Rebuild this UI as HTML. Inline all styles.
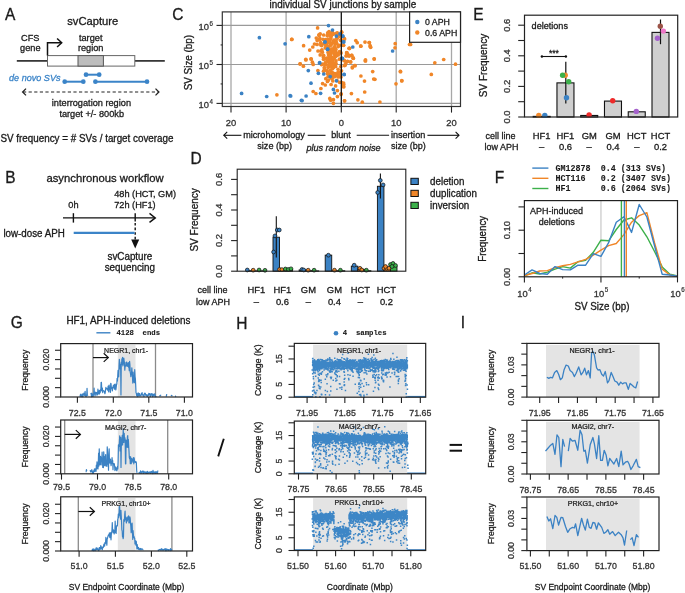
<!DOCTYPE html>
<html><head><meta charset="utf-8"><style>
html,body{margin:0;padding:0;background:#fff;}
svg{display:block;will-change:transform;}
text{font-family:"Liberation Sans", sans-serif;}
</style></head><body>
<svg width="685" height="593" viewBox="0 0 685 593">
<rect width="685" height="593" fill="#fff"/>
<text font-size="15.5" text-anchor="start" fill="#1a1a1a" stroke="#1a1a1a" stroke-width="0.3" transform="translate(5.00 20.30) scale(1 1.04)">A</text>
<text font-size="11.2" text-anchor="start" fill="#1a1a1a" stroke="#1a1a1a" stroke-width="0.3" transform="translate(67.20 25.00) scale(1 1.04)">svCapture</text>
<text font-size="9.2" text-anchor="middle" fill="#1a1a1a" stroke="#1a1a1a" stroke-width="0.291" transform="translate(30.30 40.60) scale(1 1.04)">CFS</text>
<text font-size="9.2" text-anchor="middle" fill="#1a1a1a" stroke="#1a1a1a" stroke-width="0.291" transform="translate(30.30 50.60) scale(1 1.04)">gene</text>
<text font-size="9.2" text-anchor="middle" fill="#1a1a1a" stroke="#1a1a1a" stroke-width="0.291" transform="translate(90.70 40.60) scale(1 1.04)">target</text>
<text font-size="9.2" text-anchor="middle" fill="#1a1a1a" stroke="#1a1a1a" stroke-width="0.291" transform="translate(90.70 50.60) scale(1 1.04)">region</text>
<line x1="16.8" y1="60.9" x2="47.5" y2="60.9" stroke="#222" stroke-width="1.6"/>
<line x1="134.8" y1="60.9" x2="164.8" y2="60.9" stroke="#222" stroke-width="1.6"/>
<rect x="47.5" y="55.6" width="87.3" height="10.5" fill="#fff" stroke="#666" stroke-width="1"/>
<rect x="78" y="55.6" width="25.4" height="10.5" fill="#bdbdbd" stroke="#555" stroke-width="1"/>
<path d="M47.5 55.6 V42.7 H61.4" fill="none" stroke="#111" stroke-width="1.5"/>
<path d="M57.1 38.5 L61.7 42.7 L57.1 47" fill="none" stroke="#111" stroke-width="1.5"/>
<text font-size="9.1" text-anchor="start" fill="#3b84c8" stroke="#3b84c8" stroke-width="0.287" font-style="italic" transform="translate(9.00 80.60) scale(1 1.04)">de novo SVs</text>
<line x1="86" y1="74.7" x2="99.2" y2="74.7" stroke="#3b84c8" stroke-width="2.0"/>
<circle cx="86" cy="74.7" r="2.35" fill="#3b84c8"/><circle cx="99.2" cy="74.7" r="2.35" fill="#3b84c8"/>
<line x1="64.7" y1="81.7" x2="83.3" y2="81.7" stroke="#3b84c8" stroke-width="2.0"/>
<circle cx="64.7" cy="81.7" r="2.35" fill="#3b84c8"/><circle cx="83.3" cy="81.7" r="2.35" fill="#3b84c8"/>
<line x1="95.4" y1="81.7" x2="147" y2="81.7" stroke="#3b84c8" stroke-width="2.0"/>
<circle cx="95.4" cy="81.7" r="2.35" fill="#3b84c8"/><circle cx="147" cy="81.7" r="2.35" fill="#3b84c8"/>
<line x1="23" y1="92" x2="158.5" y2="92" stroke="#222" stroke-width="1.2" stroke-dasharray="3.2,2.4"/>
<path d="M26 88.6 L22.6 92 L26 95.4" fill="none" stroke="#222" stroke-width="1.3"/>
<path d="M155.5 88.6 L158.9 92 L155.5 95.4" fill="none" stroke="#222" stroke-width="1.3"/>
<text font-size="9.2" text-anchor="middle" fill="#1a1a1a" stroke="#1a1a1a" stroke-width="0.291" transform="translate(91.40 106.00) scale(1 1.04)">interrogation region</text>
<text font-size="9.2" text-anchor="middle" fill="#1a1a1a" stroke="#1a1a1a" stroke-width="0.291" transform="translate(91.70 116.60) scale(1 1.04)">target +/- 800kb</text>
<text font-size="9.85" text-anchor="start" fill="#1a1a1a" stroke="#1a1a1a" stroke-width="0.3" transform="translate(0.50 141.60) scale(1 1.04)">SV frequency = # SVs / target coverage</text>
<text font-size="15.5" text-anchor="start" fill="#1a1a1a" stroke="#1a1a1a" stroke-width="0.3" transform="translate(5.30 183.20) scale(1 1.04)">B</text>
<text font-size="11.3" text-anchor="start" fill="#1a1a1a" stroke="#1a1a1a" stroke-width="0.3" transform="translate(46.40 182.40) scale(1 1.04)">asynchronous workflow</text>
<text font-size="9.2" text-anchor="middle" fill="#1a1a1a" stroke="#1a1a1a" stroke-width="0.291" transform="translate(73.40 207.70) scale(1 1.04)">0h</text>
<text font-size="9.2" text-anchor="start" fill="#1a1a1a" stroke="#1a1a1a" stroke-width="0.291" transform="translate(114.20 196.60) scale(1 1.04)">48h (HCT, GM)</text>
<text font-size="9.2" text-anchor="start" fill="#1a1a1a" stroke="#1a1a1a" stroke-width="0.291" transform="translate(114.20 208.20) scale(1 1.04)">72h (HF1)</text>
<line x1="63" y1="217.9" x2="155" y2="217.9" stroke="#111" stroke-width="1.4"/>
<path d="M149.5 213.4 L155.3 217.9 L149.5 222.4" fill="none" stroke="#111" stroke-width="1.4"/>
<line x1="73.4" y1="213.2" x2="73.4" y2="222.6" stroke="#111" stroke-width="1.4"/>
<line x1="135.2" y1="213.2" x2="135.2" y2="221.5" stroke="#111" stroke-width="1.4"/>
<line x1="135.2" y1="223" x2="135.2" y2="241" stroke="#111" stroke-width="1.4" stroke-dasharray="2.6,2"/>
<path d="M131.2 239.6 L139.2 239.6 L135.2 248.4 Z" fill="#111"/>
<line x1="73.7" y1="232.9" x2="134.6" y2="232.9" stroke="#3b84c8" stroke-width="2.2"/>
<text font-size="9.8" text-anchor="start" fill="#1a1a1a" stroke="#1a1a1a" stroke-width="0.3" transform="translate(3.40 236.50) scale(1 1.04)">low-dose APH</text>
<text font-size="9.85" text-anchor="middle" fill="#1a1a1a" stroke="#1a1a1a" stroke-width="0.3" transform="translate(129.90 259.50) scale(1 1.04)">svCapture</text>
<text font-size="9.85" text-anchor="middle" fill="#1a1a1a" stroke="#1a1a1a" stroke-width="0.3" transform="translate(129.80 270.90) scale(1 1.04)">sequencing</text>
<text font-size="15.5" text-anchor="start" fill="#1a1a1a" stroke="#1a1a1a" stroke-width="0.3" transform="translate(172.30 19.70) scale(1 1.04)">C</text>
<text font-size="9.9" text-anchor="start" fill="#1a1a1a" stroke="#1a1a1a" stroke-width="0.3" transform="translate(269.60 7.90) scale(1 1.04)">individual SV junctions by sample</text>
<line x1="231.00" y1="11.90" x2="231.00" y2="106.50" stroke="#a8a8a8" stroke-width="1.3"/>
<line x1="286.10" y1="11.90" x2="286.10" y2="106.50" stroke="#a8a8a8" stroke-width="1.3"/>
<line x1="396.20" y1="11.90" x2="396.20" y2="106.50" stroke="#a8a8a8" stroke-width="1.3"/>
<line x1="451.50" y1="11.90" x2="451.50" y2="106.50" stroke="#a8a8a8" stroke-width="1.3"/>
<line x1="222.30" y1="25.40" x2="460.50" y2="25.40" stroke="#9a9a9a" stroke-width="1.1"/>
<line x1="222.30" y1="64.50" x2="460.50" y2="64.50" stroke="#9a9a9a" stroke-width="1.1"/>
<line x1="222.30" y1="103.40" x2="460.50" y2="103.40" stroke="#9a9a9a" stroke-width="1.1"/>
<circle cx="291.70" cy="39.40" r="1.85" fill="#f08628" stroke="none" stroke-width="0.8"/>
<circle cx="276.90" cy="94.80" r="1.85" fill="#f08628" stroke="none" stroke-width="0.8"/>
<circle cx="300.00" cy="63.80" r="1.85" fill="#f08628" stroke="none" stroke-width="0.8"/>
<circle cx="317.60" cy="27.90" r="1.85" fill="#f08628" stroke="none" stroke-width="0.8"/>
<circle cx="337.30" cy="32.80" r="1.85" fill="#f08628" stroke="none" stroke-width="0.8"/>
<circle cx="341.70" cy="32.30" r="1.85" fill="#f08628" stroke="none" stroke-width="0.8"/>
<circle cx="291.90" cy="39.30" r="1.85" fill="#f08628" stroke="none" stroke-width="0.8"/>
<circle cx="320.20" cy="33.90" r="1.85" fill="#f08628" stroke="none" stroke-width="0.8"/>
<circle cx="323.70" cy="35.00" r="1.85" fill="#f08628" stroke="none" stroke-width="0.8"/>
<circle cx="316.30" cy="38.10" r="1.85" fill="#f08628" stroke="none" stroke-width="0.8"/>
<circle cx="319.80" cy="38.30" r="1.85" fill="#f08628" stroke="none" stroke-width="0.8"/>
<circle cx="317.20" cy="40.50" r="1.85" fill="#f08628" stroke="none" stroke-width="0.8"/>
<circle cx="320.70" cy="42.70" r="1.85" fill="#f08628" stroke="none" stroke-width="0.8"/>
<circle cx="303.60" cy="45.70" r="1.85" fill="#f08628" stroke="none" stroke-width="0.8"/>
<circle cx="314.50" cy="44.00" r="1.85" fill="#f08628" stroke="none" stroke-width="0.8"/>
<circle cx="312.80" cy="47.00" r="1.85" fill="#f08628" stroke="none" stroke-width="0.8"/>
<circle cx="309.70" cy="50.10" r="1.85" fill="#f08628" stroke="none" stroke-width="0.8"/>
<circle cx="318.00" cy="51.00" r="1.85" fill="#f08628" stroke="none" stroke-width="0.8"/>
<circle cx="320.20" cy="54.90" r="1.85" fill="#f08628" stroke="none" stroke-width="0.8"/>
<circle cx="323.30" cy="57.10" r="1.85" fill="#f08628" stroke="none" stroke-width="0.8"/>
<circle cx="305.80" cy="59.30" r="1.85" fill="#f08628" stroke="none" stroke-width="0.8"/>
<circle cx="311.00" cy="58.90" r="1.85" fill="#f08628" stroke="none" stroke-width="0.8"/>
<circle cx="344.30" cy="38.70" r="1.85" fill="#f08628" stroke="none" stroke-width="0.8"/>
<circle cx="343.30" cy="45.30" r="1.85" fill="#f08628" stroke="none" stroke-width="0.8"/>
<circle cx="329.00" cy="31.70" r="1.85" fill="#f08628" stroke="none" stroke-width="0.8"/>
<circle cx="330.70" cy="33.50" r="1.85" fill="#f08628" stroke="none" stroke-width="0.8"/>
<circle cx="349.10" cy="48.30" r="1.85" fill="#f08628" stroke="none" stroke-width="0.8"/>
<circle cx="346.90" cy="52.70" r="1.85" fill="#f08628" stroke="none" stroke-width="0.8"/>
<circle cx="348.20" cy="54.90" r="1.85" fill="#f08628" stroke="none" stroke-width="0.8"/>
<circle cx="305.90" cy="59.90" r="1.85" fill="#f08628" stroke="none" stroke-width="0.8"/>
<circle cx="311.30" cy="59.00" r="1.85" fill="#f08628" stroke="none" stroke-width="0.8"/>
<circle cx="300.30" cy="63.90" r="1.85" fill="#f08628" stroke="none" stroke-width="0.8"/>
<circle cx="303.40" cy="66.20" r="1.85" fill="#f08628" stroke="none" stroke-width="0.8"/>
<circle cx="312.40" cy="62.20" r="1.85" fill="#f08628" stroke="none" stroke-width="0.8"/>
<circle cx="313.20" cy="64.40" r="1.85" fill="#f08628" stroke="none" stroke-width="0.8"/>
<circle cx="317.90" cy="70.60" r="1.85" fill="#f08628" stroke="none" stroke-width="0.8"/>
<circle cx="325.80" cy="78.70" r="1.85" fill="#f08628" stroke="none" stroke-width="0.8"/>
<circle cx="328.50" cy="80.00" r="1.85" fill="#f08628" stroke="none" stroke-width="0.8"/>
<circle cx="322.60" cy="83.60" r="1.85" fill="#f08628" stroke="none" stroke-width="0.8"/>
<circle cx="325.30" cy="85.00" r="1.85" fill="#f08628" stroke="none" stroke-width="0.8"/>
<circle cx="331.10" cy="84.50" r="1.85" fill="#f08628" stroke="none" stroke-width="0.8"/>
<circle cx="335.60" cy="85.90" r="1.85" fill="#f08628" stroke="none" stroke-width="0.8"/>
<circle cx="320.90" cy="88.50" r="1.85" fill="#f08628" stroke="none" stroke-width="0.8"/>
<circle cx="337.40" cy="90.60" r="1.85" fill="#f08628" stroke="none" stroke-width="0.8"/>
<circle cx="341.00" cy="94.30" r="1.85" fill="#f08628" stroke="none" stroke-width="0.8"/>
<circle cx="313.20" cy="91.50" r="1.85" fill="#f08628" stroke="none" stroke-width="0.8"/>
<circle cx="315.90" cy="93.50" r="1.85" fill="#f08628" stroke="none" stroke-width="0.8"/>
<circle cx="337.40" cy="96.60" r="1.85" fill="#f08628" stroke="none" stroke-width="0.8"/>
<circle cx="329.80" cy="98.40" r="1.85" fill="#f08628" stroke="none" stroke-width="0.8"/>
<circle cx="330.70" cy="100.20" r="1.85" fill="#f08628" stroke="none" stroke-width="0.8"/>
<circle cx="333.40" cy="99.70" r="1.85" fill="#f08628" stroke="none" stroke-width="0.8"/>
<circle cx="333.40" cy="103.30" r="1.85" fill="#f08628" stroke="none" stroke-width="0.8"/>
<circle cx="344.50" cy="100.80" r="1.85" fill="#f08628" stroke="none" stroke-width="0.8"/>
<circle cx="339.60" cy="82.30" r="1.85" fill="#f08628" stroke="none" stroke-width="0.8"/>
<circle cx="343.70" cy="84.50" r="1.85" fill="#f08628" stroke="none" stroke-width="0.8"/>
<circle cx="343.70" cy="86.70" r="1.85" fill="#f08628" stroke="none" stroke-width="0.8"/>
<circle cx="341.40" cy="82.30" r="1.85" fill="#f08628" stroke="none" stroke-width="0.8"/>
<circle cx="341.50" cy="31.90" r="1.85" fill="#f08628" stroke="none" stroke-width="0.8"/>
<circle cx="344.60" cy="39.10" r="1.85" fill="#f08628" stroke="none" stroke-width="0.8"/>
<circle cx="343.60" cy="45.20" r="1.85" fill="#f08628" stroke="none" stroke-width="0.8"/>
<circle cx="349.40" cy="48.30" r="1.85" fill="#f08628" stroke="none" stroke-width="0.8"/>
<circle cx="355.80" cy="40.60" r="1.85" fill="#f08628" stroke="none" stroke-width="0.8"/>
<circle cx="357.20" cy="42.70" r="1.85" fill="#f08628" stroke="none" stroke-width="0.8"/>
<circle cx="360.90" cy="46.20" r="1.85" fill="#f08628" stroke="none" stroke-width="0.8"/>
<circle cx="365.00" cy="42.10" r="1.85" fill="#f08628" stroke="none" stroke-width="0.8"/>
<circle cx="369.40" cy="42.50" r="1.85" fill="#f08628" stroke="none" stroke-width="0.8"/>
<circle cx="370.10" cy="45.70" r="1.85" fill="#f08628" stroke="none" stroke-width="0.8"/>
<circle cx="370.70" cy="47.30" r="1.85" fill="#f08628" stroke="none" stroke-width="0.8"/>
<circle cx="395.20" cy="43.70" r="1.85" fill="#f08628" stroke="none" stroke-width="0.8"/>
<circle cx="395.00" cy="47.80" r="1.85" fill="#f08628" stroke="none" stroke-width="0.8"/>
<circle cx="409.50" cy="44.50" r="1.85" fill="#f08628" stroke="none" stroke-width="0.8"/>
<circle cx="341.00" cy="52.90" r="1.85" fill="#f08628" stroke="none" stroke-width="0.8"/>
<circle cx="346.60" cy="52.90" r="1.85" fill="#f08628" stroke="none" stroke-width="0.8"/>
<circle cx="347.20" cy="55.40" r="1.85" fill="#f08628" stroke="none" stroke-width="0.8"/>
<circle cx="349.20" cy="56.10" r="1.85" fill="#f08628" stroke="none" stroke-width="0.8"/>
<circle cx="351.80" cy="55.40" r="1.85" fill="#f08628" stroke="none" stroke-width="0.8"/>
<circle cx="353.30" cy="58.00" r="1.85" fill="#f08628" stroke="none" stroke-width="0.8"/>
<circle cx="365.50" cy="59.80" r="1.85" fill="#f08628" stroke="none" stroke-width="0.8"/>
<circle cx="374.20" cy="58.80" r="1.85" fill="#f08628" stroke="none" stroke-width="0.8"/>
<circle cx="353.30" cy="58.30" r="1.85" fill="#f08628" stroke="none" stroke-width="0.8"/>
<circle cx="365.50" cy="60.90" r="1.85" fill="#f08628" stroke="none" stroke-width="0.8"/>
<circle cx="374.20" cy="59.10" r="1.85" fill="#f08628" stroke="none" stroke-width="0.8"/>
<circle cx="344.10" cy="60.60" r="1.85" fill="#f08628" stroke="none" stroke-width="0.8"/>
<circle cx="347.20" cy="61.60" r="1.85" fill="#f08628" stroke="none" stroke-width="0.8"/>
<circle cx="350.70" cy="61.90" r="1.85" fill="#f08628" stroke="none" stroke-width="0.8"/>
<circle cx="345.10" cy="65.20" r="1.85" fill="#f08628" stroke="none" stroke-width="0.8"/>
<circle cx="352.30" cy="67.80" r="1.85" fill="#f08628" stroke="none" stroke-width="0.8"/>
<circle cx="355.10" cy="65.70" r="1.85" fill="#f08628" stroke="none" stroke-width="0.8"/>
<circle cx="341.50" cy="70.80" r="1.85" fill="#f08628" stroke="none" stroke-width="0.8"/>
<circle cx="341.00" cy="77.00" r="1.85" fill="#f08628" stroke="none" stroke-width="0.8"/>
<circle cx="360.90" cy="76.00" r="1.85" fill="#f08628" stroke="none" stroke-width="0.8"/>
<circle cx="372.70" cy="71.60" r="1.85" fill="#f08628" stroke="none" stroke-width="0.8"/>
<circle cx="373.70" cy="79.00" r="1.85" fill="#f08628" stroke="none" stroke-width="0.8"/>
<circle cx="374.90" cy="79.30" r="1.85" fill="#f08628" stroke="none" stroke-width="0.8"/>
<circle cx="364.50" cy="81.10" r="1.85" fill="#f08628" stroke="none" stroke-width="0.8"/>
<circle cx="400.30" cy="71.40" r="1.85" fill="#f08628" stroke="none" stroke-width="0.8"/>
<circle cx="401.80" cy="80.80" r="1.85" fill="#f08628" stroke="none" stroke-width="0.8"/>
<circle cx="396.00" cy="83.80" r="1.85" fill="#f08628" stroke="none" stroke-width="0.8"/>
<circle cx="343.60" cy="83.10" r="1.85" fill="#f08628" stroke="none" stroke-width="0.8"/>
<circle cx="343.60" cy="86.70" r="1.85" fill="#f08628" stroke="none" stroke-width="0.8"/>
<circle cx="341.20" cy="93.80" r="1.85" fill="#f08628" stroke="none" stroke-width="0.8"/>
<circle cx="351.40" cy="93.60" r="1.85" fill="#f08628" stroke="none" stroke-width="0.8"/>
<circle cx="364.70" cy="92.00" r="1.85" fill="#f08628" stroke="none" stroke-width="0.8"/>
<circle cx="344.60" cy="100.80" r="1.85" fill="#f08628" stroke="none" stroke-width="0.8"/>
<circle cx="357.90" cy="99.80" r="1.85" fill="#f08628" stroke="none" stroke-width="0.8"/>
<circle cx="362.30" cy="102.20" r="1.85" fill="#f08628" stroke="none" stroke-width="0.8"/>
<circle cx="379.90" cy="102.00" r="1.85" fill="#f08628" stroke="none" stroke-width="0.8"/>
<circle cx="410.60" cy="44.50" r="1.85" fill="#f08628" stroke="none" stroke-width="0.8"/>
<circle cx="434.80" cy="62.80" r="1.85" fill="#f08628" stroke="none" stroke-width="0.8"/>
<circle cx="443.70" cy="59.50" r="1.85" fill="#f08628" stroke="none" stroke-width="0.8"/>
<circle cx="455.50" cy="64.20" r="1.85" fill="#f08628" stroke="none" stroke-width="0.8"/>
<circle cx="431.30" cy="74.40" r="1.85" fill="#f08628" stroke="none" stroke-width="0.8"/>
<circle cx="400.60" cy="71.70" r="1.85" fill="#f08628" stroke="none" stroke-width="0.8"/>
<circle cx="401.80" cy="80.70" r="1.85" fill="#f08628" stroke="none" stroke-width="0.8"/>
<circle cx="360.60" cy="46.10" r="1.85" fill="#f08628" stroke="none" stroke-width="0.8"/>
<circle cx="369.10" cy="42.60" r="1.85" fill="#f08628" stroke="none" stroke-width="0.8"/>
<circle cx="370.30" cy="46.60" r="1.85" fill="#f08628" stroke="none" stroke-width="0.8"/>
<circle cx="349.50" cy="48.40" r="1.85" fill="#f08628" stroke="none" stroke-width="0.8"/>
<circle cx="339.50" cy="51.60" r="1.85" fill="#f08628" stroke="none" stroke-width="0.8"/>
<circle cx="346.70" cy="53.10" r="1.85" fill="#f08628" stroke="none" stroke-width="0.8"/>
<circle cx="347.10" cy="55.40" r="1.85" fill="#f08628" stroke="none" stroke-width="0.8"/>
<circle cx="351.70" cy="55.40" r="1.85" fill="#f08628" stroke="none" stroke-width="0.8"/>
<circle cx="353.20" cy="58.00" r="1.85" fill="#f08628" stroke="none" stroke-width="0.8"/>
<circle cx="344.10" cy="60.30" r="1.85" fill="#f08628" stroke="none" stroke-width="0.8"/>
<circle cx="347.50" cy="61.30" r="1.85" fill="#f08628" stroke="none" stroke-width="0.8"/>
<circle cx="350.50" cy="61.80" r="1.85" fill="#f08628" stroke="none" stroke-width="0.8"/>
<circle cx="345.60" cy="63.70" r="1.85" fill="#f08628" stroke="none" stroke-width="0.8"/>
<circle cx="344.50" cy="65.60" r="1.85" fill="#f08628" stroke="none" stroke-width="0.8"/>
<circle cx="352.40" cy="67.10" r="1.85" fill="#f08628" stroke="none" stroke-width="0.8"/>
<circle cx="354.70" cy="65.60" r="1.85" fill="#f08628" stroke="none" stroke-width="0.8"/>
<circle cx="365.30" cy="60.70" r="1.85" fill="#f08628" stroke="none" stroke-width="0.8"/>
<circle cx="346.00" cy="56.00" r="1.85" fill="#f08628" stroke="none" stroke-width="0.8"/>
<circle cx="349.00" cy="55.50" r="1.85" fill="#f08628" stroke="none" stroke-width="0.8"/>
<circle cx="326.66" cy="45.41" r="1.85" fill="#f08628" stroke="none" stroke-width="0.8"/>
<circle cx="330.75" cy="57.37" r="1.85" fill="#f08628" stroke="none" stroke-width="0.8"/>
<circle cx="324.32" cy="67.56" r="1.85" fill="#f08628" stroke="none" stroke-width="0.8"/>
<circle cx="324.35" cy="70.53" r="1.85" fill="#f08628" stroke="none" stroke-width="0.8"/>
<circle cx="328.84" cy="60.50" r="1.85" fill="#f08628" stroke="none" stroke-width="0.8"/>
<circle cx="328.79" cy="74.70" r="1.85" fill="#f08628" stroke="none" stroke-width="0.8"/>
<circle cx="328.22" cy="67.35" r="1.85" fill="#f08628" stroke="none" stroke-width="0.8"/>
<circle cx="332.82" cy="73.01" r="1.85" fill="#f08628" stroke="none" stroke-width="0.8"/>
<circle cx="334.46" cy="48.97" r="1.85" fill="#f08628" stroke="none" stroke-width="0.8"/>
<circle cx="331.52" cy="65.78" r="1.85" fill="#f08628" stroke="none" stroke-width="0.8"/>
<circle cx="335.56" cy="33.76" r="1.85" fill="#f08628" stroke="none" stroke-width="0.8"/>
<circle cx="328.86" cy="59.96" r="1.85" fill="#f08628" stroke="none" stroke-width="0.8"/>
<circle cx="338.06" cy="69.23" r="1.85" fill="#f08628" stroke="none" stroke-width="0.8"/>
<circle cx="334.46" cy="64.07" r="1.85" fill="#f08628" stroke="none" stroke-width="0.8"/>
<circle cx="341.06" cy="39.82" r="1.85" fill="#f08628" stroke="none" stroke-width="0.8"/>
<circle cx="335.26" cy="44.21" r="1.85" fill="#f08628" stroke="none" stroke-width="0.8"/>
<circle cx="336.75" cy="38.37" r="1.85" fill="#f08628" stroke="none" stroke-width="0.8"/>
<circle cx="322.39" cy="52.13" r="1.85" fill="#f08628" stroke="none" stroke-width="0.8"/>
<circle cx="328.36" cy="51.92" r="1.85" fill="#f08628" stroke="none" stroke-width="0.8"/>
<circle cx="329.24" cy="32.78" r="1.85" fill="#f08628" stroke="none" stroke-width="0.8"/>
<circle cx="327.34" cy="42.75" r="1.85" fill="#f08628" stroke="none" stroke-width="0.8"/>
<circle cx="335.21" cy="48.16" r="1.85" fill="#f08628" stroke="none" stroke-width="0.8"/>
<circle cx="340.80" cy="66.48" r="1.85" fill="#f08628" stroke="none" stroke-width="0.8"/>
<circle cx="333.24" cy="67.30" r="1.85" fill="#f08628" stroke="none" stroke-width="0.8"/>
<circle cx="325.31" cy="40.47" r="1.85" fill="#f08628" stroke="none" stroke-width="0.8"/>
<circle cx="333.18" cy="42.59" r="1.85" fill="#f08628" stroke="none" stroke-width="0.8"/>
<circle cx="330.43" cy="34.61" r="1.85" fill="#f08628" stroke="none" stroke-width="0.8"/>
<circle cx="331.45" cy="43.60" r="1.85" fill="#f08628" stroke="none" stroke-width="0.8"/>
<circle cx="323.57" cy="59.30" r="1.85" fill="#f08628" stroke="none" stroke-width="0.8"/>
<circle cx="329.77" cy="40.95" r="1.85" fill="#f08628" stroke="none" stroke-width="0.8"/>
<circle cx="332.66" cy="58.59" r="1.85" fill="#f08628" stroke="none" stroke-width="0.8"/>
<circle cx="336.67" cy="74.45" r="1.85" fill="#f08628" stroke="none" stroke-width="0.8"/>
<circle cx="337.32" cy="35.31" r="1.85" fill="#f08628" stroke="none" stroke-width="0.8"/>
<circle cx="330.47" cy="55.89" r="1.85" fill="#f08628" stroke="none" stroke-width="0.8"/>
<circle cx="338.20" cy="54.90" r="1.85" fill="#f08628" stroke="none" stroke-width="0.8"/>
<circle cx="334.88" cy="73.60" r="1.85" fill="#f08628" stroke="none" stroke-width="0.8"/>
<circle cx="331.30" cy="52.85" r="1.85" fill="#f08628" stroke="none" stroke-width="0.8"/>
<circle cx="328.70" cy="53.12" r="1.85" fill="#f08628" stroke="none" stroke-width="0.8"/>
<circle cx="321.95" cy="49.75" r="1.85" fill="#f08628" stroke="none" stroke-width="0.8"/>
<circle cx="335.92" cy="55.35" r="1.85" fill="#f08628" stroke="none" stroke-width="0.8"/>
<circle cx="328.62" cy="61.40" r="1.85" fill="#f08628" stroke="none" stroke-width="0.8"/>
<circle cx="335.99" cy="60.84" r="1.85" fill="#f08628" stroke="none" stroke-width="0.8"/>
<circle cx="328.81" cy="54.88" r="1.85" fill="#f08628" stroke="none" stroke-width="0.8"/>
<circle cx="333.22" cy="34.14" r="1.85" fill="#f08628" stroke="none" stroke-width="0.8"/>
<circle cx="324.60" cy="68.49" r="1.85" fill="#f08628" stroke="none" stroke-width="0.8"/>
<circle cx="328.54" cy="46.84" r="1.85" fill="#f08628" stroke="none" stroke-width="0.8"/>
<circle cx="336.06" cy="63.72" r="1.85" fill="#f08628" stroke="none" stroke-width="0.8"/>
<circle cx="329.06" cy="59.01" r="1.85" fill="#f08628" stroke="none" stroke-width="0.8"/>
<circle cx="328.55" cy="54.64" r="1.85" fill="#f08628" stroke="none" stroke-width="0.8"/>
<circle cx="323.56" cy="71.19" r="1.85" fill="#f08628" stroke="none" stroke-width="0.8"/>
<circle cx="334.10" cy="53.92" r="1.85" fill="#f08628" stroke="none" stroke-width="0.8"/>
<circle cx="319.68" cy="39.69" r="1.85" fill="#f08628" stroke="none" stroke-width="0.8"/>
<circle cx="328.11" cy="76.52" r="1.85" fill="#f08628" stroke="none" stroke-width="0.8"/>
<circle cx="335.70" cy="42.93" r="1.85" fill="#f08628" stroke="none" stroke-width="0.8"/>
<circle cx="336.82" cy="43.48" r="1.85" fill="#f08628" stroke="none" stroke-width="0.8"/>
<circle cx="332.21" cy="75.72" r="1.85" fill="#f08628" stroke="none" stroke-width="0.8"/>
<circle cx="338.46" cy="76.91" r="1.85" fill="#f08628" stroke="none" stroke-width="0.8"/>
<circle cx="334.07" cy="49.85" r="1.85" fill="#f08628" stroke="none" stroke-width="0.8"/>
<circle cx="333.47" cy="41.25" r="1.85" fill="#f08628" stroke="none" stroke-width="0.8"/>
<circle cx="332.53" cy="76.37" r="1.85" fill="#f08628" stroke="none" stroke-width="0.8"/>
<circle cx="339.19" cy="74.79" r="1.85" fill="#f08628" stroke="none" stroke-width="0.8"/>
<circle cx="336.00" cy="52.39" r="1.85" fill="#f08628" stroke="none" stroke-width="0.8"/>
<circle cx="334.30" cy="46.85" r="1.85" fill="#f08628" stroke="none" stroke-width="0.8"/>
<circle cx="333.98" cy="40.22" r="1.85" fill="#f08628" stroke="none" stroke-width="0.8"/>
<circle cx="331.30" cy="64.94" r="1.85" fill="#f08628" stroke="none" stroke-width="0.8"/>
<circle cx="332.45" cy="72.79" r="1.85" fill="#f08628" stroke="none" stroke-width="0.8"/>
<circle cx="326.53" cy="58.76" r="1.85" fill="#f08628" stroke="none" stroke-width="0.8"/>
<circle cx="317.13" cy="44.41" r="1.85" fill="#f08628" stroke="none" stroke-width="0.8"/>
<circle cx="338.01" cy="72.26" r="1.85" fill="#f08628" stroke="none" stroke-width="0.8"/>
<circle cx="335.02" cy="64.84" r="1.85" fill="#f08628" stroke="none" stroke-width="0.8"/>
<circle cx="334.82" cy="54.56" r="1.85" fill="#f08628" stroke="none" stroke-width="0.8"/>
<circle cx="336.36" cy="55.69" r="1.85" fill="#f08628" stroke="none" stroke-width="0.8"/>
<circle cx="327.45" cy="81.41" r="1.85" fill="#f08628" stroke="none" stroke-width="0.8"/>
<circle cx="332.53" cy="77.66" r="1.85" fill="#f08628" stroke="none" stroke-width="0.8"/>
<circle cx="325.89" cy="43.87" r="1.85" fill="#f08628" stroke="none" stroke-width="0.8"/>
<circle cx="328.71" cy="57.61" r="1.85" fill="#f08628" stroke="none" stroke-width="0.8"/>
<circle cx="341.93" cy="45.21" r="1.85" fill="#f08628" stroke="none" stroke-width="0.8"/>
<circle cx="333.90" cy="74.49" r="1.85" fill="#f08628" stroke="none" stroke-width="0.8"/>
<circle cx="321.72" cy="45.54" r="1.85" fill="#f08628" stroke="none" stroke-width="0.8"/>
<circle cx="327.41" cy="73.54" r="1.85" fill="#f08628" stroke="none" stroke-width="0.8"/>
<circle cx="325.62" cy="39.48" r="1.85" fill="#f08628" stroke="none" stroke-width="0.8"/>
<circle cx="325.85" cy="45.41" r="1.85" fill="#f08628" stroke="none" stroke-width="0.8"/>
<circle cx="331.47" cy="50.66" r="1.85" fill="#f08628" stroke="none" stroke-width="0.8"/>
<circle cx="327.23" cy="35.61" r="1.85" fill="#f08628" stroke="none" stroke-width="0.8"/>
<circle cx="324.90" cy="64.31" r="1.85" fill="#f08628" stroke="none" stroke-width="0.8"/>
<circle cx="332.75" cy="60.96" r="1.85" fill="#f08628" stroke="none" stroke-width="0.8"/>
<circle cx="330.95" cy="37.89" r="1.85" fill="#f08628" stroke="none" stroke-width="0.8"/>
<circle cx="331.41" cy="35.70" r="1.85" fill="#f08628" stroke="none" stroke-width="0.8"/>
<circle cx="329.47" cy="61.16" r="1.85" fill="#f08628" stroke="none" stroke-width="0.8"/>
<circle cx="332.45" cy="32.36" r="1.85" fill="#f08628" stroke="none" stroke-width="0.8"/>
<circle cx="333.28" cy="63.98" r="1.85" fill="#f08628" stroke="none" stroke-width="0.8"/>
<circle cx="339.46" cy="36.28" r="1.85" fill="#f08628" stroke="none" stroke-width="0.8"/>
<circle cx="338.17" cy="46.54" r="1.85" fill="#f08628" stroke="none" stroke-width="0.8"/>
<circle cx="331.92" cy="67.35" r="1.85" fill="#f08628" stroke="none" stroke-width="0.8"/>
<circle cx="332.81" cy="80.94" r="1.85" fill="#f08628" stroke="none" stroke-width="0.8"/>
<circle cx="329.65" cy="55.62" r="1.85" fill="#f08628" stroke="none" stroke-width="0.8"/>
<circle cx="329.41" cy="64.16" r="1.85" fill="#f08628" stroke="none" stroke-width="0.8"/>
<circle cx="323.02" cy="39.30" r="1.85" fill="#f08628" stroke="none" stroke-width="0.8"/>
<circle cx="323.64" cy="55.36" r="1.85" fill="#f08628" stroke="none" stroke-width="0.8"/>
<circle cx="329.21" cy="49.02" r="1.85" fill="#f08628" stroke="none" stroke-width="0.8"/>
<circle cx="339.38" cy="59.18" r="1.85" fill="#f08628" stroke="none" stroke-width="0.8"/>
<circle cx="328.15" cy="52.53" r="1.85" fill="#f08628" stroke="none" stroke-width="0.8"/>
<circle cx="331.85" cy="73.30" r="1.85" fill="#f08628" stroke="none" stroke-width="0.8"/>
<circle cx="332.08" cy="48.88" r="1.85" fill="#f08628" stroke="none" stroke-width="0.8"/>
<circle cx="335.90" cy="49.60" r="1.85" fill="#f08628" stroke="none" stroke-width="0.8"/>
<circle cx="335.51" cy="56.54" r="1.85" fill="#f08628" stroke="none" stroke-width="0.8"/>
<circle cx="333.22" cy="63.23" r="1.85" fill="#f08628" stroke="none" stroke-width="0.8"/>
<circle cx="335.45" cy="74.69" r="1.85" fill="#f08628" stroke="none" stroke-width="0.8"/>
<circle cx="327.86" cy="41.92" r="1.85" fill="#f08628" stroke="none" stroke-width="0.8"/>
<circle cx="340.43" cy="40.33" r="1.85" fill="#f08628" stroke="none" stroke-width="0.8"/>
<circle cx="329.10" cy="61.92" r="1.85" fill="#f08628" stroke="none" stroke-width="0.8"/>
<circle cx="328.81" cy="40.83" r="1.85" fill="#f08628" stroke="none" stroke-width="0.8"/>
<circle cx="327.86" cy="39.14" r="1.85" fill="#f08628" stroke="none" stroke-width="0.8"/>
<circle cx="331.24" cy="59.90" r="1.85" fill="#f08628" stroke="none" stroke-width="0.8"/>
<circle cx="331.38" cy="57.68" r="1.85" fill="#f08628" stroke="none" stroke-width="0.8"/>
<circle cx="326.26" cy="58.00" r="1.85" fill="#f08628" stroke="none" stroke-width="0.8"/>
<circle cx="320.82" cy="44.96" r="1.85" fill="#f08628" stroke="none" stroke-width="0.8"/>
<circle cx="335.60" cy="66.43" r="1.85" fill="#f08628" stroke="none" stroke-width="0.8"/>
<circle cx="330.95" cy="51.84" r="1.85" fill="#f08628" stroke="none" stroke-width="0.8"/>
<circle cx="326.16" cy="64.84" r="1.85" fill="#f08628" stroke="none" stroke-width="0.8"/>
<circle cx="320.77" cy="51.02" r="1.85" fill="#f08628" stroke="none" stroke-width="0.8"/>
<circle cx="329.49" cy="33.06" r="1.85" fill="#f08628" stroke="none" stroke-width="0.8"/>
<circle cx="334.21" cy="58.57" r="1.85" fill="#f08628" stroke="none" stroke-width="0.8"/>
<circle cx="331.20" cy="71.66" r="1.85" fill="#f08628" stroke="none" stroke-width="0.8"/>
<circle cx="332.73" cy="62.23" r="1.85" fill="#f08628" stroke="none" stroke-width="0.8"/>
<circle cx="330.97" cy="45.07" r="1.85" fill="#f08628" stroke="none" stroke-width="0.8"/>
<circle cx="330.20" cy="57.99" r="1.85" fill="#f08628" stroke="none" stroke-width="0.8"/>
<circle cx="336.30" cy="33.46" r="1.85" fill="#f08628" stroke="none" stroke-width="0.8"/>
<circle cx="334.72" cy="53.88" r="1.85" fill="#f08628" stroke="none" stroke-width="0.8"/>
<circle cx="330.40" cy="55.40" r="1.85" fill="#f08628" stroke="none" stroke-width="0.8"/>
<circle cx="332.17" cy="64.83" r="1.85" fill="#f08628" stroke="none" stroke-width="0.8"/>
<circle cx="329.74" cy="52.47" r="1.85" fill="#f08628" stroke="none" stroke-width="0.8"/>
<circle cx="322.69" cy="64.18" r="1.85" fill="#f08628" stroke="none" stroke-width="0.8"/>
<circle cx="327.15" cy="70.72" r="1.85" fill="#f08628" stroke="none" stroke-width="0.8"/>
<circle cx="326.84" cy="59.37" r="1.85" fill="#f08628" stroke="none" stroke-width="0.8"/>
<circle cx="331.86" cy="49.95" r="1.85" fill="#f08628" stroke="none" stroke-width="0.8"/>
<circle cx="336.10" cy="41.26" r="1.85" fill="#f08628" stroke="none" stroke-width="0.8"/>
<circle cx="334.52" cy="51.86" r="1.85" fill="#f08628" stroke="none" stroke-width="0.8"/>
<circle cx="324.15" cy="43.32" r="1.85" fill="#f08628" stroke="none" stroke-width="0.8"/>
<circle cx="339.01" cy="45.38" r="1.85" fill="#f08628" stroke="none" stroke-width="0.8"/>
<circle cx="330.56" cy="44.79" r="1.85" fill="#f08628" stroke="none" stroke-width="0.8"/>
<circle cx="331.60" cy="58.83" r="1.85" fill="#f08628" stroke="none" stroke-width="0.8"/>
<circle cx="336.91" cy="80.44" r="1.85" fill="#f08628" stroke="none" stroke-width="0.8"/>
<circle cx="333.37" cy="67.35" r="1.85" fill="#f08628" stroke="none" stroke-width="0.8"/>
<circle cx="325.26" cy="47.94" r="1.85" fill="#f08628" stroke="none" stroke-width="0.8"/>
<circle cx="326.96" cy="45.54" r="1.85" fill="#f08628" stroke="none" stroke-width="0.8"/>
<circle cx="331.41" cy="72.86" r="1.85" fill="#f08628" stroke="none" stroke-width="0.8"/>
<circle cx="327.69" cy="32.96" r="1.85" fill="#f08628" stroke="none" stroke-width="0.8"/>
<circle cx="338.26" cy="53.61" r="1.85" fill="#f08628" stroke="none" stroke-width="0.8"/>
<circle cx="332.28" cy="74.64" r="1.85" fill="#f08628" stroke="none" stroke-width="0.8"/>
<circle cx="321.48" cy="64.62" r="1.85" fill="#f08628" stroke="none" stroke-width="0.8"/>
<circle cx="329.98" cy="35.67" r="1.85" fill="#f08628" stroke="none" stroke-width="0.8"/>
<circle cx="329.80" cy="34.29" r="1.85" fill="#f08628" stroke="none" stroke-width="0.8"/>
<circle cx="331.97" cy="62.16" r="1.85" fill="#f08628" stroke="none" stroke-width="0.8"/>
<circle cx="330.36" cy="70.10" r="1.85" fill="#f08628" stroke="none" stroke-width="0.8"/>
<circle cx="319.09" cy="35.38" r="1.85" fill="#f08628" stroke="none" stroke-width="0.8"/>
<circle cx="325.67" cy="62.34" r="1.85" fill="#f08628" stroke="none" stroke-width="0.8"/>
<circle cx="334.42" cy="76.70" r="1.85" fill="#f08628" stroke="none" stroke-width="0.8"/>
<circle cx="328.48" cy="46.69" r="1.85" fill="#f08628" stroke="none" stroke-width="0.8"/>
<circle cx="332.51" cy="68.64" r="1.85" fill="#f08628" stroke="none" stroke-width="0.8"/>
<circle cx="330.22" cy="39.62" r="1.85" fill="#f08628" stroke="none" stroke-width="0.8"/>
<circle cx="330.35" cy="63.55" r="1.85" fill="#f08628" stroke="none" stroke-width="0.8"/>
<circle cx="330.64" cy="43.30" r="1.85" fill="#f08628" stroke="none" stroke-width="0.8"/>
<circle cx="321.66" cy="44.86" r="1.85" fill="#f08628" stroke="none" stroke-width="0.8"/>
<circle cx="331.89" cy="78.37" r="1.85" fill="#f08628" stroke="none" stroke-width="0.8"/>
<circle cx="329.15" cy="65.66" r="1.85" fill="#f08628" stroke="none" stroke-width="0.8"/>
<circle cx="336.77" cy="75.96" r="1.85" fill="#f08628" stroke="none" stroke-width="0.8"/>
<circle cx="340.15" cy="72.10" r="1.85" fill="#f08628" stroke="none" stroke-width="0.8"/>
<circle cx="337.01" cy="38.62" r="1.85" fill="#f08628" stroke="none" stroke-width="0.8"/>
<circle cx="328.00" cy="72.55" r="1.85" fill="#f08628" stroke="none" stroke-width="0.8"/>
<circle cx="329.13" cy="64.27" r="1.85" fill="#f08628" stroke="none" stroke-width="0.8"/>
<circle cx="332.89" cy="57.66" r="1.85" fill="#f08628" stroke="none" stroke-width="0.8"/>
<circle cx="318.95" cy="34.74" r="1.85" fill="#f08628" stroke="none" stroke-width="0.8"/>
<circle cx="331.14" cy="77.93" r="1.85" fill="#f08628" stroke="none" stroke-width="0.8"/>
<circle cx="328.70" cy="47.76" r="1.85" fill="#f08628" stroke="none" stroke-width="0.8"/>
<circle cx="259.40" cy="37.70" r="1.85" fill="#3b82c4" stroke="none" stroke-width="0.8"/>
<circle cx="285.10" cy="43.80" r="1.85" fill="#3b82c4" stroke="none" stroke-width="0.8"/>
<circle cx="241.60" cy="93.40" r="1.85" fill="#3b82c4" stroke="none" stroke-width="0.8"/>
<circle cx="266.70" cy="96.50" r="1.85" fill="#3b82c4" stroke="none" stroke-width="0.8"/>
<circle cx="290.10" cy="95.70" r="1.85" fill="#3b82c4" stroke="none" stroke-width="0.8"/>
<circle cx="301.40" cy="100.30" r="1.85" fill="#3b82c4" stroke="none" stroke-width="0.8"/>
<circle cx="328.50" cy="25.60" r="1.85" fill="#3b82c4" stroke="none" stroke-width="0.8"/>
<circle cx="332.50" cy="30.00" r="1.85" fill="#3b82c4" stroke="none" stroke-width="0.8"/>
<circle cx="308.80" cy="36.70" r="1.85" fill="#3b82c4" stroke="none" stroke-width="0.8"/>
<circle cx="324.90" cy="42.00" r="1.85" fill="#3b82c4" stroke="none" stroke-width="0.8"/>
<circle cx="327.70" cy="49.20" r="1.85" fill="#3b82c4" stroke="none" stroke-width="0.8"/>
<circle cx="342.60" cy="36.10" r="1.85" fill="#3b82c4" stroke="none" stroke-width="0.8"/>
<circle cx="343.60" cy="41.80" r="1.85" fill="#3b82c4" stroke="none" stroke-width="0.8"/>
<circle cx="342.40" cy="58.40" r="1.85" fill="#3b82c4" stroke="none" stroke-width="0.8"/>
<circle cx="319.50" cy="63.00" r="1.85" fill="#3b82c4" stroke="none" stroke-width="0.8"/>
<circle cx="308.30" cy="70.60" r="1.85" fill="#3b82c4" stroke="none" stroke-width="0.8"/>
<circle cx="318.40" cy="73.30" r="1.85" fill="#3b82c4" stroke="none" stroke-width="0.8"/>
<circle cx="323.80" cy="74.00" r="1.85" fill="#3b82c4" stroke="none" stroke-width="0.8"/>
<circle cx="330.20" cy="76.60" r="1.85" fill="#3b82c4" stroke="none" stroke-width="0.8"/>
<circle cx="336.50" cy="80.80" r="1.85" fill="#3b82c4" stroke="none" stroke-width="0.8"/>
<circle cx="311.00" cy="83.20" r="1.85" fill="#3b82c4" stroke="none" stroke-width="0.8"/>
<circle cx="333.40" cy="89.40" r="1.85" fill="#3b82c4" stroke="none" stroke-width="0.8"/>
<circle cx="334.50" cy="93.00" r="1.85" fill="#3b82c4" stroke="none" stroke-width="0.8"/>
<circle cx="320.60" cy="93.30" r="1.85" fill="#3b82c4" stroke="none" stroke-width="0.8"/>
<circle cx="306.10" cy="96.00" r="1.85" fill="#3b82c4" stroke="none" stroke-width="0.8"/>
<circle cx="302.10" cy="100.60" r="1.85" fill="#3b82c4" stroke="none" stroke-width="0.8"/>
<circle cx="290.70" cy="96.00" r="1.85" fill="#3b82c4" stroke="none" stroke-width="0.8"/>
<circle cx="344.10" cy="74.50" r="1.85" fill="#3b82c4" stroke="none" stroke-width="0.8"/>
<circle cx="341.90" cy="58.60" r="1.85" fill="#3b82c4" stroke="none" stroke-width="0.8"/>
<circle cx="352.80" cy="47.00" r="1.85" fill="#3b82c4" stroke="none" stroke-width="0.8"/>
<circle cx="392.60" cy="51.00" r="1.85" fill="#3b82c4" stroke="none" stroke-width="0.8"/>
<circle cx="344.10" cy="74.40" r="1.85" fill="#3b82c4" stroke="none" stroke-width="0.8"/>
<circle cx="327.50" cy="49.40" r="1.85" fill="#3b82c4" stroke="none" stroke-width="0.8"/>
<circle cx="325.00" cy="41.80" r="1.85" fill="#3b82c4" stroke="none" stroke-width="0.8"/>
<circle cx="319.70" cy="62.70" r="1.85" fill="#3b82c4" stroke="none" stroke-width="0.8"/>
<circle cx="336.40" cy="36.10" r="1.85" fill="#3b82c4" stroke="none" stroke-width="0.8"/>
<circle cx="340.00" cy="33.90" r="1.85" fill="#3b82c4" stroke="none" stroke-width="0.8"/>
<circle cx="342.90" cy="36.20" r="1.85" fill="#3b82c4" stroke="none" stroke-width="0.8"/>
<circle cx="343.70" cy="41.90" r="1.85" fill="#3b82c4" stroke="none" stroke-width="0.8"/>
<circle cx="341.80" cy="58.40" r="1.85" fill="#3b82c4" stroke="none" stroke-width="0.8"/>
<line x1="341.30" y1="11.90" x2="341.30" y2="106.50" stroke="#111" stroke-width="1.3"/>
<rect x="222.30" y="11.90" width="238.20" height="94.60" fill="none" stroke="#333" stroke-width="1.2"/>
<rect x="409.60" y="11.90" width="50.90" height="30.40" fill="#fff" stroke="#222" stroke-width="1.2"/>
<circle cx="417.30" cy="22.00" r="2.2" fill="#3b82c4" stroke="none" stroke-width="0.8"/>
<circle cx="417.30" cy="32.50" r="2.2" fill="#f08628" stroke="none" stroke-width="0.8"/>
<text font-size="8.8" text-anchor="start" fill="#1a1a1a" stroke="#1a1a1a" stroke-width="0.278" transform="translate(425.00 25.30) scale(1 1.04)">0 APH</text>
<text font-size="8.8" text-anchor="start" fill="#1a1a1a" stroke="#1a1a1a" stroke-width="0.278" transform="translate(425.00 35.60) scale(1 1.04)">0.6 APH</text>
<line x1="216.50" y1="25.40" x2="222.30" y2="25.40" stroke="#222" stroke-width="1.1"/>
<text font-size="9.4" text-anchor="end" fill="#333" stroke="#333" stroke-width="0.297" transform="translate(208.90 29.60) scale(1 1.04)">10</text>
<text font-size="6.2" text-anchor="start" fill="#333" stroke="#333" stroke-width="0.196" transform="translate(209.50 26.00) scale(1 1.04)">6</text>
<line x1="216.50" y1="64.50" x2="222.30" y2="64.50" stroke="#222" stroke-width="1.1"/>
<text font-size="9.4" text-anchor="end" fill="#333" stroke="#333" stroke-width="0.297" transform="translate(208.90 68.70) scale(1 1.04)">10</text>
<text font-size="6.2" text-anchor="start" fill="#333" stroke="#333" stroke-width="0.196" transform="translate(209.50 65.10) scale(1 1.04)">5</text>
<line x1="216.50" y1="103.40" x2="222.30" y2="103.40" stroke="#222" stroke-width="1.1"/>
<text font-size="9.4" text-anchor="end" fill="#333" stroke="#333" stroke-width="0.297" transform="translate(208.90 107.60) scale(1 1.04)">10</text>
<text font-size="6.2" text-anchor="start" fill="#333" stroke="#333" stroke-width="0.196" transform="translate(209.50 104.00) scale(1 1.04)">4</text>
<line x1="220.60" y1="44.95" x2="222.30" y2="44.95" stroke="#222" stroke-width="1.0"/>
<line x1="220.60" y1="83.95" x2="222.30" y2="83.95" stroke="#222" stroke-width="1.0"/>
<text font-size="9.9" text-anchor="middle" fill="#1a1a1a" stroke="#1a1a1a" stroke-width="0.3" transform="translate(192.00 62.60) rotate(-90) scale(1 1.04)">SV Size (bp)</text>
<line x1="231.00" y1="106.50" x2="231.00" y2="112.60" stroke="#222" stroke-width="1.1"/>
<text font-size="9.4" text-anchor="middle" fill="#333" stroke="#333" stroke-width="0.297" transform="translate(231.00 125.80) scale(1 1.04)">20</text>
<line x1="286.10" y1="106.50" x2="286.10" y2="112.60" stroke="#222" stroke-width="1.1"/>
<text font-size="9.4" text-anchor="middle" fill="#333" stroke="#333" stroke-width="0.297" transform="translate(286.10 125.80) scale(1 1.04)">10</text>
<line x1="341.30" y1="106.50" x2="341.30" y2="112.60" stroke="#222" stroke-width="1.1"/>
<text font-size="9.4" text-anchor="middle" fill="#333" stroke="#333" stroke-width="0.297" transform="translate(341.30 125.80) scale(1 1.04)">0</text>
<line x1="396.20" y1="106.50" x2="396.20" y2="112.60" stroke="#222" stroke-width="1.1"/>
<text font-size="9.4" text-anchor="middle" fill="#333" stroke="#333" stroke-width="0.297" transform="translate(396.20 125.80) scale(1 1.04)">10</text>
<line x1="451.50" y1="106.50" x2="451.50" y2="112.60" stroke="#222" stroke-width="1.1"/>
<text font-size="9.4" text-anchor="middle" fill="#333" stroke="#333" stroke-width="0.297" transform="translate(451.50 125.80) scale(1 1.04)">20</text>
<path d="M227.2 131.9 L223.8 135.3 L227.2 138.7" fill="none" stroke="#111" stroke-width="1.1"/>
<line x1="223.80" y1="135.30" x2="241.40" y2="135.30" stroke="#111" stroke-width="1.1"/>
<text font-size="9.1" text-anchor="start" fill="#1a1a1a" stroke="#1a1a1a" stroke-width="0.287" transform="translate(243.20 137.90) scale(1 1.04)">microhomology</text>
<line x1="307.70" y1="135.30" x2="325.50" y2="135.30" stroke="#111" stroke-width="1.1"/>
<text font-size="9.1" text-anchor="start" fill="#1a1a1a" stroke="#1a1a1a" stroke-width="0.287" transform="translate(331.20 137.90) scale(1 1.04)">blunt</text>
<line x1="356.70" y1="135.30" x2="389.10" y2="135.30" stroke="#111" stroke-width="1.1"/>
<text font-size="9.1" text-anchor="start" fill="#1a1a1a" stroke="#1a1a1a" stroke-width="0.287" transform="translate(390.90 137.90) scale(1 1.04)">insertion</text>
<line x1="427.40" y1="135.30" x2="459.00" y2="135.30" stroke="#111" stroke-width="1.1"/>
<path d="M455.6 131.9 L459.0 135.3 L455.6 138.7" fill="none" stroke="#111" stroke-width="1.1"/>
<text font-size="9.1" text-anchor="middle" fill="#1a1a1a" stroke="#1a1a1a" stroke-width="0.287" transform="translate(274.70 148.50) scale(1 1.04)">size (bp)</text>
<text font-size="9.1" text-anchor="middle" fill="#1a1a1a" stroke="#1a1a1a" stroke-width="0.287" transform="translate(408.40 148.50) scale(1 1.04)">size (bp)</text>
<text font-size="9.1" text-anchor="middle" fill="#1a1a1a" stroke="#1a1a1a" stroke-width="0.287" font-style="italic" transform="translate(343.50 150.70) scale(1 1.04)">plus random noise</text>
<text font-size="15.5" text-anchor="start" fill="#1a1a1a" stroke="#1a1a1a" stroke-width="0.3" transform="translate(190.60 164.30) scale(1 1.04)">D</text>
<rect x="246.90" y="270.74" width="6.53" height="0.46" fill="#3b82c4" stroke="#111" stroke-width="0.9"/>
<rect x="253.43" y="270.89" width="6.53" height="0.31" fill="#f08628" stroke="#111" stroke-width="0.9"/>
<rect x="259.96" y="270.89" width="6.53" height="0.31" fill="#3cb04a" stroke="#111" stroke-width="0.9"/>
<rect x="273.00" y="237.23" width="6.53" height="33.97" fill="#3b82c4" stroke="#111" stroke-width="0.9"/>
<rect x="279.53" y="269.67" width="6.53" height="1.53" fill="#f08628" stroke="#111" stroke-width="0.9"/>
<rect x="286.06" y="269.36" width="6.53" height="1.84" fill="#3cb04a" stroke="#111" stroke-width="0.9"/>
<rect x="299.10" y="269.98" width="6.53" height="1.22" fill="#3b82c4" stroke="#111" stroke-width="0.9"/>
<rect x="305.63" y="270.74" width="6.53" height="0.46" fill="#f08628" stroke="#111" stroke-width="0.9"/>
<rect x="312.16" y="270.89" width="6.53" height="0.31" fill="#3cb04a" stroke="#111" stroke-width="0.9"/>
<rect x="325.20" y="255.13" width="6.53" height="16.06" fill="#3b82c4" stroke="#111" stroke-width="0.9"/>
<rect x="331.73" y="270.74" width="6.53" height="0.46" fill="#f08628" stroke="#111" stroke-width="0.9"/>
<rect x="338.26" y="270.74" width="6.53" height="0.46" fill="#3cb04a" stroke="#111" stroke-width="0.9"/>
<rect x="351.30" y="266.15" width="6.53" height="5.05" fill="#3b82c4" stroke="#111" stroke-width="0.9"/>
<rect x="357.83" y="269.36" width="6.53" height="1.84" fill="#f08628" stroke="#111" stroke-width="0.9"/>
<rect x="364.36" y="270.74" width="6.53" height="0.46" fill="#3cb04a" stroke="#111" stroke-width="0.9"/>
<rect x="377.40" y="186.28" width="6.53" height="84.92" fill="#3b82c4" stroke="#111" stroke-width="0.9"/>
<rect x="383.93" y="267.83" width="6.53" height="3.37" fill="#f08628" stroke="#111" stroke-width="0.9"/>
<rect x="390.46" y="266.61" width="6.53" height="4.59" fill="#3cb04a" stroke="#111" stroke-width="0.9"/>
<line x1="276.30" y1="216.20" x2="276.30" y2="257.50" stroke="#111" stroke-width="1.1"/>
<line x1="380.40" y1="173.40" x2="380.40" y2="198.40" stroke="#111" stroke-width="1.1"/>
<circle cx="273.60" cy="252.00" r="1.9" fill="#3b82c4" stroke="#111" stroke-width="0.7"/>
<circle cx="275.00" cy="235.90" r="1.9" fill="#3b82c4" stroke="#111" stroke-width="0.7"/>
<circle cx="277.30" cy="230.00" r="1.9" fill="#3b82c4" stroke="#111" stroke-width="0.7"/>
<circle cx="279.30" cy="230.00" r="1.9" fill="#3b82c4" stroke="#111" stroke-width="0.7"/>
<circle cx="380.30" cy="180.40" r="1.9" fill="#3b82c4" stroke="#111" stroke-width="0.7"/>
<circle cx="383.10" cy="184.90" r="1.9" fill="#3b82c4" stroke="#111" stroke-width="0.7"/>
<circle cx="377.70" cy="192.50" r="1.9" fill="#3b82c4" stroke="#111" stroke-width="0.7"/>
<circle cx="328.40" cy="255.20" r="1.9" fill="#3b82c4" stroke="#111" stroke-width="0.7"/>
<circle cx="354.20" cy="265.20" r="1.9" fill="#3b82c4" stroke="#111" stroke-width="0.7"/>
<circle cx="247.30" cy="270.00" r="1.9" fill="#3b82c4" stroke="#111" stroke-width="0.7"/>
<circle cx="253.20" cy="270.20" r="1.9" fill="#f08628" stroke="#111" stroke-width="0.7"/>
<circle cx="259.10" cy="270.00" r="1.9" fill="#3cb04a" stroke="#111" stroke-width="0.7"/>
<circle cx="265.00" cy="270.30" r="1.9" fill="#3cb04a" stroke="#111" stroke-width="0.7"/>
<circle cx="279.50" cy="269.50" r="1.9" fill="#f08628" stroke="#111" stroke-width="0.7"/>
<circle cx="281.90" cy="269.60" r="1.9" fill="#f08628" stroke="#111" stroke-width="0.7"/>
<circle cx="285.40" cy="269.00" r="1.9" fill="#3cb04a" stroke="#111" stroke-width="0.7"/>
<circle cx="288.40" cy="269.40" r="1.9" fill="#3cb04a" stroke="#111" stroke-width="0.7"/>
<circle cx="291.00" cy="268.80" r="1.9" fill="#3cb04a" stroke="#111" stroke-width="0.7"/>
<circle cx="302.00" cy="269.50" r="1.9" fill="#3b82c4" stroke="#111" stroke-width="0.7"/>
<circle cx="303.70" cy="270.00" r="1.9" fill="#3b82c4" stroke="#111" stroke-width="0.7"/>
<circle cx="308.20" cy="270.20" r="1.9" fill="#f08628" stroke="#111" stroke-width="0.7"/>
<circle cx="314.10" cy="270.20" r="1.9" fill="#3cb04a" stroke="#111" stroke-width="0.7"/>
<circle cx="334.50" cy="270.20" r="1.9" fill="#f08628" stroke="#111" stroke-width="0.7"/>
<circle cx="340.40" cy="270.20" r="1.9" fill="#3cb04a" stroke="#111" stroke-width="0.7"/>
<circle cx="359.90" cy="268.30" r="1.9" fill="#f08628" stroke="#111" stroke-width="0.7"/>
<circle cx="361.80" cy="270.00" r="1.9" fill="#f08628" stroke="#111" stroke-width="0.7"/>
<circle cx="366.40" cy="270.20" r="1.9" fill="#3cb04a" stroke="#111" stroke-width="0.7"/>
<circle cx="384.00" cy="268.20" r="1.9" fill="#f08628" stroke="#111" stroke-width="0.7"/>
<circle cx="386.50" cy="268.20" r="1.9" fill="#f08628" stroke="#111" stroke-width="0.7"/>
<circle cx="389.00" cy="268.20" r="1.9" fill="#f08628" stroke="#111" stroke-width="0.7"/>
<circle cx="385.50" cy="266.50" r="1.9" fill="#f08628" stroke="#111" stroke-width="0.7"/>
<circle cx="390.50" cy="264.50" r="1.9" fill="#3cb04a" stroke="#111" stroke-width="0.7"/>
<circle cx="393.00" cy="263.40" r="1.9" fill="#3cb04a" stroke="#111" stroke-width="0.7"/>
<circle cx="395.50" cy="265.50" r="1.9" fill="#3cb04a" stroke="#111" stroke-width="0.7"/>
<circle cx="392.00" cy="266.50" r="1.9" fill="#3cb04a" stroke="#111" stroke-width="0.7"/>
<rect x="237.20" y="169.20" width="168.60" height="102.00" fill="none" stroke="#222" stroke-width="1.1"/>
<line x1="231.10" y1="271.20" x2="237.20" y2="271.20" stroke="#222" stroke-width="1.1"/>
<line x1="231.10" y1="255.90" x2="237.20" y2="255.90" stroke="#222" stroke-width="1.1"/>
<line x1="231.10" y1="240.60" x2="237.20" y2="240.60" stroke="#222" stroke-width="1.1"/>
<line x1="231.10" y1="225.30" x2="237.20" y2="225.30" stroke="#222" stroke-width="1.1"/>
<line x1="231.10" y1="210.00" x2="237.20" y2="210.00" stroke="#222" stroke-width="1.1"/>
<line x1="231.10" y1="194.70" x2="237.20" y2="194.70" stroke="#222" stroke-width="1.1"/>
<line x1="231.10" y1="179.40" x2="237.20" y2="179.40" stroke="#222" stroke-width="1.1"/>
<text font-size="9.4" text-anchor="middle" fill="#333" stroke="#333" stroke-width="0.297" transform="translate(222.13 271.20) rotate(-90) scale(1 1.04)">0.0</text>
<text font-size="9.4" text-anchor="middle" fill="#333" stroke="#333" stroke-width="0.297" transform="translate(222.13 240.60) rotate(-90) scale(1 1.04)">0.2</text>
<text font-size="9.4" text-anchor="middle" fill="#333" stroke="#333" stroke-width="0.297" transform="translate(222.13 210.00) rotate(-90) scale(1 1.04)">0.4</text>
<text font-size="9.4" text-anchor="middle" fill="#333" stroke="#333" stroke-width="0.297" transform="translate(222.13 179.40) rotate(-90) scale(1 1.04)">0.6</text>
<text font-size="10.0" text-anchor="middle" fill="#1a1a1a" stroke="#1a1a1a" stroke-width="0.3" transform="translate(198.30 219.90) rotate(-90) scale(1 1.04)">SV Frequency</text>
<rect x="410.90" y="178.30" width="7.40" height="6.20" fill="#3b82c4" stroke="#111" stroke-width="1"/>
<text font-size="9.8" text-anchor="start" fill="#1a1a1a" stroke="#1a1a1a" stroke-width="0.3" transform="translate(430.10 184.70) scale(1 1.04)">deletion</text>
<rect x="410.90" y="190.30" width="7.40" height="6.20" fill="#f08628" stroke="#111" stroke-width="1"/>
<text font-size="9.8" text-anchor="start" fill="#1a1a1a" stroke="#1a1a1a" stroke-width="0.3" transform="translate(430.10 196.70) scale(1 1.04)">duplication</text>
<rect x="410.90" y="202.30" width="7.40" height="6.20" fill="#3cb04a" stroke="#111" stroke-width="1"/>
<text font-size="9.8" text-anchor="start" fill="#1a1a1a" stroke="#1a1a1a" stroke-width="0.3" transform="translate(430.10 208.70) scale(1 1.04)">inversion</text>
<text font-size="9.0" text-anchor="middle" fill="#1a1a1a" stroke="#1a1a1a" stroke-width="0.284" transform="translate(212.50 292.60) scale(1 1.04)">cell line</text>
<text font-size="9.0" text-anchor="middle" fill="#1a1a1a" stroke="#1a1a1a" stroke-width="0.284" transform="translate(213.00 304.80) scale(1 1.04)">low APH</text>
<text font-size="9.4" text-anchor="middle" fill="#1a1a1a" stroke="#1a1a1a" stroke-width="0.297" transform="translate(256.40 292.60) scale(1 1.04)">HF1</text>
<text font-size="9.4" text-anchor="middle" fill="#1a1a1a" stroke="#1a1a1a" stroke-width="0.297" transform="translate(256.40 304.80) scale(1 1.04)">–</text>
<text font-size="9.4" text-anchor="middle" fill="#1a1a1a" stroke="#1a1a1a" stroke-width="0.297" transform="translate(282.40 292.60) scale(1 1.04)">HF1</text>
<text font-size="9.4" text-anchor="middle" fill="#1a1a1a" stroke="#1a1a1a" stroke-width="0.297" transform="translate(282.40 304.80) scale(1 1.04)">0.6</text>
<text font-size="9.4" text-anchor="middle" fill="#1a1a1a" stroke="#1a1a1a" stroke-width="0.297" transform="translate(308.40 292.60) scale(1 1.04)">GM</text>
<text font-size="9.4" text-anchor="middle" fill="#1a1a1a" stroke="#1a1a1a" stroke-width="0.297" transform="translate(308.40 304.80) scale(1 1.04)">–</text>
<text font-size="9.4" text-anchor="middle" fill="#1a1a1a" stroke="#1a1a1a" stroke-width="0.297" transform="translate(334.40 292.60) scale(1 1.04)">GM</text>
<text font-size="9.4" text-anchor="middle" fill="#1a1a1a" stroke="#1a1a1a" stroke-width="0.297" transform="translate(334.40 304.80) scale(1 1.04)">0.4</text>
<text font-size="9.4" text-anchor="middle" fill="#1a1a1a" stroke="#1a1a1a" stroke-width="0.297" transform="translate(360.40 292.60) scale(1 1.04)">HCT</text>
<text font-size="9.4" text-anchor="middle" fill="#1a1a1a" stroke="#1a1a1a" stroke-width="0.297" transform="translate(360.40 304.80) scale(1 1.04)">–</text>
<text font-size="9.4" text-anchor="middle" fill="#1a1a1a" stroke="#1a1a1a" stroke-width="0.297" transform="translate(386.40 292.60) scale(1 1.04)">HCT</text>
<text font-size="9.4" text-anchor="middle" fill="#1a1a1a" stroke="#1a1a1a" stroke-width="0.297" transform="translate(386.40 304.80) scale(1 1.04)">0.2</text>
<text font-size="15.5" text-anchor="start" fill="#1a1a1a" stroke="#1a1a1a" stroke-width="0.3" transform="translate(473.30 20.10) scale(1 1.04)">E</text>
<rect x="533.20" y="116.39" width="17.00" height="0.61" fill="#cfcfcf" stroke="#111" stroke-width="1.1"/>
<rect x="556.96" y="82.88" width="17.00" height="34.12" fill="#cfcfcf" stroke="#111" stroke-width="1.1"/>
<rect x="580.72" y="115.47" width="17.00" height="1.53" fill="#cfcfcf" stroke="#111" stroke-width="1.1"/>
<rect x="604.48" y="101.09" width="17.00" height="15.91" fill="#cfcfcf" stroke="#111" stroke-width="1.1"/>
<rect x="628.24" y="111.80" width="17.00" height="5.20" fill="#cfcfcf" stroke="#111" stroke-width="1.1"/>
<rect x="652.00" y="32.39" width="17.00" height="84.61" fill="#cfcfcf" stroke="#111" stroke-width="1.1"/>
<line x1="565.80" y1="61.80" x2="565.80" y2="103.50" stroke="#111" stroke-width="1.2"/>
<line x1="660.50" y1="19.50" x2="660.50" y2="44.20" stroke="#111" stroke-width="1.2"/>
<circle cx="538.80" cy="115.40" r="2.7" fill="#f28a2c" stroke="none" stroke-width="0.8"/>
<circle cx="544.80" cy="115.40" r="2.7" fill="#3b82c4" stroke="none" stroke-width="0.8"/>
<circle cx="565.20" cy="75.30" r="2.7" fill="#f28a2c" stroke="none" stroke-width="0.8"/>
<circle cx="562.60" cy="75.30" r="2.7" fill="#3cb04a" stroke="none" stroke-width="0.8"/>
<circle cx="568.70" cy="81.80" r="2.7" fill="#3cb04a" stroke="none" stroke-width="0.8"/>
<circle cx="566.50" cy="97.70" r="2.7" fill="#3b82c4" stroke="none" stroke-width="0.8"/>
<circle cx="589.10" cy="114.90" r="2.7" fill="#ee2a2a" stroke="none" stroke-width="0.8"/>
<circle cx="612.70" cy="100.80" r="2.7" fill="#ee2a2a" stroke="none" stroke-width="0.8"/>
<circle cx="636.30" cy="111.40" r="2.7" fill="#a461cb" stroke="none" stroke-width="0.8"/>
<circle cx="660.30" cy="26.30" r="2.7" fill="#9b5347" stroke="none" stroke-width="0.8"/>
<circle cx="663.40" cy="31.10" r="2.7" fill="#ee77c8" stroke="none" stroke-width="0.8"/>
<circle cx="657.50" cy="38.20" r="2.7" fill="#a461cb" stroke="none" stroke-width="0.8"/>
<rect x="524.50" y="15.20" width="153.20" height="101.80" fill="none" stroke="#222" stroke-width="1.2"/>
<line x1="518.20" y1="117.00" x2="524.50" y2="117.00" stroke="#222" stroke-width="1.1"/>
<line x1="518.20" y1="101.70" x2="524.50" y2="101.70" stroke="#222" stroke-width="1.1"/>
<line x1="518.20" y1="86.40" x2="524.50" y2="86.40" stroke="#222" stroke-width="1.1"/>
<line x1="518.20" y1="71.10" x2="524.50" y2="71.10" stroke="#222" stroke-width="1.1"/>
<line x1="518.20" y1="55.80" x2="524.50" y2="55.80" stroke="#222" stroke-width="1.1"/>
<line x1="518.20" y1="40.50" x2="524.50" y2="40.50" stroke="#222" stroke-width="1.1"/>
<line x1="518.20" y1="25.20" x2="524.50" y2="25.20" stroke="#222" stroke-width="1.1"/>
<text font-size="9.4" text-anchor="middle" fill="#333" stroke="#333" stroke-width="0.297" transform="translate(509.83 117.00) rotate(-90) scale(1 1.04)">0.0</text>
<text font-size="9.4" text-anchor="middle" fill="#333" stroke="#333" stroke-width="0.297" transform="translate(509.83 86.40) rotate(-90) scale(1 1.04)">0.2</text>
<text font-size="9.4" text-anchor="middle" fill="#333" stroke="#333" stroke-width="0.297" transform="translate(509.83 55.80) rotate(-90) scale(1 1.04)">0.4</text>
<text font-size="9.4" text-anchor="middle" fill="#333" stroke="#333" stroke-width="0.297" transform="translate(509.83 25.20) rotate(-90) scale(1 1.04)">0.6</text>
<text font-size="10.0" text-anchor="middle" fill="#1a1a1a" stroke="#1a1a1a" stroke-width="0.3" transform="translate(487.20 65.50) rotate(-90) scale(1 1.04)">SV Frequency</text>
<text font-size="9.1" text-anchor="start" fill="#1a1a1a" stroke="#1a1a1a" stroke-width="0.287" transform="translate(531.60 28.90) scale(1 1.04)">deletions</text>
<line x1="541.90" y1="56.50" x2="565.90" y2="56.50" stroke="#111" stroke-width="1.1"/>
<circle cx="541.90" cy="56.50" r="1.2" fill="#111" stroke="none" stroke-width="0.8"/>
<circle cx="565.90" cy="56.50" r="1.2" fill="#111" stroke="none" stroke-width="0.8"/>
<text font-size="8.6" text-anchor="middle" fill="#1a1a1a" stroke="#1a1a1a" stroke-width="0.272" transform="translate(553.90 56.20) scale(1 1.04)">***</text>
<text font-size="9.0" text-anchor="middle" fill="#1a1a1a" stroke="#1a1a1a" stroke-width="0.284" transform="translate(500.60 139.00) scale(1 1.04)">cell line</text>
<text font-size="9.0" text-anchor="middle" fill="#1a1a1a" stroke="#1a1a1a" stroke-width="0.284" transform="translate(501.40 150.20) scale(1 1.04)">low APH</text>
<text font-size="9.4" text-anchor="middle" fill="#1a1a1a" stroke="#1a1a1a" stroke-width="0.297" transform="translate(541.70 139.00) scale(1 1.04)">HF1</text>
<text font-size="9.4" text-anchor="middle" fill="#1a1a1a" stroke="#1a1a1a" stroke-width="0.297" transform="translate(541.70 150.20) scale(1 1.04)">–</text>
<text font-size="9.4" text-anchor="middle" fill="#1a1a1a" stroke="#1a1a1a" stroke-width="0.297" transform="translate(565.46 139.00) scale(1 1.04)">HF1</text>
<text font-size="9.4" text-anchor="middle" fill="#1a1a1a" stroke="#1a1a1a" stroke-width="0.297" transform="translate(565.46 150.20) scale(1 1.04)">0.6</text>
<text font-size="9.4" text-anchor="middle" fill="#1a1a1a" stroke="#1a1a1a" stroke-width="0.297" transform="translate(589.22 139.00) scale(1 1.04)">GM</text>
<text font-size="9.4" text-anchor="middle" fill="#1a1a1a" stroke="#1a1a1a" stroke-width="0.297" transform="translate(589.22 150.20) scale(1 1.04)">–</text>
<text font-size="9.4" text-anchor="middle" fill="#1a1a1a" stroke="#1a1a1a" stroke-width="0.297" transform="translate(612.98 139.00) scale(1 1.04)">GM</text>
<text font-size="9.4" text-anchor="middle" fill="#1a1a1a" stroke="#1a1a1a" stroke-width="0.297" transform="translate(612.98 150.20) scale(1 1.04)">0.4</text>
<text font-size="9.4" text-anchor="middle" fill="#1a1a1a" stroke="#1a1a1a" stroke-width="0.297" transform="translate(636.74 139.00) scale(1 1.04)">HCT</text>
<text font-size="9.4" text-anchor="middle" fill="#1a1a1a" stroke="#1a1a1a" stroke-width="0.297" transform="translate(636.74 150.20) scale(1 1.04)">–</text>
<text font-size="9.4" text-anchor="middle" fill="#1a1a1a" stroke="#1a1a1a" stroke-width="0.297" transform="translate(660.50 139.00) scale(1 1.04)">HCT</text>
<text font-size="9.4" text-anchor="middle" fill="#1a1a1a" stroke="#1a1a1a" stroke-width="0.297" transform="translate(660.50 150.20) scale(1 1.04)">0.2</text>
<text font-size="15.5" text-anchor="start" fill="#1a1a1a" stroke="#1a1a1a" stroke-width="0.3" transform="translate(494.80 183.30) scale(1 1.04)">F</text>
<line x1="532.30" y1="168.10" x2="548.40" y2="168.10" stroke="#3b82c4" stroke-width="1.4"/>
<text font-size="8.4" text-anchor="start" fill="#1a1a1a" stroke="#1a1a1a" stroke-width="0.1" font-weight="bold" style='font-family:"Liberation Mono", monospace;white-space:pre' transform="translate(555.40 170.90) scale(1 1.0)" xml:space="preserve">GM12878  0.4 (313 SVs)</text>
<line x1="532.30" y1="178.30" x2="548.40" y2="178.30" stroke="#f08628" stroke-width="1.4"/>
<text font-size="8.4" text-anchor="start" fill="#1a1a1a" stroke="#1a1a1a" stroke-width="0.1" font-weight="bold" style='font-family:"Liberation Mono", monospace;white-space:pre' transform="translate(555.40 181.00) scale(1 1.0)" xml:space="preserve">HCT116   0.2 (3407 SVs)</text>
<line x1="532.30" y1="188.50" x2="548.40" y2="188.50" stroke="#3cb04a" stroke-width="1.4"/>
<text font-size="8.4" text-anchor="start" fill="#1a1a1a" stroke="#1a1a1a" stroke-width="0.1" font-weight="bold" style='font-family:"Liberation Mono", monospace;white-space:pre' transform="translate(555.40 191.10) scale(1 1.0)" xml:space="preserve">HF1      0.6 (2064 SVs)</text>
<line x1="600.95" y1="200.60" x2="600.95" y2="276.80" stroke="#cfcfcf" stroke-width="1.4"/>
<polyline points="524.40,275.80 532.05,272.80 539.71,274.00 547.37,272.10 555.02,269.10 562.67,266.60 570.33,268.10 577.99,261.80 585.64,260.30 593.29,252.30 600.95,240.20 608.61,240.80 616.26,229.50 623.91,220.00 631.57,217.80 639.23,225.10 646.88,236.80 654.53,251.50 662.19,266.90 669.85,274.30 677.50,276.00" fill="none" stroke="#3cb04a" stroke-width="1.4" stroke-linejoin="round"/>
<polyline points="524.40,275.50 532.05,273.50 539.71,271.00 547.37,270.60 555.02,267.70 562.67,265.80 570.33,264.40 577.99,261.80 585.64,259.30 593.29,255.20 600.95,250.10 608.61,245.70 616.26,243.50 623.91,234.60 631.57,222.20 639.23,215.60 646.88,212.60 654.53,242.70 662.19,269.10 669.85,275.00 677.50,276.20" fill="none" stroke="#f08628" stroke-width="1.4" stroke-linejoin="round"/>
<polyline points="524.40,275.00 532.05,269.90 539.71,273.50 547.37,274.30 555.02,266.60 562.67,269.60 570.33,269.90 577.99,265.20 585.64,265.20 593.29,253.70 600.95,256.40 608.61,242.70 616.26,222.20 623.91,216.70 631.57,232.40 639.23,204.50 646.88,217.00 654.53,245.70 662.19,274.30 669.85,275.00 677.50,276.20" fill="none" stroke="#3b82c4" stroke-width="1.4" stroke-linejoin="round"/>
<line x1="621.40" y1="200.60" x2="621.40" y2="276.80" stroke="#3cb04a" stroke-width="1.4"/>
<line x1="624.40" y1="200.60" x2="624.40" y2="276.80" stroke="#3b82c4" stroke-width="1.4"/>
<line x1="626.30" y1="200.60" x2="626.30" y2="276.80" stroke="#f08628" stroke-width="1.4"/>
<rect x="524.40" y="200.60" width="153.10" height="76.20" fill="none" stroke="#222" stroke-width="1.2"/>
<line x1="518.50" y1="276.80" x2="524.40" y2="276.80" stroke="#222" stroke-width="1.1"/>
<line x1="518.50" y1="253.50" x2="524.40" y2="253.50" stroke="#222" stroke-width="1.1"/>
<line x1="518.50" y1="230.20" x2="524.40" y2="230.20" stroke="#222" stroke-width="1.1"/>
<line x1="518.50" y1="206.90" x2="524.40" y2="206.90" stroke="#222" stroke-width="1.1"/>
<text font-size="9.4" text-anchor="middle" fill="#333" stroke="#333" stroke-width="0.297" transform="translate(510.03 276.80) rotate(-90) scale(1 1.04)">0.00</text>
<text font-size="9.4" text-anchor="middle" fill="#333" stroke="#333" stroke-width="0.297" transform="translate(510.03 230.20) rotate(-90) scale(1 1.04)">0.10</text>
<text font-size="9.7" text-anchor="middle" fill="#1a1a1a" stroke="#1a1a1a" stroke-width="0.3" transform="translate(485.92 238.80) rotate(-90) scale(1 1.04)">Frequency</text>
<line x1="524.40" y1="276.80" x2="524.40" y2="282.40" stroke="#222" stroke-width="1.1"/>
<text font-size="9.4" text-anchor="end" fill="#333" stroke="#333" stroke-width="0.297" transform="translate(527.70 297.00) scale(1 1.04)">10</text>
<text font-size="6.2" text-anchor="start" fill="#333" stroke="#333" stroke-width="0.196" transform="translate(528.20 292.40) scale(1 1.04)">4</text>
<line x1="600.95" y1="276.80" x2="600.95" y2="282.40" stroke="#222" stroke-width="1.1"/>
<text font-size="9.4" text-anchor="end" fill="#333" stroke="#333" stroke-width="0.297" transform="translate(604.25 297.00) scale(1 1.04)">10</text>
<text font-size="6.2" text-anchor="start" fill="#333" stroke="#333" stroke-width="0.196" transform="translate(604.75 292.40) scale(1 1.04)">5</text>
<line x1="677.50" y1="276.80" x2="677.50" y2="282.40" stroke="#222" stroke-width="1.1"/>
<text font-size="9.4" text-anchor="end" fill="#333" stroke="#333" stroke-width="0.297" transform="translate(680.80 297.00) scale(1 1.04)">10</text>
<text font-size="6.2" text-anchor="start" fill="#333" stroke="#333" stroke-width="0.196" transform="translate(681.30 292.40) scale(1 1.04)">6</text>
<line x1="562.67" y1="276.80" x2="562.67" y2="278.60" stroke="#222" stroke-width="1.0"/>
<line x1="639.22" y1="276.80" x2="639.22" y2="278.60" stroke="#222" stroke-width="1.0"/>
<text font-size="9.8" text-anchor="middle" fill="#1a1a1a" stroke="#1a1a1a" stroke-width="0.3" transform="translate(602.00 310.40) scale(1 1.04)">SV Size (bp)</text>
<text font-size="9.0" text-anchor="middle" fill="#1a1a1a" stroke="#1a1a1a" stroke-width="0.284" transform="translate(556.50 214.40) scale(1 1.04)">APH-induced</text>
<text font-size="9.0" text-anchor="middle" fill="#1a1a1a" stroke="#1a1a1a" stroke-width="0.284" transform="translate(556.70 225.10) scale(1 1.04)">deletions</text>
<text font-size="15.5" text-anchor="start" fill="#1a1a1a" stroke="#1a1a1a" stroke-width="0.3" transform="translate(10.80 328.20) scale(1 1.04)">G</text>
<text font-size="9.9" text-anchor="start" fill="#1a1a1a" stroke="#1a1a1a" stroke-width="0.3" transform="translate(66.40 323.70) scale(1 1.04)">HF1, APH-induced deletions</text>
<line x1="96.40" y1="332.80" x2="110.40" y2="332.80" stroke="#3b82c4" stroke-width="1.4"/>
<text font-size="7.3" text-anchor="start" fill="#1a1a1a" stroke="#1a1a1a" stroke-width="0.1" font-weight="bold" style='font-family:"Liberation Mono", monospace;white-space:pre' transform="translate(116.40 335.10) scale(1 1.0)">4128</text>
<text font-size="7.3" text-anchor="start" fill="#1a1a1a" stroke="#1a1a1a" stroke-width="0.1" font-weight="bold" style='font-family:"Liberation Mono", monospace;white-space:pre' transform="translate(142.60 335.10) scale(1 1.0)">ends</text>
<rect x="117.80" y="344.80" width="17.70" height="52.20" fill="#e4e4e4" stroke="none" stroke-width="1"/>
<line x1="93.00" y1="343.60" x2="93.00" y2="397.00" stroke="#8a8a8a" stroke-width="1.3"/>
<line x1="155.50" y1="343.60" x2="155.50" y2="397.00" stroke="#8a8a8a" stroke-width="1.3"/>
<polyline points="80.00,396.70 80.32,395.01 80.64,394.22 80.96,396.06 81.28,396.70 81.60,395.45 81.92,394.72 82.24,393.87 82.56,396.70 82.88,396.70 83.20,394.27 83.52,394.55 83.84,393.04 84.16,393.77 84.48,395.27 84.80,395.49 85.12,391.33 85.44,395.47 85.76,396.19 86.08,396.70 86.40,394.97 86.72,394.99 87.04,388.40 87.36,395.41 87.68,395.13 88.00,394.81" fill="none" stroke="#3b82c4" stroke-width="1.2" stroke-linejoin="round"/>
<polyline points="90.88,392.92 91.20,394.14 91.52,396.70 91.84,393.21 92.16,396.50 92.48,394.45 92.80,396.52 93.12,394.03 93.44,395.27 93.76,393.52 94.08,388.07 94.40,393.83 94.72,392.17 95.04,396.00 95.36,394.06 95.68,392.23 96.00,393.56 96.32,392.61 96.64,393.05 96.96,395.15 97.28,391.98 97.60,394.67 97.92,389.15 98.24,393.93 98.56,391.39 98.88,392.74 99.20,390.64 99.52,393.91 99.84,390.35 100.16,392.73 100.48,389.58 100.80,390.91 101.12,382.40 101.44,382.40 101.76,390.32 102.08,390.91 102.40,388.14 102.72,392.69 103.04,390.46 103.36,390.48 103.68,390.92 104.00,391.01 104.32,390.99 104.64,392.76 104.96,393.68 105.28,392.13 105.60,389.68 105.92,387.36 106.24,388.56 106.56,388.28 106.88,388.87 107.20,388.97 107.52,390.16 107.84,388.62 108.16,386.00 108.48,391.12 108.80,391.90 109.12,385.13 109.44,389.29 109.76,387.34 110.08,387.45 110.40,392.34 110.72,383.28 111.04,383.80 111.36,388.66 111.68,387.09 112.00,388.52 112.32,390.91 112.64,388.85 112.96,387.50 113.28,385.51 113.60,386.39 113.92,387.88 114.24,384.41 114.56,389.23 114.88,385.20 115.20,384.17 115.52,387.02 115.84,389.92 116.16,387.60 116.48,384.86 116.80,383.94 117.12,378.35 117.44,381.07 117.76,375.39 118.08,370.31 118.40,370.82 118.72,376.79 119.04,365.55 119.36,359.30 119.68,362.56 120.00,368.97 120.32,366.95 120.64,364.48 120.96,395.00 121.28,362.59 121.60,364.10 121.92,358.80 122.24,364.28 122.56,357.23 122.88,365.89 123.20,364.90 123.52,360.49 123.84,358.21 124.16,361.09 124.48,362.50 124.80,370.12 125.12,366.42 125.44,366.25 125.76,366.16 126.08,362.42 126.40,365.83 126.72,362.08 127.04,364.73 127.36,366.31 127.68,364.86 128.00,363.90 128.32,362.52 128.64,367.33 128.96,366.60 129.28,370.68 129.60,361.24 129.92,364.45 130.24,372.09 130.56,373.82 130.88,376.57 131.20,372.82 131.52,373.19 131.84,367.74 132.16,374.02 132.48,377.56 132.80,383.04 133.12,372.01 133.44,376.18 133.76,381.84 134.08,377.30 134.40,382.69 134.72,369.67 135.04,376.52 135.36,378.50 135.68,384.90 136.00,392.69 136.32,393.35 136.64,395.38 136.96,393.83 137.28,396.65 137.60,395.43 137.92,393.30 138.24,392.88 138.56,395.73 138.88,396.10 139.20,393.67 139.52,393.70 139.84,395.58 140.16,395.29 140.48,395.30 140.80,395.82 141.12,395.31 141.44,393.34 141.76,393.92 142.08,392.53 142.40,394.74 142.72,394.80 143.04,395.68 143.36,394.80 143.68,396.05 144.00,396.54 144.32,393.98 144.64,393.21 144.96,393.85 145.28,393.34 145.60,394.47 145.92,395.50 146.24,394.67 146.56,395.16 146.88,395.95 147.20,396.57 147.52,396.36 147.84,394.81 148.16,394.65 148.48,395.32 148.80,393.31 149.12,394.65 149.44,394.22 149.76,393.55 150.08,395.74 150.40,396.70 150.72,394.07 151.04,395.63 151.36,393.48 151.68,394.54 152.00,393.83 152.32,394.10 152.64,396.70 152.96,394.16 153.28,395.69 153.60,395.79 153.92,395.45 154.24,394.14 154.56,394.02 154.88,393.88 155.20,396.70 155.52,395.99 155.84,396.70 156.16,396.03" fill="none" stroke="#3b82c4" stroke-width="1.2" stroke-linejoin="round"/>
<polyline points="159.68,395.07 160.00,396.11 160.32,395.30 160.64,395.31 160.96,394.69" fill="none" stroke="#3b82c4" stroke-width="1.2" stroke-linejoin="round"/>
<polyline points="165.76,396.16 166.08,396.16 166.40,396.12 166.72,394.14" fill="none" stroke="#3b82c4" stroke-width="1.2" stroke-linejoin="round"/>
<polyline points="171.20,394.90 171.52,395.75 171.84,395.52 172.16,395.61 172.48,395.56" fill="none" stroke="#3b82c4" stroke-width="1.2" stroke-linejoin="round"/>
<polyline points="175.04,395.90 175.36,395.99 175.68,396.55 176.00,396.19" fill="none" stroke="#3b82c4" stroke-width="1.2" stroke-linejoin="round"/>
<line x1="93.00" y1="357.60" x2="108.30" y2="357.60" stroke="#111" stroke-width="1.2"/>
<path d="M103.70 353.30 L108.30 357.60 L103.70 361.90" fill="none" stroke="#111" stroke-width="1.2"/>
<text font-size="7.0" text-anchor="start" fill="#1a1a1a" stroke="#1a1a1a" stroke-width="0.221" transform="translate(104.10 352.50) scale(1 1.04)">NEGR1, chr1-</text>
<rect x="60.70" y="343.60" width="131.80" height="53.40" fill="none" stroke="#222" stroke-width="1.2"/>
<line x1="55.00" y1="397.00" x2="60.70" y2="397.00" stroke="#222" stroke-width="1.1"/>
<line x1="55.00" y1="387.65" x2="60.70" y2="387.65" stroke="#222" stroke-width="1.1"/>
<line x1="55.00" y1="378.30" x2="60.70" y2="378.30" stroke="#222" stroke-width="1.1"/>
<line x1="55.00" y1="368.95" x2="60.70" y2="368.95" stroke="#222" stroke-width="1.1"/>
<line x1="55.00" y1="359.60" x2="60.70" y2="359.60" stroke="#222" stroke-width="1.1"/>
<line x1="55.00" y1="350.25" x2="60.70" y2="350.25" stroke="#222" stroke-width="1.1"/>
<text font-size="8.7" text-anchor="middle" fill="#333" stroke="#333" stroke-width="0.275" transform="translate(48.74 397.00) rotate(-90) scale(1 1.04)">0.000</text>
<text font-size="8.7" text-anchor="middle" fill="#333" stroke="#333" stroke-width="0.275" transform="translate(48.74 359.60) rotate(-90) scale(1 1.04)">0.020</text>
<text font-size="8.7" text-anchor="middle" fill="#1a1a1a" stroke="#1a1a1a" stroke-width="0.275" transform="translate(28.04 370.30) rotate(-90) scale(1 1.04)">Frequency</text>
<line x1="77.40" y1="397.00" x2="77.40" y2="402.80" stroke="#222" stroke-width="1.1"/>
<text font-size="8.8" text-anchor="middle" fill="#333" stroke="#333" stroke-width="0.278" transform="translate(77.40 416.00) scale(1 1.04)">72.5</text>
<line x1="113.30" y1="397.00" x2="113.30" y2="402.80" stroke="#222" stroke-width="1.1"/>
<text font-size="8.8" text-anchor="middle" fill="#333" stroke="#333" stroke-width="0.278" transform="translate(113.30 416.00) scale(1 1.04)">72.0</text>
<line x1="148.80" y1="397.00" x2="148.80" y2="402.80" stroke="#222" stroke-width="1.1"/>
<text font-size="8.8" text-anchor="middle" fill="#333" stroke="#333" stroke-width="0.278" transform="translate(148.80 416.00) scale(1 1.04)">71.5</text>
<line x1="184.40" y1="397.00" x2="184.40" y2="402.80" stroke="#222" stroke-width="1.1"/>
<text font-size="8.8" text-anchor="middle" fill="#333" stroke="#333" stroke-width="0.278" transform="translate(184.40 416.00) scale(1 1.04)">71.0</text>
<rect x="117.80" y="421.20" width="17.70" height="52.60" fill="#e4e4e4" stroke="none" stroke-width="1"/>
<line x1="64.70" y1="420.00" x2="64.70" y2="473.80" stroke="#8a8a8a" stroke-width="1.3"/>
<line x1="167.70" y1="420.00" x2="167.70" y2="473.80" stroke="#8a8a8a" stroke-width="1.3"/>
<polyline points="85.80,471.53 86.12,471.71 86.44,469.68 86.76,471.05" fill="none" stroke="#3b82c4" stroke-width="1.2" stroke-linejoin="round"/>
<polyline points="89.96,471.06 90.28,470.67 90.60,471.81 90.92,472.00 91.24,470.29 91.56,471.50 91.88,469.73 92.20,471.04 92.52,473.14 92.84,472.44 93.16,471.73 93.48,473.29 93.80,470.46 94.12,470.70 94.44,468.80 94.76,471.41 95.08,470.38 95.40,469.06 95.72,468.72 96.04,471.32 96.36,465.01 96.68,468.80 97.00,461.83 97.32,465.67 97.64,465.51 97.96,468.93 98.28,464.07 98.60,453.08 98.92,466.08 99.24,448.80 99.56,457.17 99.88,464.71 100.20,457.79 100.52,456.39 100.84,464.01 101.16,464.97 101.48,457.15 101.80,460.60 102.12,452.04 102.44,459.96 102.76,467.51 103.08,462.05 103.40,467.53 103.72,451.80 104.04,457.95 104.36,463.44 104.68,465.76 105.00,456.55 105.32,462.98 105.64,454.55 105.96,465.95 106.28,462.26 106.60,463.70 106.92,466.28 107.24,446.88 107.56,452.33 107.88,464.23 108.20,457.00 108.52,470.25 108.84,454.79 109.16,448.80 109.48,462.93 109.80,463.02 110.12,460.07 110.44,459.06 110.76,463.16 111.08,465.59 111.40,462.72 111.72,463.58 112.04,457.72 112.36,461.14 112.68,460.46 113.00,469.61 113.32,463.50 113.64,463.58 113.96,464.21 114.28,463.74 114.60,465.99 114.92,470.53 115.24,466.84 115.56,467.33 115.88,469.59 116.20,467.80 116.52,470.25 116.84,470.77 117.16,469.10 117.48,466.33 117.80,468.94 118.12,461.57 118.44,444.91 118.76,446.01 119.08,446.49 119.40,441.67 119.72,435.80 120.04,450.91 120.36,449.32 120.68,437.47 121.00,467.50 121.32,444.99 121.64,445.21 121.96,438.54 122.28,435.40 122.60,445.01 122.92,439.87 123.24,428.95 123.56,437.70 123.88,442.36 124.20,433.30 124.52,440.35 124.84,437.68 125.16,439.52 125.48,463.80 125.80,463.80 126.12,440.09 126.44,445.60 126.76,442.04 127.08,447.09 127.40,436.81 127.72,435.53 128.04,447.41 128.36,439.43 128.68,445.70 129.00,451.23 129.32,457.61 129.64,458.83 129.96,456.60 130.28,463.72 130.60,456.76 130.92,460.88 131.24,463.60 131.56,460.39 131.88,458.33 132.20,460.71 132.52,459.59 132.84,461.67 133.16,462.39 133.48,457.65 133.80,463.83 134.12,457.85 134.44,460.02 134.76,462.05 135.08,461.98 135.40,462.27 135.72,461.57 136.04,461.70 136.36,462.91 136.68,470.46 137.00,472.87" fill="none" stroke="#3b82c4" stroke-width="1.2" stroke-linejoin="round"/>
<polyline points="138.92,471.95 139.24,472.78 139.56,472.73 139.88,472.39 140.20,473.18 140.52,470.96 140.84,472.26 141.16,472.40 141.48,473.13 141.80,471.52 142.12,471.65 142.44,471.01 142.76,471.51 143.08,472.93 143.40,473.31 143.72,471.12 144.04,472.82 144.36,472.34 144.68,472.38 145.00,471.84 145.32,471.79 145.64,473.11 145.96,472.79 146.28,473.50 146.60,471.79 146.92,472.39 147.24,473.50 147.56,471.39 147.88,472.24 148.20,473.09 148.52,472.59 148.84,472.74 149.16,472.16 149.48,472.08 149.80,472.73 150.12,471.90 150.44,473.50 150.76,472.53 151.08,471.71 151.40,471.46 151.72,471.59 152.04,473.11 152.36,473.50 152.68,472.53 153.00,470.37 153.32,472.03 153.64,472.86 153.96,473.50 154.28,472.13 154.60,472.62 154.92,471.84 155.24,472.10 155.56,473.50 155.88,472.36 156.20,471.61 156.52,472.74 156.84,473.24 157.16,473.21 157.48,473.35 157.80,470.45" fill="none" stroke="#3b82c4" stroke-width="1.2" stroke-linejoin="round"/>
<line x1="64.70" y1="434.40" x2="80.40" y2="434.40" stroke="#111" stroke-width="1.2"/>
<path d="M75.80 430.10 L80.40 434.40 L75.80 438.70" fill="none" stroke="#111" stroke-width="1.2"/>
<text font-size="7.0" text-anchor="start" fill="#1a1a1a" stroke="#1a1a1a" stroke-width="0.221" transform="translate(104.90 429.70) scale(1 1.04)">MAGI2, chr7-</text>
<rect x="60.70" y="420.00" width="131.80" height="53.80" fill="none" stroke="#222" stroke-width="1.2"/>
<line x1="55.00" y1="473.80" x2="60.70" y2="473.80" stroke="#222" stroke-width="1.1"/>
<line x1="55.00" y1="464.45" x2="60.70" y2="464.45" stroke="#222" stroke-width="1.1"/>
<line x1="55.00" y1="455.10" x2="60.70" y2="455.10" stroke="#222" stroke-width="1.1"/>
<line x1="55.00" y1="445.75" x2="60.70" y2="445.75" stroke="#222" stroke-width="1.1"/>
<line x1="55.00" y1="436.40" x2="60.70" y2="436.40" stroke="#222" stroke-width="1.1"/>
<line x1="55.00" y1="427.05" x2="60.70" y2="427.05" stroke="#222" stroke-width="1.1"/>
<text font-size="8.7" text-anchor="middle" fill="#333" stroke="#333" stroke-width="0.275" transform="translate(48.74 473.80) rotate(-90) scale(1 1.04)">0.000</text>
<text font-size="8.7" text-anchor="middle" fill="#333" stroke="#333" stroke-width="0.275" transform="translate(48.74 436.40) rotate(-90) scale(1 1.04)">0.020</text>
<text font-size="8.7" text-anchor="middle" fill="#1a1a1a" stroke="#1a1a1a" stroke-width="0.275" transform="translate(28.04 446.90) rotate(-90) scale(1 1.04)">Frequency</text>
<line x1="61.50" y1="473.80" x2="61.50" y2="479.60" stroke="#222" stroke-width="1.1"/>
<text font-size="8.8" text-anchor="middle" fill="#333" stroke="#333" stroke-width="0.278" transform="translate(61.50 490.10) scale(1 1.04)">79.5</text>
<line x1="97.50" y1="473.80" x2="97.50" y2="479.60" stroke="#222" stroke-width="1.1"/>
<text font-size="8.8" text-anchor="middle" fill="#333" stroke="#333" stroke-width="0.278" transform="translate(97.50 490.10) scale(1 1.04)">79.0</text>
<line x1="133.00" y1="473.80" x2="133.00" y2="479.60" stroke="#222" stroke-width="1.1"/>
<text font-size="8.8" text-anchor="middle" fill="#333" stroke="#333" stroke-width="0.278" transform="translate(133.00 490.10) scale(1 1.04)">78.5</text>
<line x1="168.70" y1="473.80" x2="168.70" y2="479.60" stroke="#222" stroke-width="1.1"/>
<text font-size="8.8" text-anchor="middle" fill="#333" stroke="#333" stroke-width="0.278" transform="translate(168.70 490.10) scale(1 1.04)">78.0</text>
<rect x="117.80" y="498.00" width="17.70" height="53.00" fill="#e4e4e4" stroke="none" stroke-width="1"/>
<line x1="78.30" y1="496.80" x2="78.30" y2="551.00" stroke="#8a8a8a" stroke-width="1.3"/>
<line x1="171.90" y1="496.80" x2="171.90" y2="551.00" stroke="#8a8a8a" stroke-width="1.3"/>
<polyline points="91.80,550.65 92.12,550.02 92.44,549.14 92.76,550.09 93.08,550.52 93.40,550.70 93.72,548.81 94.04,549.63 94.36,550.04 94.68,550.34 95.00,550.70 95.32,549.23 95.64,550.22 95.96,549.31 96.28,547.73 96.60,549.57 96.92,549.31 97.24,548.14 97.56,549.32 97.88,548.93 98.20,550.28 98.52,549.99 98.84,550.70 99.16,547.87 99.48,547.52 99.80,549.39 100.12,548.97 100.44,549.22 100.76,545.67 101.08,547.53 101.40,548.79 101.72,547.80 102.04,546.99 102.36,549.73 102.68,547.75 103.00,547.16 103.32,547.41 103.64,545.57 103.96,544.10 104.28,545.77 104.60,546.08 104.92,542.53 105.24,543.77 105.56,542.51 105.88,537.37 106.20,541.28 106.52,541.90 106.84,545.22 107.16,539.06 107.48,538.33 107.80,536.75 108.12,536.13 108.44,534.80 108.76,535.74 109.08,535.35 109.40,532.94 109.72,537.10 110.04,537.60 110.36,537.35 110.68,532.70 111.00,539.81 111.32,534.38 111.64,532.90 111.96,530.61 112.28,522.50 112.60,530.94 112.92,530.71 113.24,532.66 113.56,529.96 113.88,530.62 114.20,533.98 114.52,530.62 114.84,532.51 115.16,521.15 115.48,529.23 115.80,530.48 116.12,533.38 116.44,527.38 116.76,525.57 117.08,525.45 117.40,525.87 117.72,519.62 118.04,518.49 118.36,513.98 118.68,517.46 119.00,514.77 119.32,506.50 119.64,506.50 119.96,515.07 120.28,514.19 120.60,519.21 120.92,510.28 121.24,515.79 121.56,522.07 121.88,529.93 122.20,530.65 122.52,536.77 122.84,536.71 123.16,538.62 123.48,536.66 123.80,519.97 124.12,519.10 124.44,521.13 124.76,514.09 125.08,511.07 125.40,519.36 125.72,516.79 126.04,520.96 126.36,522.97 126.68,517.73 127.00,520.86 127.32,521.03 127.64,517.63 127.96,516.67 128.28,519.42 128.60,515.91 128.92,522.85 129.24,522.96 129.56,520.13 129.88,516.77 130.20,518.41 130.52,522.90 130.84,526.63 131.16,532.66 131.48,524.13 131.80,530.50 132.12,523.20 132.44,531.99 132.76,539.38 133.08,530.70 133.40,534.57 133.72,537.57 134.04,536.59 134.36,537.95 134.68,538.22 135.00,544.00 135.32,540.81 135.64,540.93 135.96,545.18 136.28,541.46 136.60,544.99 136.92,548.83 137.24,544.53 137.56,548.05 137.88,548.56 138.20,549.14 138.52,547.46 138.84,549.02 139.16,549.64 139.48,549.63 139.80,548.68 140.12,548.69 140.44,549.74 140.76,548.48 141.08,549.82 141.40,549.17 141.72,548.90 142.04,549.14 142.36,549.18 142.68,549.20 143.00,549.86 143.32,549.66" fill="none" stroke="#3b82c4" stroke-width="1.2" stroke-linejoin="round"/>
<polyline points="158.04,549.57 158.36,550.52 158.68,550.63 159.00,549.59 159.32,549.79 159.64,549.67 159.96,549.32 160.28,549.54 160.60,550.09 160.92,549.45 161.24,550.19 161.56,548.73 161.88,549.15 162.20,549.76 162.52,550.16 162.84,549.47 163.16,549.87 163.48,550.22 163.80,549.46 164.12,549.71 164.44,549.25 164.76,549.87 165.08,548.62 165.40,548.73 165.72,550.70 166.04,550.70 166.36,550.34 166.68,548.85 167.00,549.37 167.32,549.69 167.64,549.60 167.96,550.49 168.28,549.65 168.60,550.37 168.92,549.63 169.24,549.97 169.56,550.08 169.88,550.07 170.20,549.41 170.52,548.62 170.84,550.70 171.16,549.33 171.48,550.01 171.80,548.85" fill="none" stroke="#3b82c4" stroke-width="1.2" stroke-linejoin="round"/>
<line x1="78.30" y1="511.50" x2="94.40" y2="511.50" stroke="#111" stroke-width="1.2"/>
<path d="M89.80 507.20 L94.40 511.50 L89.80 515.80" fill="none" stroke="#111" stroke-width="1.2"/>
<text font-size="7.0" text-anchor="start" fill="#1a1a1a" stroke="#1a1a1a" stroke-width="0.221" transform="translate(101.50 505.80) scale(1 1.04)">PRKG1, chr10+</text>
<rect x="60.70" y="496.80" width="131.80" height="54.20" fill="none" stroke="#222" stroke-width="1.2"/>
<line x1="55.00" y1="551.00" x2="60.70" y2="551.00" stroke="#222" stroke-width="1.1"/>
<line x1="55.00" y1="541.65" x2="60.70" y2="541.65" stroke="#222" stroke-width="1.1"/>
<line x1="55.00" y1="532.30" x2="60.70" y2="532.30" stroke="#222" stroke-width="1.1"/>
<line x1="55.00" y1="522.95" x2="60.70" y2="522.95" stroke="#222" stroke-width="1.1"/>
<line x1="55.00" y1="513.60" x2="60.70" y2="513.60" stroke="#222" stroke-width="1.1"/>
<line x1="55.00" y1="504.25" x2="60.70" y2="504.25" stroke="#222" stroke-width="1.1"/>
<text font-size="8.7" text-anchor="middle" fill="#333" stroke="#333" stroke-width="0.275" transform="translate(48.74 551.00) rotate(-90) scale(1 1.04)">0.000</text>
<text font-size="8.7" text-anchor="middle" fill="#333" stroke="#333" stroke-width="0.275" transform="translate(48.74 513.60) rotate(-90) scale(1 1.04)">0.020</text>
<text font-size="8.7" text-anchor="middle" fill="#1a1a1a" stroke="#1a1a1a" stroke-width="0.275" transform="translate(28.04 523.90) rotate(-90) scale(1 1.04)">Frequency</text>
<line x1="79.10" y1="551.00" x2="79.10" y2="556.80" stroke="#222" stroke-width="1.1"/>
<text font-size="8.8" text-anchor="middle" fill="#333" stroke="#333" stroke-width="0.278" transform="translate(79.10 569.30) scale(1 1.04)">51.0</text>
<line x1="115.40" y1="551.00" x2="115.40" y2="556.80" stroke="#222" stroke-width="1.1"/>
<text font-size="8.8" text-anchor="middle" fill="#333" stroke="#333" stroke-width="0.278" transform="translate(115.40 569.30) scale(1 1.04)">51.5</text>
<line x1="151.40" y1="551.00" x2="151.40" y2="556.80" stroke="#222" stroke-width="1.1"/>
<text font-size="8.8" text-anchor="middle" fill="#333" stroke="#333" stroke-width="0.278" transform="translate(151.40 569.30) scale(1 1.04)">52.0</text>
<line x1="186.80" y1="551.00" x2="186.80" y2="556.80" stroke="#222" stroke-width="1.1"/>
<text font-size="8.8" text-anchor="middle" fill="#333" stroke="#333" stroke-width="0.278" transform="translate(186.80 569.30) scale(1 1.04)">52.5</text>
<text font-size="8.5" text-anchor="middle" fill="#1a1a1a" stroke="#1a1a1a" stroke-width="0.268" transform="translate(126.50 590.20) scale(1 1.04)">SV Endpoint Coordinate (Mbp)</text>
<text font-size="15.5" text-anchor="start" fill="#1a1a1a" stroke="#1a1a1a" stroke-width="0.3" transform="translate(236.20 328.60) scale(1 1.04)">H</text>
<circle cx="336.00" cy="333.20" r="2.3" fill="#3b82c4" stroke="none" stroke-width="0.8"/>
<text font-size="7.3" text-anchor="start" fill="#1a1a1a" stroke="#1a1a1a" stroke-width="0.1" font-weight="bold" style='font-family:"Liberation Mono", monospace;white-space:pre' transform="translate(342.80 335.30) scale(1 1.0)">4</text>
<text font-size="7.3" text-anchor="start" fill="#1a1a1a" stroke="#1a1a1a" stroke-width="0.1" font-weight="bold" style='font-family:"Liberation Mono", monospace;white-space:pre' transform="translate(355.90 335.30) scale(1 1.0)">samples</text>
<rect x="313.10" y="344.70" width="94.10" height="52.50" fill="#e4e4e4" stroke="none" stroke-width="1"/>
<line x1="294.30" y1="396.60" x2="313.10" y2="396.60" stroke="#3b82c4" stroke-width="1.4"/>
<line x1="407.20" y1="396.60" x2="425.70" y2="396.60" stroke="#3b82c4" stroke-width="1.4"/>
<path d="M311.9 361.4h1.5v1.5h-1.5zM311.9 358.0h1.5v1.5h-1.5zM311.9 364.1h1.5v1.5h-1.5zM311.9 364.6h1.5v1.5h-1.5zM312.1 361.9h1.5v1.5h-1.5zM312.1 357.7h1.5v1.5h-1.5zM312.1 360.1h1.5v1.5h-1.5zM312.1 361.3h1.5v1.5h-1.5zM312.2 364.7h1.5v1.5h-1.5zM312.2 365.0h1.5v1.5h-1.5zM312.2 363.7h1.5v1.5h-1.5zM312.2 362.3h1.5v1.5h-1.5zM312.6 361.7h1.5v1.5h-1.5zM312.6 364.8h1.5v1.5h-1.5zM312.6 369.0h1.5v1.5h-1.5zM312.6 361.5h1.5v1.5h-1.5zM312.7 370.1h1.5v1.5h-1.5zM312.7 362.8h1.5v1.5h-1.5zM312.7 366.7h1.5v1.5h-1.5zM312.7 363.0h1.5v1.5h-1.5zM313.0 365.4h1.5v1.5h-1.5zM313.0 360.9h1.5v1.5h-1.5zM313.0 362.0h1.5v1.5h-1.5zM313.0 364.6h1.5v1.5h-1.5zM313.2 368.0h1.5v1.5h-1.5zM313.2 363.3h1.5v1.5h-1.5zM313.2 360.4h1.5v1.5h-1.5zM313.2 366.2h1.5v1.5h-1.5zM313.5 361.9h1.5v1.5h-1.5zM313.5 366.9h1.5v1.5h-1.5zM313.5 362.4h1.5v1.5h-1.5zM313.5 366.7h1.5v1.5h-1.5zM313.7 359.8h1.5v1.5h-1.5zM313.7 359.1h1.5v1.5h-1.5zM313.7 360.8h1.5v1.5h-1.5zM313.7 362.2h1.5v1.5h-1.5zM313.7 364.0h1.5v1.5h-1.5zM313.7 359.3h1.5v1.5h-1.5zM313.7 363.3h1.5v1.5h-1.5zM313.7 361.8h1.5v1.5h-1.5zM314.2 363.7h1.5v1.5h-1.5zM314.2 362.4h1.5v1.5h-1.5zM314.2 360.2h1.5v1.5h-1.5zM314.2 363.1h1.5v1.5h-1.5zM314.3 362.8h1.5v1.5h-1.5zM314.3 364.8h1.5v1.5h-1.5zM314.3 365.8h1.5v1.5h-1.5zM314.3 364.2h1.5v1.5h-1.5zM314.4 365.3h1.5v1.5h-1.5zM314.4 367.1h1.5v1.5h-1.5zM314.4 362.2h1.5v1.5h-1.5zM314.4 362.8h1.5v1.5h-1.5zM314.7 366.3h1.5v1.5h-1.5zM314.7 362.3h1.5v1.5h-1.5zM314.7 365.4h1.5v1.5h-1.5zM314.7 360.9h1.5v1.5h-1.5zM315.0 364.7h1.5v1.5h-1.5zM315.0 360.3h1.5v1.5h-1.5zM315.0 365.5h1.5v1.5h-1.5zM315.0 366.1h1.5v1.5h-1.5zM315.3 363.4h1.5v1.5h-1.5zM315.3 365.6h1.5v1.5h-1.5zM315.3 364.6h1.5v1.5h-1.5zM315.3 368.5h1.5v1.5h-1.5zM315.5 362.6h1.5v1.5h-1.5zM315.5 363.7h1.5v1.5h-1.5zM315.5 363.8h1.5v1.5h-1.5zM315.5 360.3h1.5v1.5h-1.5zM315.7 360.2h1.5v1.5h-1.5zM315.7 362.0h1.5v1.5h-1.5zM315.7 365.4h1.5v1.5h-1.5zM315.7 368.8h1.5v1.5h-1.5zM315.9 361.2h1.5v1.5h-1.5zM315.9 360.6h1.5v1.5h-1.5zM315.9 363.2h1.5v1.5h-1.5zM315.9 361.8h1.5v1.5h-1.5zM316.0 362.8h1.5v1.5h-1.5zM316.0 362.1h1.5v1.5h-1.5zM316.0 365.7h1.5v1.5h-1.5zM316.0 366.9h1.5v1.5h-1.5zM316.3 364.3h1.5v1.5h-1.5zM316.3 368.0h1.5v1.5h-1.5zM316.3 367.5h1.5v1.5h-1.5zM316.3 366.1h1.5v1.5h-1.5zM316.6 365.5h1.5v1.5h-1.5zM316.6 364.5h1.5v1.5h-1.5zM316.6 360.4h1.5v1.5h-1.5zM316.6 362.5h1.5v1.5h-1.5zM316.7 361.1h1.5v1.5h-1.5zM316.7 367.6h1.5v1.5h-1.5zM316.7 369.5h1.5v1.5h-1.5zM316.7 364.5h1.5v1.5h-1.5zM317.0 365.4h1.5v1.5h-1.5zM317.0 361.5h1.5v1.5h-1.5zM317.0 360.1h1.5v1.5h-1.5zM317.0 365.1h1.5v1.5h-1.5zM317.0 364.9h1.5v1.5h-1.5zM317.0 358.9h1.5v1.5h-1.5zM317.0 362.5h1.5v1.5h-1.5zM317.0 362.2h1.5v1.5h-1.5zM317.5 363.1h1.5v1.5h-1.5zM317.5 366.9h1.5v1.5h-1.5zM317.5 377.2h1.5v1.5h-1.5zM317.5 360.7h1.5v1.5h-1.5zM317.6 364.9h1.5v1.5h-1.5zM317.6 366.0h1.5v1.5h-1.5zM317.6 362.0h1.5v1.5h-1.5zM317.6 368.2h1.5v1.5h-1.5zM317.9 360.3h1.5v1.5h-1.5zM317.9 362.2h1.5v1.5h-1.5zM317.9 380.8h1.5v1.5h-1.5zM317.9 366.1h1.5v1.5h-1.5zM317.9 358.8h1.5v1.5h-1.5zM317.9 358.8h1.5v1.5h-1.5zM317.9 362.0h1.5v1.5h-1.5zM317.9 360.3h1.5v1.5h-1.5zM318.2 359.9h1.5v1.5h-1.5zM318.2 363.9h1.5v1.5h-1.5zM318.2 366.2h1.5v1.5h-1.5zM318.2 361.1h1.5v1.5h-1.5zM318.6 369.7h1.5v1.5h-1.5zM318.6 361.2h1.5v1.5h-1.5zM318.6 360.0h1.5v1.5h-1.5zM318.6 363.1h1.5v1.5h-1.5zM318.7 359.9h1.5v1.5h-1.5zM318.7 359.4h1.5v1.5h-1.5zM318.7 364.0h1.5v1.5h-1.5zM318.7 363.0h1.5v1.5h-1.5zM318.8 367.7h1.5v1.5h-1.5zM318.8 364.5h1.5v1.5h-1.5zM318.8 362.7h1.5v1.5h-1.5zM318.8 364.4h1.5v1.5h-1.5zM319.2 361.2h1.5v1.5h-1.5zM319.2 366.0h1.5v1.5h-1.5zM319.2 363.5h1.5v1.5h-1.5zM319.2 372.7h1.5v1.5h-1.5zM319.4 361.6h1.5v1.5h-1.5zM319.4 363.2h1.5v1.5h-1.5zM319.4 364.9h1.5v1.5h-1.5zM319.4 364.0h1.5v1.5h-1.5zM319.7 366.6h1.5v1.5h-1.5zM319.7 364.4h1.5v1.5h-1.5zM319.7 367.1h1.5v1.5h-1.5zM319.7 364.8h1.5v1.5h-1.5zM319.8 363.7h1.5v1.5h-1.5zM319.8 362.2h1.5v1.5h-1.5zM319.8 362.9h1.5v1.5h-1.5zM319.8 364.6h1.5v1.5h-1.5zM319.9 363.4h1.5v1.5h-1.5zM319.9 363.5h1.5v1.5h-1.5zM319.9 362.7h1.5v1.5h-1.5zM319.9 358.8h1.5v1.5h-1.5zM320.4 363.2h1.5v1.5h-1.5zM320.4 359.0h1.5v1.5h-1.5zM320.4 365.1h1.5v1.5h-1.5zM320.4 364.3h1.5v1.5h-1.5zM320.4 364.9h1.5v1.5h-1.5zM320.4 364.1h1.5v1.5h-1.5zM320.4 362.0h1.5v1.5h-1.5zM320.4 363.5h1.5v1.5h-1.5zM320.5 361.5h1.5v1.5h-1.5zM320.5 361.8h1.5v1.5h-1.5zM320.5 363.3h1.5v1.5h-1.5zM320.5 360.9h1.5v1.5h-1.5zM320.8 366.1h1.5v1.5h-1.5zM320.8 361.6h1.5v1.5h-1.5zM320.8 362.0h1.5v1.5h-1.5zM320.8 363.2h1.5v1.5h-1.5zM321.1 360.7h1.5v1.5h-1.5zM321.1 364.7h1.5v1.5h-1.5zM321.1 362.0h1.5v1.5h-1.5zM321.1 358.9h1.5v1.5h-1.5zM321.4 363.0h1.5v1.5h-1.5zM321.4 362.7h1.5v1.5h-1.5zM321.4 362.0h1.5v1.5h-1.5zM321.4 359.1h1.5v1.5h-1.5zM321.5 361.0h1.5v1.5h-1.5zM321.5 360.1h1.5v1.5h-1.5zM321.5 363.1h1.5v1.5h-1.5zM321.5 366.4h1.5v1.5h-1.5zM321.7 365.3h1.5v1.5h-1.5zM321.7 371.0h1.5v1.5h-1.5zM321.7 367.2h1.5v1.5h-1.5zM321.7 363.0h1.5v1.5h-1.5zM322.1 359.7h1.5v1.5h-1.5zM322.1 361.9h1.5v1.5h-1.5zM322.1 363.5h1.5v1.5h-1.5zM322.1 361.8h1.5v1.5h-1.5zM322.4 365.1h1.5v1.5h-1.5zM322.4 363.5h1.5v1.5h-1.5zM322.4 362.4h1.5v1.5h-1.5zM322.4 366.9h1.5v1.5h-1.5zM322.4 364.0h1.5v1.5h-1.5zM322.4 361.7h1.5v1.5h-1.5zM322.4 365.5h1.5v1.5h-1.5zM322.4 362.0h1.5v1.5h-1.5zM322.8 361.2h1.5v1.5h-1.5zM322.8 363.0h1.5v1.5h-1.5zM322.8 363.9h1.5v1.5h-1.5zM322.8 362.1h1.5v1.5h-1.5zM322.7 367.1h1.5v1.5h-1.5zM322.7 363.6h1.5v1.5h-1.5zM322.7 365.1h1.5v1.5h-1.5zM322.7 363.6h1.5v1.5h-1.5zM323.0 360.0h1.5v1.5h-1.5zM323.0 361.0h1.5v1.5h-1.5zM323.0 364.4h1.5v1.5h-1.5zM323.0 361.4h1.5v1.5h-1.5zM323.3 363.2h1.5v1.5h-1.5zM323.3 369.3h1.5v1.5h-1.5zM323.3 361.3h1.5v1.5h-1.5zM323.3 361.6h1.5v1.5h-1.5zM323.5 363.3h1.5v1.5h-1.5zM323.5 367.3h1.5v1.5h-1.5zM323.5 360.0h1.5v1.5h-1.5zM323.5 366.1h1.5v1.5h-1.5zM323.9 361.3h1.5v1.5h-1.5zM323.9 360.3h1.5v1.5h-1.5zM323.9 363.7h1.5v1.5h-1.5zM323.9 365.0h1.5v1.5h-1.5zM323.9 366.0h1.5v1.5h-1.5zM323.9 364.1h1.5v1.5h-1.5zM323.9 365.1h1.5v1.5h-1.5zM323.9 366.3h1.5v1.5h-1.5zM324.1 363.0h1.5v1.5h-1.5zM324.1 362.4h1.5v1.5h-1.5zM324.1 366.2h1.5v1.5h-1.5zM324.1 360.6h1.5v1.5h-1.5zM324.5 363.1h1.5v1.5h-1.5zM324.5 365.9h1.5v1.5h-1.5zM324.5 366.4h1.5v1.5h-1.5zM324.5 362.5h1.5v1.5h-1.5zM324.6 365.5h1.5v1.5h-1.5zM324.6 364.2h1.5v1.5h-1.5zM324.6 368.2h1.5v1.5h-1.5zM324.6 378.5h1.5v1.5h-1.5zM324.9 363.5h1.5v1.5h-1.5zM324.9 363.4h1.5v1.5h-1.5zM324.9 364.4h1.5v1.5h-1.5zM324.9 363.2h1.5v1.5h-1.5zM325.1 366.1h1.5v1.5h-1.5zM325.1 363.2h1.5v1.5h-1.5zM325.1 360.4h1.5v1.5h-1.5zM325.1 366.4h1.5v1.5h-1.5zM325.2 359.7h1.5v1.5h-1.5zM325.2 362.1h1.5v1.5h-1.5zM325.2 366.4h1.5v1.5h-1.5zM325.2 365.6h1.5v1.5h-1.5zM325.4 359.2h1.5v1.5h-1.5zM325.4 367.3h1.5v1.5h-1.5zM325.4 366.7h1.5v1.5h-1.5zM325.4 374.2h1.5v1.5h-1.5zM325.6 364.0h1.5v1.5h-1.5zM325.6 366.4h1.5v1.5h-1.5zM325.6 363.8h1.5v1.5h-1.5zM325.6 359.4h1.5v1.5h-1.5zM325.9 364.6h1.5v1.5h-1.5zM325.9 361.4h1.5v1.5h-1.5zM325.9 363.8h1.5v1.5h-1.5zM325.9 362.2h1.5v1.5h-1.5zM326.3 364.7h1.5v1.5h-1.5zM326.3 365.6h1.5v1.5h-1.5zM326.3 363.0h1.5v1.5h-1.5zM326.3 364.6h1.5v1.5h-1.5zM326.4 361.5h1.5v1.5h-1.5zM326.4 361.7h1.5v1.5h-1.5zM326.4 365.3h1.5v1.5h-1.5zM326.4 362.2h1.5v1.5h-1.5zM326.8 362.0h1.5v1.5h-1.5zM326.8 363.7h1.5v1.5h-1.5zM326.8 366.1h1.5v1.5h-1.5zM326.8 365.2h1.5v1.5h-1.5zM327.0 359.5h1.5v1.5h-1.5zM327.0 364.2h1.5v1.5h-1.5zM327.0 358.2h1.5v1.5h-1.5zM327.0 362.1h1.5v1.5h-1.5zM327.0 363.7h1.5v1.5h-1.5zM327.0 364.9h1.5v1.5h-1.5zM327.0 361.5h1.5v1.5h-1.5zM327.0 363.2h1.5v1.5h-1.5zM327.4 364.8h1.5v1.5h-1.5zM327.4 366.4h1.5v1.5h-1.5zM327.4 363.6h1.5v1.5h-1.5zM327.4 362.2h1.5v1.5h-1.5zM327.4 367.4h1.5v1.5h-1.5zM327.4 363.3h1.5v1.5h-1.5zM327.4 369.3h1.5v1.5h-1.5zM327.4 368.6h1.5v1.5h-1.5zM328.6 365.6h1.5v1.5h-1.5zM328.6 361.8h1.5v1.5h-1.5zM328.6 366.2h1.5v1.5h-1.5zM328.6 358.8h1.5v1.5h-1.5zM328.9 363.1h1.5v1.5h-1.5zM328.9 357.0h1.5v1.5h-1.5zM328.9 363.0h1.5v1.5h-1.5zM328.9 364.2h1.5v1.5h-1.5zM329.2 367.9h1.5v1.5h-1.5zM329.2 358.4h1.5v1.5h-1.5zM329.2 363.1h1.5v1.5h-1.5zM329.2 364.4h1.5v1.5h-1.5zM329.2 361.0h1.5v1.5h-1.5zM329.2 360.1h1.5v1.5h-1.5zM329.2 361.6h1.5v1.5h-1.5zM329.2 365.4h1.5v1.5h-1.5zM329.6 364.2h1.5v1.5h-1.5zM329.6 366.2h1.5v1.5h-1.5zM329.6 365.4h1.5v1.5h-1.5zM329.6 361.2h1.5v1.5h-1.5zM329.8 363.4h1.5v1.5h-1.5zM329.8 359.0h1.5v1.5h-1.5zM329.8 370.3h1.5v1.5h-1.5zM329.8 368.2h1.5v1.5h-1.5zM329.9 363.8h1.5v1.5h-1.5zM329.9 364.4h1.5v1.5h-1.5zM329.9 365.5h1.5v1.5h-1.5zM329.9 363.5h1.5v1.5h-1.5zM330.2 365.9h1.5v1.5h-1.5zM330.2 365.6h1.5v1.5h-1.5zM330.2 362.7h1.5v1.5h-1.5zM330.2 362.7h1.5v1.5h-1.5zM330.3 363.2h1.5v1.5h-1.5zM330.3 370.9h1.5v1.5h-1.5zM330.3 361.7h1.5v1.5h-1.5zM330.3 363.7h1.5v1.5h-1.5zM330.6 362.8h1.5v1.5h-1.5zM330.6 363.6h1.5v1.5h-1.5zM330.6 367.4h1.5v1.5h-1.5zM330.6 363.1h1.5v1.5h-1.5zM330.8 364.9h1.5v1.5h-1.5zM330.8 367.0h1.5v1.5h-1.5zM330.8 364.1h1.5v1.5h-1.5zM330.8 364.0h1.5v1.5h-1.5zM331.0 359.2h1.5v1.5h-1.5zM331.0 363.6h1.5v1.5h-1.5zM331.0 363.2h1.5v1.5h-1.5zM331.0 362.5h1.5v1.5h-1.5zM331.3 361.9h1.5v1.5h-1.5zM331.3 361.4h1.5v1.5h-1.5zM331.3 364.5h1.5v1.5h-1.5zM331.3 359.4h1.5v1.5h-1.5zM331.4 363.6h1.5v1.5h-1.5zM331.4 360.8h1.5v1.5h-1.5zM331.4 360.7h1.5v1.5h-1.5zM331.4 370.9h1.5v1.5h-1.5zM331.7 361.2h1.5v1.5h-1.5zM331.7 363.2h1.5v1.5h-1.5zM331.7 366.1h1.5v1.5h-1.5zM331.7 367.2h1.5v1.5h-1.5zM331.9 364.1h1.5v1.5h-1.5zM331.9 362.0h1.5v1.5h-1.5zM331.9 368.9h1.5v1.5h-1.5zM331.9 363.0h1.5v1.5h-1.5zM332.1 362.0h1.5v1.5h-1.5zM332.1 367.8h1.5v1.5h-1.5zM332.1 362.2h1.5v1.5h-1.5zM332.1 367.3h1.5v1.5h-1.5zM332.2 363.7h1.5v1.5h-1.5zM332.2 362.8h1.5v1.5h-1.5zM332.2 362.4h1.5v1.5h-1.5zM332.2 362.4h1.5v1.5h-1.5zM332.5 379.6h1.5v1.5h-1.5zM332.5 365.5h1.5v1.5h-1.5zM332.5 363.7h1.5v1.5h-1.5zM332.5 363.3h1.5v1.5h-1.5zM332.8 368.9h1.5v1.5h-1.5zM332.8 364.0h1.5v1.5h-1.5zM332.8 362.1h1.5v1.5h-1.5zM332.8 365.4h1.5v1.5h-1.5zM333.1 362.2h1.5v1.5h-1.5zM333.1 362.6h1.5v1.5h-1.5zM333.1 363.7h1.5v1.5h-1.5zM333.1 362.8h1.5v1.5h-1.5zM333.2 361.9h1.5v1.5h-1.5zM333.2 366.9h1.5v1.5h-1.5zM333.2 363.4h1.5v1.5h-1.5zM333.2 363.8h1.5v1.5h-1.5zM333.5 360.8h1.5v1.5h-1.5zM333.5 366.4h1.5v1.5h-1.5zM333.5 362.5h1.5v1.5h-1.5zM333.5 362.9h1.5v1.5h-1.5zM333.8 366.4h1.5v1.5h-1.5zM333.8 361.5h1.5v1.5h-1.5zM333.8 364.0h1.5v1.5h-1.5zM333.8 366.8h1.5v1.5h-1.5zM334.0 372.3h1.5v1.5h-1.5zM334.0 365.8h1.5v1.5h-1.5zM334.0 366.8h1.5v1.5h-1.5zM334.0 368.0h1.5v1.5h-1.5zM334.0 364.7h1.5v1.5h-1.5zM334.0 357.4h1.5v1.5h-1.5zM334.0 365.7h1.5v1.5h-1.5zM334.0 365.6h1.5v1.5h-1.5zM334.3 362.3h1.5v1.5h-1.5zM334.3 363.9h1.5v1.5h-1.5zM334.3 361.2h1.5v1.5h-1.5zM334.3 363.1h1.5v1.5h-1.5zM334.5 365.4h1.5v1.5h-1.5zM334.5 365.7h1.5v1.5h-1.5zM334.5 361.1h1.5v1.5h-1.5zM334.5 364.3h1.5v1.5h-1.5zM334.8 364.1h1.5v1.5h-1.5zM334.8 373.4h1.5v1.5h-1.5zM334.8 360.0h1.5v1.5h-1.5zM334.8 361.4h1.5v1.5h-1.5zM334.9 363.5h1.5v1.5h-1.5zM334.9 360.3h1.5v1.5h-1.5zM334.9 366.0h1.5v1.5h-1.5zM334.9 360.7h1.5v1.5h-1.5zM335.2 365.6h1.5v1.5h-1.5zM335.2 360.2h1.5v1.5h-1.5zM335.2 364.1h1.5v1.5h-1.5zM335.2 364.6h1.5v1.5h-1.5zM335.5 370.7h1.5v1.5h-1.5zM335.5 361.6h1.5v1.5h-1.5zM335.5 361.7h1.5v1.5h-1.5zM335.5 361.8h1.5v1.5h-1.5zM335.6 367.7h1.5v1.5h-1.5zM335.6 362.3h1.5v1.5h-1.5zM335.6 363.7h1.5v1.5h-1.5zM335.6 363.4h1.5v1.5h-1.5zM336.0 362.2h1.5v1.5h-1.5zM336.0 360.9h1.5v1.5h-1.5zM336.0 364.4h1.5v1.5h-1.5zM336.0 362.4h1.5v1.5h-1.5zM336.2 363.4h1.5v1.5h-1.5zM336.2 361.7h1.5v1.5h-1.5zM336.2 362.4h1.5v1.5h-1.5zM336.2 364.9h1.5v1.5h-1.5zM336.4 367.5h1.5v1.5h-1.5zM336.4 364.1h1.5v1.5h-1.5zM336.4 363.7h1.5v1.5h-1.5zM336.4 362.7h1.5v1.5h-1.5zM336.5 364.0h1.5v1.5h-1.5zM336.5 365.8h1.5v1.5h-1.5zM336.5 358.5h1.5v1.5h-1.5zM336.5 364.5h1.5v1.5h-1.5zM336.8 363.1h1.5v1.5h-1.5zM336.8 363.1h1.5v1.5h-1.5zM336.8 361.7h1.5v1.5h-1.5zM336.8 365.3h1.5v1.5h-1.5zM337.1 366.8h1.5v1.5h-1.5zM337.1 363.7h1.5v1.5h-1.5zM337.1 362.2h1.5v1.5h-1.5zM337.1 367.0h1.5v1.5h-1.5zM337.3 366.2h1.5v1.5h-1.5zM337.3 364.8h1.5v1.5h-1.5zM337.3 359.1h1.5v1.5h-1.5zM337.3 362.3h1.5v1.5h-1.5zM337.4 359.5h1.5v1.5h-1.5zM337.4 360.0h1.5v1.5h-1.5zM337.4 359.0h1.5v1.5h-1.5zM337.4 362.6h1.5v1.5h-1.5zM337.7 365.1h1.5v1.5h-1.5zM337.7 367.6h1.5v1.5h-1.5zM337.7 361.5h1.5v1.5h-1.5zM337.7 361.7h1.5v1.5h-1.5zM337.9 366.1h1.5v1.5h-1.5zM337.9 367.3h1.5v1.5h-1.5zM337.9 366.7h1.5v1.5h-1.5zM337.9 363.7h1.5v1.5h-1.5zM338.1 366.6h1.5v1.5h-1.5zM338.1 363.1h1.5v1.5h-1.5zM338.1 362.2h1.5v1.5h-1.5zM338.1 370.5h1.5v1.5h-1.5zM338.4 362.3h1.5v1.5h-1.5zM338.4 360.5h1.5v1.5h-1.5zM338.4 358.9h1.5v1.5h-1.5zM338.4 367.3h1.5v1.5h-1.5zM338.5 364.6h1.5v1.5h-1.5zM338.5 361.3h1.5v1.5h-1.5zM338.5 364.6h1.5v1.5h-1.5zM338.5 361.5h1.5v1.5h-1.5zM338.6 365.9h1.5v1.5h-1.5zM338.6 363.6h1.5v1.5h-1.5zM338.6 361.6h1.5v1.5h-1.5zM338.6 364.2h1.5v1.5h-1.5zM338.8 363.9h1.5v1.5h-1.5zM338.8 375.8h1.5v1.5h-1.5zM338.8 362.7h1.5v1.5h-1.5zM338.8 367.9h1.5v1.5h-1.5zM339.3 383.3h1.5v1.5h-1.5zM339.3 364.2h1.5v1.5h-1.5zM339.3 365.0h1.5v1.5h-1.5zM339.3 361.6h1.5v1.5h-1.5zM339.5 359.0h1.5v1.5h-1.5zM339.5 360.5h1.5v1.5h-1.5zM339.5 363.1h1.5v1.5h-1.5zM339.5 366.0h1.5v1.5h-1.5zM339.6 359.8h1.5v1.5h-1.5zM339.6 364.5h1.5v1.5h-1.5zM339.6 363.5h1.5v1.5h-1.5zM339.6 362.2h1.5v1.5h-1.5zM339.8 363.4h1.5v1.5h-1.5zM339.8 362.7h1.5v1.5h-1.5zM339.8 362.0h1.5v1.5h-1.5zM339.8 360.1h1.5v1.5h-1.5zM340.1 359.6h1.5v1.5h-1.5zM340.1 362.4h1.5v1.5h-1.5zM340.1 363.2h1.5v1.5h-1.5zM340.1 368.3h1.5v1.5h-1.5zM340.3 362.1h1.5v1.5h-1.5zM340.3 369.0h1.5v1.5h-1.5zM340.3 367.6h1.5v1.5h-1.5zM340.3 362.4h1.5v1.5h-1.5zM340.4 359.5h1.5v1.5h-1.5zM340.4 363.7h1.5v1.5h-1.5zM340.4 361.6h1.5v1.5h-1.5zM340.4 363.9h1.5v1.5h-1.5zM340.8 367.4h1.5v1.5h-1.5zM340.8 362.0h1.5v1.5h-1.5zM340.8 360.9h1.5v1.5h-1.5zM340.8 364.0h1.5v1.5h-1.5zM341.1 367.0h1.5v1.5h-1.5zM341.1 360.8h1.5v1.5h-1.5zM341.1 361.5h1.5v1.5h-1.5zM341.1 364.8h1.5v1.5h-1.5zM341.1 357.1h1.5v1.5h-1.5zM341.1 362.0h1.5v1.5h-1.5zM341.1 363.3h1.5v1.5h-1.5zM341.1 365.5h1.5v1.5h-1.5zM341.3 364.4h1.5v1.5h-1.5zM341.3 366.0h1.5v1.5h-1.5zM341.3 363.5h1.5v1.5h-1.5zM341.3 362.0h1.5v1.5h-1.5zM341.5 362.8h1.5v1.5h-1.5zM341.5 365.1h1.5v1.5h-1.5zM341.5 364.2h1.5v1.5h-1.5zM341.5 364.3h1.5v1.5h-1.5zM341.9 367.2h1.5v1.5h-1.5zM341.9 353.7h1.5v1.5h-1.5zM341.9 360.5h1.5v1.5h-1.5zM341.9 367.4h1.5v1.5h-1.5zM342.0 365.8h1.5v1.5h-1.5zM342.0 365.8h1.5v1.5h-1.5zM342.0 365.0h1.5v1.5h-1.5zM342.0 364.0h1.5v1.5h-1.5zM342.2 363.9h1.5v1.5h-1.5zM342.2 367.7h1.5v1.5h-1.5zM342.2 362.7h1.5v1.5h-1.5zM342.2 364.2h1.5v1.5h-1.5zM342.6 363.7h1.5v1.5h-1.5zM342.6 363.8h1.5v1.5h-1.5zM342.6 361.2h1.5v1.5h-1.5zM342.6 366.5h1.5v1.5h-1.5zM342.7 361.9h1.5v1.5h-1.5zM342.7 362.8h1.5v1.5h-1.5zM342.7 361.2h1.5v1.5h-1.5zM342.7 363.4h1.5v1.5h-1.5zM342.9 364.3h1.5v1.5h-1.5zM342.9 362.4h1.5v1.5h-1.5zM342.9 365.1h1.5v1.5h-1.5zM342.9 364.8h1.5v1.5h-1.5zM343.2 365.9h1.5v1.5h-1.5zM343.2 358.0h1.5v1.5h-1.5zM343.2 363.9h1.5v1.5h-1.5zM343.2 364.8h1.5v1.5h-1.5zM343.5 363.2h1.5v1.5h-1.5zM343.5 361.5h1.5v1.5h-1.5zM343.5 362.6h1.5v1.5h-1.5zM343.5 360.9h1.5v1.5h-1.5zM343.6 363.7h1.5v1.5h-1.5zM343.6 361.1h1.5v1.5h-1.5zM343.6 365.5h1.5v1.5h-1.5zM343.6 362.4h1.5v1.5h-1.5zM343.9 363.2h1.5v1.5h-1.5zM343.9 365.6h1.5v1.5h-1.5zM343.9 362.0h1.5v1.5h-1.5zM343.9 363.7h1.5v1.5h-1.5zM343.9 363.4h1.5v1.5h-1.5zM343.9 365.1h1.5v1.5h-1.5zM343.9 361.6h1.5v1.5h-1.5zM343.9 358.5h1.5v1.5h-1.5zM344.2 365.2h1.5v1.5h-1.5zM344.2 364.5h1.5v1.5h-1.5zM344.2 363.2h1.5v1.5h-1.5zM344.2 361.5h1.5v1.5h-1.5zM344.5 361.9h1.5v1.5h-1.5zM344.5 362.6h1.5v1.5h-1.5zM344.5 365.0h1.5v1.5h-1.5zM344.5 365.4h1.5v1.5h-1.5zM344.8 361.2h1.5v1.5h-1.5zM344.8 363.5h1.5v1.5h-1.5zM344.8 363.6h1.5v1.5h-1.5zM344.8 365.1h1.5v1.5h-1.5zM344.9 363.2h1.5v1.5h-1.5zM344.9 362.7h1.5v1.5h-1.5zM344.9 365.1h1.5v1.5h-1.5zM344.9 363.2h1.5v1.5h-1.5zM345.2 362.9h1.5v1.5h-1.5zM345.2 359.6h1.5v1.5h-1.5zM345.2 363.9h1.5v1.5h-1.5zM345.2 364.1h1.5v1.5h-1.5zM345.5 364.4h1.5v1.5h-1.5zM345.5 362.9h1.5v1.5h-1.5zM345.5 362.6h1.5v1.5h-1.5zM345.5 366.3h1.5v1.5h-1.5zM345.7 362.6h1.5v1.5h-1.5zM345.7 365.6h1.5v1.5h-1.5zM345.7 365.3h1.5v1.5h-1.5zM345.7 362.3h1.5v1.5h-1.5zM345.8 364.0h1.5v1.5h-1.5zM345.8 366.9h1.5v1.5h-1.5zM345.8 366.1h1.5v1.5h-1.5zM345.8 363.8h1.5v1.5h-1.5zM345.9 360.5h1.5v1.5h-1.5zM345.9 361.0h1.5v1.5h-1.5zM345.9 360.2h1.5v1.5h-1.5zM345.9 359.8h1.5v1.5h-1.5zM346.3 362.6h1.5v1.5h-1.5zM346.3 357.6h1.5v1.5h-1.5zM346.3 363.2h1.5v1.5h-1.5zM346.3 364.6h1.5v1.5h-1.5zM346.4 364.3h1.5v1.5h-1.5zM346.4 368.3h1.5v1.5h-1.5zM346.4 364.8h1.5v1.5h-1.5zM346.4 361.9h1.5v1.5h-1.5zM346.5 362.5h1.5v1.5h-1.5zM346.5 360.1h1.5v1.5h-1.5zM346.5 366.4h1.5v1.5h-1.5zM346.5 359.0h1.5v1.5h-1.5zM346.9 357.9h1.5v1.5h-1.5zM346.9 364.8h1.5v1.5h-1.5zM346.9 360.0h1.5v1.5h-1.5zM346.9 360.3h1.5v1.5h-1.5zM347.3 366.7h1.5v1.5h-1.5zM347.3 352.6h1.5v1.5h-1.5zM347.3 364.0h1.5v1.5h-1.5zM347.3 363.1h1.5v1.5h-1.5zM347.3 361.8h1.5v1.5h-1.5zM347.3 366.2h1.5v1.5h-1.5zM347.3 364.5h1.5v1.5h-1.5zM347.3 361.5h1.5v1.5h-1.5zM347.7 366.8h1.5v1.5h-1.5zM347.7 361.6h1.5v1.5h-1.5zM347.7 366.5h1.5v1.5h-1.5zM347.7 363.2h1.5v1.5h-1.5zM347.8 362.3h1.5v1.5h-1.5zM347.8 364.7h1.5v1.5h-1.5zM347.8 362.6h1.5v1.5h-1.5zM347.8 362.1h1.5v1.5h-1.5zM348.0 361.7h1.5v1.5h-1.5zM348.0 366.4h1.5v1.5h-1.5zM348.0 365.6h1.5v1.5h-1.5zM348.0 366.2h1.5v1.5h-1.5zM348.2 360.1h1.5v1.5h-1.5zM348.2 365.4h1.5v1.5h-1.5zM348.2 360.0h1.5v1.5h-1.5zM348.2 361.5h1.5v1.5h-1.5zM348.5 366.1h1.5v1.5h-1.5zM348.5 364.0h1.5v1.5h-1.5zM348.5 363.6h1.5v1.5h-1.5zM348.5 363.7h1.5v1.5h-1.5zM348.5 364.7h1.5v1.5h-1.5zM348.5 365.8h1.5v1.5h-1.5zM348.5 366.4h1.5v1.5h-1.5zM348.5 360.3h1.5v1.5h-1.5zM348.7 363.8h1.5v1.5h-1.5zM348.7 362.6h1.5v1.5h-1.5zM348.7 362.9h1.5v1.5h-1.5zM348.7 361.3h1.5v1.5h-1.5zM349.2 360.1h1.5v1.5h-1.5zM349.2 360.1h1.5v1.5h-1.5zM349.2 364.1h1.5v1.5h-1.5zM349.2 367.1h1.5v1.5h-1.5zM349.3 362.4h1.5v1.5h-1.5zM349.3 359.1h1.5v1.5h-1.5zM349.3 365.5h1.5v1.5h-1.5zM349.3 374.4h1.5v1.5h-1.5zM349.5 366.6h1.5v1.5h-1.5zM349.5 364.8h1.5v1.5h-1.5zM349.5 363.8h1.5v1.5h-1.5zM349.5 362.1h1.5v1.5h-1.5zM349.7 363.4h1.5v1.5h-1.5zM349.7 367.0h1.5v1.5h-1.5zM349.7 363.4h1.5v1.5h-1.5zM349.7 368.5h1.5v1.5h-1.5zM350.0 368.8h1.5v1.5h-1.5zM350.0 360.9h1.5v1.5h-1.5zM350.0 365.2h1.5v1.5h-1.5zM350.0 362.0h1.5v1.5h-1.5zM350.3 363.4h1.5v1.5h-1.5zM350.3 367.6h1.5v1.5h-1.5zM350.3 362.9h1.5v1.5h-1.5zM350.3 361.8h1.5v1.5h-1.5zM350.6 359.7h1.5v1.5h-1.5zM350.6 362.0h1.5v1.5h-1.5zM350.6 360.4h1.5v1.5h-1.5zM350.6 359.8h1.5v1.5h-1.5zM350.8 364.8h1.5v1.5h-1.5zM350.8 370.0h1.5v1.5h-1.5zM350.8 359.9h1.5v1.5h-1.5zM350.8 360.4h1.5v1.5h-1.5zM351.0 361.8h1.5v1.5h-1.5zM351.0 364.1h1.5v1.5h-1.5zM351.0 361.8h1.5v1.5h-1.5zM351.0 362.9h1.5v1.5h-1.5zM351.2 368.0h1.5v1.5h-1.5zM351.2 363.7h1.5v1.5h-1.5zM351.2 361.1h1.5v1.5h-1.5zM351.2 367.0h1.5v1.5h-1.5zM351.4 359.8h1.5v1.5h-1.5zM351.4 365.4h1.5v1.5h-1.5zM351.4 363.4h1.5v1.5h-1.5zM351.4 364.5h1.5v1.5h-1.5zM351.5 362.8h1.5v1.5h-1.5zM351.5 366.8h1.5v1.5h-1.5zM351.5 362.9h1.5v1.5h-1.5zM351.5 369.0h1.5v1.5h-1.5zM351.8 359.3h1.5v1.5h-1.5zM351.8 365.9h1.5v1.5h-1.5zM351.8 370.6h1.5v1.5h-1.5zM351.8 361.9h1.5v1.5h-1.5zM351.8 360.7h1.5v1.5h-1.5zM351.8 364.9h1.5v1.5h-1.5zM351.8 360.8h1.5v1.5h-1.5zM351.8 366.2h1.5v1.5h-1.5zM352.3 375.5h1.5v1.5h-1.5zM352.3 363.8h1.5v1.5h-1.5zM352.3 366.1h1.5v1.5h-1.5zM352.3 371.6h1.5v1.5h-1.5zM352.3 363.0h1.5v1.5h-1.5zM352.3 360.9h1.5v1.5h-1.5zM352.3 362.4h1.5v1.5h-1.5zM352.3 365.5h1.5v1.5h-1.5zM352.7 363.0h1.5v1.5h-1.5zM352.7 361.3h1.5v1.5h-1.5zM352.7 367.5h1.5v1.5h-1.5zM352.7 364.2h1.5v1.5h-1.5zM352.8 364.2h1.5v1.5h-1.5zM352.8 360.9h1.5v1.5h-1.5zM352.8 359.6h1.5v1.5h-1.5zM352.8 365.2h1.5v1.5h-1.5zM353.0 359.8h1.5v1.5h-1.5zM353.0 361.4h1.5v1.5h-1.5zM353.0 360.5h1.5v1.5h-1.5zM353.0 363.6h1.5v1.5h-1.5zM353.2 363.4h1.5v1.5h-1.5zM353.2 365.6h1.5v1.5h-1.5zM353.2 362.0h1.5v1.5h-1.5zM353.2 364.1h1.5v1.5h-1.5zM353.5 367.5h1.5v1.5h-1.5zM353.5 361.0h1.5v1.5h-1.5zM353.5 362.6h1.5v1.5h-1.5zM353.5 359.4h1.5v1.5h-1.5zM353.7 360.3h1.5v1.5h-1.5zM353.7 363.9h1.5v1.5h-1.5zM353.7 364.8h1.5v1.5h-1.5zM353.7 365.0h1.5v1.5h-1.5zM354.1 367.5h1.5v1.5h-1.5zM354.1 366.5h1.5v1.5h-1.5zM354.1 367.8h1.5v1.5h-1.5zM354.1 359.6h1.5v1.5h-1.5zM354.3 362.6h1.5v1.5h-1.5zM354.3 362.3h1.5v1.5h-1.5zM354.3 363.8h1.5v1.5h-1.5zM354.3 364.9h1.5v1.5h-1.5zM354.5 383.5h1.5v1.5h-1.5zM354.5 361.6h1.5v1.5h-1.5zM354.5 361.6h1.5v1.5h-1.5zM354.5 366.1h1.5v1.5h-1.5zM354.7 363.8h1.5v1.5h-1.5zM354.7 363.1h1.5v1.5h-1.5zM354.7 363.0h1.5v1.5h-1.5zM354.7 363.1h1.5v1.5h-1.5zM354.8 362.3h1.5v1.5h-1.5zM354.8 366.3h1.5v1.5h-1.5zM354.8 359.2h1.5v1.5h-1.5zM354.8 364.7h1.5v1.5h-1.5zM355.1 363.8h1.5v1.5h-1.5zM355.1 364.6h1.5v1.5h-1.5zM355.1 365.1h1.5v1.5h-1.5zM355.1 364.5h1.5v1.5h-1.5zM355.4 362.7h1.5v1.5h-1.5zM355.4 365.5h1.5v1.5h-1.5zM355.4 364.8h1.5v1.5h-1.5zM355.4 363.6h1.5v1.5h-1.5zM355.4 362.2h1.5v1.5h-1.5zM355.4 364.7h1.5v1.5h-1.5zM355.4 363.8h1.5v1.5h-1.5zM355.4 368.4h1.5v1.5h-1.5zM355.8 361.1h1.5v1.5h-1.5zM355.8 361.5h1.5v1.5h-1.5zM355.8 363.2h1.5v1.5h-1.5zM355.8 361.1h1.5v1.5h-1.5zM355.9 370.3h1.5v1.5h-1.5zM355.9 364.9h1.5v1.5h-1.5zM355.9 364.0h1.5v1.5h-1.5zM355.9 365.6h1.5v1.5h-1.5zM356.1 363.0h1.5v1.5h-1.5zM356.1 363.3h1.5v1.5h-1.5zM356.1 367.6h1.5v1.5h-1.5zM356.1 364.8h1.5v1.5h-1.5zM356.3 361.2h1.5v1.5h-1.5zM356.3 365.1h1.5v1.5h-1.5zM356.3 363.1h1.5v1.5h-1.5zM356.3 362.2h1.5v1.5h-1.5zM356.5 362.2h1.5v1.5h-1.5zM356.5 365.0h1.5v1.5h-1.5zM356.5 363.6h1.5v1.5h-1.5zM356.5 368.4h1.5v1.5h-1.5zM356.7 363.6h1.5v1.5h-1.5zM356.7 364.1h1.5v1.5h-1.5zM356.7 363.3h1.5v1.5h-1.5zM356.7 363.7h1.5v1.5h-1.5zM356.9 363.7h1.5v1.5h-1.5zM356.9 364.5h1.5v1.5h-1.5zM356.9 362.9h1.5v1.5h-1.5zM356.9 364.6h1.5v1.5h-1.5zM357.2 363.3h1.5v1.5h-1.5zM357.2 367.9h1.5v1.5h-1.5zM357.2 364.3h1.5v1.5h-1.5zM357.2 364.3h1.5v1.5h-1.5zM357.6 365.1h1.5v1.5h-1.5zM357.6 363.3h1.5v1.5h-1.5zM357.6 365.6h1.5v1.5h-1.5zM357.6 368.9h1.5v1.5h-1.5zM357.7 362.6h1.5v1.5h-1.5zM357.7 371.8h1.5v1.5h-1.5zM357.7 365.2h1.5v1.5h-1.5zM357.7 366.1h1.5v1.5h-1.5zM357.8 360.3h1.5v1.5h-1.5zM357.8 364.2h1.5v1.5h-1.5zM357.8 359.4h1.5v1.5h-1.5zM357.8 372.7h1.5v1.5h-1.5zM358.3 359.7h1.5v1.5h-1.5zM358.3 360.5h1.5v1.5h-1.5zM358.3 364.2h1.5v1.5h-1.5zM358.3 360.8h1.5v1.5h-1.5zM358.3 359.8h1.5v1.5h-1.5zM358.3 363.2h1.5v1.5h-1.5zM358.3 362.9h1.5v1.5h-1.5zM358.3 365.4h1.5v1.5h-1.5zM358.6 365.9h1.5v1.5h-1.5zM358.6 368.1h1.5v1.5h-1.5zM358.6 362.4h1.5v1.5h-1.5zM358.6 367.5h1.5v1.5h-1.5zM358.7 362.6h1.5v1.5h-1.5zM358.7 360.1h1.5v1.5h-1.5zM358.7 367.5h1.5v1.5h-1.5zM358.7 362.2h1.5v1.5h-1.5zM358.9 365.5h1.5v1.5h-1.5zM358.9 367.2h1.5v1.5h-1.5zM358.9 364.5h1.5v1.5h-1.5zM358.9 366.2h1.5v1.5h-1.5zM359.2 361.9h1.5v1.5h-1.5zM359.2 367.4h1.5v1.5h-1.5zM359.2 363.6h1.5v1.5h-1.5zM359.2 365.4h1.5v1.5h-1.5zM359.4 362.8h1.5v1.5h-1.5zM359.4 366.3h1.5v1.5h-1.5zM359.4 363.2h1.5v1.5h-1.5zM359.4 363.4h1.5v1.5h-1.5zM359.6 361.5h1.5v1.5h-1.5zM359.6 362.1h1.5v1.5h-1.5zM359.6 359.0h1.5v1.5h-1.5zM359.6 365.3h1.5v1.5h-1.5zM359.9 363.8h1.5v1.5h-1.5zM359.9 360.7h1.5v1.5h-1.5zM359.9 361.4h1.5v1.5h-1.5zM359.9 379.6h1.5v1.5h-1.5zM360.2 363.5h1.5v1.5h-1.5zM360.2 363.4h1.5v1.5h-1.5zM360.2 364.2h1.5v1.5h-1.5zM360.2 362.7h1.5v1.5h-1.5zM360.3 365.9h1.5v1.5h-1.5zM360.3 359.8h1.5v1.5h-1.5zM360.3 363.3h1.5v1.5h-1.5zM360.3 362.9h1.5v1.5h-1.5zM360.6 361.4h1.5v1.5h-1.5zM360.6 364.2h1.5v1.5h-1.5zM360.6 366.9h1.5v1.5h-1.5zM360.6 364.9h1.5v1.5h-1.5zM360.8 362.1h1.5v1.5h-1.5zM360.8 365.6h1.5v1.5h-1.5zM360.8 360.3h1.5v1.5h-1.5zM360.8 364.9h1.5v1.5h-1.5zM360.9 369.8h1.5v1.5h-1.5zM360.9 364.0h1.5v1.5h-1.5zM360.9 365.6h1.5v1.5h-1.5zM360.9 365.2h1.5v1.5h-1.5zM361.2 361.6h1.5v1.5h-1.5zM361.2 364.6h1.5v1.5h-1.5zM361.2 361.8h1.5v1.5h-1.5zM361.2 362.7h1.5v1.5h-1.5zM361.6 361.4h1.5v1.5h-1.5zM361.6 366.1h1.5v1.5h-1.5zM361.6 360.5h1.5v1.5h-1.5zM361.6 361.7h1.5v1.5h-1.5zM361.6 370.0h1.5v1.5h-1.5zM361.6 359.5h1.5v1.5h-1.5zM361.6 366.2h1.5v1.5h-1.5zM361.6 362.1h1.5v1.5h-1.5zM361.8 365.0h1.5v1.5h-1.5zM361.8 359.2h1.5v1.5h-1.5zM361.8 363.0h1.5v1.5h-1.5zM361.8 363.1h1.5v1.5h-1.5zM362.1 362.2h1.5v1.5h-1.5zM362.1 366.4h1.5v1.5h-1.5zM362.1 362.5h1.5v1.5h-1.5zM362.1 364.9h1.5v1.5h-1.5zM362.5 364.4h1.5v1.5h-1.5zM362.5 359.6h1.5v1.5h-1.5zM362.5 364.9h1.5v1.5h-1.5zM362.5 365.5h1.5v1.5h-1.5zM362.5 360.2h1.5v1.5h-1.5zM362.5 364.8h1.5v1.5h-1.5zM362.5 364.0h1.5v1.5h-1.5zM362.5 364.1h1.5v1.5h-1.5zM362.7 365.5h1.5v1.5h-1.5zM362.7 364.5h1.5v1.5h-1.5zM362.7 360.3h1.5v1.5h-1.5zM362.7 365.1h1.5v1.5h-1.5zM362.9 366.1h1.5v1.5h-1.5zM362.9 361.5h1.5v1.5h-1.5zM362.9 363.2h1.5v1.5h-1.5zM362.9 366.2h1.5v1.5h-1.5zM363.2 364.4h1.5v1.5h-1.5zM363.2 361.5h1.5v1.5h-1.5zM363.2 363.4h1.5v1.5h-1.5zM363.2 357.1h1.5v1.5h-1.5zM363.5 361.4h1.5v1.5h-1.5zM363.5 365.0h1.5v1.5h-1.5zM363.5 378.2h1.5v1.5h-1.5zM363.5 364.3h1.5v1.5h-1.5zM363.6 366.7h1.5v1.5h-1.5zM363.6 358.0h1.5v1.5h-1.5zM363.6 364.8h1.5v1.5h-1.5zM363.6 363.2h1.5v1.5h-1.5zM364.0 361.8h1.5v1.5h-1.5zM364.0 361.7h1.5v1.5h-1.5zM364.0 359.6h1.5v1.5h-1.5zM364.0 360.3h1.5v1.5h-1.5zM364.1 367.6h1.5v1.5h-1.5zM364.1 368.9h1.5v1.5h-1.5zM364.1 363.1h1.5v1.5h-1.5zM364.1 359.5h1.5v1.5h-1.5zM364.2 362.7h1.5v1.5h-1.5zM364.2 364.5h1.5v1.5h-1.5zM364.2 365.8h1.5v1.5h-1.5zM364.2 362.9h1.5v1.5h-1.5zM364.6 360.0h1.5v1.5h-1.5zM364.6 369.8h1.5v1.5h-1.5zM364.6 358.6h1.5v1.5h-1.5zM364.6 363.9h1.5v1.5h-1.5zM364.7 363.4h1.5v1.5h-1.5zM364.7 364.4h1.5v1.5h-1.5zM364.7 365.1h1.5v1.5h-1.5zM364.7 365.3h1.5v1.5h-1.5zM365.1 360.3h1.5v1.5h-1.5zM365.1 365.9h1.5v1.5h-1.5zM365.1 364.4h1.5v1.5h-1.5zM365.1 358.9h1.5v1.5h-1.5zM365.1 371.7h1.5v1.5h-1.5zM365.1 357.7h1.5v1.5h-1.5zM365.1 363.8h1.5v1.5h-1.5zM365.1 366.2h1.5v1.5h-1.5zM365.5 364.8h1.5v1.5h-1.5zM365.5 362.0h1.5v1.5h-1.5zM365.5 359.5h1.5v1.5h-1.5zM365.5 364.2h1.5v1.5h-1.5zM365.6 363.6h1.5v1.5h-1.5zM365.6 361.5h1.5v1.5h-1.5zM365.6 365.8h1.5v1.5h-1.5zM365.6 364.9h1.5v1.5h-1.5zM365.9 364.5h1.5v1.5h-1.5zM365.9 363.1h1.5v1.5h-1.5zM365.9 362.0h1.5v1.5h-1.5zM365.9 367.1h1.5v1.5h-1.5zM366.1 366.3h1.5v1.5h-1.5zM366.1 360.5h1.5v1.5h-1.5zM366.1 362.2h1.5v1.5h-1.5zM366.1 361.7h1.5v1.5h-1.5zM366.3 364.8h1.5v1.5h-1.5zM366.3 364.8h1.5v1.5h-1.5zM366.3 361.8h1.5v1.5h-1.5zM366.3 365.5h1.5v1.5h-1.5zM366.6 362.5h1.5v1.5h-1.5zM366.6 366.0h1.5v1.5h-1.5zM366.6 361.6h1.5v1.5h-1.5zM366.6 365.4h1.5v1.5h-1.5zM366.8 363.0h1.5v1.5h-1.5zM366.8 364.2h1.5v1.5h-1.5zM366.8 364.6h1.5v1.5h-1.5zM366.8 361.9h1.5v1.5h-1.5zM367.0 358.8h1.5v1.5h-1.5zM367.0 362.1h1.5v1.5h-1.5zM367.0 362.7h1.5v1.5h-1.5zM367.0 367.3h1.5v1.5h-1.5zM367.2 362.5h1.5v1.5h-1.5zM367.2 363.4h1.5v1.5h-1.5zM367.2 366.8h1.5v1.5h-1.5zM367.2 362.9h1.5v1.5h-1.5zM367.5 362.4h1.5v1.5h-1.5zM367.5 362.2h1.5v1.5h-1.5zM367.5 364.7h1.5v1.5h-1.5zM367.5 361.1h1.5v1.5h-1.5zM367.6 364.1h1.5v1.5h-1.5zM367.6 364.1h1.5v1.5h-1.5zM367.6 353.6h1.5v1.5h-1.5zM367.6 363.8h1.5v1.5h-1.5zM367.9 365.6h1.5v1.5h-1.5zM367.9 384.1h1.5v1.5h-1.5zM367.9 362.3h1.5v1.5h-1.5zM367.9 370.4h1.5v1.5h-1.5zM367.9 360.5h1.5v1.5h-1.5zM367.9 362.1h1.5v1.5h-1.5zM367.9 363.5h1.5v1.5h-1.5zM367.9 358.4h1.5v1.5h-1.5zM368.3 363.8h1.5v1.5h-1.5zM368.3 367.8h1.5v1.5h-1.5zM368.3 361.7h1.5v1.5h-1.5zM368.3 360.6h1.5v1.5h-1.5zM368.5 362.8h1.5v1.5h-1.5zM368.5 360.2h1.5v1.5h-1.5zM368.5 362.0h1.5v1.5h-1.5zM368.5 367.2h1.5v1.5h-1.5zM368.7 359.9h1.5v1.5h-1.5zM368.7 364.8h1.5v1.5h-1.5zM368.7 361.3h1.5v1.5h-1.5zM368.7 362.9h1.5v1.5h-1.5zM369.0 367.6h1.5v1.5h-1.5zM369.0 363.5h1.5v1.5h-1.5zM369.0 362.2h1.5v1.5h-1.5zM369.0 364.8h1.5v1.5h-1.5zM369.3 363.2h1.5v1.5h-1.5zM369.3 361.7h1.5v1.5h-1.5zM369.3 366.8h1.5v1.5h-1.5zM369.3 364.3h1.5v1.5h-1.5zM369.3 365.1h1.5v1.5h-1.5zM369.3 362.4h1.5v1.5h-1.5zM369.3 362.6h1.5v1.5h-1.5zM369.3 364.2h1.5v1.5h-1.5zM369.6 364.6h1.5v1.5h-1.5zM369.6 369.0h1.5v1.5h-1.5zM369.6 363.8h1.5v1.5h-1.5zM369.6 370.4h1.5v1.5h-1.5zM369.9 362.9h1.5v1.5h-1.5zM369.9 362.5h1.5v1.5h-1.5zM369.9 363.3h1.5v1.5h-1.5zM369.9 365.5h1.5v1.5h-1.5zM370.2 358.0h1.5v1.5h-1.5zM370.2 362.7h1.5v1.5h-1.5zM370.2 364.2h1.5v1.5h-1.5zM370.2 363.4h1.5v1.5h-1.5zM370.3 366.1h1.5v1.5h-1.5zM370.3 362.2h1.5v1.5h-1.5zM370.3 361.6h1.5v1.5h-1.5zM370.3 361.8h1.5v1.5h-1.5zM370.5 364.2h1.5v1.5h-1.5zM370.5 359.6h1.5v1.5h-1.5zM370.5 363.7h1.5v1.5h-1.5zM370.5 363.2h1.5v1.5h-1.5zM370.8 360.5h1.5v1.5h-1.5zM370.8 359.8h1.5v1.5h-1.5zM370.8 358.7h1.5v1.5h-1.5zM370.8 363.9h1.5v1.5h-1.5zM371.1 363.9h1.5v1.5h-1.5zM371.1 369.4h1.5v1.5h-1.5zM371.1 369.6h1.5v1.5h-1.5zM371.1 362.8h1.5v1.5h-1.5zM371.1 362.8h1.5v1.5h-1.5zM371.1 359.2h1.5v1.5h-1.5zM371.1 362.2h1.5v1.5h-1.5zM371.1 365.1h1.5v1.5h-1.5zM371.4 369.1h1.5v1.5h-1.5zM371.4 363.6h1.5v1.5h-1.5zM371.4 356.7h1.5v1.5h-1.5zM371.4 361.4h1.5v1.5h-1.5zM371.7 363.2h1.5v1.5h-1.5zM371.7 366.8h1.5v1.5h-1.5zM371.7 363.4h1.5v1.5h-1.5zM371.7 364.3h1.5v1.5h-1.5zM371.7 363.7h1.5v1.5h-1.5zM371.7 365.4h1.5v1.5h-1.5zM371.7 362.6h1.5v1.5h-1.5zM371.7 362.7h1.5v1.5h-1.5zM372.1 362.2h1.5v1.5h-1.5zM372.1 364.0h1.5v1.5h-1.5zM372.1 374.5h1.5v1.5h-1.5zM372.1 360.0h1.5v1.5h-1.5zM372.1 359.7h1.5v1.5h-1.5zM372.1 363.2h1.5v1.5h-1.5zM372.1 365.1h1.5v1.5h-1.5zM372.1 361.4h1.5v1.5h-1.5zM372.4 361.7h1.5v1.5h-1.5zM372.4 366.2h1.5v1.5h-1.5zM372.4 365.0h1.5v1.5h-1.5zM372.4 376.0h1.5v1.5h-1.5zM372.6 363.7h1.5v1.5h-1.5zM372.6 365.3h1.5v1.5h-1.5zM372.6 363.3h1.5v1.5h-1.5zM372.6 362.9h1.5v1.5h-1.5zM372.9 365.5h1.5v1.5h-1.5zM372.9 362.9h1.5v1.5h-1.5zM372.9 361.6h1.5v1.5h-1.5zM372.9 362.0h1.5v1.5h-1.5zM373.1 362.7h1.5v1.5h-1.5zM373.1 354.3h1.5v1.5h-1.5zM373.1 363.8h1.5v1.5h-1.5zM373.1 362.0h1.5v1.5h-1.5zM373.2 358.8h1.5v1.5h-1.5zM373.2 360.9h1.5v1.5h-1.5zM373.2 367.1h1.5v1.5h-1.5zM373.2 361.7h1.5v1.5h-1.5zM373.5 373.8h1.5v1.5h-1.5zM373.5 363.5h1.5v1.5h-1.5zM373.5 361.8h1.5v1.5h-1.5zM373.5 360.9h1.5v1.5h-1.5zM373.8 367.3h1.5v1.5h-1.5zM373.8 362.0h1.5v1.5h-1.5zM373.8 371.0h1.5v1.5h-1.5zM373.8 362.3h1.5v1.5h-1.5zM373.9 364.4h1.5v1.5h-1.5zM373.9 365.3h1.5v1.5h-1.5zM373.9 369.5h1.5v1.5h-1.5zM373.9 364.7h1.5v1.5h-1.5zM374.4 363.0h1.5v1.5h-1.5zM374.4 364.4h1.5v1.5h-1.5zM374.4 362.9h1.5v1.5h-1.5zM374.4 364.3h1.5v1.5h-1.5zM374.6 357.6h1.5v1.5h-1.5zM374.6 363.4h1.5v1.5h-1.5zM374.6 362.7h1.5v1.5h-1.5zM374.6 363.9h1.5v1.5h-1.5zM374.8 361.3h1.5v1.5h-1.5zM374.8 364.0h1.5v1.5h-1.5zM374.8 369.5h1.5v1.5h-1.5zM374.8 359.6h1.5v1.5h-1.5zM374.9 364.8h1.5v1.5h-1.5zM374.9 360.7h1.5v1.5h-1.5zM374.9 364.7h1.5v1.5h-1.5zM374.9 362.0h1.5v1.5h-1.5zM375.1 363.1h1.5v1.5h-1.5zM375.1 367.7h1.5v1.5h-1.5zM375.1 361.3h1.5v1.5h-1.5zM375.1 364.3h1.5v1.5h-1.5zM375.4 359.2h1.5v1.5h-1.5zM375.4 363.7h1.5v1.5h-1.5zM375.4 364.2h1.5v1.5h-1.5zM375.4 362.5h1.5v1.5h-1.5zM375.6 362.5h1.5v1.5h-1.5zM375.6 363.7h1.5v1.5h-1.5zM375.6 366.5h1.5v1.5h-1.5zM375.6 360.4h1.5v1.5h-1.5zM375.9 360.5h1.5v1.5h-1.5zM375.9 363.2h1.5v1.5h-1.5zM375.9 363.8h1.5v1.5h-1.5zM375.9 359.0h1.5v1.5h-1.5zM376.0 364.8h1.5v1.5h-1.5zM376.0 362.7h1.5v1.5h-1.5zM376.0 367.1h1.5v1.5h-1.5zM376.0 363.5h1.5v1.5h-1.5zM376.3 363.7h1.5v1.5h-1.5zM376.3 364.4h1.5v1.5h-1.5zM376.3 362.9h1.5v1.5h-1.5zM376.3 364.5h1.5v1.5h-1.5zM376.3 363.6h1.5v1.5h-1.5zM376.3 364.4h1.5v1.5h-1.5zM376.3 366.5h1.5v1.5h-1.5zM376.3 363.3h1.5v1.5h-1.5zM376.7 363.5h1.5v1.5h-1.5zM376.7 364.4h1.5v1.5h-1.5zM376.7 361.1h1.5v1.5h-1.5zM376.7 367.4h1.5v1.5h-1.5zM376.9 364.2h1.5v1.5h-1.5zM376.9 364.5h1.5v1.5h-1.5zM376.9 363.6h1.5v1.5h-1.5zM376.9 365.6h1.5v1.5h-1.5zM377.2 361.6h1.5v1.5h-1.5zM377.2 361.1h1.5v1.5h-1.5zM377.2 363.5h1.5v1.5h-1.5zM377.2 368.6h1.5v1.5h-1.5zM377.4 362.9h1.5v1.5h-1.5zM377.4 363.5h1.5v1.5h-1.5zM377.4 361.8h1.5v1.5h-1.5zM377.4 363.9h1.5v1.5h-1.5zM377.5 363.5h1.5v1.5h-1.5zM377.5 364.5h1.5v1.5h-1.5zM377.5 362.7h1.5v1.5h-1.5zM377.5 376.2h1.5v1.5h-1.5zM377.7 364.4h1.5v1.5h-1.5zM377.7 364.1h1.5v1.5h-1.5zM377.7 367.2h1.5v1.5h-1.5zM377.7 362.1h1.5v1.5h-1.5zM377.9 362.9h1.5v1.5h-1.5zM377.9 365.1h1.5v1.5h-1.5zM377.9 363.3h1.5v1.5h-1.5zM377.9 361.3h1.5v1.5h-1.5zM378.1 360.7h1.5v1.5h-1.5zM378.1 361.9h1.5v1.5h-1.5zM378.1 366.8h1.5v1.5h-1.5zM378.1 376.9h1.5v1.5h-1.5zM378.6 366.9h1.5v1.5h-1.5zM378.6 360.6h1.5v1.5h-1.5zM378.6 362.3h1.5v1.5h-1.5zM378.6 366.9h1.5v1.5h-1.5zM378.6 361.4h1.5v1.5h-1.5zM378.6 363.8h1.5v1.5h-1.5zM378.6 366.1h1.5v1.5h-1.5zM378.6 361.1h1.5v1.5h-1.5zM378.8 365.5h1.5v1.5h-1.5zM378.8 364.3h1.5v1.5h-1.5zM378.8 364.4h1.5v1.5h-1.5zM378.8 362.9h1.5v1.5h-1.5zM379.2 363.1h1.5v1.5h-1.5zM379.2 365.4h1.5v1.5h-1.5zM379.2 363.9h1.5v1.5h-1.5zM379.2 365.1h1.5v1.5h-1.5zM379.4 362.0h1.5v1.5h-1.5zM379.4 361.4h1.5v1.5h-1.5zM379.4 364.9h1.5v1.5h-1.5zM379.4 364.9h1.5v1.5h-1.5zM379.7 363.3h1.5v1.5h-1.5zM379.7 362.0h1.5v1.5h-1.5zM379.7 365.6h1.5v1.5h-1.5zM379.7 362.8h1.5v1.5h-1.5zM379.7 362.7h1.5v1.5h-1.5zM379.7 365.8h1.5v1.5h-1.5zM379.7 361.8h1.5v1.5h-1.5zM379.7 365.7h1.5v1.5h-1.5zM380.0 363.0h1.5v1.5h-1.5zM380.0 362.9h1.5v1.5h-1.5zM380.0 360.0h1.5v1.5h-1.5zM380.0 366.0h1.5v1.5h-1.5zM380.2 361.5h1.5v1.5h-1.5zM380.2 363.9h1.5v1.5h-1.5zM380.2 364.1h1.5v1.5h-1.5zM380.2 364.4h1.5v1.5h-1.5zM380.3 364.9h1.5v1.5h-1.5zM380.3 360.4h1.5v1.5h-1.5zM380.3 361.8h1.5v1.5h-1.5zM380.3 361.2h1.5v1.5h-1.5zM380.5 360.9h1.5v1.5h-1.5zM380.5 361.7h1.5v1.5h-1.5zM380.5 361.9h1.5v1.5h-1.5zM380.5 363.9h1.5v1.5h-1.5zM380.8 364.8h1.5v1.5h-1.5zM380.8 362.8h1.5v1.5h-1.5zM380.8 363.0h1.5v1.5h-1.5zM380.8 362.8h1.5v1.5h-1.5zM381.1 366.8h1.5v1.5h-1.5zM381.1 368.8h1.5v1.5h-1.5zM381.1 363.8h1.5v1.5h-1.5zM381.1 359.8h1.5v1.5h-1.5zM381.3 363.1h1.5v1.5h-1.5zM381.3 363.3h1.5v1.5h-1.5zM381.3 365.0h1.5v1.5h-1.5zM381.3 364.2h1.5v1.5h-1.5zM381.6 360.1h1.5v1.5h-1.5zM381.6 362.9h1.5v1.5h-1.5zM381.6 363.2h1.5v1.5h-1.5zM381.6 365.4h1.5v1.5h-1.5zM381.9 364.6h1.5v1.5h-1.5zM381.9 361.2h1.5v1.5h-1.5zM381.9 363.9h1.5v1.5h-1.5zM381.9 374.1h1.5v1.5h-1.5zM382.0 364.0h1.5v1.5h-1.5zM382.0 363.9h1.5v1.5h-1.5zM382.0 370.0h1.5v1.5h-1.5zM382.0 362.2h1.5v1.5h-1.5zM382.1 363.2h1.5v1.5h-1.5zM382.1 361.6h1.5v1.5h-1.5zM382.1 364.6h1.5v1.5h-1.5zM382.1 362.0h1.5v1.5h-1.5zM382.5 361.3h1.5v1.5h-1.5zM382.5 364.5h1.5v1.5h-1.5zM382.5 365.3h1.5v1.5h-1.5zM382.5 367.0h1.5v1.5h-1.5zM382.5 361.5h1.5v1.5h-1.5zM382.5 360.3h1.5v1.5h-1.5zM382.5 362.1h1.5v1.5h-1.5zM382.5 363.3h1.5v1.5h-1.5zM382.8 360.3h1.5v1.5h-1.5zM382.8 363.4h1.5v1.5h-1.5zM382.8 361.1h1.5v1.5h-1.5zM382.8 362.8h1.5v1.5h-1.5zM383.1 359.4h1.5v1.5h-1.5zM383.1 365.3h1.5v1.5h-1.5zM383.1 366.1h1.5v1.5h-1.5zM383.1 364.0h1.5v1.5h-1.5zM383.1 361.8h1.5v1.5h-1.5zM383.1 366.9h1.5v1.5h-1.5zM383.1 362.4h1.5v1.5h-1.5zM383.1 361.3h1.5v1.5h-1.5zM383.5 364.5h1.5v1.5h-1.5zM383.5 362.1h1.5v1.5h-1.5zM383.5 367.0h1.5v1.5h-1.5zM383.5 366.7h1.5v1.5h-1.5zM383.6 363.7h1.5v1.5h-1.5zM383.6 359.4h1.5v1.5h-1.5zM383.6 363.7h1.5v1.5h-1.5zM383.6 366.7h1.5v1.5h-1.5zM384.0 365.5h1.5v1.5h-1.5zM384.0 367.8h1.5v1.5h-1.5zM384.0 364.3h1.5v1.5h-1.5zM384.0 363.0h1.5v1.5h-1.5zM384.2 361.1h1.5v1.5h-1.5zM384.2 365.8h1.5v1.5h-1.5zM384.2 366.2h1.5v1.5h-1.5zM384.2 366.4h1.5v1.5h-1.5zM384.5 364.0h1.5v1.5h-1.5zM384.5 360.5h1.5v1.5h-1.5zM384.5 362.8h1.5v1.5h-1.5zM384.5 365.0h1.5v1.5h-1.5zM384.6 363.0h1.5v1.5h-1.5zM384.6 358.7h1.5v1.5h-1.5zM384.6 364.3h1.5v1.5h-1.5zM384.6 364.3h1.5v1.5h-1.5zM384.7 362.2h1.5v1.5h-1.5zM384.7 365.8h1.5v1.5h-1.5zM384.7 364.4h1.5v1.5h-1.5zM384.7 362.9h1.5v1.5h-1.5zM384.9 364.9h1.5v1.5h-1.5zM384.9 362.7h1.5v1.5h-1.5zM384.9 367.0h1.5v1.5h-1.5zM384.9 373.3h1.5v1.5h-1.5zM385.3 362.4h1.5v1.5h-1.5zM385.3 374.4h1.5v1.5h-1.5zM385.3 364.1h1.5v1.5h-1.5zM385.3 366.6h1.5v1.5h-1.5zM385.6 365.7h1.5v1.5h-1.5zM385.6 364.8h1.5v1.5h-1.5zM385.6 365.8h1.5v1.5h-1.5zM385.6 373.5h1.5v1.5h-1.5zM385.8 360.5h1.5v1.5h-1.5zM385.8 363.9h1.5v1.5h-1.5zM385.8 360.1h1.5v1.5h-1.5zM385.8 366.1h1.5v1.5h-1.5zM385.9 362.5h1.5v1.5h-1.5zM385.9 359.8h1.5v1.5h-1.5zM385.9 365.1h1.5v1.5h-1.5zM385.9 359.3h1.5v1.5h-1.5zM386.0 367.7h1.5v1.5h-1.5zM386.0 365.2h1.5v1.5h-1.5zM386.0 361.8h1.5v1.5h-1.5zM386.0 371.8h1.5v1.5h-1.5zM386.4 361.4h1.5v1.5h-1.5zM386.4 360.8h1.5v1.5h-1.5zM386.4 367.1h1.5v1.5h-1.5zM386.4 363.8h1.5v1.5h-1.5zM386.7 366.2h1.5v1.5h-1.5zM386.7 359.6h1.5v1.5h-1.5zM386.7 363.3h1.5v1.5h-1.5zM386.7 363.6h1.5v1.5h-1.5zM386.8 364.3h1.5v1.5h-1.5zM386.8 365.6h1.5v1.5h-1.5zM386.8 364.1h1.5v1.5h-1.5zM386.8 361.9h1.5v1.5h-1.5zM387.2 364.9h1.5v1.5h-1.5zM387.2 362.1h1.5v1.5h-1.5zM387.2 360.8h1.5v1.5h-1.5zM387.2 364.3h1.5v1.5h-1.5zM387.2 363.6h1.5v1.5h-1.5zM387.2 363.1h1.5v1.5h-1.5zM387.2 363.5h1.5v1.5h-1.5zM387.2 363.9h1.5v1.5h-1.5zM387.5 367.4h1.5v1.5h-1.5zM387.5 363.7h1.5v1.5h-1.5zM387.5 363.8h1.5v1.5h-1.5zM387.5 364.2h1.5v1.5h-1.5zM387.7 363.5h1.5v1.5h-1.5zM387.7 362.6h1.5v1.5h-1.5zM387.7 363.4h1.5v1.5h-1.5zM387.7 365.8h1.5v1.5h-1.5zM388.0 365.4h1.5v1.5h-1.5zM388.0 365.8h1.5v1.5h-1.5zM388.0 368.8h1.5v1.5h-1.5zM388.0 363.0h1.5v1.5h-1.5zM388.2 366.0h1.5v1.5h-1.5zM388.2 366.5h1.5v1.5h-1.5zM388.2 364.8h1.5v1.5h-1.5zM388.2 364.1h1.5v1.5h-1.5zM388.3 365.2h1.5v1.5h-1.5zM388.3 362.1h1.5v1.5h-1.5zM388.3 364.2h1.5v1.5h-1.5zM388.3 366.7h1.5v1.5h-1.5zM388.6 365.8h1.5v1.5h-1.5zM388.6 363.6h1.5v1.5h-1.5zM388.6 364.6h1.5v1.5h-1.5zM388.6 364.8h1.5v1.5h-1.5zM388.7 361.6h1.5v1.5h-1.5zM388.7 364.5h1.5v1.5h-1.5zM388.7 366.0h1.5v1.5h-1.5zM388.7 361.1h1.5v1.5h-1.5zM388.9 365.9h1.5v1.5h-1.5zM388.9 361.5h1.5v1.5h-1.5zM388.9 364.0h1.5v1.5h-1.5zM388.9 361.7h1.5v1.5h-1.5zM389.2 359.7h1.5v1.5h-1.5zM389.2 363.7h1.5v1.5h-1.5zM389.2 362.1h1.5v1.5h-1.5zM389.2 386.2h1.5v1.5h-1.5zM389.3 364.7h1.5v1.5h-1.5zM389.3 365.2h1.5v1.5h-1.5zM389.3 363.7h1.5v1.5h-1.5zM389.3 362.5h1.5v1.5h-1.5zM389.7 375.9h1.5v1.5h-1.5zM389.7 364.5h1.5v1.5h-1.5zM389.7 367.1h1.5v1.5h-1.5zM389.7 363.7h1.5v1.5h-1.5zM390.0 357.7h1.5v1.5h-1.5zM390.0 361.3h1.5v1.5h-1.5zM390.0 364.1h1.5v1.5h-1.5zM390.0 363.7h1.5v1.5h-1.5zM390.2 361.1h1.5v1.5h-1.5zM390.2 362.2h1.5v1.5h-1.5zM390.2 358.8h1.5v1.5h-1.5zM390.2 362.5h1.5v1.5h-1.5zM390.4 364.6h1.5v1.5h-1.5zM390.4 364.7h1.5v1.5h-1.5zM390.4 362.4h1.5v1.5h-1.5zM390.4 365.4h1.5v1.5h-1.5zM390.5 362.5h1.5v1.5h-1.5zM390.5 363.9h1.5v1.5h-1.5zM390.5 362.7h1.5v1.5h-1.5zM390.5 364.8h1.5v1.5h-1.5zM390.8 364.0h1.5v1.5h-1.5zM390.8 362.2h1.5v1.5h-1.5zM390.8 364.7h1.5v1.5h-1.5zM390.8 363.9h1.5v1.5h-1.5zM391.0 364.0h1.5v1.5h-1.5zM391.0 365.9h1.5v1.5h-1.5zM391.0 362.5h1.5v1.5h-1.5zM391.0 365.0h1.5v1.5h-1.5zM391.3 362.4h1.5v1.5h-1.5zM391.3 362.6h1.5v1.5h-1.5zM391.3 365.0h1.5v1.5h-1.5zM391.3 372.2h1.5v1.5h-1.5zM391.4 361.8h1.5v1.5h-1.5zM391.4 364.7h1.5v1.5h-1.5zM391.4 361.4h1.5v1.5h-1.5zM391.4 362.5h1.5v1.5h-1.5zM391.7 361.5h1.5v1.5h-1.5zM391.7 361.5h1.5v1.5h-1.5zM391.7 363.2h1.5v1.5h-1.5zM391.7 367.2h1.5v1.5h-1.5zM392.0 365.1h1.5v1.5h-1.5zM392.0 361.4h1.5v1.5h-1.5zM392.0 362.4h1.5v1.5h-1.5zM392.0 360.8h1.5v1.5h-1.5zM392.1 368.6h1.5v1.5h-1.5zM392.1 361.8h1.5v1.5h-1.5zM392.1 368.3h1.5v1.5h-1.5zM392.1 363.1h1.5v1.5h-1.5zM392.2 352.8h1.5v1.5h-1.5zM392.2 365.5h1.5v1.5h-1.5zM392.2 363.3h1.5v1.5h-1.5zM392.2 364.7h1.5v1.5h-1.5zM392.5 363.6h1.5v1.5h-1.5zM392.5 363.8h1.5v1.5h-1.5zM392.5 367.4h1.5v1.5h-1.5zM392.5 364.7h1.5v1.5h-1.5zM392.8 360.8h1.5v1.5h-1.5zM392.8 362.6h1.5v1.5h-1.5zM392.8 360.7h1.5v1.5h-1.5zM392.8 364.1h1.5v1.5h-1.5zM393.1 362.5h1.5v1.5h-1.5zM393.1 362.7h1.5v1.5h-1.5zM393.1 366.5h1.5v1.5h-1.5zM393.1 361.3h1.5v1.5h-1.5zM393.1 358.6h1.5v1.5h-1.5zM393.1 361.8h1.5v1.5h-1.5zM393.1 364.0h1.5v1.5h-1.5zM393.1 363.5h1.5v1.5h-1.5zM393.4 365.7h1.5v1.5h-1.5zM393.4 361.1h1.5v1.5h-1.5zM393.4 368.4h1.5v1.5h-1.5zM393.4 366.4h1.5v1.5h-1.5zM393.7 368.7h1.5v1.5h-1.5zM393.7 364.2h1.5v1.5h-1.5zM393.7 362.4h1.5v1.5h-1.5zM393.7 363.1h1.5v1.5h-1.5zM393.8 371.6h1.5v1.5h-1.5zM393.8 366.0h1.5v1.5h-1.5zM393.8 366.2h1.5v1.5h-1.5zM393.8 373.7h1.5v1.5h-1.5zM394.0 362.5h1.5v1.5h-1.5zM394.0 364.0h1.5v1.5h-1.5zM394.0 372.1h1.5v1.5h-1.5zM394.0 364.4h1.5v1.5h-1.5zM394.3 361.2h1.5v1.5h-1.5zM394.3 367.0h1.5v1.5h-1.5zM394.3 362.7h1.5v1.5h-1.5zM394.3 363.5h1.5v1.5h-1.5zM394.5 362.7h1.5v1.5h-1.5zM394.5 360.6h1.5v1.5h-1.5zM394.5 362.7h1.5v1.5h-1.5zM394.5 363.4h1.5v1.5h-1.5zM394.9 363.7h1.5v1.5h-1.5zM394.9 365.8h1.5v1.5h-1.5zM394.9 363.1h1.5v1.5h-1.5zM394.9 365.8h1.5v1.5h-1.5zM395.1 366.9h1.5v1.5h-1.5zM395.1 365.8h1.5v1.5h-1.5zM395.1 363.8h1.5v1.5h-1.5zM395.1 366.3h1.5v1.5h-1.5zM395.3 362.6h1.5v1.5h-1.5zM395.3 360.2h1.5v1.5h-1.5zM395.3 367.1h1.5v1.5h-1.5zM395.3 364.1h1.5v1.5h-1.5zM395.3 364.7h1.5v1.5h-1.5zM395.3 362.6h1.5v1.5h-1.5zM395.3 361.9h1.5v1.5h-1.5zM395.3 363.3h1.5v1.5h-1.5zM395.5 363.1h1.5v1.5h-1.5zM395.5 359.9h1.5v1.5h-1.5zM395.5 375.7h1.5v1.5h-1.5zM395.5 365.2h1.5v1.5h-1.5zM395.7 363.9h1.5v1.5h-1.5zM395.7 364.7h1.5v1.5h-1.5zM395.7 364.5h1.5v1.5h-1.5zM395.7 361.9h1.5v1.5h-1.5zM396.2 356.4h1.5v1.5h-1.5zM396.2 364.2h1.5v1.5h-1.5zM396.2 365.4h1.5v1.5h-1.5zM396.2 364.2h1.5v1.5h-1.5zM396.4 362.5h1.5v1.5h-1.5zM396.4 369.3h1.5v1.5h-1.5zM396.4 359.8h1.5v1.5h-1.5zM396.4 361.1h1.5v1.5h-1.5zM396.6 361.1h1.5v1.5h-1.5zM396.6 364.9h1.5v1.5h-1.5zM396.6 366.5h1.5v1.5h-1.5zM396.6 364.9h1.5v1.5h-1.5zM396.7 363.2h1.5v1.5h-1.5zM396.7 361.2h1.5v1.5h-1.5zM396.7 363.5h1.5v1.5h-1.5zM396.7 364.3h1.5v1.5h-1.5zM396.9 365.3h1.5v1.5h-1.5zM396.9 363.9h1.5v1.5h-1.5zM396.9 364.1h1.5v1.5h-1.5zM396.9 362.3h1.5v1.5h-1.5zM397.2 370.9h1.5v1.5h-1.5zM397.2 366.1h1.5v1.5h-1.5zM397.2 364.4h1.5v1.5h-1.5zM397.2 360.2h1.5v1.5h-1.5zM397.3 364.2h1.5v1.5h-1.5zM397.3 361.5h1.5v1.5h-1.5zM397.3 370.1h1.5v1.5h-1.5zM397.3 363.7h1.5v1.5h-1.5zM397.6 363.3h1.5v1.5h-1.5zM397.6 362.3h1.5v1.5h-1.5zM397.6 359.7h1.5v1.5h-1.5zM397.6 360.5h1.5v1.5h-1.5zM397.7 364.6h1.5v1.5h-1.5zM397.7 362.9h1.5v1.5h-1.5zM397.7 365.2h1.5v1.5h-1.5zM397.7 363.8h1.5v1.5h-1.5zM398.0 363.2h1.5v1.5h-1.5zM398.0 362.8h1.5v1.5h-1.5zM398.0 361.2h1.5v1.5h-1.5zM398.0 363.0h1.5v1.5h-1.5zM398.3 360.5h1.5v1.5h-1.5zM398.3 360.9h1.5v1.5h-1.5zM398.3 365.2h1.5v1.5h-1.5zM398.3 364.1h1.5v1.5h-1.5zM398.5 363.8h1.5v1.5h-1.5zM398.5 366.1h1.5v1.5h-1.5zM398.5 366.9h1.5v1.5h-1.5zM398.5 360.4h1.5v1.5h-1.5zM398.8 362.5h1.5v1.5h-1.5zM398.8 364.3h1.5v1.5h-1.5zM398.8 362.8h1.5v1.5h-1.5zM398.8 361.4h1.5v1.5h-1.5zM399.0 365.3h1.5v1.5h-1.5zM399.0 364.7h1.5v1.5h-1.5zM399.0 363.0h1.5v1.5h-1.5zM399.0 365.3h1.5v1.5h-1.5zM399.3 366.8h1.5v1.5h-1.5zM399.3 368.1h1.5v1.5h-1.5zM399.3 365.7h1.5v1.5h-1.5zM399.3 363.0h1.5v1.5h-1.5zM399.4 366.2h1.5v1.5h-1.5zM399.4 361.4h1.5v1.5h-1.5zM399.4 366.4h1.5v1.5h-1.5zM399.4 363.9h1.5v1.5h-1.5zM399.7 370.1h1.5v1.5h-1.5zM399.7 364.6h1.5v1.5h-1.5zM399.7 359.0h1.5v1.5h-1.5zM399.7 363.3h1.5v1.5h-1.5zM399.9 361.6h1.5v1.5h-1.5zM399.9 363.9h1.5v1.5h-1.5zM399.9 370.3h1.5v1.5h-1.5zM399.9 359.0h1.5v1.5h-1.5zM400.1 362.8h1.5v1.5h-1.5zM400.1 363.7h1.5v1.5h-1.5zM400.1 360.3h1.5v1.5h-1.5zM400.1 361.0h1.5v1.5h-1.5zM400.1 360.8h1.5v1.5h-1.5zM400.1 362.7h1.5v1.5h-1.5zM400.1 362.3h1.5v1.5h-1.5zM400.1 364.4h1.5v1.5h-1.5zM400.5 365.6h1.5v1.5h-1.5zM400.5 359.3h1.5v1.5h-1.5zM400.5 361.4h1.5v1.5h-1.5zM400.5 366.2h1.5v1.5h-1.5zM400.6 360.8h1.5v1.5h-1.5zM400.6 364.0h1.5v1.5h-1.5zM400.6 360.7h1.5v1.5h-1.5zM400.6 360.2h1.5v1.5h-1.5zM400.8 367.0h1.5v1.5h-1.5zM400.8 366.5h1.5v1.5h-1.5zM400.8 368.8h1.5v1.5h-1.5zM400.8 363.7h1.5v1.5h-1.5zM401.2 368.0h1.5v1.5h-1.5zM401.2 365.2h1.5v1.5h-1.5zM401.2 364.2h1.5v1.5h-1.5zM401.2 364.2h1.5v1.5h-1.5zM401.4 363.3h1.5v1.5h-1.5zM401.4 366.3h1.5v1.5h-1.5zM401.4 359.1h1.5v1.5h-1.5zM401.4 361.0h1.5v1.5h-1.5zM401.6 365.5h1.5v1.5h-1.5zM401.6 362.8h1.5v1.5h-1.5zM401.6 362.8h1.5v1.5h-1.5zM401.6 363.1h1.5v1.5h-1.5zM401.8 363.4h1.5v1.5h-1.5zM401.8 363.1h1.5v1.5h-1.5zM401.8 365.6h1.5v1.5h-1.5zM401.8 364.4h1.5v1.5h-1.5zM402.1 364.7h1.5v1.5h-1.5zM402.1 359.5h1.5v1.5h-1.5zM402.1 363.9h1.5v1.5h-1.5zM402.1 363.0h1.5v1.5h-1.5zM402.2 361.0h1.5v1.5h-1.5zM402.2 363.2h1.5v1.5h-1.5zM402.2 361.2h1.5v1.5h-1.5zM402.2 364.7h1.5v1.5h-1.5zM402.4 365.9h1.5v1.5h-1.5zM402.4 359.6h1.5v1.5h-1.5zM402.4 360.7h1.5v1.5h-1.5zM402.4 364.4h1.5v1.5h-1.5zM402.7 367.4h1.5v1.5h-1.5zM402.7 363.6h1.5v1.5h-1.5zM402.7 366.7h1.5v1.5h-1.5zM402.7 369.2h1.5v1.5h-1.5zM403.0 366.4h1.5v1.5h-1.5zM403.0 364.9h1.5v1.5h-1.5zM403.0 361.8h1.5v1.5h-1.5zM403.0 365.4h1.5v1.5h-1.5zM403.1 361.7h1.5v1.5h-1.5zM403.1 366.6h1.5v1.5h-1.5zM403.1 367.0h1.5v1.5h-1.5zM403.1 362.7h1.5v1.5h-1.5zM403.3 369.5h1.5v1.5h-1.5zM403.3 361.3h1.5v1.5h-1.5zM403.3 365.0h1.5v1.5h-1.5zM403.3 362.4h1.5v1.5h-1.5zM403.7 359.0h1.5v1.5h-1.5zM403.7 362.5h1.5v1.5h-1.5zM403.7 362.0h1.5v1.5h-1.5zM403.7 368.2h1.5v1.5h-1.5zM403.8 366.1h1.5v1.5h-1.5zM403.8 367.2h1.5v1.5h-1.5zM403.8 364.0h1.5v1.5h-1.5zM403.8 362.1h1.5v1.5h-1.5zM404.0 362.2h1.5v1.5h-1.5zM404.0 362.9h1.5v1.5h-1.5zM404.0 363.6h1.5v1.5h-1.5zM404.0 359.2h1.5v1.5h-1.5zM404.2 363.4h1.5v1.5h-1.5zM404.2 365.3h1.5v1.5h-1.5zM404.2 365.8h1.5v1.5h-1.5zM404.2 369.4h1.5v1.5h-1.5zM404.4 360.7h1.5v1.5h-1.5zM404.4 363.0h1.5v1.5h-1.5zM404.4 359.9h1.5v1.5h-1.5zM404.4 363.6h1.5v1.5h-1.5zM404.7 364.2h1.5v1.5h-1.5zM404.7 369.6h1.5v1.5h-1.5zM404.7 366.0h1.5v1.5h-1.5zM404.7 366.0h1.5v1.5h-1.5zM404.8 365.9h1.5v1.5h-1.5zM404.8 360.5h1.5v1.5h-1.5zM404.8 366.8h1.5v1.5h-1.5zM404.8 361.7h1.5v1.5h-1.5zM405.1 365.3h1.5v1.5h-1.5zM405.1 361.3h1.5v1.5h-1.5zM405.1 365.7h1.5v1.5h-1.5zM405.1 362.8h1.5v1.5h-1.5zM405.4 367.6h1.5v1.5h-1.5zM405.4 362.8h1.5v1.5h-1.5zM405.4 363.7h1.5v1.5h-1.5zM405.4 361.4h1.5v1.5h-1.5zM405.5 364.6h1.5v1.5h-1.5zM405.5 363.8h1.5v1.5h-1.5zM405.5 364.4h1.5v1.5h-1.5zM405.5 361.0h1.5v1.5h-1.5zM405.8 366.0h1.5v1.5h-1.5zM405.8 359.1h1.5v1.5h-1.5zM405.8 363.0h1.5v1.5h-1.5zM405.8 358.8h1.5v1.5h-1.5zM405.9 363.0h1.5v1.5h-1.5zM405.9 366.3h1.5v1.5h-1.5zM405.9 363.5h1.5v1.5h-1.5zM405.9 365.5h1.5v1.5h-1.5zM406.1 360.8h1.5v1.5h-1.5zM406.1 361.1h1.5v1.5h-1.5zM406.1 362.5h1.5v1.5h-1.5zM406.1 357.1h1.5v1.5h-1.5zM406.6 367.1h1.5v1.5h-1.5zM406.6 364.3h1.5v1.5h-1.5zM406.6 360.1h1.5v1.5h-1.5zM406.6 365.5h1.5v1.5h-1.5zM320.8 393.6h1.5v1.5h-1.5zM313.4 369.0h1.5v1.5h-1.5zM318.7 369.5h1.5v1.5h-1.5zM320.6 372.2h1.5v1.5h-1.5zM316.2 389.8h1.5v1.5h-1.5zM312.7 389.8h1.5v1.5h-1.5zM320.0 386.2h1.5v1.5h-1.5zM320.6 393.8h1.5v1.5h-1.5zM318.1 379.5h1.5v1.5h-1.5zM313.9 392.0h1.5v1.5h-1.5zM312.6 376.1h1.5v1.5h-1.5zM321.0 393.9h1.5v1.5h-1.5zM313.5 382.3h1.5v1.5h-1.5zM312.7 377.9h1.5v1.5h-1.5zM318.7 367.7h1.5v1.5h-1.5zM319.2 395.9h1.5v1.5h-1.5zM315.1 396.0h1.5v1.5h-1.5zM313.2 389.5h1.5v1.5h-1.5zM320.3 379.5h1.5v1.5h-1.5zM317.8 367.2h1.5v1.5h-1.5zM320.5 381.8h1.5v1.5h-1.5zM311.5 369.2h1.5v1.5h-1.5zM314.5 368.7h1.5v1.5h-1.5zM318.8 369.4h1.5v1.5h-1.5zM320.3 367.5h1.5v1.5h-1.5zM318.5 385.7h1.5v1.5h-1.5zM314.5 372.2h1.5v1.5h-1.5zM319.2 368.4h1.5v1.5h-1.5zM315.2 391.9h1.5v1.5h-1.5zM314.8 369.8h1.5v1.5h-1.5zM318.5 369.0h1.5v1.5h-1.5zM320.6 373.4h1.5v1.5h-1.5zM313.7 385.9h1.5v1.5h-1.5zM313.6 368.4h1.5v1.5h-1.5zM317.1 368.0h1.5v1.5h-1.5zM317.8 384.5h1.5v1.5h-1.5zM315.0 375.4h1.5v1.5h-1.5zM318.7 380.3h1.5v1.5h-1.5zM318.6 387.6h1.5v1.5h-1.5zM319.3 388.1h1.5v1.5h-1.5zM320.7 372.8h1.5v1.5h-1.5zM311.8 390.2h1.5v1.5h-1.5zM313.9 368.0h1.5v1.5h-1.5zM320.5 373.5h1.5v1.5h-1.5zM313.2 367.4h1.5v1.5h-1.5zM318.3 379.0h1.5v1.5h-1.5zM317.3 371.1h1.5v1.5h-1.5zM319.2 379.6h1.5v1.5h-1.5zM318.5 374.6h1.5v1.5h-1.5zM317.6 373.6h1.5v1.5h-1.5zM321.0 368.0h1.5v1.5h-1.5zM314.0 391.3h1.5v1.5h-1.5zM313.0 372.1h1.5v1.5h-1.5zM314.4 370.0h1.5v1.5h-1.5zM314.9 393.0h1.5v1.5h-1.5zM330.6 368.0h1.5v1.5h-1.5zM327.0 368.0h1.5v1.5h-1.5zM328.8 394.2h1.5v1.5h-1.5zM324.6 389.8h1.5v1.5h-1.5zM327.1 373.0h1.5v1.5h-1.5zM330.2 369.2h1.5v1.5h-1.5zM330.3 376.9h1.5v1.5h-1.5zM330.0 390.3h1.5v1.5h-1.5zM326.9 368.9h1.5v1.5h-1.5zM329.5 368.0h1.5v1.5h-1.5zM326.3 383.1h1.5v1.5h-1.5zM330.4 376.8h1.5v1.5h-1.5zM330.0 368.6h1.5v1.5h-1.5zM326.6 390.8h1.5v1.5h-1.5zM329.8 376.6h1.5v1.5h-1.5zM330.5 377.1h1.5v1.5h-1.5zM327.2 368.2h1.5v1.5h-1.5zM324.7 394.1h1.5v1.5h-1.5zM330.7 371.0h1.5v1.5h-1.5zM330.0 369.5h1.5v1.5h-1.5zM326.0 376.1h1.5v1.5h-1.5zM329.3 371.4h1.5v1.5h-1.5zM329.5 370.8h1.5v1.5h-1.5zM324.5 368.1h1.5v1.5h-1.5zM326.6 368.0h1.5v1.5h-1.5zM324.8 368.1h1.5v1.5h-1.5zM326.8 374.1h1.5v1.5h-1.5zM330.7 376.4h1.5v1.5h-1.5zM330.0 385.8h1.5v1.5h-1.5zM329.2 370.0h1.5v1.5h-1.5zM330.6 368.4h1.5v1.5h-1.5zM326.3 368.6h1.5v1.5h-1.5zM330.5 367.2h1.5v1.5h-1.5zM328.7 370.8h1.5v1.5h-1.5zM330.3 377.8h1.5v1.5h-1.5zM341.8 368.3h1.5v1.5h-1.5zM343.9 374.5h1.5v1.5h-1.5zM339.3 386.9h1.5v1.5h-1.5zM335.2 369.8h1.5v1.5h-1.5zM348.2 368.1h1.5v1.5h-1.5zM336.4 371.2h1.5v1.5h-1.5zM336.0 369.8h1.5v1.5h-1.5zM345.1 367.4h1.5v1.5h-1.5zM338.7 382.9h1.5v1.5h-1.5zM343.5 378.6h1.5v1.5h-1.5zM343.6 371.6h1.5v1.5h-1.5zM344.0 367.2h1.5v1.5h-1.5zM343.2 371.0h1.5v1.5h-1.5zM335.1 380.3h1.5v1.5h-1.5zM336.2 388.5h1.5v1.5h-1.5zM335.0 377.7h1.5v1.5h-1.5zM343.7 384.7h1.5v1.5h-1.5zM341.0 388.4h1.5v1.5h-1.5zM341.1 386.4h1.5v1.5h-1.5zM336.7 367.9h1.5v1.5h-1.5zM344.1 377.7h1.5v1.5h-1.5zM334.9 370.9h1.5v1.5h-1.5zM343.8 383.9h1.5v1.5h-1.5zM343.4 368.7h1.5v1.5h-1.5zM336.1 379.4h1.5v1.5h-1.5zM338.5 367.7h1.5v1.5h-1.5zM347.1 370.1h1.5v1.5h-1.5zM347.9 377.7h1.5v1.5h-1.5zM344.7 389.8h1.5v1.5h-1.5zM348.1 378.9h1.5v1.5h-1.5zM335.5 374.1h1.5v1.5h-1.5zM334.6 373.4h1.5v1.5h-1.5zM336.6 367.1h1.5v1.5h-1.5zM336.5 374.9h1.5v1.5h-1.5zM343.5 368.5h1.5v1.5h-1.5zM343.4 381.3h1.5v1.5h-1.5zM347.2 374.1h1.5v1.5h-1.5zM343.4 384.4h1.5v1.5h-1.5zM342.5 367.3h1.5v1.5h-1.5zM336.5 376.0h1.5v1.5h-1.5zM358.1 390.7h1.5v1.5h-1.5zM358.0 383.5h1.5v1.5h-1.5zM357.5 367.9h1.5v1.5h-1.5zM359.6 371.5h1.5v1.5h-1.5zM363.0 385.5h1.5v1.5h-1.5zM358.1 370.6h1.5v1.5h-1.5zM361.7 367.2h1.5v1.5h-1.5zM359.1 368.4h1.5v1.5h-1.5zM358.0 371.6h1.5v1.5h-1.5zM357.5 367.2h1.5v1.5h-1.5zM365.1 372.1h1.5v1.5h-1.5zM358.6 388.1h1.5v1.5h-1.5zM366.2 393.7h1.5v1.5h-1.5zM366.1 373.3h1.5v1.5h-1.5zM366.1 367.4h1.5v1.5h-1.5zM358.1 369.0h1.5v1.5h-1.5zM356.6 371.7h1.5v1.5h-1.5zM363.3 396.3h1.5v1.5h-1.5zM360.5 370.6h1.5v1.5h-1.5zM360.6 367.1h1.5v1.5h-1.5zM365.9 384.0h1.5v1.5h-1.5zM362.1 390.8h1.5v1.5h-1.5zM358.8 382.2h1.5v1.5h-1.5zM358.7 376.9h1.5v1.5h-1.5zM358.4 373.8h1.5v1.5h-1.5zM359.4 371.4h1.5v1.5h-1.5zM358.8 393.9h1.5v1.5h-1.5zM357.6 376.8h1.5v1.5h-1.5zM360.0 386.5h1.5v1.5h-1.5zM360.2 395.3h1.5v1.5h-1.5zM359.9 393.8h1.5v1.5h-1.5zM365.6 382.0h1.5v1.5h-1.5zM356.5 392.4h1.5v1.5h-1.5zM360.7 370.0h1.5v1.5h-1.5zM358.5 374.7h1.5v1.5h-1.5zM357.1 370.4h1.5v1.5h-1.5zM363.4 372.1h1.5v1.5h-1.5zM359.7 379.8h1.5v1.5h-1.5zM356.9 371.8h1.5v1.5h-1.5zM360.2 379.9h1.5v1.5h-1.5zM358.2 382.4h1.5v1.5h-1.5zM356.2 368.2h1.5v1.5h-1.5zM359.6 384.1h1.5v1.5h-1.5zM360.4 368.0h1.5v1.5h-1.5zM360.6 369.7h1.5v1.5h-1.5zM359.2 367.4h1.5v1.5h-1.5zM363.2 394.4h1.5v1.5h-1.5zM365.9 370.0h1.5v1.5h-1.5zM358.3 386.1h1.5v1.5h-1.5zM359.2 368.7h1.5v1.5h-1.5zM361.4 369.5h1.5v1.5h-1.5zM357.7 371.1h1.5v1.5h-1.5zM361.3 382.7h1.5v1.5h-1.5zM360.7 369.2h1.5v1.5h-1.5zM358.0 368.0h1.5v1.5h-1.5zM372.6 370.0h1.5v1.5h-1.5zM373.3 370.9h1.5v1.5h-1.5zM377.9 388.8h1.5v1.5h-1.5zM373.3 367.2h1.5v1.5h-1.5zM378.3 384.6h1.5v1.5h-1.5zM375.9 374.0h1.5v1.5h-1.5zM377.4 387.3h1.5v1.5h-1.5zM375.0 369.5h1.5v1.5h-1.5zM374.9 368.3h1.5v1.5h-1.5zM372.4 367.5h1.5v1.5h-1.5zM373.5 367.6h1.5v1.5h-1.5zM374.8 382.1h1.5v1.5h-1.5zM376.9 376.9h1.5v1.5h-1.5zM374.9 375.1h1.5v1.5h-1.5zM377.3 379.4h1.5v1.5h-1.5zM377.7 367.3h1.5v1.5h-1.5zM377.7 383.5h1.5v1.5h-1.5zM372.5 371.1h1.5v1.5h-1.5zM378.4 377.5h1.5v1.5h-1.5zM374.2 386.8h1.5v1.5h-1.5zM372.1 369.9h1.5v1.5h-1.5zM373.9 367.1h1.5v1.5h-1.5zM372.7 390.4h1.5v1.5h-1.5zM373.5 370.6h1.5v1.5h-1.5zM374.5 368.5h1.5v1.5h-1.5zM373.9 376.8h1.5v1.5h-1.5zM372.1 376.5h1.5v1.5h-1.5zM374.5 377.0h1.5v1.5h-1.5zM375.2 370.6h1.5v1.5h-1.5zM377.7 368.8h1.5v1.5h-1.5zM377.6 370.8h1.5v1.5h-1.5zM378.1 374.0h1.5v1.5h-1.5zM378.1 370.1h1.5v1.5h-1.5zM375.2 367.6h1.5v1.5h-1.5zM375.0 381.6h1.5v1.5h-1.5zM374.3 377.5h1.5v1.5h-1.5zM374.4 379.5h1.5v1.5h-1.5zM373.8 371.3h1.5v1.5h-1.5zM374.7 371.2h1.5v1.5h-1.5zM372.7 370.4h1.5v1.5h-1.5zM386.3 376.2h1.5v1.5h-1.5zM380.9 376.9h1.5v1.5h-1.5zM388.4 371.4h1.5v1.5h-1.5zM382.6 379.6h1.5v1.5h-1.5zM382.8 381.1h1.5v1.5h-1.5zM381.0 367.4h1.5v1.5h-1.5zM380.8 369.5h1.5v1.5h-1.5zM384.3 374.3h1.5v1.5h-1.5zM382.7 369.7h1.5v1.5h-1.5zM384.6 372.3h1.5v1.5h-1.5zM381.0 372.3h1.5v1.5h-1.5zM382.4 380.1h1.5v1.5h-1.5zM382.9 379.7h1.5v1.5h-1.5zM387.1 372.2h1.5v1.5h-1.5zM381.1 370.0h1.5v1.5h-1.5zM382.6 373.5h1.5v1.5h-1.5zM380.8 376.2h1.5v1.5h-1.5zM381.0 367.2h1.5v1.5h-1.5zM381.4 377.7h1.5v1.5h-1.5zM381.0 378.1h1.5v1.5h-1.5zM384.8 367.2h1.5v1.5h-1.5zM380.7 367.2h1.5v1.5h-1.5zM383.0 367.6h1.5v1.5h-1.5zM382.8 380.6h1.5v1.5h-1.5zM382.8 368.2h1.5v1.5h-1.5zM397.2 375.8h1.5v1.5h-1.5zM395.7 369.7h1.5v1.5h-1.5zM396.8 367.2h1.5v1.5h-1.5zM397.1 367.7h1.5v1.5h-1.5zM397.7 380.4h1.5v1.5h-1.5zM396.1 375.8h1.5v1.5h-1.5zM397.6 379.6h1.5v1.5h-1.5zM397.8 375.7h1.5v1.5h-1.5zM397.3 368.5h1.5v1.5h-1.5zM397.2 369.6h1.5v1.5h-1.5zM398.0 371.5h1.5v1.5h-1.5zM398.4 378.0h1.5v1.5h-1.5zM397.5 368.5h1.5v1.5h-1.5zM398.0 368.2h1.5v1.5h-1.5zM397.6 382.8h1.5v1.5h-1.5zM404.6 379.4h1.5v1.5h-1.5zM404.5 368.8h1.5v1.5h-1.5zM404.9 377.7h1.5v1.5h-1.5zM404.5 375.9h1.5v1.5h-1.5zM405.1 383.1h1.5v1.5h-1.5zM406.4 384.3h1.5v1.5h-1.5zM404.4 373.9h1.5v1.5h-1.5zM405.6 396.2h1.5v1.5h-1.5zM404.4 373.7h1.5v1.5h-1.5zM404.8 384.7h1.5v1.5h-1.5zM406.0 367.9h1.5v1.5h-1.5zM405.5 374.7h1.5v1.5h-1.5zM404.3 367.9h1.5v1.5h-1.5zM404.3 380.4h1.5v1.5h-1.5zM405.3 370.5h1.5v1.5h-1.5zM406.7 388.6h1.5v1.5h-1.5zM405.5 392.9h1.5v1.5h-1.5zM404.7 375.3h1.5v1.5h-1.5zM311.9 373.1h1.5v1.5h-1.5zM312.7 370.3h1.5v1.5h-1.5zM312.6 389.8h1.5v1.5h-1.5zM312.8 372.1h1.5v1.5h-1.5zM312.6 368.0h1.5v1.5h-1.5zM312.9 383.8h1.5v1.5h-1.5zM312.0 393.9h1.5v1.5h-1.5zM312.4 386.5h1.5v1.5h-1.5z" fill="#3d86c6"/>
<text font-size="7.0" text-anchor="start" fill="#1a1a1a" stroke="#1a1a1a" stroke-width="0.221" transform="translate(337.10 352.80) scale(1 1.04)">NEGR1, chr1-</text>
<rect x="294.30" y="343.40" width="131.40" height="53.80" fill="none" stroke="#222" stroke-width="1.2"/>
<line x1="288.50" y1="397.20" x2="294.30" y2="397.20" stroke="#222" stroke-width="1.1"/>
<line x1="288.50" y1="384.45" x2="294.30" y2="384.45" stroke="#222" stroke-width="1.1"/>
<line x1="288.50" y1="371.70" x2="294.30" y2="371.70" stroke="#222" stroke-width="1.1"/>
<line x1="288.50" y1="358.95" x2="294.30" y2="358.95" stroke="#222" stroke-width="1.1"/>
<line x1="288.50" y1="346.20" x2="294.30" y2="346.20" stroke="#222" stroke-width="1.1"/>
<text font-size="8.7" text-anchor="middle" fill="#333" stroke="#333" stroke-width="0.275" transform="translate(281.74 397.20) rotate(-90) scale(1 1.04)">0</text>
<text font-size="8.7" text-anchor="middle" fill="#333" stroke="#333" stroke-width="0.275" transform="translate(281.74 384.45) rotate(-90) scale(1 1.04)">5</text>
<text font-size="8.7" text-anchor="middle" fill="#333" stroke="#333" stroke-width="0.275" transform="translate(281.74 358.95) rotate(-90) scale(1 1.04)">15</text>
<text font-size="8.7" text-anchor="middle" fill="#1a1a1a" stroke="#1a1a1a" stroke-width="0.275" transform="translate(260.94 370.30) rotate(-90) scale(1 1.04)">Coverage (K)</text>
<line x1="307.10" y1="397.20" x2="307.10" y2="403.00" stroke="#222" stroke-width="1.1"/>
<line x1="325.97" y1="397.20" x2="325.97" y2="403.00" stroke="#222" stroke-width="1.1"/>
<line x1="344.84" y1="397.20" x2="344.84" y2="403.00" stroke="#222" stroke-width="1.1"/>
<line x1="363.71" y1="397.20" x2="363.71" y2="403.00" stroke="#222" stroke-width="1.1"/>
<line x1="382.58" y1="397.20" x2="382.58" y2="403.00" stroke="#222" stroke-width="1.1"/>
<line x1="401.45" y1="397.20" x2="401.45" y2="403.00" stroke="#222" stroke-width="1.1"/>
<line x1="420.32" y1="397.20" x2="420.32" y2="403.00" stroke="#222" stroke-width="1.1"/>
<text font-size="8.8" text-anchor="middle" fill="#333" stroke="#333" stroke-width="0.278" transform="translate(307.10 416.00) scale(1 1.04)">71.95</text>
<text font-size="8.8" text-anchor="middle" fill="#333" stroke="#333" stroke-width="0.278" transform="translate(344.84 416.00) scale(1 1.04)">71.85</text>
<text font-size="8.8" text-anchor="middle" fill="#333" stroke="#333" stroke-width="0.278" transform="translate(382.58 416.00) scale(1 1.04)">71.75</text>
<text font-size="8.8" text-anchor="middle" fill="#333" stroke="#333" stroke-width="0.278" transform="translate(420.32 416.00) scale(1 1.04)">71.65</text>
<rect x="313.10" y="422.40" width="94.10" height="51.40" fill="#e4e4e4" stroke="none" stroke-width="1"/>
<line x1="294.30" y1="473.20" x2="313.10" y2="473.20" stroke="#3b82c4" stroke-width="1.4"/>
<line x1="407.20" y1="473.20" x2="425.70" y2="473.20" stroke="#3b82c4" stroke-width="1.4"/>
<path d="M311.9 438.7h1.5v1.5h-1.5zM311.9 439.1h1.5v1.5h-1.5zM311.9 435.1h1.5v1.5h-1.5zM311.9 443.7h1.5v1.5h-1.5zM312.0 440.3h1.5v1.5h-1.5zM312.0 437.2h1.5v1.5h-1.5zM312.0 436.0h1.5v1.5h-1.5zM312.0 438.8h1.5v1.5h-1.5zM312.4 437.5h1.5v1.5h-1.5zM312.4 437.9h1.5v1.5h-1.5zM312.4 441.6h1.5v1.5h-1.5zM312.4 451.5h1.5v1.5h-1.5zM312.6 437.3h1.5v1.5h-1.5zM312.6 438.0h1.5v1.5h-1.5zM312.6 436.4h1.5v1.5h-1.5zM312.6 437.9h1.5v1.5h-1.5zM312.8 435.4h1.5v1.5h-1.5zM312.8 431.5h1.5v1.5h-1.5zM312.8 436.7h1.5v1.5h-1.5zM312.8 435.7h1.5v1.5h-1.5zM312.9 437.8h1.5v1.5h-1.5zM312.9 436.7h1.5v1.5h-1.5zM312.9 440.2h1.5v1.5h-1.5zM312.9 437.7h1.5v1.5h-1.5zM313.2 438.5h1.5v1.5h-1.5zM313.2 435.7h1.5v1.5h-1.5zM313.2 431.9h1.5v1.5h-1.5zM313.2 436.8h1.5v1.5h-1.5zM313.5 433.5h1.5v1.5h-1.5zM313.5 434.4h1.5v1.5h-1.5zM313.5 439.8h1.5v1.5h-1.5zM313.5 442.3h1.5v1.5h-1.5zM313.7 436.4h1.5v1.5h-1.5zM313.7 436.3h1.5v1.5h-1.5zM313.7 437.0h1.5v1.5h-1.5zM313.7 437.2h1.5v1.5h-1.5zM313.8 437.7h1.5v1.5h-1.5zM313.8 437.7h1.5v1.5h-1.5zM313.8 445.3h1.5v1.5h-1.5zM313.8 437.1h1.5v1.5h-1.5zM314.1 435.9h1.5v1.5h-1.5zM314.1 437.3h1.5v1.5h-1.5zM314.1 443.9h1.5v1.5h-1.5zM314.1 435.0h1.5v1.5h-1.5zM314.3 437.0h1.5v1.5h-1.5zM314.3 438.9h1.5v1.5h-1.5zM314.3 438.0h1.5v1.5h-1.5zM314.3 437.9h1.5v1.5h-1.5zM314.4 437.8h1.5v1.5h-1.5zM314.4 437.5h1.5v1.5h-1.5zM314.4 438.9h1.5v1.5h-1.5zM314.4 439.4h1.5v1.5h-1.5zM314.7 440.5h1.5v1.5h-1.5zM314.7 434.2h1.5v1.5h-1.5zM314.7 438.2h1.5v1.5h-1.5zM314.7 436.4h1.5v1.5h-1.5zM314.9 437.0h1.5v1.5h-1.5zM314.9 439.7h1.5v1.5h-1.5zM314.9 437.4h1.5v1.5h-1.5zM314.9 431.8h1.5v1.5h-1.5zM315.2 434.5h1.5v1.5h-1.5zM315.2 441.8h1.5v1.5h-1.5zM315.2 436.6h1.5v1.5h-1.5zM315.2 439.3h1.5v1.5h-1.5zM315.2 439.7h1.5v1.5h-1.5zM315.2 438.8h1.5v1.5h-1.5zM315.2 433.8h1.5v1.5h-1.5zM315.2 437.9h1.5v1.5h-1.5zM315.7 438.6h1.5v1.5h-1.5zM315.7 440.2h1.5v1.5h-1.5zM315.7 435.7h1.5v1.5h-1.5zM315.7 432.8h1.5v1.5h-1.5zM315.9 436.7h1.5v1.5h-1.5zM315.9 439.0h1.5v1.5h-1.5zM315.9 431.7h1.5v1.5h-1.5zM315.9 441.7h1.5v1.5h-1.5zM316.1 438.3h1.5v1.5h-1.5zM316.1 444.2h1.5v1.5h-1.5zM316.1 439.5h1.5v1.5h-1.5zM316.1 434.9h1.5v1.5h-1.5zM316.3 438.9h1.5v1.5h-1.5zM316.3 434.4h1.5v1.5h-1.5zM316.3 438.5h1.5v1.5h-1.5zM316.3 439.3h1.5v1.5h-1.5zM316.6 437.4h1.5v1.5h-1.5zM316.6 439.1h1.5v1.5h-1.5zM316.6 435.1h1.5v1.5h-1.5zM316.6 439.9h1.5v1.5h-1.5zM316.7 437.8h1.5v1.5h-1.5zM316.7 442.3h1.5v1.5h-1.5zM316.7 438.9h1.5v1.5h-1.5zM316.7 438.5h1.5v1.5h-1.5zM316.8 440.9h1.5v1.5h-1.5zM316.8 436.1h1.5v1.5h-1.5zM316.8 434.5h1.5v1.5h-1.5zM316.8 438.0h1.5v1.5h-1.5zM317.2 439.7h1.5v1.5h-1.5zM317.2 434.8h1.5v1.5h-1.5zM317.2 436.4h1.5v1.5h-1.5zM317.2 432.5h1.5v1.5h-1.5zM317.2 437.3h1.5v1.5h-1.5zM317.2 426.3h1.5v1.5h-1.5zM317.2 433.6h1.5v1.5h-1.5zM317.2 435.7h1.5v1.5h-1.5zM317.7 438.1h1.5v1.5h-1.5zM317.7 439.3h1.5v1.5h-1.5zM317.7 437.4h1.5v1.5h-1.5zM317.7 436.9h1.5v1.5h-1.5zM317.9 435.5h1.5v1.5h-1.5zM317.9 436.6h1.5v1.5h-1.5zM317.9 441.5h1.5v1.5h-1.5zM317.9 437.6h1.5v1.5h-1.5zM318.1 436.1h1.5v1.5h-1.5zM318.1 437.2h1.5v1.5h-1.5zM318.1 434.5h1.5v1.5h-1.5zM318.1 440.8h1.5v1.5h-1.5zM318.3 438.3h1.5v1.5h-1.5zM318.3 438.9h1.5v1.5h-1.5zM318.3 438.4h1.5v1.5h-1.5zM318.3 435.5h1.5v1.5h-1.5zM318.5 436.6h1.5v1.5h-1.5zM318.5 437.1h1.5v1.5h-1.5zM318.5 443.7h1.5v1.5h-1.5zM318.5 438.3h1.5v1.5h-1.5zM318.8 434.8h1.5v1.5h-1.5zM318.8 434.7h1.5v1.5h-1.5zM318.8 437.1h1.5v1.5h-1.5zM318.8 440.3h1.5v1.5h-1.5zM318.9 433.0h1.5v1.5h-1.5zM318.9 435.4h1.5v1.5h-1.5zM318.9 437.5h1.5v1.5h-1.5zM318.9 438.4h1.5v1.5h-1.5zM319.1 436.9h1.5v1.5h-1.5zM319.1 438.1h1.5v1.5h-1.5zM319.1 437.8h1.5v1.5h-1.5zM319.1 439.1h1.5v1.5h-1.5zM319.4 444.1h1.5v1.5h-1.5zM319.4 435.8h1.5v1.5h-1.5zM319.4 437.2h1.5v1.5h-1.5zM319.4 435.8h1.5v1.5h-1.5zM319.6 438.5h1.5v1.5h-1.5zM319.6 436.6h1.5v1.5h-1.5zM319.6 438.5h1.5v1.5h-1.5zM319.6 438.6h1.5v1.5h-1.5zM319.7 437.5h1.5v1.5h-1.5zM319.7 438.5h1.5v1.5h-1.5zM319.7 440.1h1.5v1.5h-1.5zM319.7 438.9h1.5v1.5h-1.5zM320.0 436.7h1.5v1.5h-1.5zM320.0 435.8h1.5v1.5h-1.5zM320.0 433.8h1.5v1.5h-1.5zM320.0 435.0h1.5v1.5h-1.5zM320.2 434.0h1.5v1.5h-1.5zM320.2 445.7h1.5v1.5h-1.5zM320.2 434.4h1.5v1.5h-1.5zM320.2 436.8h1.5v1.5h-1.5zM320.4 438.3h1.5v1.5h-1.5zM320.4 435.1h1.5v1.5h-1.5zM320.4 439.6h1.5v1.5h-1.5zM320.4 436.9h1.5v1.5h-1.5zM320.6 438.9h1.5v1.5h-1.5zM320.6 435.5h1.5v1.5h-1.5zM320.6 436.5h1.5v1.5h-1.5zM320.6 438.4h1.5v1.5h-1.5zM321.0 437.7h1.5v1.5h-1.5zM321.0 437.2h1.5v1.5h-1.5zM321.0 437.6h1.5v1.5h-1.5zM321.0 438.4h1.5v1.5h-1.5zM321.1 437.3h1.5v1.5h-1.5zM321.1 436.6h1.5v1.5h-1.5zM321.1 438.6h1.5v1.5h-1.5zM321.1 438.9h1.5v1.5h-1.5zM321.2 437.8h1.5v1.5h-1.5zM321.2 438.3h1.5v1.5h-1.5zM321.2 440.3h1.5v1.5h-1.5zM321.2 437.5h1.5v1.5h-1.5zM321.5 435.5h1.5v1.5h-1.5zM321.5 439.3h1.5v1.5h-1.5zM321.5 437.4h1.5v1.5h-1.5zM321.5 438.0h1.5v1.5h-1.5zM321.9 435.8h1.5v1.5h-1.5zM321.9 439.5h1.5v1.5h-1.5zM321.9 438.9h1.5v1.5h-1.5zM321.9 432.6h1.5v1.5h-1.5zM321.8 433.9h1.5v1.5h-1.5zM321.8 435.0h1.5v1.5h-1.5zM321.8 438.3h1.5v1.5h-1.5zM321.8 438.1h1.5v1.5h-1.5zM322.2 435.0h1.5v1.5h-1.5zM322.2 437.6h1.5v1.5h-1.5zM322.2 432.8h1.5v1.5h-1.5zM322.2 434.0h1.5v1.5h-1.5zM322.5 438.2h1.5v1.5h-1.5zM322.5 434.6h1.5v1.5h-1.5zM322.5 437.5h1.5v1.5h-1.5zM322.5 436.0h1.5v1.5h-1.5zM322.8 440.1h1.5v1.5h-1.5zM322.8 435.8h1.5v1.5h-1.5zM322.8 441.5h1.5v1.5h-1.5zM322.8 434.1h1.5v1.5h-1.5zM323.0 436.4h1.5v1.5h-1.5zM323.0 437.5h1.5v1.5h-1.5zM323.0 438.0h1.5v1.5h-1.5zM323.0 436.1h1.5v1.5h-1.5zM323.1 436.1h1.5v1.5h-1.5zM323.1 440.8h1.5v1.5h-1.5zM323.1 439.9h1.5v1.5h-1.5zM323.1 438.7h1.5v1.5h-1.5zM323.4 435.0h1.5v1.5h-1.5zM323.4 438.5h1.5v1.5h-1.5zM323.4 439.5h1.5v1.5h-1.5zM323.4 450.0h1.5v1.5h-1.5zM323.7 441.1h1.5v1.5h-1.5zM323.7 442.3h1.5v1.5h-1.5zM323.7 440.3h1.5v1.5h-1.5zM323.7 438.1h1.5v1.5h-1.5zM323.7 434.1h1.5v1.5h-1.5zM323.7 436.2h1.5v1.5h-1.5zM323.7 439.2h1.5v1.5h-1.5zM323.7 440.7h1.5v1.5h-1.5zM323.9 436.4h1.5v1.5h-1.5zM323.9 434.9h1.5v1.5h-1.5zM323.9 436.5h1.5v1.5h-1.5zM323.9 437.2h1.5v1.5h-1.5zM324.2 437.5h1.5v1.5h-1.5zM324.2 435.9h1.5v1.5h-1.5zM324.2 440.6h1.5v1.5h-1.5zM324.2 435.9h1.5v1.5h-1.5zM324.3 435.1h1.5v1.5h-1.5zM324.3 440.4h1.5v1.5h-1.5zM324.3 433.6h1.5v1.5h-1.5zM324.3 438.6h1.5v1.5h-1.5zM324.5 435.9h1.5v1.5h-1.5zM324.5 433.4h1.5v1.5h-1.5zM324.5 450.9h1.5v1.5h-1.5zM324.5 436.3h1.5v1.5h-1.5zM325.0 441.1h1.5v1.5h-1.5zM325.0 437.5h1.5v1.5h-1.5zM325.0 437.3h1.5v1.5h-1.5zM325.0 443.4h1.5v1.5h-1.5zM325.0 436.6h1.5v1.5h-1.5zM325.0 437.2h1.5v1.5h-1.5zM325.0 437.4h1.5v1.5h-1.5zM325.0 439.2h1.5v1.5h-1.5zM325.3 433.6h1.5v1.5h-1.5zM325.3 436.0h1.5v1.5h-1.5zM325.3 434.9h1.5v1.5h-1.5zM325.3 442.4h1.5v1.5h-1.5zM325.4 437.1h1.5v1.5h-1.5zM325.4 435.1h1.5v1.5h-1.5zM325.4 437.7h1.5v1.5h-1.5zM325.4 434.2h1.5v1.5h-1.5zM325.6 441.8h1.5v1.5h-1.5zM325.6 440.2h1.5v1.5h-1.5zM325.6 434.8h1.5v1.5h-1.5zM325.6 440.6h1.5v1.5h-1.5zM325.8 434.3h1.5v1.5h-1.5zM325.8 434.3h1.5v1.5h-1.5zM325.8 437.6h1.5v1.5h-1.5zM325.8 439.2h1.5v1.5h-1.5zM326.1 438.3h1.5v1.5h-1.5zM326.1 438.1h1.5v1.5h-1.5zM326.1 437.7h1.5v1.5h-1.5zM326.1 441.8h1.5v1.5h-1.5zM326.3 442.0h1.5v1.5h-1.5zM326.3 440.5h1.5v1.5h-1.5zM326.3 434.2h1.5v1.5h-1.5zM326.3 436.3h1.5v1.5h-1.5zM326.7 438.5h1.5v1.5h-1.5zM326.7 437.8h1.5v1.5h-1.5zM326.7 432.1h1.5v1.5h-1.5zM326.7 440.1h1.5v1.5h-1.5zM327.0 437.0h1.5v1.5h-1.5zM327.0 437.5h1.5v1.5h-1.5zM327.0 441.9h1.5v1.5h-1.5zM327.0 438.9h1.5v1.5h-1.5zM327.2 435.5h1.5v1.5h-1.5zM327.2 436.8h1.5v1.5h-1.5zM327.2 439.3h1.5v1.5h-1.5zM327.2 434.1h1.5v1.5h-1.5zM327.4 435.6h1.5v1.5h-1.5zM327.4 437.1h1.5v1.5h-1.5zM327.4 437.0h1.5v1.5h-1.5zM327.4 434.1h1.5v1.5h-1.5zM327.4 439.6h1.5v1.5h-1.5zM327.4 434.6h1.5v1.5h-1.5zM327.4 437.8h1.5v1.5h-1.5zM327.4 439.1h1.5v1.5h-1.5zM327.7 442.4h1.5v1.5h-1.5zM327.7 437.8h1.5v1.5h-1.5zM327.7 440.5h1.5v1.5h-1.5zM327.7 435.3h1.5v1.5h-1.5zM327.9 438.3h1.5v1.5h-1.5zM327.9 431.7h1.5v1.5h-1.5zM327.9 437.6h1.5v1.5h-1.5zM327.9 442.0h1.5v1.5h-1.5zM328.1 438.1h1.5v1.5h-1.5zM328.1 436.9h1.5v1.5h-1.5zM328.1 437.7h1.5v1.5h-1.5zM328.1 438.2h1.5v1.5h-1.5zM328.3 443.1h1.5v1.5h-1.5zM328.3 436.1h1.5v1.5h-1.5zM328.3 442.1h1.5v1.5h-1.5zM328.3 433.3h1.5v1.5h-1.5zM328.7 439.5h1.5v1.5h-1.5zM328.7 437.0h1.5v1.5h-1.5zM328.7 433.1h1.5v1.5h-1.5zM328.7 439.1h1.5v1.5h-1.5zM328.8 437.8h1.5v1.5h-1.5zM328.8 439.1h1.5v1.5h-1.5zM328.8 433.3h1.5v1.5h-1.5zM328.8 445.7h1.5v1.5h-1.5zM329.0 435.6h1.5v1.5h-1.5zM329.0 441.9h1.5v1.5h-1.5zM329.0 435.0h1.5v1.5h-1.5zM329.0 443.7h1.5v1.5h-1.5zM329.2 433.5h1.5v1.5h-1.5zM329.2 440.9h1.5v1.5h-1.5zM329.2 438.1h1.5v1.5h-1.5zM329.2 437.6h1.5v1.5h-1.5zM329.6 439.0h1.5v1.5h-1.5zM329.6 437.9h1.5v1.5h-1.5zM329.6 437.5h1.5v1.5h-1.5zM329.6 435.2h1.5v1.5h-1.5zM329.8 439.9h1.5v1.5h-1.5zM329.8 438.4h1.5v1.5h-1.5zM329.8 435.1h1.5v1.5h-1.5zM329.8 441.0h1.5v1.5h-1.5zM330.0 434.1h1.5v1.5h-1.5zM330.0 438.0h1.5v1.5h-1.5zM330.0 433.0h1.5v1.5h-1.5zM330.0 430.3h1.5v1.5h-1.5zM330.3 435.0h1.5v1.5h-1.5zM330.3 437.9h1.5v1.5h-1.5zM330.3 436.7h1.5v1.5h-1.5zM330.3 439.6h1.5v1.5h-1.5zM330.3 432.7h1.5v1.5h-1.5zM330.3 440.1h1.5v1.5h-1.5zM330.3 437.7h1.5v1.5h-1.5zM330.3 439.2h1.5v1.5h-1.5zM330.5 436.8h1.5v1.5h-1.5zM330.5 439.3h1.5v1.5h-1.5zM330.5 438.3h1.5v1.5h-1.5zM330.5 436.5h1.5v1.5h-1.5zM330.7 439.1h1.5v1.5h-1.5zM330.7 436.2h1.5v1.5h-1.5zM330.7 439.7h1.5v1.5h-1.5zM330.7 438.4h1.5v1.5h-1.5zM331.1 435.8h1.5v1.5h-1.5zM331.1 434.9h1.5v1.5h-1.5zM331.1 439.7h1.5v1.5h-1.5zM331.1 437.7h1.5v1.5h-1.5zM331.2 435.6h1.5v1.5h-1.5zM331.2 436.8h1.5v1.5h-1.5zM331.2 439.0h1.5v1.5h-1.5zM331.2 435.4h1.5v1.5h-1.5zM331.5 437.6h1.5v1.5h-1.5zM331.5 433.2h1.5v1.5h-1.5zM331.5 435.0h1.5v1.5h-1.5zM331.5 436.8h1.5v1.5h-1.5zM331.7 442.5h1.5v1.5h-1.5zM331.7 436.8h1.5v1.5h-1.5zM331.7 437.6h1.5v1.5h-1.5zM331.7 435.3h1.5v1.5h-1.5zM331.9 437.3h1.5v1.5h-1.5zM331.9 438.7h1.5v1.5h-1.5zM331.9 434.6h1.5v1.5h-1.5zM331.9 436.4h1.5v1.5h-1.5zM332.1 435.0h1.5v1.5h-1.5zM332.1 436.1h1.5v1.5h-1.5zM332.1 437.8h1.5v1.5h-1.5zM332.1 436.1h1.5v1.5h-1.5zM332.5 436.5h1.5v1.5h-1.5zM332.5 435.5h1.5v1.5h-1.5zM332.5 437.5h1.5v1.5h-1.5zM332.5 435.0h1.5v1.5h-1.5zM332.5 435.9h1.5v1.5h-1.5zM332.5 438.6h1.5v1.5h-1.5zM332.5 438.3h1.5v1.5h-1.5zM332.5 438.5h1.5v1.5h-1.5zM332.9 438.1h1.5v1.5h-1.5zM332.9 437.5h1.5v1.5h-1.5zM332.9 436.7h1.5v1.5h-1.5zM332.9 430.5h1.5v1.5h-1.5zM332.9 437.0h1.5v1.5h-1.5zM332.9 436.9h1.5v1.5h-1.5zM332.9 433.6h1.5v1.5h-1.5zM332.9 437.6h1.5v1.5h-1.5zM333.2 437.4h1.5v1.5h-1.5zM333.2 436.9h1.5v1.5h-1.5zM333.2 436.5h1.5v1.5h-1.5zM333.2 437.2h1.5v1.5h-1.5zM333.6 435.0h1.5v1.5h-1.5zM333.6 439.3h1.5v1.5h-1.5zM333.6 434.9h1.5v1.5h-1.5zM333.6 437.2h1.5v1.5h-1.5zM333.8 435.1h1.5v1.5h-1.5zM333.8 438.2h1.5v1.5h-1.5zM333.8 436.5h1.5v1.5h-1.5zM333.8 440.5h1.5v1.5h-1.5zM333.8 440.6h1.5v1.5h-1.5zM333.8 437.8h1.5v1.5h-1.5zM333.8 438.5h1.5v1.5h-1.5zM333.8 437.0h1.5v1.5h-1.5zM334.0 436.3h1.5v1.5h-1.5zM334.0 438.5h1.5v1.5h-1.5zM334.0 433.2h1.5v1.5h-1.5zM334.0 445.1h1.5v1.5h-1.5zM334.5 436.6h1.5v1.5h-1.5zM334.5 435.7h1.5v1.5h-1.5zM334.5 435.4h1.5v1.5h-1.5zM334.5 436.5h1.5v1.5h-1.5zM334.6 439.9h1.5v1.5h-1.5zM334.6 435.8h1.5v1.5h-1.5zM334.6 435.3h1.5v1.5h-1.5zM334.6 438.3h1.5v1.5h-1.5zM334.9 439.5h1.5v1.5h-1.5zM334.9 434.4h1.5v1.5h-1.5zM334.9 431.9h1.5v1.5h-1.5zM334.9 435.9h1.5v1.5h-1.5zM335.1 442.0h1.5v1.5h-1.5zM335.1 440.2h1.5v1.5h-1.5zM335.1 439.5h1.5v1.5h-1.5zM335.1 436.5h1.5v1.5h-1.5zM335.3 458.1h1.5v1.5h-1.5zM335.3 438.0h1.5v1.5h-1.5zM335.3 438.7h1.5v1.5h-1.5zM335.3 435.0h1.5v1.5h-1.5zM335.4 437.4h1.5v1.5h-1.5zM335.4 438.0h1.5v1.5h-1.5zM335.4 436.5h1.5v1.5h-1.5zM335.4 435.1h1.5v1.5h-1.5zM335.8 438.7h1.5v1.5h-1.5zM335.8 450.8h1.5v1.5h-1.5zM335.8 435.8h1.5v1.5h-1.5zM335.8 440.3h1.5v1.5h-1.5zM335.9 437.2h1.5v1.5h-1.5zM335.9 434.9h1.5v1.5h-1.5zM335.9 436.9h1.5v1.5h-1.5zM335.9 439.7h1.5v1.5h-1.5zM336.2 438.6h1.5v1.5h-1.5zM336.2 436.9h1.5v1.5h-1.5zM336.2 439.4h1.5v1.5h-1.5zM336.2 437.2h1.5v1.5h-1.5zM336.4 436.2h1.5v1.5h-1.5zM336.4 436.3h1.5v1.5h-1.5zM336.4 436.9h1.5v1.5h-1.5zM336.4 435.7h1.5v1.5h-1.5zM336.5 438.9h1.5v1.5h-1.5zM336.5 439.0h1.5v1.5h-1.5zM336.5 440.4h1.5v1.5h-1.5zM336.5 438.6h1.5v1.5h-1.5zM336.7 438.2h1.5v1.5h-1.5zM336.7 436.5h1.5v1.5h-1.5zM336.7 439.1h1.5v1.5h-1.5zM336.7 437.7h1.5v1.5h-1.5zM336.9 437.6h1.5v1.5h-1.5zM336.9 441.8h1.5v1.5h-1.5zM336.9 440.0h1.5v1.5h-1.5zM336.9 437.9h1.5v1.5h-1.5zM337.3 437.8h1.5v1.5h-1.5zM337.3 439.1h1.5v1.5h-1.5zM337.3 434.7h1.5v1.5h-1.5zM337.3 437.0h1.5v1.5h-1.5zM337.4 433.6h1.5v1.5h-1.5zM337.4 435.6h1.5v1.5h-1.5zM337.4 441.5h1.5v1.5h-1.5zM337.4 433.3h1.5v1.5h-1.5zM337.7 436.7h1.5v1.5h-1.5zM337.7 438.2h1.5v1.5h-1.5zM337.7 438.3h1.5v1.5h-1.5zM337.7 443.2h1.5v1.5h-1.5zM338.0 438.1h1.5v1.5h-1.5zM338.0 439.6h1.5v1.5h-1.5zM338.0 435.9h1.5v1.5h-1.5zM338.0 437.5h1.5v1.5h-1.5zM338.0 436.4h1.5v1.5h-1.5zM338.0 438.7h1.5v1.5h-1.5zM338.0 438.1h1.5v1.5h-1.5zM338.0 438.9h1.5v1.5h-1.5zM338.3 437.3h1.5v1.5h-1.5zM338.3 436.5h1.5v1.5h-1.5zM338.3 436.8h1.5v1.5h-1.5zM338.3 437.9h1.5v1.5h-1.5zM338.7 436.3h1.5v1.5h-1.5zM338.7 439.9h1.5v1.5h-1.5zM338.7 455.2h1.5v1.5h-1.5zM338.7 438.2h1.5v1.5h-1.5zM338.8 437.4h1.5v1.5h-1.5zM338.8 439.8h1.5v1.5h-1.5zM338.8 439.7h1.5v1.5h-1.5zM338.8 437.0h1.5v1.5h-1.5zM339.0 438.4h1.5v1.5h-1.5zM339.0 436.0h1.5v1.5h-1.5zM339.0 438.5h1.5v1.5h-1.5zM339.0 436.2h1.5v1.5h-1.5zM339.1 435.2h1.5v1.5h-1.5zM339.1 438.5h1.5v1.5h-1.5zM339.1 437.4h1.5v1.5h-1.5zM339.1 436.2h1.5v1.5h-1.5zM339.3 435.1h1.5v1.5h-1.5zM339.3 435.2h1.5v1.5h-1.5zM339.3 434.6h1.5v1.5h-1.5zM339.3 437.2h1.5v1.5h-1.5zM339.6 437.1h1.5v1.5h-1.5zM339.6 437.7h1.5v1.5h-1.5zM339.6 435.4h1.5v1.5h-1.5zM339.6 439.2h1.5v1.5h-1.5zM340.0 437.0h1.5v1.5h-1.5zM340.0 438.9h1.5v1.5h-1.5zM340.0 438.4h1.5v1.5h-1.5zM340.0 439.4h1.5v1.5h-1.5zM340.2 437.1h1.5v1.5h-1.5zM340.2 435.3h1.5v1.5h-1.5zM340.2 438.7h1.5v1.5h-1.5zM340.2 450.5h1.5v1.5h-1.5zM340.2 433.3h1.5v1.5h-1.5zM340.2 432.3h1.5v1.5h-1.5zM340.2 436.2h1.5v1.5h-1.5zM340.2 442.2h1.5v1.5h-1.5zM340.4 437.3h1.5v1.5h-1.5zM340.4 435.3h1.5v1.5h-1.5zM340.4 438.9h1.5v1.5h-1.5zM340.4 439.6h1.5v1.5h-1.5zM340.8 438.9h1.5v1.5h-1.5zM340.8 436.3h1.5v1.5h-1.5zM340.8 437.7h1.5v1.5h-1.5zM340.8 435.2h1.5v1.5h-1.5zM341.0 437.9h1.5v1.5h-1.5zM341.0 438.1h1.5v1.5h-1.5zM341.0 437.5h1.5v1.5h-1.5zM341.0 438.3h1.5v1.5h-1.5zM341.3 433.1h1.5v1.5h-1.5zM341.3 433.6h1.5v1.5h-1.5zM341.3 437.8h1.5v1.5h-1.5zM341.3 436.5h1.5v1.5h-1.5zM341.4 437.8h1.5v1.5h-1.5zM341.4 439.6h1.5v1.5h-1.5zM341.4 446.5h1.5v1.5h-1.5zM341.4 435.8h1.5v1.5h-1.5zM341.5 437.6h1.5v1.5h-1.5zM341.5 433.8h1.5v1.5h-1.5zM341.5 444.5h1.5v1.5h-1.5zM341.5 437.8h1.5v1.5h-1.5zM341.9 435.6h1.5v1.5h-1.5zM341.9 440.1h1.5v1.5h-1.5zM341.9 437.5h1.5v1.5h-1.5zM341.9 438.3h1.5v1.5h-1.5zM342.0 433.3h1.5v1.5h-1.5zM342.0 439.0h1.5v1.5h-1.5zM342.0 439.3h1.5v1.5h-1.5zM342.0 440.5h1.5v1.5h-1.5zM342.2 435.1h1.5v1.5h-1.5zM342.2 433.5h1.5v1.5h-1.5zM342.2 435.4h1.5v1.5h-1.5zM342.2 437.5h1.5v1.5h-1.5zM342.5 445.1h1.5v1.5h-1.5zM342.5 433.6h1.5v1.5h-1.5zM342.5 435.6h1.5v1.5h-1.5zM342.5 437.9h1.5v1.5h-1.5zM342.8 439.7h1.5v1.5h-1.5zM342.8 435.5h1.5v1.5h-1.5zM342.8 439.9h1.5v1.5h-1.5zM342.8 441.9h1.5v1.5h-1.5zM342.8 440.7h1.5v1.5h-1.5zM342.8 441.0h1.5v1.5h-1.5zM342.8 439.1h1.5v1.5h-1.5zM342.8 442.2h1.5v1.5h-1.5zM343.0 436.6h1.5v1.5h-1.5zM343.0 439.1h1.5v1.5h-1.5zM343.0 436.5h1.5v1.5h-1.5zM343.0 436.1h1.5v1.5h-1.5zM343.3 436.5h1.5v1.5h-1.5zM343.3 439.0h1.5v1.5h-1.5zM343.3 438.9h1.5v1.5h-1.5zM343.3 435.3h1.5v1.5h-1.5zM343.6 439.5h1.5v1.5h-1.5zM343.6 436.6h1.5v1.5h-1.5zM343.6 441.7h1.5v1.5h-1.5zM343.6 434.6h1.5v1.5h-1.5zM343.9 437.1h1.5v1.5h-1.5zM343.9 435.5h1.5v1.5h-1.5zM343.9 431.7h1.5v1.5h-1.5zM343.9 441.3h1.5v1.5h-1.5zM344.0 438.1h1.5v1.5h-1.5zM344.0 438.4h1.5v1.5h-1.5zM344.0 436.7h1.5v1.5h-1.5zM344.0 434.9h1.5v1.5h-1.5zM344.3 439.0h1.5v1.5h-1.5zM344.3 434.3h1.5v1.5h-1.5zM344.3 435.7h1.5v1.5h-1.5zM344.3 438.2h1.5v1.5h-1.5zM344.6 439.3h1.5v1.5h-1.5zM344.6 437.1h1.5v1.5h-1.5zM344.6 434.6h1.5v1.5h-1.5zM344.6 437.9h1.5v1.5h-1.5zM344.7 441.4h1.5v1.5h-1.5zM344.7 437.0h1.5v1.5h-1.5zM344.7 437.1h1.5v1.5h-1.5zM344.7 434.2h1.5v1.5h-1.5zM345.0 435.5h1.5v1.5h-1.5zM345.0 441.4h1.5v1.5h-1.5zM345.0 433.9h1.5v1.5h-1.5zM345.0 434.7h1.5v1.5h-1.5zM345.2 439.7h1.5v1.5h-1.5zM345.2 433.9h1.5v1.5h-1.5zM345.2 438.7h1.5v1.5h-1.5zM345.2 436.6h1.5v1.5h-1.5zM345.4 439.6h1.5v1.5h-1.5zM345.4 436.9h1.5v1.5h-1.5zM345.4 437.6h1.5v1.5h-1.5zM345.4 440.9h1.5v1.5h-1.5zM345.7 435.3h1.5v1.5h-1.5zM345.7 441.4h1.5v1.5h-1.5zM345.7 438.5h1.5v1.5h-1.5zM345.7 438.0h1.5v1.5h-1.5zM345.8 437.0h1.5v1.5h-1.5zM345.8 436.0h1.5v1.5h-1.5zM345.8 435.6h1.5v1.5h-1.5zM345.8 433.6h1.5v1.5h-1.5zM346.0 436.5h1.5v1.5h-1.5zM346.0 436.3h1.5v1.5h-1.5zM346.0 436.4h1.5v1.5h-1.5zM346.0 432.1h1.5v1.5h-1.5zM346.3 432.4h1.5v1.5h-1.5zM346.3 438.6h1.5v1.5h-1.5zM346.3 436.1h1.5v1.5h-1.5zM346.3 436.2h1.5v1.5h-1.5zM346.6 434.2h1.5v1.5h-1.5zM346.6 440.0h1.5v1.5h-1.5zM346.6 437.6h1.5v1.5h-1.5zM346.6 441.6h1.5v1.5h-1.5zM346.8 436.3h1.5v1.5h-1.5zM346.8 433.8h1.5v1.5h-1.5zM346.8 432.6h1.5v1.5h-1.5zM346.8 437.3h1.5v1.5h-1.5zM347.0 436.8h1.5v1.5h-1.5zM347.0 441.4h1.5v1.5h-1.5zM347.0 437.4h1.5v1.5h-1.5zM347.0 435.7h1.5v1.5h-1.5zM347.0 435.6h1.5v1.5h-1.5zM347.0 436.0h1.5v1.5h-1.5zM347.0 437.2h1.5v1.5h-1.5zM347.0 437.5h1.5v1.5h-1.5zM347.3 436.8h1.5v1.5h-1.5zM347.3 436.1h1.5v1.5h-1.5zM347.3 441.9h1.5v1.5h-1.5zM347.3 436.7h1.5v1.5h-1.5zM347.6 435.6h1.5v1.5h-1.5zM347.6 432.6h1.5v1.5h-1.5zM347.6 438.5h1.5v1.5h-1.5zM347.6 436.1h1.5v1.5h-1.5zM347.8 435.7h1.5v1.5h-1.5zM347.8 436.7h1.5v1.5h-1.5zM347.8 436.3h1.5v1.5h-1.5zM347.8 444.2h1.5v1.5h-1.5zM348.1 439.9h1.5v1.5h-1.5zM348.1 439.4h1.5v1.5h-1.5zM348.1 434.6h1.5v1.5h-1.5zM348.1 446.8h1.5v1.5h-1.5zM348.4 439.6h1.5v1.5h-1.5zM348.4 436.8h1.5v1.5h-1.5zM348.4 438.6h1.5v1.5h-1.5zM348.4 438.0h1.5v1.5h-1.5zM348.3 438.3h1.5v1.5h-1.5zM348.3 443.6h1.5v1.5h-1.5zM348.3 437.8h1.5v1.5h-1.5zM348.3 435.8h1.5v1.5h-1.5zM348.7 437.5h1.5v1.5h-1.5zM348.7 439.0h1.5v1.5h-1.5zM348.7 436.0h1.5v1.5h-1.5zM348.7 438.0h1.5v1.5h-1.5zM348.9 433.5h1.5v1.5h-1.5zM348.9 440.8h1.5v1.5h-1.5zM348.9 436.3h1.5v1.5h-1.5zM348.9 439.4h1.5v1.5h-1.5zM349.1 454.9h1.5v1.5h-1.5zM349.1 436.5h1.5v1.5h-1.5zM349.1 434.8h1.5v1.5h-1.5zM349.1 436.9h1.5v1.5h-1.5zM349.4 439.1h1.5v1.5h-1.5zM349.4 438.3h1.5v1.5h-1.5zM349.4 449.4h1.5v1.5h-1.5zM349.4 435.1h1.5v1.5h-1.5zM349.4 439.1h1.5v1.5h-1.5zM349.4 441.7h1.5v1.5h-1.5zM349.4 437.5h1.5v1.5h-1.5zM349.4 439.7h1.5v1.5h-1.5zM349.9 436.5h1.5v1.5h-1.5zM349.9 439.3h1.5v1.5h-1.5zM349.9 436.5h1.5v1.5h-1.5zM349.9 436.5h1.5v1.5h-1.5zM349.9 435.5h1.5v1.5h-1.5zM349.9 436.5h1.5v1.5h-1.5zM349.9 438.4h1.5v1.5h-1.5zM349.9 439.0h1.5v1.5h-1.5zM350.3 437.2h1.5v1.5h-1.5zM350.3 436.0h1.5v1.5h-1.5zM350.3 437.4h1.5v1.5h-1.5zM350.3 438.0h1.5v1.5h-1.5zM350.4 436.3h1.5v1.5h-1.5zM350.4 441.1h1.5v1.5h-1.5zM350.4 438.1h1.5v1.5h-1.5zM350.4 437.1h1.5v1.5h-1.5zM350.8 438.5h1.5v1.5h-1.5zM350.8 437.8h1.5v1.5h-1.5zM350.8 438.4h1.5v1.5h-1.5zM350.8 435.3h1.5v1.5h-1.5zM350.8 436.5h1.5v1.5h-1.5zM350.8 436.4h1.5v1.5h-1.5zM350.8 434.3h1.5v1.5h-1.5zM350.8 437.3h1.5v1.5h-1.5zM351.0 442.9h1.5v1.5h-1.5zM351.0 433.1h1.5v1.5h-1.5zM351.0 433.5h1.5v1.5h-1.5zM351.0 438.0h1.5v1.5h-1.5zM351.4 436.3h1.5v1.5h-1.5zM351.4 433.2h1.5v1.5h-1.5zM351.4 436.9h1.5v1.5h-1.5zM351.4 437.9h1.5v1.5h-1.5zM351.5 439.3h1.5v1.5h-1.5zM351.5 438.0h1.5v1.5h-1.5zM351.5 434.5h1.5v1.5h-1.5zM351.5 439.1h1.5v1.5h-1.5zM351.6 433.2h1.5v1.5h-1.5zM351.6 440.4h1.5v1.5h-1.5zM351.6 440.0h1.5v1.5h-1.5zM351.6 439.1h1.5v1.5h-1.5zM351.9 438.4h1.5v1.5h-1.5zM351.9 435.1h1.5v1.5h-1.5zM351.9 440.4h1.5v1.5h-1.5zM351.9 438.6h1.5v1.5h-1.5zM352.2 435.9h1.5v1.5h-1.5zM352.2 435.4h1.5v1.5h-1.5zM352.2 436.3h1.5v1.5h-1.5zM352.2 439.1h1.5v1.5h-1.5zM352.3 434.2h1.5v1.5h-1.5zM352.3 436.1h1.5v1.5h-1.5zM352.3 442.8h1.5v1.5h-1.5zM352.3 439.4h1.5v1.5h-1.5zM352.8 442.7h1.5v1.5h-1.5zM352.8 435.6h1.5v1.5h-1.5zM352.8 430.5h1.5v1.5h-1.5zM352.8 440.5h1.5v1.5h-1.5zM352.7 437.5h1.5v1.5h-1.5zM352.7 441.9h1.5v1.5h-1.5zM352.7 437.3h1.5v1.5h-1.5zM352.7 436.0h1.5v1.5h-1.5zM353.1 436.0h1.5v1.5h-1.5zM353.1 440.3h1.5v1.5h-1.5zM353.1 438.3h1.5v1.5h-1.5zM353.1 438.8h1.5v1.5h-1.5zM353.1 426.3h1.5v1.5h-1.5zM353.1 439.0h1.5v1.5h-1.5zM353.1 435.4h1.5v1.5h-1.5zM353.1 439.0h1.5v1.5h-1.5zM353.4 441.7h1.5v1.5h-1.5zM353.4 444.7h1.5v1.5h-1.5zM353.4 436.2h1.5v1.5h-1.5zM353.4 438.4h1.5v1.5h-1.5zM353.7 436.8h1.5v1.5h-1.5zM353.7 433.6h1.5v1.5h-1.5zM353.7 434.8h1.5v1.5h-1.5zM353.7 439.9h1.5v1.5h-1.5zM353.9 438.2h1.5v1.5h-1.5zM353.9 437.5h1.5v1.5h-1.5zM353.9 440.5h1.5v1.5h-1.5zM353.9 435.9h1.5v1.5h-1.5zM354.2 440.3h1.5v1.5h-1.5zM354.2 445.8h1.5v1.5h-1.5zM354.2 443.6h1.5v1.5h-1.5zM354.2 437.6h1.5v1.5h-1.5zM354.5 447.1h1.5v1.5h-1.5zM354.5 435.4h1.5v1.5h-1.5zM354.5 436.7h1.5v1.5h-1.5zM354.5 440.2h1.5v1.5h-1.5zM354.6 438.0h1.5v1.5h-1.5zM354.6 439.9h1.5v1.5h-1.5zM354.6 434.8h1.5v1.5h-1.5zM354.6 439.4h1.5v1.5h-1.5zM354.9 434.7h1.5v1.5h-1.5zM354.9 436.1h1.5v1.5h-1.5zM354.9 439.8h1.5v1.5h-1.5zM354.9 443.2h1.5v1.5h-1.5zM355.0 436.8h1.5v1.5h-1.5zM355.0 437.6h1.5v1.5h-1.5zM355.0 439.7h1.5v1.5h-1.5zM355.0 428.7h1.5v1.5h-1.5zM355.3 437.1h1.5v1.5h-1.5zM355.3 437.6h1.5v1.5h-1.5zM355.3 436.0h1.5v1.5h-1.5zM355.3 440.6h1.5v1.5h-1.5zM355.6 437.0h1.5v1.5h-1.5zM355.6 435.2h1.5v1.5h-1.5zM355.6 436.0h1.5v1.5h-1.5zM355.6 436.7h1.5v1.5h-1.5zM355.6 438.7h1.5v1.5h-1.5zM355.6 434.5h1.5v1.5h-1.5zM355.6 435.8h1.5v1.5h-1.5zM355.6 438.5h1.5v1.5h-1.5zM356.0 439.8h1.5v1.5h-1.5zM356.0 438.2h1.5v1.5h-1.5zM356.0 440.3h1.5v1.5h-1.5zM356.0 435.2h1.5v1.5h-1.5zM356.3 438.4h1.5v1.5h-1.5zM356.3 439.0h1.5v1.5h-1.5zM356.3 437.0h1.5v1.5h-1.5zM356.3 438.5h1.5v1.5h-1.5zM356.3 440.0h1.5v1.5h-1.5zM356.3 438.0h1.5v1.5h-1.5zM356.3 436.9h1.5v1.5h-1.5zM356.3 438.0h1.5v1.5h-1.5zM356.7 440.3h1.5v1.5h-1.5zM356.7 437.0h1.5v1.5h-1.5zM356.7 438.2h1.5v1.5h-1.5zM356.7 435.1h1.5v1.5h-1.5zM356.7 438.2h1.5v1.5h-1.5zM356.7 436.6h1.5v1.5h-1.5zM356.7 436.7h1.5v1.5h-1.5zM356.7 438.7h1.5v1.5h-1.5zM357.1 436.5h1.5v1.5h-1.5zM357.1 439.8h1.5v1.5h-1.5zM357.1 440.6h1.5v1.5h-1.5zM357.1 438.2h1.5v1.5h-1.5zM357.3 436.7h1.5v1.5h-1.5zM357.3 440.1h1.5v1.5h-1.5zM357.3 435.3h1.5v1.5h-1.5zM357.3 438.3h1.5v1.5h-1.5zM357.6 440.2h1.5v1.5h-1.5zM357.6 436.5h1.5v1.5h-1.5zM357.6 436.9h1.5v1.5h-1.5zM357.6 436.1h1.5v1.5h-1.5zM357.6 437.2h1.5v1.5h-1.5zM357.6 432.5h1.5v1.5h-1.5zM357.6 451.2h1.5v1.5h-1.5zM357.6 438.2h1.5v1.5h-1.5zM358.0 438.6h1.5v1.5h-1.5zM358.0 436.5h1.5v1.5h-1.5zM358.0 435.6h1.5v1.5h-1.5zM358.0 437.7h1.5v1.5h-1.5zM358.1 435.7h1.5v1.5h-1.5zM358.1 434.6h1.5v1.5h-1.5zM358.1 434.5h1.5v1.5h-1.5zM358.1 440.2h1.5v1.5h-1.5zM358.4 439.0h1.5v1.5h-1.5zM358.4 437.1h1.5v1.5h-1.5zM358.4 436.5h1.5v1.5h-1.5zM358.4 437.4h1.5v1.5h-1.5zM358.7 442.9h1.5v1.5h-1.5zM358.7 448.3h1.5v1.5h-1.5zM358.7 434.5h1.5v1.5h-1.5zM358.7 438.4h1.5v1.5h-1.5zM358.9 435.7h1.5v1.5h-1.5zM358.9 438.4h1.5v1.5h-1.5zM358.9 438.8h1.5v1.5h-1.5zM358.9 439.7h1.5v1.5h-1.5zM358.9 436.7h1.5v1.5h-1.5zM358.9 439.0h1.5v1.5h-1.5zM358.9 440.2h1.5v1.5h-1.5zM358.9 439.5h1.5v1.5h-1.5zM359.3 439.9h1.5v1.5h-1.5zM359.3 438.1h1.5v1.5h-1.5zM359.3 452.3h1.5v1.5h-1.5zM359.3 435.4h1.5v1.5h-1.5zM359.5 436.5h1.5v1.5h-1.5zM359.5 436.7h1.5v1.5h-1.5zM359.5 438.1h1.5v1.5h-1.5zM359.5 438.2h1.5v1.5h-1.5zM359.8 437.1h1.5v1.5h-1.5zM359.8 429.4h1.5v1.5h-1.5zM359.8 437.0h1.5v1.5h-1.5zM359.8 437.7h1.5v1.5h-1.5zM359.8 437.2h1.5v1.5h-1.5zM359.8 435.5h1.5v1.5h-1.5zM359.8 442.0h1.5v1.5h-1.5zM359.8 434.8h1.5v1.5h-1.5zM360.2 439.2h1.5v1.5h-1.5zM360.2 436.6h1.5v1.5h-1.5zM360.2 439.1h1.5v1.5h-1.5zM360.2 436.9h1.5v1.5h-1.5zM360.5 436.9h1.5v1.5h-1.5zM360.5 439.4h1.5v1.5h-1.5zM360.5 436.1h1.5v1.5h-1.5zM360.5 441.5h1.5v1.5h-1.5zM360.6 439.3h1.5v1.5h-1.5zM360.6 439.9h1.5v1.5h-1.5zM360.6 441.1h1.5v1.5h-1.5zM360.6 439.2h1.5v1.5h-1.5zM360.7 439.3h1.5v1.5h-1.5zM360.7 439.6h1.5v1.5h-1.5zM360.7 436.1h1.5v1.5h-1.5zM360.7 439.9h1.5v1.5h-1.5zM361.1 436.1h1.5v1.5h-1.5zM361.1 440.4h1.5v1.5h-1.5zM361.1 438.8h1.5v1.5h-1.5zM361.1 436.7h1.5v1.5h-1.5zM361.2 436.0h1.5v1.5h-1.5zM361.2 436.7h1.5v1.5h-1.5zM361.2 439.1h1.5v1.5h-1.5zM361.2 438.6h1.5v1.5h-1.5zM361.6 438.9h1.5v1.5h-1.5zM361.6 438.9h1.5v1.5h-1.5zM361.6 437.8h1.5v1.5h-1.5zM361.6 437.1h1.5v1.5h-1.5zM361.7 435.4h1.5v1.5h-1.5zM361.7 437.1h1.5v1.5h-1.5zM361.7 438.2h1.5v1.5h-1.5zM361.7 438.8h1.5v1.5h-1.5zM361.9 435.9h1.5v1.5h-1.5zM361.9 437.8h1.5v1.5h-1.5zM361.9 438.4h1.5v1.5h-1.5zM361.9 445.7h1.5v1.5h-1.5zM362.1 439.0h1.5v1.5h-1.5zM362.1 439.1h1.5v1.5h-1.5zM362.1 437.6h1.5v1.5h-1.5zM362.1 435.4h1.5v1.5h-1.5zM362.2 439.3h1.5v1.5h-1.5zM362.2 438.2h1.5v1.5h-1.5zM362.2 436.5h1.5v1.5h-1.5zM362.2 436.3h1.5v1.5h-1.5zM362.7 435.7h1.5v1.5h-1.5zM362.7 438.2h1.5v1.5h-1.5zM362.7 437.3h1.5v1.5h-1.5zM362.7 436.5h1.5v1.5h-1.5zM362.6 440.2h1.5v1.5h-1.5zM362.6 435.7h1.5v1.5h-1.5zM362.6 435.1h1.5v1.5h-1.5zM362.6 426.8h1.5v1.5h-1.5zM363.0 440.7h1.5v1.5h-1.5zM363.0 436.2h1.5v1.5h-1.5zM363.0 439.3h1.5v1.5h-1.5zM363.0 437.7h1.5v1.5h-1.5zM363.2 439.2h1.5v1.5h-1.5zM363.2 437.4h1.5v1.5h-1.5zM363.2 438.5h1.5v1.5h-1.5zM363.2 433.4h1.5v1.5h-1.5zM363.6 438.5h1.5v1.5h-1.5zM363.6 437.5h1.5v1.5h-1.5zM363.6 438.4h1.5v1.5h-1.5zM363.6 431.9h1.5v1.5h-1.5zM363.6 438.1h1.5v1.5h-1.5zM363.6 435.7h1.5v1.5h-1.5zM363.6 434.5h1.5v1.5h-1.5zM363.6 440.7h1.5v1.5h-1.5zM363.9 438.1h1.5v1.5h-1.5zM363.9 439.9h1.5v1.5h-1.5zM363.9 434.5h1.5v1.5h-1.5zM363.9 438.7h1.5v1.5h-1.5zM364.1 437.5h1.5v1.5h-1.5zM364.1 442.6h1.5v1.5h-1.5zM364.1 438.8h1.5v1.5h-1.5zM364.1 432.5h1.5v1.5h-1.5zM364.3 432.9h1.5v1.5h-1.5zM364.3 436.0h1.5v1.5h-1.5zM364.3 436.5h1.5v1.5h-1.5zM364.3 437.3h1.5v1.5h-1.5zM364.4 443.4h1.5v1.5h-1.5zM364.4 440.9h1.5v1.5h-1.5zM364.4 440.9h1.5v1.5h-1.5zM364.4 434.5h1.5v1.5h-1.5zM364.8 433.9h1.5v1.5h-1.5zM364.8 435.6h1.5v1.5h-1.5zM364.8 444.4h1.5v1.5h-1.5zM364.8 440.2h1.5v1.5h-1.5zM364.9 437.1h1.5v1.5h-1.5zM364.9 440.2h1.5v1.5h-1.5zM364.9 438.5h1.5v1.5h-1.5zM364.9 439.5h1.5v1.5h-1.5zM365.1 438.4h1.5v1.5h-1.5zM365.1 436.4h1.5v1.5h-1.5zM365.1 441.4h1.5v1.5h-1.5zM365.1 441.3h1.5v1.5h-1.5zM365.4 437.1h1.5v1.5h-1.5zM365.4 436.6h1.5v1.5h-1.5zM365.4 437.9h1.5v1.5h-1.5zM365.4 437.9h1.5v1.5h-1.5zM365.7 435.0h1.5v1.5h-1.5zM365.7 436.0h1.5v1.5h-1.5zM365.7 437.7h1.5v1.5h-1.5zM365.7 435.6h1.5v1.5h-1.5zM365.9 435.2h1.5v1.5h-1.5zM365.9 437.5h1.5v1.5h-1.5zM365.9 438.2h1.5v1.5h-1.5zM365.9 438.2h1.5v1.5h-1.5zM366.0 436.0h1.5v1.5h-1.5zM366.0 439.3h1.5v1.5h-1.5zM366.0 437.6h1.5v1.5h-1.5zM366.0 437.9h1.5v1.5h-1.5zM366.4 438.2h1.5v1.5h-1.5zM366.4 437.7h1.5v1.5h-1.5zM366.4 442.1h1.5v1.5h-1.5zM366.4 433.5h1.5v1.5h-1.5zM366.6 439.0h1.5v1.5h-1.5zM366.6 441.0h1.5v1.5h-1.5zM366.6 434.2h1.5v1.5h-1.5zM366.6 434.5h1.5v1.5h-1.5zM366.8 435.6h1.5v1.5h-1.5zM366.8 436.4h1.5v1.5h-1.5zM366.8 434.7h1.5v1.5h-1.5zM366.8 436.6h1.5v1.5h-1.5zM366.9 437.4h1.5v1.5h-1.5zM366.9 441.8h1.5v1.5h-1.5zM366.9 436.5h1.5v1.5h-1.5zM366.9 439.4h1.5v1.5h-1.5zM367.1 435.3h1.5v1.5h-1.5zM367.1 439.9h1.5v1.5h-1.5zM367.1 439.3h1.5v1.5h-1.5zM367.1 438.6h1.5v1.5h-1.5zM367.5 437.7h1.5v1.5h-1.5zM367.5 435.6h1.5v1.5h-1.5zM367.5 441.1h1.5v1.5h-1.5zM367.5 436.8h1.5v1.5h-1.5zM367.5 443.9h1.5v1.5h-1.5zM367.5 441.5h1.5v1.5h-1.5zM367.5 444.8h1.5v1.5h-1.5zM367.5 437.8h1.5v1.5h-1.5zM367.8 440.1h1.5v1.5h-1.5zM367.8 435.2h1.5v1.5h-1.5zM367.8 433.9h1.5v1.5h-1.5zM367.8 436.7h1.5v1.5h-1.5zM368.0 433.4h1.5v1.5h-1.5zM368.0 437.0h1.5v1.5h-1.5zM368.0 437.6h1.5v1.5h-1.5zM368.0 435.5h1.5v1.5h-1.5zM368.3 435.5h1.5v1.5h-1.5zM368.3 436.8h1.5v1.5h-1.5zM368.3 438.5h1.5v1.5h-1.5zM368.3 437.7h1.5v1.5h-1.5zM368.6 434.3h1.5v1.5h-1.5zM368.6 438.2h1.5v1.5h-1.5zM368.6 439.6h1.5v1.5h-1.5zM368.6 439.5h1.5v1.5h-1.5zM368.8 436.1h1.5v1.5h-1.5zM368.8 437.4h1.5v1.5h-1.5zM368.8 435.5h1.5v1.5h-1.5zM368.8 439.1h1.5v1.5h-1.5zM369.0 441.0h1.5v1.5h-1.5zM369.0 438.1h1.5v1.5h-1.5zM369.0 437.6h1.5v1.5h-1.5zM369.0 440.1h1.5v1.5h-1.5zM369.1 436.3h1.5v1.5h-1.5zM369.1 439.4h1.5v1.5h-1.5zM369.1 436.5h1.5v1.5h-1.5zM369.1 439.5h1.5v1.5h-1.5zM369.5 433.9h1.5v1.5h-1.5zM369.5 440.5h1.5v1.5h-1.5zM369.5 438.5h1.5v1.5h-1.5zM369.5 439.9h1.5v1.5h-1.5zM369.7 440.0h1.5v1.5h-1.5zM369.7 436.8h1.5v1.5h-1.5zM369.7 440.7h1.5v1.5h-1.5zM369.7 436.9h1.5v1.5h-1.5zM369.8 436.4h1.5v1.5h-1.5zM369.8 438.7h1.5v1.5h-1.5zM369.8 435.8h1.5v1.5h-1.5zM369.8 435.3h1.5v1.5h-1.5zM369.9 441.4h1.5v1.5h-1.5zM369.9 438.5h1.5v1.5h-1.5zM369.9 439.7h1.5v1.5h-1.5zM369.9 436.7h1.5v1.5h-1.5zM370.2 437.3h1.5v1.5h-1.5zM370.2 438.3h1.5v1.5h-1.5zM370.2 437.5h1.5v1.5h-1.5zM370.2 437.6h1.5v1.5h-1.5zM370.6 440.3h1.5v1.5h-1.5zM370.6 439.9h1.5v1.5h-1.5zM370.6 437.6h1.5v1.5h-1.5zM370.6 438.6h1.5v1.5h-1.5zM370.7 437.8h1.5v1.5h-1.5zM370.7 444.7h1.5v1.5h-1.5zM370.7 434.7h1.5v1.5h-1.5zM370.7 435.9h1.5v1.5h-1.5zM370.9 438.2h1.5v1.5h-1.5zM370.9 437.9h1.5v1.5h-1.5zM370.9 440.8h1.5v1.5h-1.5zM370.9 440.9h1.5v1.5h-1.5zM371.1 434.9h1.5v1.5h-1.5zM371.1 438.6h1.5v1.5h-1.5zM371.1 439.2h1.5v1.5h-1.5zM371.1 439.5h1.5v1.5h-1.5zM371.3 436.4h1.5v1.5h-1.5zM371.3 439.3h1.5v1.5h-1.5zM371.3 434.5h1.5v1.5h-1.5zM371.3 438.7h1.5v1.5h-1.5zM371.7 437.4h1.5v1.5h-1.5zM371.7 441.5h1.5v1.5h-1.5zM371.7 437.2h1.5v1.5h-1.5zM371.7 443.4h1.5v1.5h-1.5zM371.9 439.4h1.5v1.5h-1.5zM371.9 440.8h1.5v1.5h-1.5zM371.9 459.0h1.5v1.5h-1.5zM371.9 438.2h1.5v1.5h-1.5zM371.9 433.3h1.5v1.5h-1.5zM371.9 437.2h1.5v1.5h-1.5zM371.9 435.5h1.5v1.5h-1.5zM371.9 437.0h1.5v1.5h-1.5zM372.2 435.8h1.5v1.5h-1.5zM372.2 437.2h1.5v1.5h-1.5zM372.2 428.6h1.5v1.5h-1.5zM372.2 439.0h1.5v1.5h-1.5zM372.4 435.9h1.5v1.5h-1.5zM372.4 441.8h1.5v1.5h-1.5zM372.4 437.4h1.5v1.5h-1.5zM372.4 439.5h1.5v1.5h-1.5zM372.6 435.2h1.5v1.5h-1.5zM372.6 436.7h1.5v1.5h-1.5zM372.6 438.5h1.5v1.5h-1.5zM372.6 439.5h1.5v1.5h-1.5zM373.0 440.5h1.5v1.5h-1.5zM373.0 438.5h1.5v1.5h-1.5zM373.0 440.3h1.5v1.5h-1.5zM373.0 437.2h1.5v1.5h-1.5zM373.1 435.0h1.5v1.5h-1.5zM373.1 435.1h1.5v1.5h-1.5zM373.1 441.7h1.5v1.5h-1.5zM373.1 437.3h1.5v1.5h-1.5zM373.5 439.3h1.5v1.5h-1.5zM373.5 440.2h1.5v1.5h-1.5zM373.5 438.2h1.5v1.5h-1.5zM373.5 436.8h1.5v1.5h-1.5zM373.5 443.4h1.5v1.5h-1.5zM373.5 437.9h1.5v1.5h-1.5zM373.5 436.3h1.5v1.5h-1.5zM373.5 436.4h1.5v1.5h-1.5zM373.7 432.6h1.5v1.5h-1.5zM373.7 429.1h1.5v1.5h-1.5zM373.7 438.8h1.5v1.5h-1.5zM373.7 437.1h1.5v1.5h-1.5zM374.0 437.6h1.5v1.5h-1.5zM374.0 433.8h1.5v1.5h-1.5zM374.0 438.0h1.5v1.5h-1.5zM374.0 438.5h1.5v1.5h-1.5zM374.2 439.3h1.5v1.5h-1.5zM374.2 436.4h1.5v1.5h-1.5zM374.2 435.8h1.5v1.5h-1.5zM374.2 441.3h1.5v1.5h-1.5zM374.3 434.7h1.5v1.5h-1.5zM374.3 435.2h1.5v1.5h-1.5zM374.3 438.0h1.5v1.5h-1.5zM374.3 436.2h1.5v1.5h-1.5zM374.8 439.9h1.5v1.5h-1.5zM374.8 449.3h1.5v1.5h-1.5zM374.8 440.6h1.5v1.5h-1.5zM374.8 436.7h1.5v1.5h-1.5zM375.0 437.9h1.5v1.5h-1.5zM375.0 437.4h1.5v1.5h-1.5zM375.0 442.0h1.5v1.5h-1.5zM375.0 436.1h1.5v1.5h-1.5zM375.1 437.8h1.5v1.5h-1.5zM375.1 437.7h1.5v1.5h-1.5zM375.1 435.0h1.5v1.5h-1.5zM375.1 441.6h1.5v1.5h-1.5zM375.4 439.8h1.5v1.5h-1.5zM375.4 436.6h1.5v1.5h-1.5zM375.4 438.8h1.5v1.5h-1.5zM375.4 434.4h1.5v1.5h-1.5zM375.5 433.2h1.5v1.5h-1.5zM375.5 431.7h1.5v1.5h-1.5zM375.5 439.6h1.5v1.5h-1.5zM375.5 442.2h1.5v1.5h-1.5zM375.8 437.7h1.5v1.5h-1.5zM375.8 438.4h1.5v1.5h-1.5zM375.8 438.0h1.5v1.5h-1.5zM375.8 436.3h1.5v1.5h-1.5zM376.0 440.1h1.5v1.5h-1.5zM376.0 438.6h1.5v1.5h-1.5zM376.0 436.8h1.5v1.5h-1.5zM376.0 435.3h1.5v1.5h-1.5zM376.2 436.2h1.5v1.5h-1.5zM376.2 435.1h1.5v1.5h-1.5zM376.2 437.8h1.5v1.5h-1.5zM376.2 436.3h1.5v1.5h-1.5zM376.5 434.2h1.5v1.5h-1.5zM376.5 442.0h1.5v1.5h-1.5zM376.5 435.9h1.5v1.5h-1.5zM376.5 437.3h1.5v1.5h-1.5zM376.5 435.9h1.5v1.5h-1.5zM376.5 435.4h1.5v1.5h-1.5zM376.5 436.9h1.5v1.5h-1.5zM376.5 439.0h1.5v1.5h-1.5zM376.9 433.8h1.5v1.5h-1.5zM376.9 439.7h1.5v1.5h-1.5zM376.9 437.5h1.5v1.5h-1.5zM376.9 435.3h1.5v1.5h-1.5zM377.0 436.3h1.5v1.5h-1.5zM377.0 437.3h1.5v1.5h-1.5zM377.0 433.2h1.5v1.5h-1.5zM377.0 442.2h1.5v1.5h-1.5zM377.4 435.7h1.5v1.5h-1.5zM377.4 436.7h1.5v1.5h-1.5zM377.4 436.0h1.5v1.5h-1.5zM377.4 438.2h1.5v1.5h-1.5zM377.6 438.4h1.5v1.5h-1.5zM377.6 437.6h1.5v1.5h-1.5zM377.6 435.6h1.5v1.5h-1.5zM377.6 428.0h1.5v1.5h-1.5zM377.7 438.2h1.5v1.5h-1.5zM377.7 441.0h1.5v1.5h-1.5zM377.7 437.9h1.5v1.5h-1.5zM377.7 437.5h1.5v1.5h-1.5zM378.1 433.4h1.5v1.5h-1.5zM378.1 436.7h1.5v1.5h-1.5zM378.1 434.8h1.5v1.5h-1.5zM378.1 439.4h1.5v1.5h-1.5zM378.3 439.8h1.5v1.5h-1.5zM378.3 441.6h1.5v1.5h-1.5zM378.3 437.7h1.5v1.5h-1.5zM378.3 436.9h1.5v1.5h-1.5zM378.4 436.3h1.5v1.5h-1.5zM378.4 435.6h1.5v1.5h-1.5zM378.4 435.9h1.5v1.5h-1.5zM378.4 439.0h1.5v1.5h-1.5zM378.5 435.9h1.5v1.5h-1.5zM378.5 438.5h1.5v1.5h-1.5zM378.5 436.5h1.5v1.5h-1.5zM378.5 436.6h1.5v1.5h-1.5zM378.9 438.1h1.5v1.5h-1.5zM378.9 439.3h1.5v1.5h-1.5zM378.9 437.5h1.5v1.5h-1.5zM378.9 438.8h1.5v1.5h-1.5zM379.2 438.4h1.5v1.5h-1.5zM379.2 436.6h1.5v1.5h-1.5zM379.2 435.7h1.5v1.5h-1.5zM379.2 437.9h1.5v1.5h-1.5zM379.2 439.6h1.5v1.5h-1.5zM379.2 439.2h1.5v1.5h-1.5zM379.2 433.6h1.5v1.5h-1.5zM379.2 437.5h1.5v1.5h-1.5zM379.6 438.0h1.5v1.5h-1.5zM379.6 439.4h1.5v1.5h-1.5zM379.6 437.9h1.5v1.5h-1.5zM379.6 440.6h1.5v1.5h-1.5zM379.8 435.5h1.5v1.5h-1.5zM379.8 442.9h1.5v1.5h-1.5zM379.8 437.8h1.5v1.5h-1.5zM379.8 438.6h1.5v1.5h-1.5zM380.1 439.0h1.5v1.5h-1.5zM380.1 440.4h1.5v1.5h-1.5zM380.1 436.0h1.5v1.5h-1.5zM380.1 437.6h1.5v1.5h-1.5zM380.0 436.1h1.5v1.5h-1.5zM380.0 440.1h1.5v1.5h-1.5zM380.0 436.2h1.5v1.5h-1.5zM380.0 437.8h1.5v1.5h-1.5zM380.5 437.6h1.5v1.5h-1.5zM380.5 448.1h1.5v1.5h-1.5zM380.5 438.1h1.5v1.5h-1.5zM380.5 441.2h1.5v1.5h-1.5zM380.6 434.8h1.5v1.5h-1.5zM380.6 437.2h1.5v1.5h-1.5zM380.6 437.7h1.5v1.5h-1.5zM380.6 438.7h1.5v1.5h-1.5zM380.9 436.7h1.5v1.5h-1.5zM380.9 440.1h1.5v1.5h-1.5zM380.9 445.5h1.5v1.5h-1.5zM380.9 437.3h1.5v1.5h-1.5zM381.2 443.1h1.5v1.5h-1.5zM381.2 434.4h1.5v1.5h-1.5zM381.2 435.9h1.5v1.5h-1.5zM381.2 436.8h1.5v1.5h-1.5zM381.3 435.5h1.5v1.5h-1.5zM381.3 440.9h1.5v1.5h-1.5zM381.3 430.5h1.5v1.5h-1.5zM381.3 435.1h1.5v1.5h-1.5zM381.5 439.1h1.5v1.5h-1.5zM381.5 432.3h1.5v1.5h-1.5zM381.5 436.9h1.5v1.5h-1.5zM381.5 438.4h1.5v1.5h-1.5zM381.6 443.7h1.5v1.5h-1.5zM381.6 436.0h1.5v1.5h-1.5zM381.6 442.4h1.5v1.5h-1.5zM381.6 434.4h1.5v1.5h-1.5zM382.1 435.4h1.5v1.5h-1.5zM382.1 436.9h1.5v1.5h-1.5zM382.1 434.7h1.5v1.5h-1.5zM382.1 435.0h1.5v1.5h-1.5zM382.0 436.1h1.5v1.5h-1.5zM382.0 439.2h1.5v1.5h-1.5zM382.0 439.7h1.5v1.5h-1.5zM382.0 437.1h1.5v1.5h-1.5zM382.3 434.8h1.5v1.5h-1.5zM382.3 437.7h1.5v1.5h-1.5zM382.3 436.9h1.5v1.5h-1.5zM382.3 439.1h1.5v1.5h-1.5zM382.7 435.4h1.5v1.5h-1.5zM382.7 437.2h1.5v1.5h-1.5zM382.7 436.3h1.5v1.5h-1.5zM382.7 439.0h1.5v1.5h-1.5zM382.9 434.0h1.5v1.5h-1.5zM382.9 438.0h1.5v1.5h-1.5zM382.9 448.1h1.5v1.5h-1.5zM382.9 437.7h1.5v1.5h-1.5zM383.0 440.5h1.5v1.5h-1.5zM383.0 440.2h1.5v1.5h-1.5zM383.0 434.4h1.5v1.5h-1.5zM383.0 439.3h1.5v1.5h-1.5zM383.4 443.8h1.5v1.5h-1.5zM383.4 435.1h1.5v1.5h-1.5zM383.4 439.8h1.5v1.5h-1.5zM383.4 436.2h1.5v1.5h-1.5zM383.4 437.8h1.5v1.5h-1.5zM383.4 434.3h1.5v1.5h-1.5zM383.4 436.8h1.5v1.5h-1.5zM383.4 433.2h1.5v1.5h-1.5zM383.6 436.6h1.5v1.5h-1.5zM383.6 433.4h1.5v1.5h-1.5zM383.6 436.3h1.5v1.5h-1.5zM383.6 437.4h1.5v1.5h-1.5zM384.0 441.3h1.5v1.5h-1.5zM384.0 438.1h1.5v1.5h-1.5zM384.0 440.6h1.5v1.5h-1.5zM384.0 439.2h1.5v1.5h-1.5zM384.0 426.0h1.5v1.5h-1.5zM384.0 437.6h1.5v1.5h-1.5zM384.0 435.5h1.5v1.5h-1.5zM384.0 436.4h1.5v1.5h-1.5zM384.5 441.7h1.5v1.5h-1.5zM384.5 438.9h1.5v1.5h-1.5zM384.5 433.7h1.5v1.5h-1.5zM384.5 434.8h1.5v1.5h-1.5zM384.5 441.2h1.5v1.5h-1.5zM384.5 438.5h1.5v1.5h-1.5zM384.5 437.1h1.5v1.5h-1.5zM384.5 437.4h1.5v1.5h-1.5zM384.7 437.7h1.5v1.5h-1.5zM384.7 439.4h1.5v1.5h-1.5zM384.7 438.2h1.5v1.5h-1.5zM384.7 447.7h1.5v1.5h-1.5zM385.1 437.0h1.5v1.5h-1.5zM385.1 437.0h1.5v1.5h-1.5zM385.1 440.6h1.5v1.5h-1.5zM385.1 436.1h1.5v1.5h-1.5zM385.2 436.7h1.5v1.5h-1.5zM385.2 438.5h1.5v1.5h-1.5zM385.2 436.3h1.5v1.5h-1.5zM385.2 437.5h1.5v1.5h-1.5zM385.3 442.0h1.5v1.5h-1.5zM385.3 434.7h1.5v1.5h-1.5zM385.3 442.6h1.5v1.5h-1.5zM385.3 438.1h1.5v1.5h-1.5zM385.7 437.0h1.5v1.5h-1.5zM385.7 439.0h1.5v1.5h-1.5zM385.7 433.5h1.5v1.5h-1.5zM385.7 438.8h1.5v1.5h-1.5zM385.8 438.9h1.5v1.5h-1.5zM385.8 434.8h1.5v1.5h-1.5zM385.8 445.8h1.5v1.5h-1.5zM385.8 439.1h1.5v1.5h-1.5zM386.2 438.4h1.5v1.5h-1.5zM386.2 437.7h1.5v1.5h-1.5zM386.2 438.9h1.5v1.5h-1.5zM386.2 433.0h1.5v1.5h-1.5zM386.3 439.9h1.5v1.5h-1.5zM386.3 438.8h1.5v1.5h-1.5zM386.3 439.5h1.5v1.5h-1.5zM386.3 434.7h1.5v1.5h-1.5zM386.7 434.2h1.5v1.5h-1.5zM386.7 443.0h1.5v1.5h-1.5zM386.7 439.6h1.5v1.5h-1.5zM386.7 437.8h1.5v1.5h-1.5zM386.6 438.6h1.5v1.5h-1.5zM386.6 437.9h1.5v1.5h-1.5zM386.6 435.9h1.5v1.5h-1.5zM386.6 435.4h1.5v1.5h-1.5zM387.0 444.8h1.5v1.5h-1.5zM387.0 437.8h1.5v1.5h-1.5zM387.0 439.2h1.5v1.5h-1.5zM387.0 437.8h1.5v1.5h-1.5zM387.1 438.3h1.5v1.5h-1.5zM387.1 440.2h1.5v1.5h-1.5zM387.1 436.4h1.5v1.5h-1.5zM387.1 439.8h1.5v1.5h-1.5zM387.5 438.3h1.5v1.5h-1.5zM387.5 438.6h1.5v1.5h-1.5zM387.5 435.4h1.5v1.5h-1.5zM387.5 430.6h1.5v1.5h-1.5zM387.6 436.2h1.5v1.5h-1.5zM387.6 437.3h1.5v1.5h-1.5zM387.6 436.3h1.5v1.5h-1.5zM387.6 438.7h1.5v1.5h-1.5zM388.0 438.4h1.5v1.5h-1.5zM388.0 434.6h1.5v1.5h-1.5zM388.0 436.2h1.5v1.5h-1.5zM388.0 437.4h1.5v1.5h-1.5zM388.2 436.6h1.5v1.5h-1.5zM388.2 439.8h1.5v1.5h-1.5zM388.2 438.5h1.5v1.5h-1.5zM388.2 441.9h1.5v1.5h-1.5zM388.4 436.6h1.5v1.5h-1.5zM388.4 436.5h1.5v1.5h-1.5zM388.4 437.4h1.5v1.5h-1.5zM388.4 441.0h1.5v1.5h-1.5zM388.7 441.4h1.5v1.5h-1.5zM388.7 431.3h1.5v1.5h-1.5zM388.7 436.9h1.5v1.5h-1.5zM388.7 435.9h1.5v1.5h-1.5zM388.8 439.7h1.5v1.5h-1.5zM388.8 439.7h1.5v1.5h-1.5zM388.8 437.7h1.5v1.5h-1.5zM388.8 437.8h1.5v1.5h-1.5zM388.9 439.9h1.5v1.5h-1.5zM388.9 439.8h1.5v1.5h-1.5zM388.9 432.5h1.5v1.5h-1.5zM388.9 439.6h1.5v1.5h-1.5zM389.3 438.7h1.5v1.5h-1.5zM389.3 434.9h1.5v1.5h-1.5zM389.3 435.3h1.5v1.5h-1.5zM389.3 437.8h1.5v1.5h-1.5zM389.4 437.2h1.5v1.5h-1.5zM389.4 437.4h1.5v1.5h-1.5zM389.4 470.6h1.5v1.5h-1.5zM389.4 437.4h1.5v1.5h-1.5zM389.5 436.3h1.5v1.5h-1.5zM389.5 437.5h1.5v1.5h-1.5zM389.5 439.7h1.5v1.5h-1.5zM389.5 438.4h1.5v1.5h-1.5zM390.0 437.1h1.5v1.5h-1.5zM390.0 438.4h1.5v1.5h-1.5zM390.0 437.8h1.5v1.5h-1.5zM390.0 435.7h1.5v1.5h-1.5zM390.0 437.8h1.5v1.5h-1.5zM390.0 437.3h1.5v1.5h-1.5zM390.0 438.3h1.5v1.5h-1.5zM390.0 436.2h1.5v1.5h-1.5zM390.3 437.6h1.5v1.5h-1.5zM390.3 438.8h1.5v1.5h-1.5zM390.3 435.0h1.5v1.5h-1.5zM390.3 435.9h1.5v1.5h-1.5zM390.4 433.5h1.5v1.5h-1.5zM390.4 433.4h1.5v1.5h-1.5zM390.4 435.8h1.5v1.5h-1.5zM390.4 442.1h1.5v1.5h-1.5zM390.8 436.7h1.5v1.5h-1.5zM390.8 439.9h1.5v1.5h-1.5zM390.8 437.5h1.5v1.5h-1.5zM390.8 437.6h1.5v1.5h-1.5zM391.1 443.4h1.5v1.5h-1.5zM391.1 440.8h1.5v1.5h-1.5zM391.1 438.5h1.5v1.5h-1.5zM391.1 438.3h1.5v1.5h-1.5zM391.3 438.9h1.5v1.5h-1.5zM391.3 444.6h1.5v1.5h-1.5zM391.3 435.6h1.5v1.5h-1.5zM391.3 433.4h1.5v1.5h-1.5zM391.3 434.5h1.5v1.5h-1.5zM391.3 434.5h1.5v1.5h-1.5zM391.3 435.2h1.5v1.5h-1.5zM391.3 443.5h1.5v1.5h-1.5zM391.5 436.9h1.5v1.5h-1.5zM391.5 438.1h1.5v1.5h-1.5zM391.5 441.3h1.5v1.5h-1.5zM391.5 435.6h1.5v1.5h-1.5zM391.8 438.8h1.5v1.5h-1.5zM391.8 437.8h1.5v1.5h-1.5zM391.8 437.2h1.5v1.5h-1.5zM391.8 436.0h1.5v1.5h-1.5zM392.2 439.9h1.5v1.5h-1.5zM392.2 437.8h1.5v1.5h-1.5zM392.2 440.0h1.5v1.5h-1.5zM392.2 441.8h1.5v1.5h-1.5zM392.4 436.3h1.5v1.5h-1.5zM392.4 435.2h1.5v1.5h-1.5zM392.4 437.6h1.5v1.5h-1.5zM392.4 438.3h1.5v1.5h-1.5zM392.4 439.6h1.5v1.5h-1.5zM392.4 435.8h1.5v1.5h-1.5zM392.4 436.2h1.5v1.5h-1.5zM392.4 436.9h1.5v1.5h-1.5zM392.8 438.2h1.5v1.5h-1.5zM392.8 436.5h1.5v1.5h-1.5zM392.8 439.2h1.5v1.5h-1.5zM392.8 435.2h1.5v1.5h-1.5zM392.9 435.9h1.5v1.5h-1.5zM392.9 436.1h1.5v1.5h-1.5zM392.9 438.9h1.5v1.5h-1.5zM392.9 433.7h1.5v1.5h-1.5zM393.3 435.9h1.5v1.5h-1.5zM393.3 437.2h1.5v1.5h-1.5zM393.3 435.5h1.5v1.5h-1.5zM393.3 436.8h1.5v1.5h-1.5zM393.3 438.6h1.5v1.5h-1.5zM393.3 436.2h1.5v1.5h-1.5zM393.3 440.1h1.5v1.5h-1.5zM393.3 437.0h1.5v1.5h-1.5zM393.6 436.1h1.5v1.5h-1.5zM393.6 443.2h1.5v1.5h-1.5zM393.6 435.8h1.5v1.5h-1.5zM393.6 436.1h1.5v1.5h-1.5zM393.9 439.8h1.5v1.5h-1.5zM393.9 430.8h1.5v1.5h-1.5zM393.9 440.1h1.5v1.5h-1.5zM393.9 436.2h1.5v1.5h-1.5zM394.2 436.8h1.5v1.5h-1.5zM394.2 439.3h1.5v1.5h-1.5zM394.2 436.9h1.5v1.5h-1.5zM394.2 438.4h1.5v1.5h-1.5zM394.3 437.8h1.5v1.5h-1.5zM394.3 436.6h1.5v1.5h-1.5zM394.3 436.3h1.5v1.5h-1.5zM394.3 436.6h1.5v1.5h-1.5zM394.4 436.3h1.5v1.5h-1.5zM394.4 433.9h1.5v1.5h-1.5zM394.4 435.3h1.5v1.5h-1.5zM394.4 436.7h1.5v1.5h-1.5zM394.8 435.4h1.5v1.5h-1.5zM394.8 436.8h1.5v1.5h-1.5zM394.8 436.4h1.5v1.5h-1.5zM394.8 436.2h1.5v1.5h-1.5zM394.9 441.2h1.5v1.5h-1.5zM394.9 438.7h1.5v1.5h-1.5zM394.9 440.7h1.5v1.5h-1.5zM394.9 438.0h1.5v1.5h-1.5zM395.1 438.3h1.5v1.5h-1.5zM395.1 435.0h1.5v1.5h-1.5zM395.1 436.7h1.5v1.5h-1.5zM395.1 438.2h1.5v1.5h-1.5zM395.3 435.2h1.5v1.5h-1.5zM395.3 436.0h1.5v1.5h-1.5zM395.3 436.0h1.5v1.5h-1.5zM395.3 434.0h1.5v1.5h-1.5zM395.5 439.0h1.5v1.5h-1.5zM395.5 438.1h1.5v1.5h-1.5zM395.5 436.1h1.5v1.5h-1.5zM395.5 433.8h1.5v1.5h-1.5zM396.0 436.7h1.5v1.5h-1.5zM396.0 437.5h1.5v1.5h-1.5zM396.0 442.4h1.5v1.5h-1.5zM396.0 442.6h1.5v1.5h-1.5zM396.0 435.4h1.5v1.5h-1.5zM396.0 434.8h1.5v1.5h-1.5zM396.0 435.3h1.5v1.5h-1.5zM396.0 434.3h1.5v1.5h-1.5zM396.2 438.0h1.5v1.5h-1.5zM396.2 436.9h1.5v1.5h-1.5zM396.2 439.7h1.5v1.5h-1.5zM396.2 437.8h1.5v1.5h-1.5zM396.6 439.4h1.5v1.5h-1.5zM396.6 437.6h1.5v1.5h-1.5zM396.6 440.4h1.5v1.5h-1.5zM396.6 434.6h1.5v1.5h-1.5zM396.7 433.7h1.5v1.5h-1.5zM396.7 441.5h1.5v1.5h-1.5zM396.7 438.9h1.5v1.5h-1.5zM396.7 441.4h1.5v1.5h-1.5zM397.0 437.9h1.5v1.5h-1.5zM397.0 437.7h1.5v1.5h-1.5zM397.0 434.4h1.5v1.5h-1.5zM397.0 437.8h1.5v1.5h-1.5zM397.2 440.3h1.5v1.5h-1.5zM397.2 435.4h1.5v1.5h-1.5zM397.2 437.5h1.5v1.5h-1.5zM397.2 436.5h1.5v1.5h-1.5zM397.4 435.7h1.5v1.5h-1.5zM397.4 440.7h1.5v1.5h-1.5zM397.4 434.8h1.5v1.5h-1.5zM397.4 435.5h1.5v1.5h-1.5zM397.7 433.1h1.5v1.5h-1.5zM397.7 440.4h1.5v1.5h-1.5zM397.7 435.0h1.5v1.5h-1.5zM397.7 435.1h1.5v1.5h-1.5zM397.9 439.7h1.5v1.5h-1.5zM397.9 437.5h1.5v1.5h-1.5zM397.9 435.5h1.5v1.5h-1.5zM397.9 431.6h1.5v1.5h-1.5zM398.0 437.3h1.5v1.5h-1.5zM398.0 437.8h1.5v1.5h-1.5zM398.0 440.0h1.5v1.5h-1.5zM398.0 448.7h1.5v1.5h-1.5zM398.2 439.4h1.5v1.5h-1.5zM398.2 434.3h1.5v1.5h-1.5zM398.2 437.1h1.5v1.5h-1.5zM398.2 439.5h1.5v1.5h-1.5zM398.4 437.6h1.5v1.5h-1.5zM398.4 434.9h1.5v1.5h-1.5zM398.4 431.3h1.5v1.5h-1.5zM398.4 438.2h1.5v1.5h-1.5zM398.8 436.0h1.5v1.5h-1.5zM398.8 438.6h1.5v1.5h-1.5zM398.8 437.3h1.5v1.5h-1.5zM398.8 462.4h1.5v1.5h-1.5zM399.0 435.6h1.5v1.5h-1.5zM399.0 438.4h1.5v1.5h-1.5zM399.0 440.1h1.5v1.5h-1.5zM399.0 437.9h1.5v1.5h-1.5zM399.2 451.1h1.5v1.5h-1.5zM399.2 437.5h1.5v1.5h-1.5zM399.2 440.3h1.5v1.5h-1.5zM399.2 435.7h1.5v1.5h-1.5zM399.5 438.3h1.5v1.5h-1.5zM399.5 436.7h1.5v1.5h-1.5zM399.5 434.8h1.5v1.5h-1.5zM399.5 436.6h1.5v1.5h-1.5zM399.6 443.1h1.5v1.5h-1.5zM399.6 436.9h1.5v1.5h-1.5zM399.6 435.5h1.5v1.5h-1.5zM399.6 433.0h1.5v1.5h-1.5zM399.7 438.6h1.5v1.5h-1.5zM399.7 438.8h1.5v1.5h-1.5zM399.7 435.4h1.5v1.5h-1.5zM399.7 435.8h1.5v1.5h-1.5zM400.0 435.4h1.5v1.5h-1.5zM400.0 438.8h1.5v1.5h-1.5zM400.0 437.3h1.5v1.5h-1.5zM400.0 440.3h1.5v1.5h-1.5zM400.2 434.7h1.5v1.5h-1.5zM400.2 435.0h1.5v1.5h-1.5zM400.2 440.9h1.5v1.5h-1.5zM400.2 439.7h1.5v1.5h-1.5zM400.4 431.3h1.5v1.5h-1.5zM400.4 436.1h1.5v1.5h-1.5zM400.4 439.8h1.5v1.5h-1.5zM400.4 442.8h1.5v1.5h-1.5zM400.6 439.7h1.5v1.5h-1.5zM400.6 439.5h1.5v1.5h-1.5zM400.6 434.7h1.5v1.5h-1.5zM400.6 435.4h1.5v1.5h-1.5zM400.9 433.8h1.5v1.5h-1.5zM400.9 440.1h1.5v1.5h-1.5zM400.9 438.9h1.5v1.5h-1.5zM400.9 436.6h1.5v1.5h-1.5zM401.1 434.1h1.5v1.5h-1.5zM401.1 434.1h1.5v1.5h-1.5zM401.1 435.9h1.5v1.5h-1.5zM401.1 430.2h1.5v1.5h-1.5zM401.5 436.9h1.5v1.5h-1.5zM401.5 438.7h1.5v1.5h-1.5zM401.5 438.5h1.5v1.5h-1.5zM401.5 434.1h1.5v1.5h-1.5zM401.5 441.0h1.5v1.5h-1.5zM401.5 439.6h1.5v1.5h-1.5zM401.5 439.2h1.5v1.5h-1.5zM401.5 436.5h1.5v1.5h-1.5zM401.9 432.3h1.5v1.5h-1.5zM401.9 442.3h1.5v1.5h-1.5zM401.9 438.5h1.5v1.5h-1.5zM401.9 440.1h1.5v1.5h-1.5zM402.0 437.8h1.5v1.5h-1.5zM402.0 435.0h1.5v1.5h-1.5zM402.0 449.2h1.5v1.5h-1.5zM402.0 438.7h1.5v1.5h-1.5zM402.3 438.9h1.5v1.5h-1.5zM402.3 438.7h1.5v1.5h-1.5zM402.3 437.9h1.5v1.5h-1.5zM402.3 435.7h1.5v1.5h-1.5zM402.4 439.5h1.5v1.5h-1.5zM402.4 439.6h1.5v1.5h-1.5zM402.4 439.2h1.5v1.5h-1.5zM402.4 440.4h1.5v1.5h-1.5zM402.6 436.7h1.5v1.5h-1.5zM402.6 436.8h1.5v1.5h-1.5zM402.6 440.7h1.5v1.5h-1.5zM402.6 436.7h1.5v1.5h-1.5zM402.9 453.6h1.5v1.5h-1.5zM402.9 437.3h1.5v1.5h-1.5zM402.9 435.9h1.5v1.5h-1.5zM402.9 439.0h1.5v1.5h-1.5zM403.0 434.1h1.5v1.5h-1.5zM403.0 435.5h1.5v1.5h-1.5zM403.0 435.1h1.5v1.5h-1.5zM403.0 437.6h1.5v1.5h-1.5zM403.5 438.7h1.5v1.5h-1.5zM403.5 439.4h1.5v1.5h-1.5zM403.5 437.1h1.5v1.5h-1.5zM403.5 432.0h1.5v1.5h-1.5zM403.6 435.5h1.5v1.5h-1.5zM403.6 437.2h1.5v1.5h-1.5zM403.6 437.3h1.5v1.5h-1.5zM403.6 441.1h1.5v1.5h-1.5zM403.7 437.8h1.5v1.5h-1.5zM403.7 437.1h1.5v1.5h-1.5zM403.7 438.7h1.5v1.5h-1.5zM403.7 440.4h1.5v1.5h-1.5zM404.0 437.8h1.5v1.5h-1.5zM404.0 437.5h1.5v1.5h-1.5zM404.0 435.6h1.5v1.5h-1.5zM404.0 438.1h1.5v1.5h-1.5zM404.3 434.7h1.5v1.5h-1.5zM404.3 436.8h1.5v1.5h-1.5zM404.3 436.9h1.5v1.5h-1.5zM404.3 436.1h1.5v1.5h-1.5zM404.4 434.4h1.5v1.5h-1.5zM404.4 436.7h1.5v1.5h-1.5zM404.4 437.7h1.5v1.5h-1.5zM404.4 442.0h1.5v1.5h-1.5zM404.6 436.0h1.5v1.5h-1.5zM404.6 436.9h1.5v1.5h-1.5zM404.6 433.6h1.5v1.5h-1.5zM404.6 437.9h1.5v1.5h-1.5zM404.8 443.3h1.5v1.5h-1.5zM404.8 437.6h1.5v1.5h-1.5zM404.8 434.7h1.5v1.5h-1.5zM404.8 441.6h1.5v1.5h-1.5zM405.2 441.0h1.5v1.5h-1.5zM405.2 436.9h1.5v1.5h-1.5zM405.2 440.4h1.5v1.5h-1.5zM405.2 438.3h1.5v1.5h-1.5zM405.4 437.1h1.5v1.5h-1.5zM405.4 439.1h1.5v1.5h-1.5zM405.4 434.6h1.5v1.5h-1.5zM405.4 436.0h1.5v1.5h-1.5zM405.5 435.2h1.5v1.5h-1.5zM405.5 445.7h1.5v1.5h-1.5zM405.5 437.0h1.5v1.5h-1.5zM405.5 445.8h1.5v1.5h-1.5zM405.7 443.5h1.5v1.5h-1.5zM405.7 438.0h1.5v1.5h-1.5zM405.7 433.7h1.5v1.5h-1.5zM405.7 438.5h1.5v1.5h-1.5zM406.1 431.9h1.5v1.5h-1.5zM406.1 439.4h1.5v1.5h-1.5zM406.1 438.6h1.5v1.5h-1.5zM406.1 434.3h1.5v1.5h-1.5zM406.1 438.2h1.5v1.5h-1.5zM406.1 439.7h1.5v1.5h-1.5zM406.1 438.2h1.5v1.5h-1.5zM406.1 438.4h1.5v1.5h-1.5zM406.5 436.5h1.5v1.5h-1.5zM406.5 435.6h1.5v1.5h-1.5zM406.5 434.5h1.5v1.5h-1.5zM406.5 434.7h1.5v1.5h-1.5zM406.5 443.8h1.5v1.5h-1.5zM406.5 438.2h1.5v1.5h-1.5zM406.5 435.7h1.5v1.5h-1.5zM406.5 435.1h1.5v1.5h-1.5zM312.3 442.8h1.5v1.5h-1.5zM312.2 441.4h1.5v1.5h-1.5zM312.5 453.1h1.5v1.5h-1.5zM311.8 445.3h1.5v1.5h-1.5zM312.5 441.4h1.5v1.5h-1.5zM313.0 442.7h1.5v1.5h-1.5zM312.8 442.1h1.5v1.5h-1.5zM312.3 469.6h1.5v1.5h-1.5zM312.2 468.9h1.5v1.5h-1.5zM312.8 445.8h1.5v1.5h-1.5zM312.8 469.5h1.5v1.5h-1.5zM312.5 446.7h1.5v1.5h-1.5zM311.6 458.4h1.5v1.5h-1.5zM311.7 451.8h1.5v1.5h-1.5zM313.2 442.2h1.5v1.5h-1.5zM313.0 455.8h1.5v1.5h-1.5zM311.9 453.2h1.5v1.5h-1.5zM312.2 469.6h1.5v1.5h-1.5zM316.8 441.2h1.5v1.5h-1.5zM322.7 445.8h1.5v1.5h-1.5zM314.7 458.3h1.5v1.5h-1.5zM314.6 461.8h1.5v1.5h-1.5zM323.1 445.9h1.5v1.5h-1.5zM317.8 466.6h1.5v1.5h-1.5zM314.4 465.6h1.5v1.5h-1.5zM316.9 443.2h1.5v1.5h-1.5zM318.6 465.4h1.5v1.5h-1.5zM318.5 445.6h1.5v1.5h-1.5zM323.0 457.2h1.5v1.5h-1.5zM315.1 453.3h1.5v1.5h-1.5zM317.9 441.2h1.5v1.5h-1.5zM314.9 447.2h1.5v1.5h-1.5zM318.2 453.5h1.5v1.5h-1.5zM314.9 443.9h1.5v1.5h-1.5zM322.4 466.9h1.5v1.5h-1.5zM322.2 445.9h1.5v1.5h-1.5zM320.0 453.7h1.5v1.5h-1.5zM322.7 442.0h1.5v1.5h-1.5zM322.9 450.3h1.5v1.5h-1.5zM316.1 459.5h1.5v1.5h-1.5zM319.0 457.6h1.5v1.5h-1.5zM320.1 449.7h1.5v1.5h-1.5zM317.1 447.0h1.5v1.5h-1.5zM321.7 442.2h1.5v1.5h-1.5zM316.8 442.7h1.5v1.5h-1.5zM316.9 448.2h1.5v1.5h-1.5zM320.3 466.8h1.5v1.5h-1.5zM318.7 445.8h1.5v1.5h-1.5zM315.8 450.1h1.5v1.5h-1.5zM318.1 449.0h1.5v1.5h-1.5zM315.1 445.3h1.5v1.5h-1.5zM315.3 444.7h1.5v1.5h-1.5zM316.8 441.4h1.5v1.5h-1.5zM314.7 441.4h1.5v1.5h-1.5zM316.8 459.0h1.5v1.5h-1.5zM314.3 465.8h1.5v1.5h-1.5zM323.0 441.3h1.5v1.5h-1.5zM317.5 447.3h1.5v1.5h-1.5zM318.7 460.3h1.5v1.5h-1.5zM320.5 443.8h1.5v1.5h-1.5zM319.9 463.1h1.5v1.5h-1.5zM322.1 441.2h1.5v1.5h-1.5zM322.9 448.4h1.5v1.5h-1.5zM320.4 442.1h1.5v1.5h-1.5zM318.9 452.7h1.5v1.5h-1.5zM322.3 467.4h1.5v1.5h-1.5zM319.6 452.7h1.5v1.5h-1.5zM314.7 461.2h1.5v1.5h-1.5zM319.9 464.2h1.5v1.5h-1.5zM318.8 460.2h1.5v1.5h-1.5zM320.0 441.8h1.5v1.5h-1.5zM317.3 443.4h1.5v1.5h-1.5zM327.6 441.7h1.5v1.5h-1.5zM327.7 445.3h1.5v1.5h-1.5zM331.6 453.5h1.5v1.5h-1.5zM327.9 455.0h1.5v1.5h-1.5zM331.7 462.2h1.5v1.5h-1.5zM328.9 443.7h1.5v1.5h-1.5zM329.5 441.4h1.5v1.5h-1.5zM329.3 454.0h1.5v1.5h-1.5zM326.2 443.4h1.5v1.5h-1.5zM325.4 466.1h1.5v1.5h-1.5zM331.7 447.8h1.5v1.5h-1.5zM326.9 464.2h1.5v1.5h-1.5zM326.8 441.9h1.5v1.5h-1.5zM324.5 467.8h1.5v1.5h-1.5zM325.5 449.5h1.5v1.5h-1.5zM326.3 459.0h1.5v1.5h-1.5zM328.9 446.0h1.5v1.5h-1.5zM327.9 449.0h1.5v1.5h-1.5zM332.1 463.4h1.5v1.5h-1.5zM326.0 461.3h1.5v1.5h-1.5zM325.2 455.5h1.5v1.5h-1.5zM325.4 441.3h1.5v1.5h-1.5zM325.5 442.6h1.5v1.5h-1.5zM326.9 441.3h1.5v1.5h-1.5zM329.5 469.9h1.5v1.5h-1.5zM331.5 449.1h1.5v1.5h-1.5zM328.9 442.8h1.5v1.5h-1.5zM329.4 441.3h1.5v1.5h-1.5zM328.3 460.7h1.5v1.5h-1.5zM329.2 441.5h1.5v1.5h-1.5zM325.7 451.6h1.5v1.5h-1.5zM331.8 441.8h1.5v1.5h-1.5zM331.8 460.4h1.5v1.5h-1.5zM323.3 450.4h1.5v1.5h-1.5zM325.4 452.3h1.5v1.5h-1.5zM324.8 444.9h1.5v1.5h-1.5zM332.5 444.7h1.5v1.5h-1.5zM331.2 471.7h1.5v1.5h-1.5zM331.3 442.6h1.5v1.5h-1.5zM329.0 455.0h1.5v1.5h-1.5zM325.1 447.0h1.5v1.5h-1.5zM324.2 458.3h1.5v1.5h-1.5zM325.5 467.9h1.5v1.5h-1.5zM331.1 441.8h1.5v1.5h-1.5zM326.4 442.5h1.5v1.5h-1.5zM325.3 453.4h1.5v1.5h-1.5zM332.2 441.6h1.5v1.5h-1.5zM334.8 449.0h1.5v1.5h-1.5zM334.3 455.0h1.5v1.5h-1.5zM338.3 449.0h1.5v1.5h-1.5zM340.3 441.5h1.5v1.5h-1.5zM342.0 445.7h1.5v1.5h-1.5zM341.3 442.3h1.5v1.5h-1.5zM342.0 443.1h1.5v1.5h-1.5zM337.1 442.1h1.5v1.5h-1.5zM338.7 459.2h1.5v1.5h-1.5zM340.5 448.8h1.5v1.5h-1.5zM334.9 456.4h1.5v1.5h-1.5zM336.1 447.4h1.5v1.5h-1.5zM334.9 442.0h1.5v1.5h-1.5zM335.6 441.8h1.5v1.5h-1.5zM334.7 464.3h1.5v1.5h-1.5zM335.9 441.9h1.5v1.5h-1.5zM342.0 441.9h1.5v1.5h-1.5zM335.3 445.2h1.5v1.5h-1.5zM344.0 445.5h1.5v1.5h-1.5zM335.0 441.2h1.5v1.5h-1.5zM342.5 451.1h1.5v1.5h-1.5zM334.4 449.3h1.5v1.5h-1.5zM334.7 441.7h1.5v1.5h-1.5zM335.2 445.7h1.5v1.5h-1.5zM334.8 442.8h1.5v1.5h-1.5zM339.9 445.0h1.5v1.5h-1.5zM337.8 458.6h1.5v1.5h-1.5zM334.7 451.9h1.5v1.5h-1.5zM340.2 442.9h1.5v1.5h-1.5zM343.8 444.4h1.5v1.5h-1.5zM334.7 441.3h1.5v1.5h-1.5zM335.1 457.7h1.5v1.5h-1.5zM338.5 447.9h1.5v1.5h-1.5zM338.1 443.1h1.5v1.5h-1.5zM340.1 451.1h1.5v1.5h-1.5zM341.8 443.0h1.5v1.5h-1.5zM338.3 463.5h1.5v1.5h-1.5zM341.9 445.0h1.5v1.5h-1.5zM335.4 455.7h1.5v1.5h-1.5zM334.8 441.9h1.5v1.5h-1.5zM342.5 456.5h1.5v1.5h-1.5zM344.2 462.4h1.5v1.5h-1.5zM342.0 448.1h1.5v1.5h-1.5zM340.2 441.3h1.5v1.5h-1.5zM343.8 453.5h1.5v1.5h-1.5zM341.6 441.8h1.5v1.5h-1.5zM341.8 445.7h1.5v1.5h-1.5zM355.1 456.3h1.5v1.5h-1.5zM346.6 441.5h1.5v1.5h-1.5zM346.6 460.3h1.5v1.5h-1.5zM354.6 448.3h1.5v1.5h-1.5zM349.3 454.4h1.5v1.5h-1.5zM349.2 441.9h1.5v1.5h-1.5zM352.1 441.2h1.5v1.5h-1.5zM349.6 441.5h1.5v1.5h-1.5zM348.8 456.6h1.5v1.5h-1.5zM349.4 441.8h1.5v1.5h-1.5zM352.4 443.0h1.5v1.5h-1.5zM346.9 450.2h1.5v1.5h-1.5zM352.4 444.6h1.5v1.5h-1.5zM346.3 446.6h1.5v1.5h-1.5zM355.8 450.1h1.5v1.5h-1.5zM349.0 444.5h1.5v1.5h-1.5zM346.7 441.9h1.5v1.5h-1.5zM355.8 461.8h1.5v1.5h-1.5zM352.0 460.5h1.5v1.5h-1.5zM348.4 441.9h1.5v1.5h-1.5zM353.7 452.3h1.5v1.5h-1.5zM355.2 441.3h1.5v1.5h-1.5zM349.5 442.4h1.5v1.5h-1.5zM355.8 450.3h1.5v1.5h-1.5zM355.5 444.3h1.5v1.5h-1.5zM346.9 447.5h1.5v1.5h-1.5zM349.4 453.1h1.5v1.5h-1.5zM348.4 441.3h1.5v1.5h-1.5zM349.0 444.1h1.5v1.5h-1.5zM349.4 443.3h1.5v1.5h-1.5zM345.5 444.7h1.5v1.5h-1.5zM347.9 448.3h1.5v1.5h-1.5zM348.6 451.8h1.5v1.5h-1.5zM348.8 445.2h1.5v1.5h-1.5zM351.0 446.5h1.5v1.5h-1.5zM354.7 441.5h1.5v1.5h-1.5zM346.0 455.1h1.5v1.5h-1.5zM349.1 446.1h1.5v1.5h-1.5zM348.3 451.9h1.5v1.5h-1.5zM348.2 448.9h1.5v1.5h-1.5zM357.0 453.4h1.5v1.5h-1.5zM364.6 451.3h1.5v1.5h-1.5zM357.1 442.3h1.5v1.5h-1.5zM363.6 457.4h1.5v1.5h-1.5zM365.3 441.2h1.5v1.5h-1.5zM358.8 458.5h1.5v1.5h-1.5zM361.7 442.6h1.5v1.5h-1.5zM358.5 453.2h1.5v1.5h-1.5zM361.3 444.1h1.5v1.5h-1.5zM361.0 456.1h1.5v1.5h-1.5zM356.9 454.0h1.5v1.5h-1.5zM365.3 446.9h1.5v1.5h-1.5zM358.2 442.3h1.5v1.5h-1.5zM358.5 470.0h1.5v1.5h-1.5zM364.6 444.4h1.5v1.5h-1.5zM364.8 454.2h1.5v1.5h-1.5zM356.7 454.1h1.5v1.5h-1.5zM357.1 441.2h1.5v1.5h-1.5zM359.0 446.2h1.5v1.5h-1.5zM364.9 453.6h1.5v1.5h-1.5zM361.1 459.8h1.5v1.5h-1.5zM361.5 463.1h1.5v1.5h-1.5zM364.2 442.3h1.5v1.5h-1.5zM357.8 446.6h1.5v1.5h-1.5zM364.7 456.5h1.5v1.5h-1.5zM365.2 449.5h1.5v1.5h-1.5zM358.3 450.0h1.5v1.5h-1.5zM356.9 441.5h1.5v1.5h-1.5zM358.6 442.6h1.5v1.5h-1.5zM358.4 442.3h1.5v1.5h-1.5zM358.6 471.9h1.5v1.5h-1.5zM364.9 447.3h1.5v1.5h-1.5zM358.7 463.9h1.5v1.5h-1.5zM356.9 463.1h1.5v1.5h-1.5zM356.9 443.3h1.5v1.5h-1.5zM356.8 451.4h1.5v1.5h-1.5zM360.8 442.6h1.5v1.5h-1.5zM358.3 447.1h1.5v1.5h-1.5zM364.8 452.9h1.5v1.5h-1.5zM357.1 456.3h1.5v1.5h-1.5zM374.4 442.2h1.5v1.5h-1.5zM368.0 441.7h1.5v1.5h-1.5zM373.0 459.3h1.5v1.5h-1.5zM371.1 442.6h1.5v1.5h-1.5zM375.4 447.9h1.5v1.5h-1.5zM375.2 462.6h1.5v1.5h-1.5zM373.5 451.9h1.5v1.5h-1.5zM375.0 452.6h1.5v1.5h-1.5zM366.3 441.6h1.5v1.5h-1.5zM365.5 441.4h1.5v1.5h-1.5zM367.1 442.3h1.5v1.5h-1.5zM373.4 444.1h1.5v1.5h-1.5zM374.3 445.0h1.5v1.5h-1.5zM373.3 445.9h1.5v1.5h-1.5zM369.6 448.6h1.5v1.5h-1.5zM375.5 443.0h1.5v1.5h-1.5zM372.8 443.4h1.5v1.5h-1.5zM375.3 443.4h1.5v1.5h-1.5zM369.3 448.6h1.5v1.5h-1.5zM368.8 443.3h1.5v1.5h-1.5zM365.9 441.3h1.5v1.5h-1.5zM375.9 456.3h1.5v1.5h-1.5zM368.2 458.4h1.5v1.5h-1.5zM367.8 454.2h1.5v1.5h-1.5zM374.8 460.9h1.5v1.5h-1.5zM372.6 443.7h1.5v1.5h-1.5zM367.8 445.1h1.5v1.5h-1.5zM367.6 458.8h1.5v1.5h-1.5zM373.3 441.3h1.5v1.5h-1.5zM366.2 447.7h1.5v1.5h-1.5zM372.8 442.0h1.5v1.5h-1.5zM375.7 442.1h1.5v1.5h-1.5zM367.0 441.8h1.5v1.5h-1.5zM372.6 457.4h1.5v1.5h-1.5zM369.1 448.1h1.5v1.5h-1.5zM372.5 448.0h1.5v1.5h-1.5zM366.2 452.6h1.5v1.5h-1.5zM373.1 455.2h1.5v1.5h-1.5zM375.2 458.7h1.5v1.5h-1.5zM367.8 447.8h1.5v1.5h-1.5zM375.0 455.1h1.5v1.5h-1.5zM373.5 450.3h1.5v1.5h-1.5zM374.6 459.5h1.5v1.5h-1.5zM369.2 442.5h1.5v1.5h-1.5zM374.9 445.7h1.5v1.5h-1.5zM373.9 442.2h1.5v1.5h-1.5zM367.7 441.5h1.5v1.5h-1.5zM385.2 452.8h1.5v1.5h-1.5zM386.7 455.3h1.5v1.5h-1.5zM378.0 453.2h1.5v1.5h-1.5zM378.9 442.0h1.5v1.5h-1.5zM386.0 449.7h1.5v1.5h-1.5zM377.8 441.2h1.5v1.5h-1.5zM387.4 464.8h1.5v1.5h-1.5zM385.6 448.7h1.5v1.5h-1.5zM387.9 445.8h1.5v1.5h-1.5zM386.6 466.1h1.5v1.5h-1.5zM387.6 446.9h1.5v1.5h-1.5zM387.5 447.5h1.5v1.5h-1.5zM383.4 442.0h1.5v1.5h-1.5zM387.5 461.2h1.5v1.5h-1.5zM386.8 462.4h1.5v1.5h-1.5zM379.9 450.6h1.5v1.5h-1.5zM377.7 460.2h1.5v1.5h-1.5zM380.4 443.2h1.5v1.5h-1.5zM377.9 467.3h1.5v1.5h-1.5zM380.3 446.0h1.5v1.5h-1.5zM378.7 451.8h1.5v1.5h-1.5zM387.5 452.2h1.5v1.5h-1.5zM377.6 441.7h1.5v1.5h-1.5zM377.8 441.7h1.5v1.5h-1.5zM386.4 441.6h1.5v1.5h-1.5zM378.1 458.5h1.5v1.5h-1.5zM387.3 456.3h1.5v1.5h-1.5zM379.4 456.0h1.5v1.5h-1.5zM386.9 445.6h1.5v1.5h-1.5zM378.0 450.9h1.5v1.5h-1.5zM379.3 442.3h1.5v1.5h-1.5zM378.8 441.2h1.5v1.5h-1.5zM377.5 457.5h1.5v1.5h-1.5zM377.8 441.8h1.5v1.5h-1.5zM384.1 467.0h1.5v1.5h-1.5zM386.9 467.2h1.5v1.5h-1.5zM386.8 446.3h1.5v1.5h-1.5zM378.6 441.3h1.5v1.5h-1.5zM386.6 446.4h1.5v1.5h-1.5zM386.8 444.5h1.5v1.5h-1.5zM387.5 460.2h1.5v1.5h-1.5zM378.9 449.7h1.5v1.5h-1.5zM387.3 441.8h1.5v1.5h-1.5zM385.8 462.2h1.5v1.5h-1.5zM387.6 445.7h1.5v1.5h-1.5zM378.4 447.8h1.5v1.5h-1.5zM378.2 441.6h1.5v1.5h-1.5zM398.3 452.2h1.5v1.5h-1.5zM397.8 441.7h1.5v1.5h-1.5zM395.6 455.5h1.5v1.5h-1.5zM389.1 452.7h1.5v1.5h-1.5zM398.0 444.8h1.5v1.5h-1.5zM397.5 460.1h1.5v1.5h-1.5zM398.0 459.9h1.5v1.5h-1.5zM396.0 449.6h1.5v1.5h-1.5zM393.6 453.2h1.5v1.5h-1.5zM396.5 441.5h1.5v1.5h-1.5zM398.8 441.8h1.5v1.5h-1.5zM396.1 460.9h1.5v1.5h-1.5zM391.1 445.3h1.5v1.5h-1.5zM394.2 449.7h1.5v1.5h-1.5zM397.8 445.1h1.5v1.5h-1.5zM397.3 462.2h1.5v1.5h-1.5zM396.5 457.8h1.5v1.5h-1.5zM398.9 449.2h1.5v1.5h-1.5zM396.3 451.3h1.5v1.5h-1.5zM393.5 455.1h1.5v1.5h-1.5zM396.6 441.2h1.5v1.5h-1.5zM389.5 441.7h1.5v1.5h-1.5zM395.1 443.2h1.5v1.5h-1.5zM389.9 458.6h1.5v1.5h-1.5zM393.3 456.4h1.5v1.5h-1.5zM392.6 461.2h1.5v1.5h-1.5zM398.9 449.6h1.5v1.5h-1.5zM399.2 448.4h1.5v1.5h-1.5zM389.6 442.5h1.5v1.5h-1.5zM392.0 455.0h1.5v1.5h-1.5zM396.5 457.2h1.5v1.5h-1.5zM393.1 444.9h1.5v1.5h-1.5zM397.7 457.1h1.5v1.5h-1.5zM393.0 461.4h1.5v1.5h-1.5zM393.7 451.8h1.5v1.5h-1.5zM392.1 450.8h1.5v1.5h-1.5zM396.6 459.3h1.5v1.5h-1.5zM392.4 443.6h1.5v1.5h-1.5zM392.9 447.5h1.5v1.5h-1.5zM389.8 443.2h1.5v1.5h-1.5zM403.4 448.7h1.5v1.5h-1.5zM404.2 441.2h1.5v1.5h-1.5zM404.2 446.1h1.5v1.5h-1.5zM405.0 444.3h1.5v1.5h-1.5zM401.9 441.5h1.5v1.5h-1.5zM400.3 443.3h1.5v1.5h-1.5zM404.0 459.8h1.5v1.5h-1.5zM404.0 466.6h1.5v1.5h-1.5zM404.6 441.2h1.5v1.5h-1.5zM400.6 451.8h1.5v1.5h-1.5zM404.5 454.0h1.5v1.5h-1.5zM404.5 457.8h1.5v1.5h-1.5zM404.2 442.5h1.5v1.5h-1.5zM404.3 463.2h1.5v1.5h-1.5zM401.6 442.0h1.5v1.5h-1.5zM400.7 455.5h1.5v1.5h-1.5zM400.2 441.5h1.5v1.5h-1.5zM400.8 458.0h1.5v1.5h-1.5zM400.7 450.4h1.5v1.5h-1.5zM401.7 466.8h1.5v1.5h-1.5zM400.6 449.1h1.5v1.5h-1.5zM400.4 443.7h1.5v1.5h-1.5zM401.5 445.0h1.5v1.5h-1.5zM404.1 442.5h1.5v1.5h-1.5zM401.7 454.4h1.5v1.5h-1.5zM404.3 442.6h1.5v1.5h-1.5zM401.9 446.7h1.5v1.5h-1.5zM407.0 464.6h1.5v1.5h-1.5zM406.6 442.6h1.5v1.5h-1.5zM406.1 447.2h1.5v1.5h-1.5zM407.2 442.9h1.5v1.5h-1.5zM406.2 443.0h1.5v1.5h-1.5zM406.6 452.2h1.5v1.5h-1.5zM406.5 449.1h1.5v1.5h-1.5zM407.3 467.6h1.5v1.5h-1.5zM406.0 441.2h1.5v1.5h-1.5zM406.6 445.5h1.5v1.5h-1.5zM406.6 444.6h1.5v1.5h-1.5zM407.0 442.8h1.5v1.5h-1.5zM406.9 441.6h1.5v1.5h-1.5zM405.7 457.0h1.5v1.5h-1.5zM406.3 444.8h1.5v1.5h-1.5zM406.1 449.2h1.5v1.5h-1.5z" fill="#3d86c6"/>
<text font-size="7.0" text-anchor="start" fill="#1a1a1a" stroke="#1a1a1a" stroke-width="0.221" transform="translate(338.80 428.90) scale(1 1.04)">MAGI2, chr7-</text>
<rect x="294.30" y="421.10" width="131.40" height="52.70" fill="none" stroke="#222" stroke-width="1.2"/>
<line x1="288.50" y1="473.80" x2="294.30" y2="473.80" stroke="#222" stroke-width="1.1"/>
<line x1="288.50" y1="461.05" x2="294.30" y2="461.05" stroke="#222" stroke-width="1.1"/>
<line x1="288.50" y1="448.30" x2="294.30" y2="448.30" stroke="#222" stroke-width="1.1"/>
<line x1="288.50" y1="435.55" x2="294.30" y2="435.55" stroke="#222" stroke-width="1.1"/>
<line x1="288.50" y1="422.80" x2="294.30" y2="422.80" stroke="#222" stroke-width="1.1"/>
<text font-size="8.7" text-anchor="middle" fill="#333" stroke="#333" stroke-width="0.275" transform="translate(281.74 473.80) rotate(-90) scale(1 1.04)">0</text>
<text font-size="8.7" text-anchor="middle" fill="#333" stroke="#333" stroke-width="0.275" transform="translate(281.74 461.05) rotate(-90) scale(1 1.04)">5</text>
<text font-size="8.7" text-anchor="middle" fill="#333" stroke="#333" stroke-width="0.275" transform="translate(281.74 435.55) rotate(-90) scale(1 1.04)">15</text>
<text font-size="8.7" text-anchor="middle" fill="#1a1a1a" stroke="#1a1a1a" stroke-width="0.275" transform="translate(260.94 447.45) rotate(-90) scale(1 1.04)">Coverage (K)</text>
<line x1="298.50" y1="473.80" x2="298.50" y2="479.60" stroke="#222" stroke-width="1.1"/>
<line x1="317.30" y1="473.80" x2="317.30" y2="479.60" stroke="#222" stroke-width="1.1"/>
<line x1="336.10" y1="473.80" x2="336.10" y2="479.60" stroke="#222" stroke-width="1.1"/>
<line x1="354.90" y1="473.80" x2="354.90" y2="479.60" stroke="#222" stroke-width="1.1"/>
<line x1="373.70" y1="473.80" x2="373.70" y2="479.60" stroke="#222" stroke-width="1.1"/>
<line x1="392.50" y1="473.80" x2="392.50" y2="479.60" stroke="#222" stroke-width="1.1"/>
<line x1="411.30" y1="473.80" x2="411.30" y2="479.60" stroke="#222" stroke-width="1.1"/>
<text font-size="8.8" text-anchor="middle" fill="#333" stroke="#333" stroke-width="0.278" transform="translate(298.50 492.40) scale(1 1.04)">78.75</text>
<text font-size="8.8" text-anchor="middle" fill="#333" stroke="#333" stroke-width="0.278" transform="translate(336.10 492.40) scale(1 1.04)">78.65</text>
<text font-size="8.8" text-anchor="middle" fill="#333" stroke="#333" stroke-width="0.278" transform="translate(373.70 492.40) scale(1 1.04)">78.55</text>
<text font-size="8.8" text-anchor="middle" fill="#333" stroke="#333" stroke-width="0.278" transform="translate(411.30 492.40) scale(1 1.04)">78.45</text>
<rect x="313.10" y="498.20" width="94.10" height="52.30" fill="#e4e4e4" stroke="none" stroke-width="1"/>
<line x1="294.30" y1="549.90" x2="313.10" y2="549.90" stroke="#3b82c4" stroke-width="1.4"/>
<line x1="407.20" y1="549.90" x2="425.70" y2="549.90" stroke="#3b82c4" stroke-width="1.4"/>
<path d="M311.7 512.1h1.5v1.5h-1.5zM311.7 513.8h1.5v1.5h-1.5zM311.7 513.7h1.5v1.5h-1.5zM311.7 510.9h1.5v1.5h-1.5zM312.2 515.8h1.5v1.5h-1.5zM312.2 518.1h1.5v1.5h-1.5zM312.2 517.5h1.5v1.5h-1.5zM312.2 517.2h1.5v1.5h-1.5zM312.4 515.2h1.5v1.5h-1.5zM312.4 519.5h1.5v1.5h-1.5zM312.4 516.3h1.5v1.5h-1.5zM312.4 514.6h1.5v1.5h-1.5zM312.6 517.8h1.5v1.5h-1.5zM312.6 520.5h1.5v1.5h-1.5zM312.6 516.7h1.5v1.5h-1.5zM312.6 511.1h1.5v1.5h-1.5zM312.9 513.3h1.5v1.5h-1.5zM312.9 519.6h1.5v1.5h-1.5zM312.9 517.0h1.5v1.5h-1.5zM312.9 517.7h1.5v1.5h-1.5zM313.0 514.6h1.5v1.5h-1.5zM313.0 518.1h1.5v1.5h-1.5zM313.0 513.6h1.5v1.5h-1.5zM313.0 519.5h1.5v1.5h-1.5zM313.3 518.0h1.5v1.5h-1.5zM313.3 534.1h1.5v1.5h-1.5zM313.3 517.6h1.5v1.5h-1.5zM313.3 517.8h1.5v1.5h-1.5zM313.3 517.5h1.5v1.5h-1.5zM313.3 516.2h1.5v1.5h-1.5zM313.3 516.9h1.5v1.5h-1.5zM313.3 517.0h1.5v1.5h-1.5zM313.5 516.8h1.5v1.5h-1.5zM313.5 517.4h1.5v1.5h-1.5zM313.5 535.4h1.5v1.5h-1.5zM313.5 519.2h1.5v1.5h-1.5zM313.7 517.3h1.5v1.5h-1.5zM313.7 517.0h1.5v1.5h-1.5zM313.7 518.5h1.5v1.5h-1.5zM313.7 516.0h1.5v1.5h-1.5zM314.0 517.8h1.5v1.5h-1.5zM314.0 518.5h1.5v1.5h-1.5zM314.0 517.3h1.5v1.5h-1.5zM314.0 516.1h1.5v1.5h-1.5zM314.2 517.7h1.5v1.5h-1.5zM314.2 514.1h1.5v1.5h-1.5zM314.2 516.7h1.5v1.5h-1.5zM314.2 512.6h1.5v1.5h-1.5zM314.4 516.8h1.5v1.5h-1.5zM314.4 514.7h1.5v1.5h-1.5zM314.4 510.4h1.5v1.5h-1.5zM314.4 518.9h1.5v1.5h-1.5zM314.6 516.0h1.5v1.5h-1.5zM314.6 518.1h1.5v1.5h-1.5zM314.6 519.3h1.5v1.5h-1.5zM314.6 516.8h1.5v1.5h-1.5zM315.1 516.2h1.5v1.5h-1.5zM315.1 516.5h1.5v1.5h-1.5zM315.1 521.7h1.5v1.5h-1.5zM315.1 514.9h1.5v1.5h-1.5zM315.3 510.3h1.5v1.5h-1.5zM315.3 514.9h1.5v1.5h-1.5zM315.3 515.8h1.5v1.5h-1.5zM315.3 514.9h1.5v1.5h-1.5zM315.4 517.5h1.5v1.5h-1.5zM315.4 511.2h1.5v1.5h-1.5zM315.4 520.4h1.5v1.5h-1.5zM315.4 514.6h1.5v1.5h-1.5zM315.7 516.0h1.5v1.5h-1.5zM315.7 516.3h1.5v1.5h-1.5zM315.7 517.6h1.5v1.5h-1.5zM315.7 514.7h1.5v1.5h-1.5zM315.8 515.6h1.5v1.5h-1.5zM315.8 518.8h1.5v1.5h-1.5zM315.8 516.6h1.5v1.5h-1.5zM315.8 519.0h1.5v1.5h-1.5zM316.1 514.3h1.5v1.5h-1.5zM316.1 535.2h1.5v1.5h-1.5zM316.1 516.6h1.5v1.5h-1.5zM316.1 517.6h1.5v1.5h-1.5zM316.2 512.2h1.5v1.5h-1.5zM316.2 517.6h1.5v1.5h-1.5zM316.2 515.1h1.5v1.5h-1.5zM316.2 515.0h1.5v1.5h-1.5zM316.3 517.4h1.5v1.5h-1.5zM316.3 518.0h1.5v1.5h-1.5zM316.3 527.8h1.5v1.5h-1.5zM316.3 515.0h1.5v1.5h-1.5zM316.6 519.3h1.5v1.5h-1.5zM316.6 518.4h1.5v1.5h-1.5zM316.6 512.6h1.5v1.5h-1.5zM316.6 513.8h1.5v1.5h-1.5zM316.9 513.7h1.5v1.5h-1.5zM316.9 516.9h1.5v1.5h-1.5zM316.9 515.9h1.5v1.5h-1.5zM316.9 519.0h1.5v1.5h-1.5zM317.0 519.0h1.5v1.5h-1.5zM317.0 514.9h1.5v1.5h-1.5zM317.0 517.2h1.5v1.5h-1.5zM317.0 514.3h1.5v1.5h-1.5zM317.4 518.9h1.5v1.5h-1.5zM317.4 521.1h1.5v1.5h-1.5zM317.4 514.7h1.5v1.5h-1.5zM317.4 516.1h1.5v1.5h-1.5zM317.6 514.4h1.5v1.5h-1.5zM317.6 514.3h1.5v1.5h-1.5zM317.6 513.7h1.5v1.5h-1.5zM317.6 519.3h1.5v1.5h-1.5zM317.9 516.1h1.5v1.5h-1.5zM317.9 514.7h1.5v1.5h-1.5zM317.9 517.2h1.5v1.5h-1.5zM317.9 518.8h1.5v1.5h-1.5zM317.9 513.9h1.5v1.5h-1.5zM317.9 515.4h1.5v1.5h-1.5zM317.9 516.3h1.5v1.5h-1.5zM317.9 514.6h1.5v1.5h-1.5zM318.1 519.5h1.5v1.5h-1.5zM318.1 516.2h1.5v1.5h-1.5zM318.1 518.7h1.5v1.5h-1.5zM318.1 517.7h1.5v1.5h-1.5zM318.3 517.5h1.5v1.5h-1.5zM318.3 514.7h1.5v1.5h-1.5zM318.3 515.2h1.5v1.5h-1.5zM318.3 517.6h1.5v1.5h-1.5zM318.8 521.9h1.5v1.5h-1.5zM318.8 519.2h1.5v1.5h-1.5zM318.8 515.6h1.5v1.5h-1.5zM318.8 516.1h1.5v1.5h-1.5zM318.8 516.1h1.5v1.5h-1.5zM318.8 516.3h1.5v1.5h-1.5zM318.8 514.8h1.5v1.5h-1.5zM318.8 517.8h1.5v1.5h-1.5zM319.0 516.5h1.5v1.5h-1.5zM319.0 515.1h1.5v1.5h-1.5zM319.0 520.4h1.5v1.5h-1.5zM319.0 514.5h1.5v1.5h-1.5zM319.3 516.3h1.5v1.5h-1.5zM319.3 516.8h1.5v1.5h-1.5zM319.3 514.7h1.5v1.5h-1.5zM319.3 513.4h1.5v1.5h-1.5zM319.5 509.2h1.5v1.5h-1.5zM319.5 513.2h1.5v1.5h-1.5zM319.5 517.5h1.5v1.5h-1.5zM319.5 519.4h1.5v1.5h-1.5zM319.7 512.7h1.5v1.5h-1.5zM319.7 518.6h1.5v1.5h-1.5zM319.7 521.3h1.5v1.5h-1.5zM319.7 517.6h1.5v1.5h-1.5zM319.9 510.1h1.5v1.5h-1.5zM319.9 514.1h1.5v1.5h-1.5zM319.9 518.3h1.5v1.5h-1.5zM319.9 519.3h1.5v1.5h-1.5zM320.3 514.7h1.5v1.5h-1.5zM320.3 515.9h1.5v1.5h-1.5zM320.3 514.3h1.5v1.5h-1.5zM320.3 517.0h1.5v1.5h-1.5zM320.5 518.2h1.5v1.5h-1.5zM320.5 516.9h1.5v1.5h-1.5zM320.5 518.7h1.5v1.5h-1.5zM320.5 519.0h1.5v1.5h-1.5zM320.6 512.3h1.5v1.5h-1.5zM320.6 519.1h1.5v1.5h-1.5zM320.6 518.4h1.5v1.5h-1.5zM320.6 515.1h1.5v1.5h-1.5zM320.9 514.8h1.5v1.5h-1.5zM320.9 517.0h1.5v1.5h-1.5zM320.9 517.6h1.5v1.5h-1.5zM320.9 516.4h1.5v1.5h-1.5zM321.0 514.0h1.5v1.5h-1.5zM321.0 518.5h1.5v1.5h-1.5zM321.0 518.4h1.5v1.5h-1.5zM321.0 517.1h1.5v1.5h-1.5zM321.4 515.3h1.5v1.5h-1.5zM321.4 515.1h1.5v1.5h-1.5zM321.4 513.5h1.5v1.5h-1.5zM321.4 514.1h1.5v1.5h-1.5zM321.4 516.5h1.5v1.5h-1.5zM321.4 512.8h1.5v1.5h-1.5zM321.4 518.4h1.5v1.5h-1.5zM321.4 517.5h1.5v1.5h-1.5zM321.7 515.3h1.5v1.5h-1.5zM321.7 513.6h1.5v1.5h-1.5zM321.7 519.1h1.5v1.5h-1.5zM321.7 515.6h1.5v1.5h-1.5zM322.0 515.8h1.5v1.5h-1.5zM322.0 514.1h1.5v1.5h-1.5zM322.0 515.0h1.5v1.5h-1.5zM322.0 513.5h1.5v1.5h-1.5zM322.1 514.6h1.5v1.5h-1.5zM322.1 516.8h1.5v1.5h-1.5zM322.1 514.0h1.5v1.5h-1.5zM322.1 516.6h1.5v1.5h-1.5zM322.4 516.0h1.5v1.5h-1.5zM322.4 518.8h1.5v1.5h-1.5zM322.4 522.9h1.5v1.5h-1.5zM322.4 519.2h1.5v1.5h-1.5zM322.6 515.5h1.5v1.5h-1.5zM322.6 515.0h1.5v1.5h-1.5zM322.6 519.3h1.5v1.5h-1.5zM322.6 518.5h1.5v1.5h-1.5zM322.8 515.5h1.5v1.5h-1.5zM322.8 515.6h1.5v1.5h-1.5zM322.8 520.4h1.5v1.5h-1.5zM322.8 516.2h1.5v1.5h-1.5zM323.2 518.5h1.5v1.5h-1.5zM323.2 516.7h1.5v1.5h-1.5zM323.2 519.5h1.5v1.5h-1.5zM323.2 515.1h1.5v1.5h-1.5zM323.2 513.6h1.5v1.5h-1.5zM323.2 519.6h1.5v1.5h-1.5zM323.2 518.0h1.5v1.5h-1.5zM323.2 520.0h1.5v1.5h-1.5zM323.7 515.6h1.5v1.5h-1.5zM323.7 515.1h1.5v1.5h-1.5zM323.7 518.0h1.5v1.5h-1.5zM323.7 516.3h1.5v1.5h-1.5zM323.9 516.8h1.5v1.5h-1.5zM323.9 513.9h1.5v1.5h-1.5zM323.9 516.2h1.5v1.5h-1.5zM323.9 518.7h1.5v1.5h-1.5zM323.9 518.7h1.5v1.5h-1.5zM323.9 520.9h1.5v1.5h-1.5zM323.9 515.0h1.5v1.5h-1.5zM323.9 516.9h1.5v1.5h-1.5zM324.1 517.3h1.5v1.5h-1.5zM324.1 518.3h1.5v1.5h-1.5zM324.1 516.1h1.5v1.5h-1.5zM324.1 516.1h1.5v1.5h-1.5zM324.5 517.8h1.5v1.5h-1.5zM324.5 515.5h1.5v1.5h-1.5zM324.5 513.3h1.5v1.5h-1.5zM324.5 517.3h1.5v1.5h-1.5zM324.7 515.0h1.5v1.5h-1.5zM324.7 513.6h1.5v1.5h-1.5zM324.7 516.9h1.5v1.5h-1.5zM324.7 518.1h1.5v1.5h-1.5zM324.9 517.4h1.5v1.5h-1.5zM324.9 516.0h1.5v1.5h-1.5zM324.9 515.4h1.5v1.5h-1.5zM324.9 513.9h1.5v1.5h-1.5zM325.1 514.4h1.5v1.5h-1.5zM325.1 519.9h1.5v1.5h-1.5zM325.1 519.8h1.5v1.5h-1.5zM325.1 515.0h1.5v1.5h-1.5zM325.3 512.7h1.5v1.5h-1.5zM325.3 520.1h1.5v1.5h-1.5zM325.3 515.7h1.5v1.5h-1.5zM325.3 518.1h1.5v1.5h-1.5zM325.4 519.5h1.5v1.5h-1.5zM325.4 514.4h1.5v1.5h-1.5zM325.4 517.8h1.5v1.5h-1.5zM325.4 519.3h1.5v1.5h-1.5zM325.7 514.1h1.5v1.5h-1.5zM325.7 516.9h1.5v1.5h-1.5zM325.7 516.5h1.5v1.5h-1.5zM325.7 518.9h1.5v1.5h-1.5zM325.9 518.8h1.5v1.5h-1.5zM325.9 518.0h1.5v1.5h-1.5zM325.9 519.0h1.5v1.5h-1.5zM325.9 519.7h1.5v1.5h-1.5zM326.0 520.7h1.5v1.5h-1.5zM326.0 517.5h1.5v1.5h-1.5zM326.0 526.5h1.5v1.5h-1.5zM326.0 519.4h1.5v1.5h-1.5zM326.4 540.2h1.5v1.5h-1.5zM326.4 517.5h1.5v1.5h-1.5zM326.4 515.3h1.5v1.5h-1.5zM326.4 516.4h1.5v1.5h-1.5zM326.7 515.6h1.5v1.5h-1.5zM326.7 518.7h1.5v1.5h-1.5zM326.7 514.5h1.5v1.5h-1.5zM326.7 517.1h1.5v1.5h-1.5zM326.7 519.1h1.5v1.5h-1.5zM326.7 516.1h1.5v1.5h-1.5zM326.7 513.2h1.5v1.5h-1.5zM326.7 514.1h1.5v1.5h-1.5zM327.1 522.2h1.5v1.5h-1.5zM327.1 518.8h1.5v1.5h-1.5zM327.1 516.4h1.5v1.5h-1.5zM327.1 515.7h1.5v1.5h-1.5zM327.2 516.7h1.5v1.5h-1.5zM327.2 515.7h1.5v1.5h-1.5zM327.2 517.3h1.5v1.5h-1.5zM327.2 515.4h1.5v1.5h-1.5zM327.6 518.8h1.5v1.5h-1.5zM327.6 515.8h1.5v1.5h-1.5zM327.6 514.0h1.5v1.5h-1.5zM327.6 517.3h1.5v1.5h-1.5zM327.8 516.3h1.5v1.5h-1.5zM327.8 515.4h1.5v1.5h-1.5zM327.8 514.0h1.5v1.5h-1.5zM327.8 522.7h1.5v1.5h-1.5zM327.8 519.6h1.5v1.5h-1.5zM327.8 518.3h1.5v1.5h-1.5zM327.8 513.2h1.5v1.5h-1.5zM327.8 513.1h1.5v1.5h-1.5zM328.2 516.2h1.5v1.5h-1.5zM328.2 517.0h1.5v1.5h-1.5zM328.2 516.6h1.5v1.5h-1.5zM328.2 515.3h1.5v1.5h-1.5zM328.4 514.1h1.5v1.5h-1.5zM328.4 520.6h1.5v1.5h-1.5zM328.4 512.9h1.5v1.5h-1.5zM328.4 516.0h1.5v1.5h-1.5zM328.7 522.3h1.5v1.5h-1.5zM328.7 518.3h1.5v1.5h-1.5zM328.7 513.5h1.5v1.5h-1.5zM328.7 512.9h1.5v1.5h-1.5zM328.8 516.2h1.5v1.5h-1.5zM328.8 527.7h1.5v1.5h-1.5zM328.8 516.8h1.5v1.5h-1.5zM328.8 514.7h1.5v1.5h-1.5zM329.1 516.4h1.5v1.5h-1.5zM329.1 513.9h1.5v1.5h-1.5zM329.1 517.2h1.5v1.5h-1.5zM329.1 512.3h1.5v1.5h-1.5zM329.3 515.6h1.5v1.5h-1.5zM329.3 515.1h1.5v1.5h-1.5zM329.3 517.2h1.5v1.5h-1.5zM329.3 511.3h1.5v1.5h-1.5zM329.6 515.0h1.5v1.5h-1.5zM329.6 520.4h1.5v1.5h-1.5zM329.6 515.8h1.5v1.5h-1.5zM329.6 516.0h1.5v1.5h-1.5zM329.6 516.9h1.5v1.5h-1.5zM329.6 513.6h1.5v1.5h-1.5zM329.6 515.9h1.5v1.5h-1.5zM329.6 515.7h1.5v1.5h-1.5zM330.0 515.1h1.5v1.5h-1.5zM330.0 518.5h1.5v1.5h-1.5zM330.0 512.8h1.5v1.5h-1.5zM330.0 521.2h1.5v1.5h-1.5zM330.3 517.2h1.5v1.5h-1.5zM330.3 517.0h1.5v1.5h-1.5zM330.3 515.5h1.5v1.5h-1.5zM330.3 520.0h1.5v1.5h-1.5zM330.2 516.2h1.5v1.5h-1.5zM330.2 516.5h1.5v1.5h-1.5zM330.2 517.9h1.5v1.5h-1.5zM330.2 522.3h1.5v1.5h-1.5zM330.7 518.2h1.5v1.5h-1.5zM330.7 516.3h1.5v1.5h-1.5zM330.7 519.2h1.5v1.5h-1.5zM330.7 516.9h1.5v1.5h-1.5zM330.8 516.7h1.5v1.5h-1.5zM330.8 518.2h1.5v1.5h-1.5zM330.8 519.7h1.5v1.5h-1.5zM330.8 515.8h1.5v1.5h-1.5zM331.2 518.6h1.5v1.5h-1.5zM331.2 518.1h1.5v1.5h-1.5zM331.2 517.8h1.5v1.5h-1.5zM331.2 512.9h1.5v1.5h-1.5zM331.2 517.2h1.5v1.5h-1.5zM331.2 517.6h1.5v1.5h-1.5zM331.2 518.9h1.5v1.5h-1.5zM331.2 517.9h1.5v1.5h-1.5zM331.3 514.6h1.5v1.5h-1.5zM331.3 514.2h1.5v1.5h-1.5zM331.3 517.8h1.5v1.5h-1.5zM331.3 517.7h1.5v1.5h-1.5zM331.5 517.8h1.5v1.5h-1.5zM331.5 515.0h1.5v1.5h-1.5zM331.5 513.9h1.5v1.5h-1.5zM331.5 518.3h1.5v1.5h-1.5zM331.9 517.2h1.5v1.5h-1.5zM331.9 516.5h1.5v1.5h-1.5zM331.9 517.4h1.5v1.5h-1.5zM331.9 517.3h1.5v1.5h-1.5zM332.2 515.6h1.5v1.5h-1.5zM332.2 517.4h1.5v1.5h-1.5zM332.2 516.0h1.5v1.5h-1.5zM332.2 517.3h1.5v1.5h-1.5zM332.4 510.9h1.5v1.5h-1.5zM332.4 514.7h1.5v1.5h-1.5zM332.4 519.6h1.5v1.5h-1.5zM332.4 514.8h1.5v1.5h-1.5zM332.6 518.6h1.5v1.5h-1.5zM332.6 512.0h1.5v1.5h-1.5zM332.6 512.5h1.5v1.5h-1.5zM332.6 520.1h1.5v1.5h-1.5zM332.7 514.7h1.5v1.5h-1.5zM332.7 518.5h1.5v1.5h-1.5zM332.7 514.5h1.5v1.5h-1.5zM332.7 519.6h1.5v1.5h-1.5zM333.1 522.8h1.5v1.5h-1.5zM333.1 515.6h1.5v1.5h-1.5zM333.1 521.4h1.5v1.5h-1.5zM333.1 518.4h1.5v1.5h-1.5zM333.2 512.6h1.5v1.5h-1.5zM333.2 519.9h1.5v1.5h-1.5zM333.2 516.4h1.5v1.5h-1.5zM333.2 515.2h1.5v1.5h-1.5zM333.6 528.8h1.5v1.5h-1.5zM333.6 533.3h1.5v1.5h-1.5zM333.6 529.9h1.5v1.5h-1.5zM333.6 527.8h1.5v1.5h-1.5zM333.6 530.0h1.5v1.5h-1.5zM333.6 529.7h1.5v1.5h-1.5zM333.6 534.2h1.5v1.5h-1.5zM333.6 536.7h1.5v1.5h-1.5zM334.0 531.9h1.5v1.5h-1.5zM334.0 532.4h1.5v1.5h-1.5zM334.0 531.1h1.5v1.5h-1.5zM334.0 531.5h1.5v1.5h-1.5zM334.1 530.6h1.5v1.5h-1.5zM334.1 526.0h1.5v1.5h-1.5zM334.1 527.7h1.5v1.5h-1.5zM334.1 529.6h1.5v1.5h-1.5zM334.3 532.6h1.5v1.5h-1.5zM334.3 529.8h1.5v1.5h-1.5zM334.3 538.1h1.5v1.5h-1.5zM334.3 536.7h1.5v1.5h-1.5zM334.7 531.0h1.5v1.5h-1.5zM334.7 530.3h1.5v1.5h-1.5zM334.7 531.0h1.5v1.5h-1.5zM334.7 528.0h1.5v1.5h-1.5zM334.7 530.9h1.5v1.5h-1.5zM334.7 531.0h1.5v1.5h-1.5zM334.7 534.9h1.5v1.5h-1.5zM334.7 529.4h1.5v1.5h-1.5zM335.1 530.9h1.5v1.5h-1.5zM335.1 530.0h1.5v1.5h-1.5zM335.1 529.7h1.5v1.5h-1.5zM335.1 530.4h1.5v1.5h-1.5zM335.1 528.4h1.5v1.5h-1.5zM335.1 528.6h1.5v1.5h-1.5zM335.1 528.2h1.5v1.5h-1.5zM335.1 530.1h1.5v1.5h-1.5zM335.4 529.8h1.5v1.5h-1.5zM335.4 529.7h1.5v1.5h-1.5zM335.4 530.7h1.5v1.5h-1.5zM335.4 530.7h1.5v1.5h-1.5zM335.8 530.2h1.5v1.5h-1.5zM335.8 536.0h1.5v1.5h-1.5zM335.8 529.5h1.5v1.5h-1.5zM335.8 528.7h1.5v1.5h-1.5zM336.0 527.3h1.5v1.5h-1.5zM336.0 527.9h1.5v1.5h-1.5zM336.0 527.6h1.5v1.5h-1.5zM336.0 528.1h1.5v1.5h-1.5zM336.2 533.3h1.5v1.5h-1.5zM336.2 530.9h1.5v1.5h-1.5zM336.2 530.2h1.5v1.5h-1.5zM336.2 529.2h1.5v1.5h-1.5zM336.3 529.4h1.5v1.5h-1.5zM336.3 526.8h1.5v1.5h-1.5zM336.3 530.2h1.5v1.5h-1.5zM336.3 529.7h1.5v1.5h-1.5zM336.6 530.9h1.5v1.5h-1.5zM336.6 530.1h1.5v1.5h-1.5zM336.6 529.9h1.5v1.5h-1.5zM336.6 540.2h1.5v1.5h-1.5zM336.7 529.2h1.5v1.5h-1.5zM336.7 536.3h1.5v1.5h-1.5zM336.7 529.1h1.5v1.5h-1.5zM336.7 530.2h1.5v1.5h-1.5zM337.1 533.2h1.5v1.5h-1.5zM337.1 533.0h1.5v1.5h-1.5zM337.1 533.3h1.5v1.5h-1.5zM337.1 533.4h1.5v1.5h-1.5zM337.2 531.6h1.5v1.5h-1.5zM337.2 534.5h1.5v1.5h-1.5zM337.2 527.3h1.5v1.5h-1.5zM337.2 534.0h1.5v1.5h-1.5zM337.4 528.4h1.5v1.5h-1.5zM337.4 529.6h1.5v1.5h-1.5zM337.4 530.7h1.5v1.5h-1.5zM337.4 531.9h1.5v1.5h-1.5zM337.6 522.0h1.5v1.5h-1.5zM337.6 529.6h1.5v1.5h-1.5zM337.6 532.1h1.5v1.5h-1.5zM337.6 533.6h1.5v1.5h-1.5zM337.8 530.4h1.5v1.5h-1.5zM337.8 532.2h1.5v1.5h-1.5zM337.8 531.9h1.5v1.5h-1.5zM337.8 527.9h1.5v1.5h-1.5zM338.1 527.4h1.5v1.5h-1.5zM338.1 526.9h1.5v1.5h-1.5zM338.1 529.5h1.5v1.5h-1.5zM338.1 531.6h1.5v1.5h-1.5zM338.2 527.2h1.5v1.5h-1.5zM338.2 528.5h1.5v1.5h-1.5zM338.2 530.3h1.5v1.5h-1.5zM338.2 531.3h1.5v1.5h-1.5zM338.5 531.0h1.5v1.5h-1.5zM338.5 529.7h1.5v1.5h-1.5zM338.5 535.2h1.5v1.5h-1.5zM338.5 532.5h1.5v1.5h-1.5zM338.8 532.2h1.5v1.5h-1.5zM338.8 533.3h1.5v1.5h-1.5zM338.8 527.9h1.5v1.5h-1.5zM338.8 535.1h1.5v1.5h-1.5zM339.1 530.3h1.5v1.5h-1.5zM339.1 529.9h1.5v1.5h-1.5zM339.1 531.3h1.5v1.5h-1.5zM339.1 530.5h1.5v1.5h-1.5zM339.1 527.2h1.5v1.5h-1.5zM339.1 532.8h1.5v1.5h-1.5zM339.1 529.8h1.5v1.5h-1.5zM339.1 528.9h1.5v1.5h-1.5zM339.4 532.1h1.5v1.5h-1.5zM339.4 529.3h1.5v1.5h-1.5zM339.4 525.9h1.5v1.5h-1.5zM339.4 532.2h1.5v1.5h-1.5zM339.8 528.4h1.5v1.5h-1.5zM339.8 531.7h1.5v1.5h-1.5zM339.8 529.1h1.5v1.5h-1.5zM339.8 535.8h1.5v1.5h-1.5zM339.9 545.6h1.5v1.5h-1.5zM339.9 531.5h1.5v1.5h-1.5zM339.9 527.6h1.5v1.5h-1.5zM339.9 520.9h1.5v1.5h-1.5zM340.2 535.3h1.5v1.5h-1.5zM340.2 529.4h1.5v1.5h-1.5zM340.2 541.2h1.5v1.5h-1.5zM340.2 531.8h1.5v1.5h-1.5zM340.3 529.4h1.5v1.5h-1.5zM340.3 529.4h1.5v1.5h-1.5zM340.3 533.2h1.5v1.5h-1.5zM340.3 531.3h1.5v1.5h-1.5zM340.5 531.5h1.5v1.5h-1.5zM340.5 530.9h1.5v1.5h-1.5zM340.5 528.9h1.5v1.5h-1.5zM340.5 529.6h1.5v1.5h-1.5zM340.8 530.3h1.5v1.5h-1.5zM340.8 528.9h1.5v1.5h-1.5zM340.8 538.3h1.5v1.5h-1.5zM340.8 529.0h1.5v1.5h-1.5zM341.0 532.3h1.5v1.5h-1.5zM341.0 528.4h1.5v1.5h-1.5zM341.0 529.0h1.5v1.5h-1.5zM341.0 529.4h1.5v1.5h-1.5zM341.3 528.4h1.5v1.5h-1.5zM341.3 536.0h1.5v1.5h-1.5zM341.3 531.2h1.5v1.5h-1.5zM341.3 529.3h1.5v1.5h-1.5zM341.4 531.3h1.5v1.5h-1.5zM341.4 529.2h1.5v1.5h-1.5zM341.4 530.4h1.5v1.5h-1.5zM341.4 528.3h1.5v1.5h-1.5zM341.6 525.5h1.5v1.5h-1.5zM341.6 531.4h1.5v1.5h-1.5zM341.6 528.8h1.5v1.5h-1.5zM341.6 530.7h1.5v1.5h-1.5zM342.0 532.3h1.5v1.5h-1.5zM342.0 526.1h1.5v1.5h-1.5zM342.0 531.2h1.5v1.5h-1.5zM342.0 528.3h1.5v1.5h-1.5zM342.0 529.3h1.5v1.5h-1.5zM342.0 528.7h1.5v1.5h-1.5zM342.0 528.4h1.5v1.5h-1.5zM342.0 543.8h1.5v1.5h-1.5zM342.3 535.4h1.5v1.5h-1.5zM342.3 530.4h1.5v1.5h-1.5zM342.3 529.0h1.5v1.5h-1.5zM342.3 532.5h1.5v1.5h-1.5zM342.6 531.2h1.5v1.5h-1.5zM342.6 526.8h1.5v1.5h-1.5zM342.6 532.2h1.5v1.5h-1.5zM342.6 529.0h1.5v1.5h-1.5zM342.7 532.2h1.5v1.5h-1.5zM342.7 527.7h1.5v1.5h-1.5zM342.7 535.1h1.5v1.5h-1.5zM342.7 525.5h1.5v1.5h-1.5zM343.0 533.6h1.5v1.5h-1.5zM343.0 531.4h1.5v1.5h-1.5zM343.0 533.1h1.5v1.5h-1.5zM343.0 529.1h1.5v1.5h-1.5zM343.2 531.8h1.5v1.5h-1.5zM343.2 540.1h1.5v1.5h-1.5zM343.2 532.0h1.5v1.5h-1.5zM343.2 528.4h1.5v1.5h-1.5zM343.4 531.0h1.5v1.5h-1.5zM343.4 528.5h1.5v1.5h-1.5zM343.4 523.0h1.5v1.5h-1.5zM343.4 531.4h1.5v1.5h-1.5zM343.6 535.7h1.5v1.5h-1.5zM343.6 531.3h1.5v1.5h-1.5zM343.6 534.3h1.5v1.5h-1.5zM343.6 534.1h1.5v1.5h-1.5zM343.8 530.7h1.5v1.5h-1.5zM343.8 529.5h1.5v1.5h-1.5zM343.8 532.0h1.5v1.5h-1.5zM343.8 530.8h1.5v1.5h-1.5zM344.1 533.3h1.5v1.5h-1.5zM344.1 530.1h1.5v1.5h-1.5zM344.1 529.8h1.5v1.5h-1.5zM344.1 531.6h1.5v1.5h-1.5zM344.2 528.4h1.5v1.5h-1.5zM344.2 535.2h1.5v1.5h-1.5zM344.2 533.2h1.5v1.5h-1.5zM344.2 528.5h1.5v1.5h-1.5zM344.4 530.6h1.5v1.5h-1.5zM344.4 530.6h1.5v1.5h-1.5zM344.4 539.6h1.5v1.5h-1.5zM344.4 531.1h1.5v1.5h-1.5zM344.6 531.9h1.5v1.5h-1.5zM344.6 531.4h1.5v1.5h-1.5zM344.6 528.3h1.5v1.5h-1.5zM344.6 526.5h1.5v1.5h-1.5zM345.0 530.9h1.5v1.5h-1.5zM345.0 530.7h1.5v1.5h-1.5zM345.0 526.7h1.5v1.5h-1.5zM345.0 528.5h1.5v1.5h-1.5zM345.1 531.7h1.5v1.5h-1.5zM345.1 529.4h1.5v1.5h-1.5zM345.1 534.0h1.5v1.5h-1.5zM345.1 529.9h1.5v1.5h-1.5zM345.4 531.9h1.5v1.5h-1.5zM345.4 529.2h1.5v1.5h-1.5zM345.4 531.4h1.5v1.5h-1.5zM345.4 527.2h1.5v1.5h-1.5zM345.7 538.1h1.5v1.5h-1.5zM345.7 531.3h1.5v1.5h-1.5zM345.7 531.7h1.5v1.5h-1.5zM345.7 528.9h1.5v1.5h-1.5zM346.0 532.2h1.5v1.5h-1.5zM346.0 530.2h1.5v1.5h-1.5zM346.0 532.6h1.5v1.5h-1.5zM346.0 529.5h1.5v1.5h-1.5zM346.1 530.0h1.5v1.5h-1.5zM346.1 535.5h1.5v1.5h-1.5zM346.1 538.0h1.5v1.5h-1.5zM346.1 531.9h1.5v1.5h-1.5zM346.3 531.6h1.5v1.5h-1.5zM346.3 533.6h1.5v1.5h-1.5zM346.3 527.2h1.5v1.5h-1.5zM346.3 533.3h1.5v1.5h-1.5zM346.6 529.2h1.5v1.5h-1.5zM346.6 529.5h1.5v1.5h-1.5zM346.6 531.5h1.5v1.5h-1.5zM346.6 532.2h1.5v1.5h-1.5zM346.8 530.1h1.5v1.5h-1.5zM346.8 529.8h1.5v1.5h-1.5zM346.8 528.5h1.5v1.5h-1.5zM346.8 531.4h1.5v1.5h-1.5zM346.9 529.3h1.5v1.5h-1.5zM346.9 534.4h1.5v1.5h-1.5zM346.9 529.1h1.5v1.5h-1.5zM346.9 532.5h1.5v1.5h-1.5zM347.3 531.8h1.5v1.5h-1.5zM347.3 536.6h1.5v1.5h-1.5zM347.3 532.6h1.5v1.5h-1.5zM347.3 529.1h1.5v1.5h-1.5zM347.5 533.5h1.5v1.5h-1.5zM347.5 528.8h1.5v1.5h-1.5zM347.5 531.6h1.5v1.5h-1.5zM347.5 532.4h1.5v1.5h-1.5zM347.5 529.9h1.5v1.5h-1.5zM347.5 532.7h1.5v1.5h-1.5zM347.5 532.0h1.5v1.5h-1.5zM347.5 533.2h1.5v1.5h-1.5zM347.7 528.1h1.5v1.5h-1.5zM347.7 530.9h1.5v1.5h-1.5zM347.7 531.0h1.5v1.5h-1.5zM347.7 528.6h1.5v1.5h-1.5zM348.0 533.0h1.5v1.5h-1.5zM348.0 527.3h1.5v1.5h-1.5zM348.0 528.3h1.5v1.5h-1.5zM348.0 531.4h1.5v1.5h-1.5zM348.3 522.1h1.5v1.5h-1.5zM348.3 514.6h1.5v1.5h-1.5zM348.3 517.9h1.5v1.5h-1.5zM348.3 516.2h1.5v1.5h-1.5zM348.4 516.1h1.5v1.5h-1.5zM348.4 514.2h1.5v1.5h-1.5zM348.4 517.1h1.5v1.5h-1.5zM348.4 517.8h1.5v1.5h-1.5zM348.9 513.9h1.5v1.5h-1.5zM348.9 513.3h1.5v1.5h-1.5zM348.9 517.4h1.5v1.5h-1.5zM348.9 512.6h1.5v1.5h-1.5zM348.8 513.4h1.5v1.5h-1.5zM348.8 518.0h1.5v1.5h-1.5zM348.8 514.8h1.5v1.5h-1.5zM348.8 516.7h1.5v1.5h-1.5zM349.1 518.0h1.5v1.5h-1.5zM349.1 517.1h1.5v1.5h-1.5zM349.1 512.6h1.5v1.5h-1.5zM349.1 519.4h1.5v1.5h-1.5zM349.4 516.6h1.5v1.5h-1.5zM349.4 536.6h1.5v1.5h-1.5zM349.4 516.1h1.5v1.5h-1.5zM349.4 513.1h1.5v1.5h-1.5zM349.7 513.5h1.5v1.5h-1.5zM349.7 513.5h1.5v1.5h-1.5zM349.7 516.5h1.5v1.5h-1.5zM349.7 513.7h1.5v1.5h-1.5zM349.8 515.6h1.5v1.5h-1.5zM349.8 508.1h1.5v1.5h-1.5zM349.8 516.8h1.5v1.5h-1.5zM349.8 511.2h1.5v1.5h-1.5zM349.9 516.2h1.5v1.5h-1.5zM349.9 515.5h1.5v1.5h-1.5zM349.9 519.2h1.5v1.5h-1.5zM349.9 514.5h1.5v1.5h-1.5zM350.2 518.9h1.5v1.5h-1.5zM350.2 517.3h1.5v1.5h-1.5zM350.2 519.4h1.5v1.5h-1.5zM350.2 522.4h1.5v1.5h-1.5zM350.6 512.2h1.5v1.5h-1.5zM350.6 515.0h1.5v1.5h-1.5zM350.6 516.2h1.5v1.5h-1.5zM350.6 514.0h1.5v1.5h-1.5zM350.6 516.9h1.5v1.5h-1.5zM350.6 515.6h1.5v1.5h-1.5zM350.6 517.9h1.5v1.5h-1.5zM350.6 517.0h1.5v1.5h-1.5zM350.8 516.9h1.5v1.5h-1.5zM350.8 520.1h1.5v1.5h-1.5zM350.8 517.9h1.5v1.5h-1.5zM350.8 515.6h1.5v1.5h-1.5zM351.3 517.9h1.5v1.5h-1.5zM351.3 518.2h1.5v1.5h-1.5zM351.3 516.6h1.5v1.5h-1.5zM351.3 526.4h1.5v1.5h-1.5zM351.4 516.0h1.5v1.5h-1.5zM351.4 515.4h1.5v1.5h-1.5zM351.4 516.0h1.5v1.5h-1.5zM351.4 514.9h1.5v1.5h-1.5zM351.5 515.4h1.5v1.5h-1.5zM351.5 516.3h1.5v1.5h-1.5zM351.5 515.3h1.5v1.5h-1.5zM351.5 516.5h1.5v1.5h-1.5zM351.7 515.3h1.5v1.5h-1.5zM351.7 515.3h1.5v1.5h-1.5zM351.7 514.1h1.5v1.5h-1.5zM351.7 511.4h1.5v1.5h-1.5zM351.9 517.1h1.5v1.5h-1.5zM351.9 517.0h1.5v1.5h-1.5zM351.9 516.9h1.5v1.5h-1.5zM351.9 514.4h1.5v1.5h-1.5zM352.2 522.4h1.5v1.5h-1.5zM352.2 516.7h1.5v1.5h-1.5zM352.2 516.6h1.5v1.5h-1.5zM352.2 516.5h1.5v1.5h-1.5zM352.4 515.7h1.5v1.5h-1.5zM352.4 517.1h1.5v1.5h-1.5zM352.4 514.0h1.5v1.5h-1.5zM352.4 515.8h1.5v1.5h-1.5zM352.5 518.1h1.5v1.5h-1.5zM352.5 512.8h1.5v1.5h-1.5zM352.5 516.2h1.5v1.5h-1.5zM352.5 515.2h1.5v1.5h-1.5zM352.8 518.9h1.5v1.5h-1.5zM352.8 512.6h1.5v1.5h-1.5zM352.8 519.5h1.5v1.5h-1.5zM352.8 514.2h1.5v1.5h-1.5zM353.1 524.1h1.5v1.5h-1.5zM353.1 514.4h1.5v1.5h-1.5zM353.1 515.0h1.5v1.5h-1.5zM353.1 513.5h1.5v1.5h-1.5zM353.4 514.6h1.5v1.5h-1.5zM353.4 512.0h1.5v1.5h-1.5zM353.4 519.0h1.5v1.5h-1.5zM353.4 517.3h1.5v1.5h-1.5zM353.6 512.4h1.5v1.5h-1.5zM353.6 516.0h1.5v1.5h-1.5zM353.6 512.8h1.5v1.5h-1.5zM353.6 513.7h1.5v1.5h-1.5zM353.9 514.3h1.5v1.5h-1.5zM353.9 513.6h1.5v1.5h-1.5zM353.9 518.4h1.5v1.5h-1.5zM353.9 513.3h1.5v1.5h-1.5zM354.0 515.1h1.5v1.5h-1.5zM354.0 518.1h1.5v1.5h-1.5zM354.0 515.0h1.5v1.5h-1.5zM354.0 515.9h1.5v1.5h-1.5zM354.3 514.8h1.5v1.5h-1.5zM354.3 513.4h1.5v1.5h-1.5zM354.3 517.6h1.5v1.5h-1.5zM354.3 515.5h1.5v1.5h-1.5zM354.6 516.7h1.5v1.5h-1.5zM354.6 516.6h1.5v1.5h-1.5zM354.6 515.4h1.5v1.5h-1.5zM354.6 515.3h1.5v1.5h-1.5zM354.6 516.9h1.5v1.5h-1.5zM354.6 517.6h1.5v1.5h-1.5zM354.6 520.0h1.5v1.5h-1.5zM354.6 520.4h1.5v1.5h-1.5zM354.8 515.7h1.5v1.5h-1.5zM354.8 515.1h1.5v1.5h-1.5zM354.8 514.8h1.5v1.5h-1.5zM354.8 520.7h1.5v1.5h-1.5zM355.0 515.3h1.5v1.5h-1.5zM355.0 519.9h1.5v1.5h-1.5zM355.0 511.7h1.5v1.5h-1.5zM355.0 515.9h1.5v1.5h-1.5zM355.4 515.4h1.5v1.5h-1.5zM355.4 515.4h1.5v1.5h-1.5zM355.4 515.7h1.5v1.5h-1.5zM355.4 516.4h1.5v1.5h-1.5zM355.5 516.8h1.5v1.5h-1.5zM355.5 517.7h1.5v1.5h-1.5zM355.5 516.2h1.5v1.5h-1.5zM355.5 517.2h1.5v1.5h-1.5zM355.7 517.0h1.5v1.5h-1.5zM355.7 512.9h1.5v1.5h-1.5zM355.7 518.6h1.5v1.5h-1.5zM355.7 513.9h1.5v1.5h-1.5zM356.1 515.4h1.5v1.5h-1.5zM356.1 516.4h1.5v1.5h-1.5zM356.1 517.7h1.5v1.5h-1.5zM356.1 512.9h1.5v1.5h-1.5zM356.1 511.8h1.5v1.5h-1.5zM356.1 514.9h1.5v1.5h-1.5zM356.1 514.5h1.5v1.5h-1.5zM356.1 519.2h1.5v1.5h-1.5zM356.4 516.3h1.5v1.5h-1.5zM356.4 513.6h1.5v1.5h-1.5zM356.4 521.3h1.5v1.5h-1.5zM356.4 517.8h1.5v1.5h-1.5zM356.7 513.5h1.5v1.5h-1.5zM356.7 518.8h1.5v1.5h-1.5zM356.7 521.7h1.5v1.5h-1.5zM356.7 513.1h1.5v1.5h-1.5zM356.9 517.7h1.5v1.5h-1.5zM356.9 515.7h1.5v1.5h-1.5zM356.9 513.8h1.5v1.5h-1.5zM356.9 516.1h1.5v1.5h-1.5zM357.1 515.8h1.5v1.5h-1.5zM357.1 518.1h1.5v1.5h-1.5zM357.1 516.4h1.5v1.5h-1.5zM357.1 515.7h1.5v1.5h-1.5zM357.2 515.9h1.5v1.5h-1.5zM357.2 515.3h1.5v1.5h-1.5zM357.2 514.7h1.5v1.5h-1.5zM357.2 519.0h1.5v1.5h-1.5zM357.4 515.0h1.5v1.5h-1.5zM357.4 516.3h1.5v1.5h-1.5zM357.4 518.3h1.5v1.5h-1.5zM357.4 520.8h1.5v1.5h-1.5zM357.8 526.1h1.5v1.5h-1.5zM357.8 513.4h1.5v1.5h-1.5zM357.8 514.6h1.5v1.5h-1.5zM357.8 516.6h1.5v1.5h-1.5zM358.0 516.9h1.5v1.5h-1.5zM358.0 515.4h1.5v1.5h-1.5zM358.0 515.0h1.5v1.5h-1.5zM358.0 514.7h1.5v1.5h-1.5zM358.0 518.8h1.5v1.5h-1.5zM358.0 518.2h1.5v1.5h-1.5zM358.0 519.5h1.5v1.5h-1.5zM358.0 516.4h1.5v1.5h-1.5zM358.3 514.2h1.5v1.5h-1.5zM358.3 517.3h1.5v1.5h-1.5zM358.3 515.6h1.5v1.5h-1.5zM358.3 517.1h1.5v1.5h-1.5zM358.5 517.7h1.5v1.5h-1.5zM358.5 506.9h1.5v1.5h-1.5zM358.5 521.2h1.5v1.5h-1.5zM358.5 515.0h1.5v1.5h-1.5zM359.0 516.5h1.5v1.5h-1.5zM359.0 504.8h1.5v1.5h-1.5zM359.0 516.9h1.5v1.5h-1.5zM359.0 517.5h1.5v1.5h-1.5zM359.1 518.6h1.5v1.5h-1.5zM359.1 533.6h1.5v1.5h-1.5zM359.1 514.8h1.5v1.5h-1.5zM359.1 515.2h1.5v1.5h-1.5zM359.4 515.8h1.5v1.5h-1.5zM359.4 514.9h1.5v1.5h-1.5zM359.4 515.5h1.5v1.5h-1.5zM359.4 514.8h1.5v1.5h-1.5zM359.4 518.7h1.5v1.5h-1.5zM359.4 516.1h1.5v1.5h-1.5zM359.4 514.6h1.5v1.5h-1.5zM359.4 511.1h1.5v1.5h-1.5zM359.6 513.9h1.5v1.5h-1.5zM359.6 516.5h1.5v1.5h-1.5zM359.6 517.3h1.5v1.5h-1.5zM359.6 514.7h1.5v1.5h-1.5zM359.8 519.1h1.5v1.5h-1.5zM359.8 515.5h1.5v1.5h-1.5zM359.8 517.3h1.5v1.5h-1.5zM359.8 513.8h1.5v1.5h-1.5zM360.1 513.8h1.5v1.5h-1.5zM360.1 517.7h1.5v1.5h-1.5zM360.1 512.5h1.5v1.5h-1.5zM360.1 518.5h1.5v1.5h-1.5zM360.4 518.2h1.5v1.5h-1.5zM360.4 517.4h1.5v1.5h-1.5zM360.4 515.7h1.5v1.5h-1.5zM360.4 517.4h1.5v1.5h-1.5zM360.7 513.6h1.5v1.5h-1.5zM360.7 517.1h1.5v1.5h-1.5zM360.7 518.7h1.5v1.5h-1.5zM360.7 516.9h1.5v1.5h-1.5zM360.9 515.5h1.5v1.5h-1.5zM360.9 530.1h1.5v1.5h-1.5zM360.9 511.5h1.5v1.5h-1.5zM360.9 518.8h1.5v1.5h-1.5zM361.1 518.9h1.5v1.5h-1.5zM361.1 519.1h1.5v1.5h-1.5zM361.1 512.7h1.5v1.5h-1.5zM361.1 515.3h1.5v1.5h-1.5zM361.2 518.6h1.5v1.5h-1.5zM361.2 513.2h1.5v1.5h-1.5zM361.2 516.6h1.5v1.5h-1.5zM361.2 520.2h1.5v1.5h-1.5zM361.6 517.9h1.5v1.5h-1.5zM361.6 514.9h1.5v1.5h-1.5zM361.6 516.4h1.5v1.5h-1.5zM361.6 515.0h1.5v1.5h-1.5zM361.6 512.7h1.5v1.5h-1.5zM361.6 519.7h1.5v1.5h-1.5zM361.6 515.6h1.5v1.5h-1.5zM361.6 518.7h1.5v1.5h-1.5zM362.0 533.7h1.5v1.5h-1.5zM362.0 519.5h1.5v1.5h-1.5zM362.0 515.1h1.5v1.5h-1.5zM362.0 515.7h1.5v1.5h-1.5zM362.3 516.4h1.5v1.5h-1.5zM362.3 517.7h1.5v1.5h-1.5zM362.3 512.9h1.5v1.5h-1.5zM362.3 515.6h1.5v1.5h-1.5zM362.5 518.2h1.5v1.5h-1.5zM362.5 515.0h1.5v1.5h-1.5zM362.5 511.9h1.5v1.5h-1.5zM362.5 522.1h1.5v1.5h-1.5zM362.7 516.9h1.5v1.5h-1.5zM362.7 517.7h1.5v1.5h-1.5zM362.7 514.7h1.5v1.5h-1.5zM362.7 514.4h1.5v1.5h-1.5zM362.8 518.0h1.5v1.5h-1.5zM362.8 515.9h1.5v1.5h-1.5zM362.8 515.4h1.5v1.5h-1.5zM362.8 512.9h1.5v1.5h-1.5zM362.9 512.6h1.5v1.5h-1.5zM362.9 517.3h1.5v1.5h-1.5zM362.9 514.8h1.5v1.5h-1.5zM362.9 515.5h1.5v1.5h-1.5zM363.2 516.4h1.5v1.5h-1.5zM363.2 519.2h1.5v1.5h-1.5zM363.2 515.5h1.5v1.5h-1.5zM363.2 514.4h1.5v1.5h-1.5zM363.4 516.1h1.5v1.5h-1.5zM363.4 514.8h1.5v1.5h-1.5zM363.4 517.7h1.5v1.5h-1.5zM363.4 514.8h1.5v1.5h-1.5zM363.8 519.9h1.5v1.5h-1.5zM363.8 516.9h1.5v1.5h-1.5zM363.8 523.3h1.5v1.5h-1.5zM363.8 515.2h1.5v1.5h-1.5zM363.9 513.4h1.5v1.5h-1.5zM363.9 516.8h1.5v1.5h-1.5zM363.9 514.4h1.5v1.5h-1.5zM363.9 516.1h1.5v1.5h-1.5zM364.2 515.7h1.5v1.5h-1.5zM364.2 513.9h1.5v1.5h-1.5zM364.2 516.0h1.5v1.5h-1.5zM364.2 516.9h1.5v1.5h-1.5zM364.5 514.9h1.5v1.5h-1.5zM364.5 515.0h1.5v1.5h-1.5zM364.5 520.6h1.5v1.5h-1.5zM364.5 517.0h1.5v1.5h-1.5zM364.5 515.9h1.5v1.5h-1.5zM364.5 515.8h1.5v1.5h-1.5zM364.5 515.8h1.5v1.5h-1.5zM364.5 512.1h1.5v1.5h-1.5zM364.7 517.1h1.5v1.5h-1.5zM364.7 512.6h1.5v1.5h-1.5zM364.7 512.6h1.5v1.5h-1.5zM364.7 517.1h1.5v1.5h-1.5zM365.1 519.9h1.5v1.5h-1.5zM365.1 512.5h1.5v1.5h-1.5zM365.1 516.5h1.5v1.5h-1.5zM365.1 516.5h1.5v1.5h-1.5zM365.4 518.3h1.5v1.5h-1.5zM365.4 512.5h1.5v1.5h-1.5zM365.4 513.5h1.5v1.5h-1.5zM365.4 517.6h1.5v1.5h-1.5zM365.4 519.2h1.5v1.5h-1.5zM365.4 517.9h1.5v1.5h-1.5zM365.4 511.9h1.5v1.5h-1.5zM365.4 516.6h1.5v1.5h-1.5zM365.8 516.6h1.5v1.5h-1.5zM365.8 516.8h1.5v1.5h-1.5zM365.8 512.6h1.5v1.5h-1.5zM365.8 513.7h1.5v1.5h-1.5zM366.0 514.5h1.5v1.5h-1.5zM366.0 513.3h1.5v1.5h-1.5zM366.0 513.1h1.5v1.5h-1.5zM366.0 512.8h1.5v1.5h-1.5zM366.1 516.6h1.5v1.5h-1.5zM366.1 515.4h1.5v1.5h-1.5zM366.1 515.8h1.5v1.5h-1.5zM366.1 514.8h1.5v1.5h-1.5zM366.2 512.8h1.5v1.5h-1.5zM366.2 515.9h1.5v1.5h-1.5zM366.2 514.6h1.5v1.5h-1.5zM366.2 518.3h1.5v1.5h-1.5zM366.4 514.0h1.5v1.5h-1.5zM366.4 512.4h1.5v1.5h-1.5zM366.4 513.2h1.5v1.5h-1.5zM366.4 513.4h1.5v1.5h-1.5zM366.7 517.1h1.5v1.5h-1.5zM366.7 512.6h1.5v1.5h-1.5zM366.7 515.1h1.5v1.5h-1.5zM366.7 518.4h1.5v1.5h-1.5zM367.1 515.5h1.5v1.5h-1.5zM367.1 515.3h1.5v1.5h-1.5zM367.1 515.6h1.5v1.5h-1.5zM367.1 511.0h1.5v1.5h-1.5zM367.2 514.1h1.5v1.5h-1.5zM367.2 520.3h1.5v1.5h-1.5zM367.2 533.9h1.5v1.5h-1.5zM367.2 517.6h1.5v1.5h-1.5zM367.4 511.8h1.5v1.5h-1.5zM367.4 515.4h1.5v1.5h-1.5zM367.4 515.3h1.5v1.5h-1.5zM367.4 513.6h1.5v1.5h-1.5zM367.7 512.2h1.5v1.5h-1.5zM367.7 515.8h1.5v1.5h-1.5zM367.7 515.9h1.5v1.5h-1.5zM367.7 514.2h1.5v1.5h-1.5zM367.7 518.3h1.5v1.5h-1.5zM367.7 516.6h1.5v1.5h-1.5zM367.7 518.6h1.5v1.5h-1.5zM367.7 516.5h1.5v1.5h-1.5zM368.2 512.5h1.5v1.5h-1.5zM368.2 515.3h1.5v1.5h-1.5zM368.2 516.3h1.5v1.5h-1.5zM368.2 515.6h1.5v1.5h-1.5zM368.3 516.5h1.5v1.5h-1.5zM368.3 516.4h1.5v1.5h-1.5zM368.3 518.0h1.5v1.5h-1.5zM368.3 513.2h1.5v1.5h-1.5zM368.4 525.4h1.5v1.5h-1.5zM368.4 519.1h1.5v1.5h-1.5zM368.4 516.4h1.5v1.5h-1.5zM368.4 532.3h1.5v1.5h-1.5zM368.8 513.7h1.5v1.5h-1.5zM368.8 514.1h1.5v1.5h-1.5zM368.8 525.2h1.5v1.5h-1.5zM368.8 514.6h1.5v1.5h-1.5zM369.0 515.5h1.5v1.5h-1.5zM369.0 517.5h1.5v1.5h-1.5zM369.0 510.7h1.5v1.5h-1.5zM369.0 520.0h1.5v1.5h-1.5zM369.1 515.8h1.5v1.5h-1.5zM369.1 517.3h1.5v1.5h-1.5zM369.1 517.0h1.5v1.5h-1.5zM369.1 524.8h1.5v1.5h-1.5zM369.4 520.8h1.5v1.5h-1.5zM369.4 511.5h1.5v1.5h-1.5zM369.4 513.9h1.5v1.5h-1.5zM369.4 515.6h1.5v1.5h-1.5zM369.5 518.5h1.5v1.5h-1.5zM369.5 514.2h1.5v1.5h-1.5zM369.5 516.4h1.5v1.5h-1.5zM369.5 524.9h1.5v1.5h-1.5zM370.0 515.3h1.5v1.5h-1.5zM370.0 530.0h1.5v1.5h-1.5zM370.0 515.5h1.5v1.5h-1.5zM370.0 514.1h1.5v1.5h-1.5zM370.0 515.7h1.5v1.5h-1.5zM370.0 515.2h1.5v1.5h-1.5zM370.0 514.0h1.5v1.5h-1.5zM370.0 519.9h1.5v1.5h-1.5zM370.4 516.3h1.5v1.5h-1.5zM370.4 512.8h1.5v1.5h-1.5zM370.4 515.1h1.5v1.5h-1.5zM370.4 514.8h1.5v1.5h-1.5zM370.5 513.4h1.5v1.5h-1.5zM370.5 518.1h1.5v1.5h-1.5zM370.5 515.4h1.5v1.5h-1.5zM370.5 511.7h1.5v1.5h-1.5zM370.8 515.3h1.5v1.5h-1.5zM370.8 520.3h1.5v1.5h-1.5zM370.8 516.8h1.5v1.5h-1.5zM370.8 513.5h1.5v1.5h-1.5zM371.0 517.2h1.5v1.5h-1.5zM371.0 515.8h1.5v1.5h-1.5zM371.0 512.7h1.5v1.5h-1.5zM371.0 515.3h1.5v1.5h-1.5zM371.2 516.0h1.5v1.5h-1.5zM371.2 515.9h1.5v1.5h-1.5zM371.2 512.5h1.5v1.5h-1.5zM371.2 515.4h1.5v1.5h-1.5zM371.5 512.5h1.5v1.5h-1.5zM371.5 516.6h1.5v1.5h-1.5zM371.5 514.0h1.5v1.5h-1.5zM371.5 515.7h1.5v1.5h-1.5zM371.6 517.6h1.5v1.5h-1.5zM371.6 512.3h1.5v1.5h-1.5zM371.6 515.4h1.5v1.5h-1.5zM371.6 515.8h1.5v1.5h-1.5zM371.7 516.2h1.5v1.5h-1.5zM371.7 515.6h1.5v1.5h-1.5zM371.7 513.9h1.5v1.5h-1.5zM371.7 513.4h1.5v1.5h-1.5zM372.2 517.2h1.5v1.5h-1.5zM372.2 514.9h1.5v1.5h-1.5zM372.2 517.9h1.5v1.5h-1.5zM372.2 515.9h1.5v1.5h-1.5zM372.2 519.3h1.5v1.5h-1.5zM372.2 510.2h1.5v1.5h-1.5zM372.2 516.3h1.5v1.5h-1.5zM372.2 515.3h1.5v1.5h-1.5zM372.5 516.1h1.5v1.5h-1.5zM372.5 512.6h1.5v1.5h-1.5zM372.5 514.9h1.5v1.5h-1.5zM372.5 523.2h1.5v1.5h-1.5zM372.7 513.1h1.5v1.5h-1.5zM372.7 516.2h1.5v1.5h-1.5zM372.7 515.2h1.5v1.5h-1.5zM372.7 524.1h1.5v1.5h-1.5zM373.0 515.2h1.5v1.5h-1.5zM373.0 516.7h1.5v1.5h-1.5zM373.0 524.7h1.5v1.5h-1.5zM373.0 514.2h1.5v1.5h-1.5zM373.1 517.0h1.5v1.5h-1.5zM373.1 511.8h1.5v1.5h-1.5zM373.1 513.3h1.5v1.5h-1.5zM373.1 514.7h1.5v1.5h-1.5zM373.3 514.0h1.5v1.5h-1.5zM373.3 516.1h1.5v1.5h-1.5zM373.3 516.1h1.5v1.5h-1.5zM373.3 516.3h1.5v1.5h-1.5zM373.6 513.2h1.5v1.5h-1.5zM373.6 515.1h1.5v1.5h-1.5zM373.6 512.8h1.5v1.5h-1.5zM373.6 513.8h1.5v1.5h-1.5zM373.8 515.8h1.5v1.5h-1.5zM373.8 514.1h1.5v1.5h-1.5zM373.8 513.5h1.5v1.5h-1.5zM373.8 512.7h1.5v1.5h-1.5zM374.0 514.7h1.5v1.5h-1.5zM374.0 517.8h1.5v1.5h-1.5zM374.0 512.3h1.5v1.5h-1.5zM374.0 514.2h1.5v1.5h-1.5zM374.3 514.0h1.5v1.5h-1.5zM374.3 515.4h1.5v1.5h-1.5zM374.3 512.4h1.5v1.5h-1.5zM374.3 515.4h1.5v1.5h-1.5zM374.5 523.4h1.5v1.5h-1.5zM374.5 512.6h1.5v1.5h-1.5zM374.5 516.2h1.5v1.5h-1.5zM374.5 513.5h1.5v1.5h-1.5zM374.6 514.4h1.5v1.5h-1.5zM374.6 517.1h1.5v1.5h-1.5zM374.6 514.1h1.5v1.5h-1.5zM374.6 514.3h1.5v1.5h-1.5zM375.0 512.4h1.5v1.5h-1.5zM375.0 513.7h1.5v1.5h-1.5zM375.0 514.8h1.5v1.5h-1.5zM375.0 529.0h1.5v1.5h-1.5zM375.0 516.3h1.5v1.5h-1.5zM375.0 513.4h1.5v1.5h-1.5zM375.0 517.8h1.5v1.5h-1.5zM375.0 515.8h1.5v1.5h-1.5zM375.3 518.4h1.5v1.5h-1.5zM375.3 516.2h1.5v1.5h-1.5zM375.3 513.7h1.5v1.5h-1.5zM375.3 516.4h1.5v1.5h-1.5zM375.7 516.0h1.5v1.5h-1.5zM375.7 513.5h1.5v1.5h-1.5zM375.7 515.2h1.5v1.5h-1.5zM375.7 515.5h1.5v1.5h-1.5zM375.9 509.8h1.5v1.5h-1.5zM375.9 517.4h1.5v1.5h-1.5zM375.9 513.1h1.5v1.5h-1.5zM375.9 517.0h1.5v1.5h-1.5zM376.1 512.8h1.5v1.5h-1.5zM376.1 512.1h1.5v1.5h-1.5zM376.1 515.1h1.5v1.5h-1.5zM376.1 515.8h1.5v1.5h-1.5zM376.2 513.8h1.5v1.5h-1.5zM376.2 515.5h1.5v1.5h-1.5zM376.2 514.5h1.5v1.5h-1.5zM376.2 513.2h1.5v1.5h-1.5zM376.4 510.7h1.5v1.5h-1.5zM376.4 519.1h1.5v1.5h-1.5zM376.4 513.2h1.5v1.5h-1.5zM376.4 518.2h1.5v1.5h-1.5zM376.8 514.2h1.5v1.5h-1.5zM376.8 529.1h1.5v1.5h-1.5zM376.8 519.2h1.5v1.5h-1.5zM376.8 514.5h1.5v1.5h-1.5zM376.8 512.8h1.5v1.5h-1.5zM376.8 517.7h1.5v1.5h-1.5zM376.8 511.5h1.5v1.5h-1.5zM376.8 512.0h1.5v1.5h-1.5zM377.0 513.3h1.5v1.5h-1.5zM377.0 517.0h1.5v1.5h-1.5zM377.0 518.2h1.5v1.5h-1.5zM377.0 525.4h1.5v1.5h-1.5zM377.5 513.5h1.5v1.5h-1.5zM377.5 515.3h1.5v1.5h-1.5zM377.5 515.8h1.5v1.5h-1.5zM377.5 518.2h1.5v1.5h-1.5zM377.6 515.0h1.5v1.5h-1.5zM377.6 509.2h1.5v1.5h-1.5zM377.6 518.9h1.5v1.5h-1.5zM377.6 514.7h1.5v1.5h-1.5zM377.7 515.8h1.5v1.5h-1.5zM377.7 512.3h1.5v1.5h-1.5zM377.7 513.2h1.5v1.5h-1.5zM377.7 516.5h1.5v1.5h-1.5zM378.0 517.6h1.5v1.5h-1.5zM378.0 511.7h1.5v1.5h-1.5zM378.0 514.1h1.5v1.5h-1.5zM378.0 512.8h1.5v1.5h-1.5zM378.2 514.6h1.5v1.5h-1.5zM378.2 515.2h1.5v1.5h-1.5zM378.2 514.6h1.5v1.5h-1.5zM378.2 517.2h1.5v1.5h-1.5zM378.6 514.9h1.5v1.5h-1.5zM378.6 515.2h1.5v1.5h-1.5zM378.6 515.8h1.5v1.5h-1.5zM378.6 513.1h1.5v1.5h-1.5zM378.7 518.9h1.5v1.5h-1.5zM378.7 527.9h1.5v1.5h-1.5zM378.7 516.5h1.5v1.5h-1.5zM378.7 514.8h1.5v1.5h-1.5zM378.9 528.4h1.5v1.5h-1.5zM378.9 513.8h1.5v1.5h-1.5zM378.9 518.1h1.5v1.5h-1.5zM378.9 515.1h1.5v1.5h-1.5zM379.1 517.1h1.5v1.5h-1.5zM379.1 512.0h1.5v1.5h-1.5zM379.1 523.5h1.5v1.5h-1.5zM379.1 515.8h1.5v1.5h-1.5zM379.3 510.4h1.5v1.5h-1.5zM379.3 513.2h1.5v1.5h-1.5zM379.3 513.6h1.5v1.5h-1.5zM379.3 515.9h1.5v1.5h-1.5zM379.4 511.7h1.5v1.5h-1.5zM379.4 513.9h1.5v1.5h-1.5zM379.4 519.8h1.5v1.5h-1.5zM379.4 516.5h1.5v1.5h-1.5zM379.9 515.3h1.5v1.5h-1.5zM379.9 510.2h1.5v1.5h-1.5zM379.9 511.6h1.5v1.5h-1.5zM379.9 526.2h1.5v1.5h-1.5zM379.9 515.1h1.5v1.5h-1.5zM379.9 517.3h1.5v1.5h-1.5zM379.9 516.5h1.5v1.5h-1.5zM379.9 513.5h1.5v1.5h-1.5zM380.3 512.8h1.5v1.5h-1.5zM380.3 517.5h1.5v1.5h-1.5zM380.3 514.5h1.5v1.5h-1.5zM380.3 512.0h1.5v1.5h-1.5zM380.5 516.7h1.5v1.5h-1.5zM380.5 514.2h1.5v1.5h-1.5zM380.5 512.4h1.5v1.5h-1.5zM380.5 517.8h1.5v1.5h-1.5zM380.5 514.1h1.5v1.5h-1.5zM380.5 516.7h1.5v1.5h-1.5zM380.5 514.2h1.5v1.5h-1.5zM380.5 516.7h1.5v1.5h-1.5zM380.7 510.8h1.5v1.5h-1.5zM380.7 516.1h1.5v1.5h-1.5zM380.7 517.0h1.5v1.5h-1.5zM380.7 513.6h1.5v1.5h-1.5zM381.1 515.0h1.5v1.5h-1.5zM381.1 514.3h1.5v1.5h-1.5zM381.1 515.6h1.5v1.5h-1.5zM381.1 517.8h1.5v1.5h-1.5zM381.5 511.0h1.5v1.5h-1.5zM381.5 514.5h1.5v1.5h-1.5zM381.5 517.0h1.5v1.5h-1.5zM381.5 517.0h1.5v1.5h-1.5zM381.6 518.6h1.5v1.5h-1.5zM381.6 512.7h1.5v1.5h-1.5zM381.6 512.8h1.5v1.5h-1.5zM381.6 517.8h1.5v1.5h-1.5zM381.8 513.4h1.5v1.5h-1.5zM381.8 513.2h1.5v1.5h-1.5zM381.8 515.0h1.5v1.5h-1.5zM381.8 514.1h1.5v1.5h-1.5zM381.9 516.0h1.5v1.5h-1.5zM381.9 512.6h1.5v1.5h-1.5zM381.9 521.5h1.5v1.5h-1.5zM381.9 511.3h1.5v1.5h-1.5zM382.2 515.3h1.5v1.5h-1.5zM382.2 517.3h1.5v1.5h-1.5zM382.2 510.1h1.5v1.5h-1.5zM382.2 507.7h1.5v1.5h-1.5zM382.4 516.8h1.5v1.5h-1.5zM382.4 513.3h1.5v1.5h-1.5zM382.4 516.9h1.5v1.5h-1.5zM382.4 513.0h1.5v1.5h-1.5zM382.5 514.2h1.5v1.5h-1.5zM382.5 513.7h1.5v1.5h-1.5zM382.5 516.5h1.5v1.5h-1.5zM382.5 520.3h1.5v1.5h-1.5zM382.8 517.4h1.5v1.5h-1.5zM382.8 514.6h1.5v1.5h-1.5zM382.8 513.5h1.5v1.5h-1.5zM382.8 515.2h1.5v1.5h-1.5zM383.2 519.7h1.5v1.5h-1.5zM383.2 513.7h1.5v1.5h-1.5zM383.2 510.6h1.5v1.5h-1.5zM383.2 513.4h1.5v1.5h-1.5zM383.3 513.8h1.5v1.5h-1.5zM383.3 513.6h1.5v1.5h-1.5zM383.3 514.2h1.5v1.5h-1.5zM383.3 518.6h1.5v1.5h-1.5zM383.6 513.8h1.5v1.5h-1.5zM383.6 514.4h1.5v1.5h-1.5zM383.6 513.3h1.5v1.5h-1.5zM383.6 509.6h1.5v1.5h-1.5zM383.9 516.5h1.5v1.5h-1.5zM383.9 529.9h1.5v1.5h-1.5zM383.9 539.7h1.5v1.5h-1.5zM383.9 512.2h1.5v1.5h-1.5zM383.9 515.1h1.5v1.5h-1.5zM383.9 520.3h1.5v1.5h-1.5zM383.9 515.2h1.5v1.5h-1.5zM383.9 515.4h1.5v1.5h-1.5zM384.0 512.7h1.5v1.5h-1.5zM384.0 515.5h1.5v1.5h-1.5zM384.0 516.8h1.5v1.5h-1.5zM384.0 516.2h1.5v1.5h-1.5zM384.3 512.5h1.5v1.5h-1.5zM384.3 517.1h1.5v1.5h-1.5zM384.3 513.7h1.5v1.5h-1.5zM384.3 515.0h1.5v1.5h-1.5zM384.7 519.7h1.5v1.5h-1.5zM384.7 518.2h1.5v1.5h-1.5zM384.7 515.4h1.5v1.5h-1.5zM384.7 516.6h1.5v1.5h-1.5zM384.9 514.0h1.5v1.5h-1.5zM384.9 509.5h1.5v1.5h-1.5zM384.9 518.3h1.5v1.5h-1.5zM384.9 516.2h1.5v1.5h-1.5zM385.0 516.9h1.5v1.5h-1.5zM385.0 515.4h1.5v1.5h-1.5zM385.0 512.5h1.5v1.5h-1.5zM385.0 515.8h1.5v1.5h-1.5zM385.4 516.2h1.5v1.5h-1.5zM385.4 518.6h1.5v1.5h-1.5zM385.4 512.8h1.5v1.5h-1.5zM385.4 514.0h1.5v1.5h-1.5zM385.4 523.4h1.5v1.5h-1.5zM385.4 510.3h1.5v1.5h-1.5zM385.4 514.6h1.5v1.5h-1.5zM385.4 512.1h1.5v1.5h-1.5zM385.8 513.5h1.5v1.5h-1.5zM385.8 511.6h1.5v1.5h-1.5zM385.8 513.8h1.5v1.5h-1.5zM385.8 513.9h1.5v1.5h-1.5zM386.1 515.5h1.5v1.5h-1.5zM386.1 514.0h1.5v1.5h-1.5zM386.1 511.4h1.5v1.5h-1.5zM386.1 513.6h1.5v1.5h-1.5zM386.1 514.8h1.5v1.5h-1.5zM386.1 514.1h1.5v1.5h-1.5zM386.1 518.8h1.5v1.5h-1.5zM386.1 511.0h1.5v1.5h-1.5zM386.3 522.8h1.5v1.5h-1.5zM386.3 515.9h1.5v1.5h-1.5zM386.3 514.8h1.5v1.5h-1.5zM386.3 517.0h1.5v1.5h-1.5zM386.6 512.5h1.5v1.5h-1.5zM386.6 513.6h1.5v1.5h-1.5zM386.6 512.7h1.5v1.5h-1.5zM386.6 511.0h1.5v1.5h-1.5zM386.9 515.8h1.5v1.5h-1.5zM386.9 511.1h1.5v1.5h-1.5zM386.9 513.2h1.5v1.5h-1.5zM386.9 514.4h1.5v1.5h-1.5zM387.2 516.2h1.5v1.5h-1.5zM387.2 516.6h1.5v1.5h-1.5zM387.2 512.7h1.5v1.5h-1.5zM387.2 515.2h1.5v1.5h-1.5zM387.3 516.2h1.5v1.5h-1.5zM387.3 515.8h1.5v1.5h-1.5zM387.3 512.7h1.5v1.5h-1.5zM387.3 510.4h1.5v1.5h-1.5zM387.3 512.4h1.5v1.5h-1.5zM387.3 515.7h1.5v1.5h-1.5zM387.3 511.6h1.5v1.5h-1.5zM387.3 516.7h1.5v1.5h-1.5zM387.7 512.3h1.5v1.5h-1.5zM387.7 515.8h1.5v1.5h-1.5zM387.7 515.7h1.5v1.5h-1.5zM387.7 514.0h1.5v1.5h-1.5zM387.9 516.7h1.5v1.5h-1.5zM387.9 516.3h1.5v1.5h-1.5zM387.9 518.4h1.5v1.5h-1.5zM387.9 512.5h1.5v1.5h-1.5zM388.2 511.8h1.5v1.5h-1.5zM388.2 513.0h1.5v1.5h-1.5zM388.2 513.4h1.5v1.5h-1.5zM388.2 515.4h1.5v1.5h-1.5zM388.4 511.3h1.5v1.5h-1.5zM388.4 514.9h1.5v1.5h-1.5zM388.4 516.1h1.5v1.5h-1.5zM388.4 514.9h1.5v1.5h-1.5zM388.7 510.9h1.5v1.5h-1.5zM388.7 513.8h1.5v1.5h-1.5zM388.7 512.3h1.5v1.5h-1.5zM388.7 513.6h1.5v1.5h-1.5zM388.7 516.1h1.5v1.5h-1.5zM388.7 513.4h1.5v1.5h-1.5zM388.7 514.9h1.5v1.5h-1.5zM388.7 515.2h1.5v1.5h-1.5zM389.0 515.7h1.5v1.5h-1.5zM389.0 517.0h1.5v1.5h-1.5zM389.0 513.8h1.5v1.5h-1.5zM389.0 510.8h1.5v1.5h-1.5zM389.2 514.1h1.5v1.5h-1.5zM389.2 514.8h1.5v1.5h-1.5zM389.2 516.3h1.5v1.5h-1.5zM389.2 517.3h1.5v1.5h-1.5zM389.5 512.8h1.5v1.5h-1.5zM389.5 512.6h1.5v1.5h-1.5zM389.5 513.9h1.5v1.5h-1.5zM389.5 513.7h1.5v1.5h-1.5zM389.7 514.9h1.5v1.5h-1.5zM389.7 513.3h1.5v1.5h-1.5zM389.7 510.1h1.5v1.5h-1.5zM389.7 514.2h1.5v1.5h-1.5zM390.0 513.7h1.5v1.5h-1.5zM390.0 515.3h1.5v1.5h-1.5zM390.0 511.9h1.5v1.5h-1.5zM390.0 513.1h1.5v1.5h-1.5zM390.0 515.7h1.5v1.5h-1.5zM390.0 516.7h1.5v1.5h-1.5zM390.0 517.1h1.5v1.5h-1.5zM390.0 515.1h1.5v1.5h-1.5zM390.4 518.3h1.5v1.5h-1.5zM390.4 514.9h1.5v1.5h-1.5zM390.4 512.8h1.5v1.5h-1.5zM390.4 511.6h1.5v1.5h-1.5zM390.5 515.6h1.5v1.5h-1.5zM390.5 513.8h1.5v1.5h-1.5zM390.5 514.3h1.5v1.5h-1.5zM390.5 512.7h1.5v1.5h-1.5zM390.7 516.1h1.5v1.5h-1.5zM390.7 515.8h1.5v1.5h-1.5zM390.7 515.8h1.5v1.5h-1.5zM390.7 517.8h1.5v1.5h-1.5zM391.0 517.4h1.5v1.5h-1.5zM391.0 520.8h1.5v1.5h-1.5zM391.0 516.0h1.5v1.5h-1.5zM391.0 514.0h1.5v1.5h-1.5zM391.3 510.9h1.5v1.5h-1.5zM391.3 515.3h1.5v1.5h-1.5zM391.3 515.9h1.5v1.5h-1.5zM391.3 513.0h1.5v1.5h-1.5zM391.4 515.7h1.5v1.5h-1.5zM391.4 512.6h1.5v1.5h-1.5zM391.4 516.9h1.5v1.5h-1.5zM391.4 514.9h1.5v1.5h-1.5zM391.6 509.0h1.5v1.5h-1.5zM391.6 512.3h1.5v1.5h-1.5zM391.6 516.2h1.5v1.5h-1.5zM391.6 511.0h1.5v1.5h-1.5zM392.0 516.9h1.5v1.5h-1.5zM392.0 517.1h1.5v1.5h-1.5zM392.0 515.0h1.5v1.5h-1.5zM392.0 517.6h1.5v1.5h-1.5zM392.0 509.1h1.5v1.5h-1.5zM392.0 514.4h1.5v1.5h-1.5zM392.0 518.0h1.5v1.5h-1.5zM392.0 511.2h1.5v1.5h-1.5zM392.2 515.0h1.5v1.5h-1.5zM392.2 515.5h1.5v1.5h-1.5zM392.2 516.2h1.5v1.5h-1.5zM392.2 513.3h1.5v1.5h-1.5zM392.7 524.0h1.5v1.5h-1.5zM392.7 512.9h1.5v1.5h-1.5zM392.7 515.0h1.5v1.5h-1.5zM392.7 517.0h1.5v1.5h-1.5zM392.8 512.1h1.5v1.5h-1.5zM392.8 513.9h1.5v1.5h-1.5zM392.8 513.5h1.5v1.5h-1.5zM392.8 514.9h1.5v1.5h-1.5zM392.9 518.0h1.5v1.5h-1.5zM392.9 512.4h1.5v1.5h-1.5zM392.9 513.3h1.5v1.5h-1.5zM392.9 515.1h1.5v1.5h-1.5zM393.3 511.4h1.5v1.5h-1.5zM393.3 514.9h1.5v1.5h-1.5zM393.3 517.6h1.5v1.5h-1.5zM393.3 514.6h1.5v1.5h-1.5zM393.3 514.7h1.5v1.5h-1.5zM393.3 510.4h1.5v1.5h-1.5zM393.3 514.9h1.5v1.5h-1.5zM393.3 515.4h1.5v1.5h-1.5zM393.5 513.0h1.5v1.5h-1.5zM393.5 514.4h1.5v1.5h-1.5zM393.5 513.7h1.5v1.5h-1.5zM393.5 517.2h1.5v1.5h-1.5zM393.9 511.8h1.5v1.5h-1.5zM393.9 513.4h1.5v1.5h-1.5zM393.9 523.1h1.5v1.5h-1.5zM393.9 513.5h1.5v1.5h-1.5zM394.0 513.8h1.5v1.5h-1.5zM394.0 515.3h1.5v1.5h-1.5zM394.0 508.5h1.5v1.5h-1.5zM394.0 518.7h1.5v1.5h-1.5zM394.4 516.7h1.5v1.5h-1.5zM394.4 515.3h1.5v1.5h-1.5zM394.4 514.6h1.5v1.5h-1.5zM394.4 514.0h1.5v1.5h-1.5zM394.6 511.6h1.5v1.5h-1.5zM394.6 517.7h1.5v1.5h-1.5zM394.6 510.1h1.5v1.5h-1.5zM394.6 531.9h1.5v1.5h-1.5zM394.7 514.5h1.5v1.5h-1.5zM394.7 514.3h1.5v1.5h-1.5zM394.7 516.1h1.5v1.5h-1.5zM394.7 515.5h1.5v1.5h-1.5zM395.1 511.2h1.5v1.5h-1.5zM395.1 517.1h1.5v1.5h-1.5zM395.1 510.3h1.5v1.5h-1.5zM395.1 519.0h1.5v1.5h-1.5zM395.2 515.0h1.5v1.5h-1.5zM395.2 514.6h1.5v1.5h-1.5zM395.2 511.2h1.5v1.5h-1.5zM395.2 516.4h1.5v1.5h-1.5zM395.5 511.7h1.5v1.5h-1.5zM395.5 513.2h1.5v1.5h-1.5zM395.5 510.3h1.5v1.5h-1.5zM395.5 518.5h1.5v1.5h-1.5zM395.7 516.5h1.5v1.5h-1.5zM395.7 509.7h1.5v1.5h-1.5zM395.7 517.0h1.5v1.5h-1.5zM395.7 533.1h1.5v1.5h-1.5zM395.9 514.9h1.5v1.5h-1.5zM395.9 515.3h1.5v1.5h-1.5zM395.9 512.3h1.5v1.5h-1.5zM395.9 515.3h1.5v1.5h-1.5zM396.0 512.9h1.5v1.5h-1.5zM396.0 514.2h1.5v1.5h-1.5zM396.0 513.0h1.5v1.5h-1.5zM396.0 514.8h1.5v1.5h-1.5zM396.2 513.4h1.5v1.5h-1.5zM396.2 513.2h1.5v1.5h-1.5zM396.2 510.0h1.5v1.5h-1.5zM396.2 514.5h1.5v1.5h-1.5zM396.6 510.8h1.5v1.5h-1.5zM396.6 512.4h1.5v1.5h-1.5zM396.6 516.2h1.5v1.5h-1.5zM396.6 513.4h1.5v1.5h-1.5zM396.9 511.1h1.5v1.5h-1.5zM396.9 519.4h1.5v1.5h-1.5zM396.9 517.6h1.5v1.5h-1.5zM396.9 511.8h1.5v1.5h-1.5zM396.9 515.7h1.5v1.5h-1.5zM396.9 516.5h1.5v1.5h-1.5zM396.9 509.2h1.5v1.5h-1.5zM396.9 511.3h1.5v1.5h-1.5zM397.1 515.5h1.5v1.5h-1.5zM397.1 516.9h1.5v1.5h-1.5zM397.1 517.6h1.5v1.5h-1.5zM397.1 514.3h1.5v1.5h-1.5zM397.4 515.4h1.5v1.5h-1.5zM397.4 515.5h1.5v1.5h-1.5zM397.4 514.9h1.5v1.5h-1.5zM397.4 517.6h1.5v1.5h-1.5zM397.5 514.9h1.5v1.5h-1.5zM397.5 512.4h1.5v1.5h-1.5zM397.5 512.4h1.5v1.5h-1.5zM397.5 518.0h1.5v1.5h-1.5zM397.8 517.2h1.5v1.5h-1.5zM397.8 511.0h1.5v1.5h-1.5zM397.8 517.4h1.5v1.5h-1.5zM397.8 515.4h1.5v1.5h-1.5zM397.9 512.3h1.5v1.5h-1.5zM397.9 511.0h1.5v1.5h-1.5zM397.9 511.1h1.5v1.5h-1.5zM397.9 510.9h1.5v1.5h-1.5zM398.2 513.1h1.5v1.5h-1.5zM398.2 514.6h1.5v1.5h-1.5zM398.2 512.8h1.5v1.5h-1.5zM398.2 513.9h1.5v1.5h-1.5zM398.4 514.3h1.5v1.5h-1.5zM398.4 514.6h1.5v1.5h-1.5zM398.4 515.2h1.5v1.5h-1.5zM398.4 512.4h1.5v1.5h-1.5zM398.7 513.0h1.5v1.5h-1.5zM398.7 511.3h1.5v1.5h-1.5zM398.7 512.7h1.5v1.5h-1.5zM398.7 515.6h1.5v1.5h-1.5zM398.8 515.9h1.5v1.5h-1.5zM398.8 512.9h1.5v1.5h-1.5zM398.8 515.9h1.5v1.5h-1.5zM398.8 522.8h1.5v1.5h-1.5zM399.0 516.6h1.5v1.5h-1.5zM399.0 513.3h1.5v1.5h-1.5zM399.0 516.6h1.5v1.5h-1.5zM399.0 513.3h1.5v1.5h-1.5zM399.2 513.9h1.5v1.5h-1.5zM399.2 516.0h1.5v1.5h-1.5zM399.2 512.3h1.5v1.5h-1.5zM399.2 517.2h1.5v1.5h-1.5zM399.5 512.0h1.5v1.5h-1.5zM399.5 513.2h1.5v1.5h-1.5zM399.5 513.2h1.5v1.5h-1.5zM399.5 513.1h1.5v1.5h-1.5zM399.9 512.8h1.5v1.5h-1.5zM399.9 516.6h1.5v1.5h-1.5zM399.9 514.3h1.5v1.5h-1.5zM399.9 515.7h1.5v1.5h-1.5zM399.9 513.7h1.5v1.5h-1.5zM399.9 512.9h1.5v1.5h-1.5zM399.9 515.9h1.5v1.5h-1.5zM399.9 516.0h1.5v1.5h-1.5zM400.4 514.5h1.5v1.5h-1.5zM400.4 519.1h1.5v1.5h-1.5zM400.4 513.6h1.5v1.5h-1.5zM400.4 510.9h1.5v1.5h-1.5zM400.5 515.1h1.5v1.5h-1.5zM400.5 510.7h1.5v1.5h-1.5zM400.5 516.3h1.5v1.5h-1.5zM400.5 517.6h1.5v1.5h-1.5zM400.6 511.7h1.5v1.5h-1.5zM400.6 515.3h1.5v1.5h-1.5zM400.6 514.7h1.5v1.5h-1.5zM400.6 511.2h1.5v1.5h-1.5zM401.0 513.1h1.5v1.5h-1.5zM401.0 522.0h1.5v1.5h-1.5zM401.0 513.5h1.5v1.5h-1.5zM401.0 513.5h1.5v1.5h-1.5zM401.1 520.8h1.5v1.5h-1.5zM401.1 510.5h1.5v1.5h-1.5zM401.1 514.2h1.5v1.5h-1.5zM401.1 512.1h1.5v1.5h-1.5zM401.5 517.0h1.5v1.5h-1.5zM401.5 510.4h1.5v1.5h-1.5zM401.5 522.5h1.5v1.5h-1.5zM401.5 512.9h1.5v1.5h-1.5zM401.7 512.8h1.5v1.5h-1.5zM401.7 514.5h1.5v1.5h-1.5zM401.7 512.3h1.5v1.5h-1.5zM401.7 512.6h1.5v1.5h-1.5zM401.7 513.3h1.5v1.5h-1.5zM401.7 514.3h1.5v1.5h-1.5zM401.7 511.4h1.5v1.5h-1.5zM401.7 513.9h1.5v1.5h-1.5zM401.9 511.2h1.5v1.5h-1.5zM401.9 512.5h1.5v1.5h-1.5zM401.9 514.2h1.5v1.5h-1.5zM401.9 518.0h1.5v1.5h-1.5zM402.2 515.3h1.5v1.5h-1.5zM402.2 516.2h1.5v1.5h-1.5zM402.2 523.8h1.5v1.5h-1.5zM402.2 515.6h1.5v1.5h-1.5zM402.4 515.5h1.5v1.5h-1.5zM402.4 517.3h1.5v1.5h-1.5zM402.4 512.9h1.5v1.5h-1.5zM402.4 514.8h1.5v1.5h-1.5zM402.8 509.9h1.5v1.5h-1.5zM402.8 510.6h1.5v1.5h-1.5zM402.8 516.3h1.5v1.5h-1.5zM402.8 513.0h1.5v1.5h-1.5zM402.9 517.1h1.5v1.5h-1.5zM402.9 514.2h1.5v1.5h-1.5zM402.9 516.3h1.5v1.5h-1.5zM402.9 512.0h1.5v1.5h-1.5zM403.2 515.9h1.5v1.5h-1.5zM403.2 513.6h1.5v1.5h-1.5zM403.2 517.4h1.5v1.5h-1.5zM403.2 513.6h1.5v1.5h-1.5zM403.4 511.8h1.5v1.5h-1.5zM403.4 516.6h1.5v1.5h-1.5zM403.4 510.7h1.5v1.5h-1.5zM403.4 511.0h1.5v1.5h-1.5zM403.5 513.5h1.5v1.5h-1.5zM403.5 515.4h1.5v1.5h-1.5zM403.5 513.4h1.5v1.5h-1.5zM403.5 516.2h1.5v1.5h-1.5zM403.6 511.0h1.5v1.5h-1.5zM403.6 512.3h1.5v1.5h-1.5zM403.6 521.3h1.5v1.5h-1.5zM403.6 515.6h1.5v1.5h-1.5zM404.1 515.0h1.5v1.5h-1.5zM404.1 514.3h1.5v1.5h-1.5zM404.1 516.3h1.5v1.5h-1.5zM404.1 511.9h1.5v1.5h-1.5zM404.1 512.6h1.5v1.5h-1.5zM404.1 511.9h1.5v1.5h-1.5zM404.1 514.7h1.5v1.5h-1.5zM404.1 513.1h1.5v1.5h-1.5zM404.5 517.0h1.5v1.5h-1.5zM404.5 514.9h1.5v1.5h-1.5zM404.5 513.1h1.5v1.5h-1.5zM404.5 512.3h1.5v1.5h-1.5zM404.6 513.3h1.5v1.5h-1.5zM404.6 513.8h1.5v1.5h-1.5zM404.6 514.4h1.5v1.5h-1.5zM404.6 515.4h1.5v1.5h-1.5zM404.8 514.3h1.5v1.5h-1.5zM404.8 512.3h1.5v1.5h-1.5zM404.8 514.3h1.5v1.5h-1.5zM404.8 517.8h1.5v1.5h-1.5zM405.1 509.8h1.5v1.5h-1.5zM405.1 512.9h1.5v1.5h-1.5zM405.1 510.7h1.5v1.5h-1.5zM405.1 512.8h1.5v1.5h-1.5zM405.3 512.0h1.5v1.5h-1.5zM405.3 511.0h1.5v1.5h-1.5zM405.3 512.0h1.5v1.5h-1.5zM405.3 510.5h1.5v1.5h-1.5zM405.4 517.0h1.5v1.5h-1.5zM405.4 514.3h1.5v1.5h-1.5zM405.4 511.7h1.5v1.5h-1.5zM405.4 512.3h1.5v1.5h-1.5zM405.9 512.4h1.5v1.5h-1.5zM405.9 516.6h1.5v1.5h-1.5zM405.9 512.7h1.5v1.5h-1.5zM405.9 516.3h1.5v1.5h-1.5zM405.9 510.9h1.5v1.5h-1.5zM405.9 510.2h1.5v1.5h-1.5zM405.9 516.7h1.5v1.5h-1.5zM405.9 510.5h1.5v1.5h-1.5zM406.1 510.6h1.5v1.5h-1.5zM406.1 509.8h1.5v1.5h-1.5zM406.1 512.5h1.5v1.5h-1.5zM406.1 509.7h1.5v1.5h-1.5zM406.4 518.3h1.5v1.5h-1.5zM406.4 516.8h1.5v1.5h-1.5zM406.4 516.4h1.5v1.5h-1.5zM406.4 514.9h1.5v1.5h-1.5zM312.1 526.6h1.5v1.5h-1.5zM313.1 530.1h1.5v1.5h-1.5zM312.5 547.5h1.5v1.5h-1.5zM311.7 524.8h1.5v1.5h-1.5zM312.7 521.3h1.5v1.5h-1.5zM312.2 533.9h1.5v1.5h-1.5zM313.1 545.5h1.5v1.5h-1.5zM311.5 518.2h1.5v1.5h-1.5zM313.1 523.3h1.5v1.5h-1.5zM313.0 535.1h1.5v1.5h-1.5zM312.9 522.1h1.5v1.5h-1.5zM312.6 535.4h1.5v1.5h-1.5zM311.7 518.1h1.5v1.5h-1.5zM312.8 531.0h1.5v1.5h-1.5zM311.8 530.3h1.5v1.5h-1.5zM311.9 521.4h1.5v1.5h-1.5zM312.9 522.4h1.5v1.5h-1.5zM311.9 530.7h1.5v1.5h-1.5zM318.2 522.3h1.5v1.5h-1.5zM326.8 525.9h1.5v1.5h-1.5zM317.1 528.1h1.5v1.5h-1.5zM328.6 520.4h1.5v1.5h-1.5zM321.9 520.5h1.5v1.5h-1.5zM318.4 536.8h1.5v1.5h-1.5zM316.5 523.4h1.5v1.5h-1.5zM317.9 524.5h1.5v1.5h-1.5zM318.2 539.3h1.5v1.5h-1.5zM318.4 522.1h1.5v1.5h-1.5zM319.4 521.1h1.5v1.5h-1.5zM314.5 520.5h1.5v1.5h-1.5zM326.7 520.9h1.5v1.5h-1.5zM319.0 534.4h1.5v1.5h-1.5zM317.9 533.8h1.5v1.5h-1.5zM321.2 524.6h1.5v1.5h-1.5zM318.4 522.6h1.5v1.5h-1.5zM319.4 520.9h1.5v1.5h-1.5zM318.2 533.8h1.5v1.5h-1.5zM322.4 528.4h1.5v1.5h-1.5zM319.5 540.8h1.5v1.5h-1.5zM321.4 520.8h1.5v1.5h-1.5zM326.6 521.0h1.5v1.5h-1.5zM319.0 525.5h1.5v1.5h-1.5zM318.2 523.7h1.5v1.5h-1.5zM322.9 522.2h1.5v1.5h-1.5zM326.7 538.5h1.5v1.5h-1.5zM319.5 521.5h1.5v1.5h-1.5zM318.8 533.0h1.5v1.5h-1.5zM315.1 531.4h1.5v1.5h-1.5zM316.9 541.2h1.5v1.5h-1.5zM322.7 535.0h1.5v1.5h-1.5zM320.3 537.5h1.5v1.5h-1.5zM315.9 521.1h1.5v1.5h-1.5zM318.8 531.1h1.5v1.5h-1.5zM320.2 520.4h1.5v1.5h-1.5zM315.5 541.2h1.5v1.5h-1.5zM332.1 528.7h1.5v1.5h-1.5zM320.9 523.1h1.5v1.5h-1.5zM319.2 541.5h1.5v1.5h-1.5zM314.7 539.8h1.5v1.5h-1.5zM321.9 527.5h1.5v1.5h-1.5zM314.7 527.4h1.5v1.5h-1.5zM319.4 534.1h1.5v1.5h-1.5zM326.4 534.8h1.5v1.5h-1.5zM318.3 525.9h1.5v1.5h-1.5zM321.9 535.5h1.5v1.5h-1.5zM319.0 522.5h1.5v1.5h-1.5zM326.1 533.6h1.5v1.5h-1.5zM318.6 532.1h1.5v1.5h-1.5zM326.9 536.2h1.5v1.5h-1.5zM326.7 520.6h1.5v1.5h-1.5zM318.6 534.8h1.5v1.5h-1.5zM318.0 522.2h1.5v1.5h-1.5zM327.0 522.0h1.5v1.5h-1.5zM327.5 532.2h1.5v1.5h-1.5zM327.5 523.1h1.5v1.5h-1.5zM327.3 532.5h1.5v1.5h-1.5zM327.6 521.8h1.5v1.5h-1.5zM327.4 530.9h1.5v1.5h-1.5zM327.7 524.0h1.5v1.5h-1.5zM326.9 522.7h1.5v1.5h-1.5zM327.8 529.2h1.5v1.5h-1.5zM327.9 534.2h1.5v1.5h-1.5zM342.1 542.3h1.5v1.5h-1.5zM342.1 536.7h1.5v1.5h-1.5zM345.0 536.1h1.5v1.5h-1.5zM343.1 539.9h1.5v1.5h-1.5zM345.3 536.0h1.5v1.5h-1.5zM344.6 539.5h1.5v1.5h-1.5zM341.5 538.1h1.5v1.5h-1.5zM341.9 534.8h1.5v1.5h-1.5zM341.9 537.6h1.5v1.5h-1.5zM341.9 538.1h1.5v1.5h-1.5zM341.7 536.4h1.5v1.5h-1.5zM346.7 540.5h1.5v1.5h-1.5zM345.8 538.4h1.5v1.5h-1.5zM333.3 530.4h1.5v1.5h-1.5zM341.5 540.7h1.5v1.5h-1.5zM337.7 536.3h1.5v1.5h-1.5zM341.7 537.2h1.5v1.5h-1.5zM341.6 534.9h1.5v1.5h-1.5zM345.4 535.0h1.5v1.5h-1.5zM341.7 539.3h1.5v1.5h-1.5zM341.7 538.5h1.5v1.5h-1.5zM345.1 535.2h1.5v1.5h-1.5zM342.1 541.2h1.5v1.5h-1.5zM345.2 534.6h1.5v1.5h-1.5zM344.7 541.0h1.5v1.5h-1.5zM345.1 539.4h1.5v1.5h-1.5zM342.2 543.7h1.5v1.5h-1.5zM341.8 536.7h1.5v1.5h-1.5zM345.0 536.2h1.5v1.5h-1.5zM344.1 541.2h1.5v1.5h-1.5zM347.2 541.4h1.5v1.5h-1.5zM341.9 535.9h1.5v1.5h-1.5zM346.8 542.9h1.5v1.5h-1.5zM340.6 536.9h1.5v1.5h-1.5zM341.6 544.9h1.5v1.5h-1.5zM341.7 537.1h1.5v1.5h-1.5zM340.4 534.5h1.5v1.5h-1.5zM341.5 534.9h1.5v1.5h-1.5zM340.5 534.6h1.5v1.5h-1.5zM341.8 534.3h1.5v1.5h-1.5zM340.8 548.1h1.5v1.5h-1.5zM350.8 538.2h1.5v1.5h-1.5zM354.7 520.6h1.5v1.5h-1.5zM350.0 531.1h1.5v1.5h-1.5zM349.2 536.0h1.5v1.5h-1.5zM351.6 522.2h1.5v1.5h-1.5zM358.1 532.9h1.5v1.5h-1.5zM353.1 534.0h1.5v1.5h-1.5zM348.0 534.3h1.5v1.5h-1.5zM349.6 530.0h1.5v1.5h-1.5zM358.6 521.7h1.5v1.5h-1.5zM352.4 525.3h1.5v1.5h-1.5zM355.7 520.9h1.5v1.5h-1.5zM349.7 520.0h1.5v1.5h-1.5zM349.5 520.1h1.5v1.5h-1.5zM353.9 525.8h1.5v1.5h-1.5zM358.2 523.8h1.5v1.5h-1.5zM348.7 525.0h1.5v1.5h-1.5zM349.3 525.2h1.5v1.5h-1.5zM349.8 533.1h1.5v1.5h-1.5zM348.8 537.1h1.5v1.5h-1.5zM357.9 528.6h1.5v1.5h-1.5zM352.4 521.9h1.5v1.5h-1.5zM358.6 523.8h1.5v1.5h-1.5zM357.6 526.8h1.5v1.5h-1.5zM348.8 529.7h1.5v1.5h-1.5zM347.8 537.4h1.5v1.5h-1.5zM350.1 521.0h1.5v1.5h-1.5zM349.2 532.4h1.5v1.5h-1.5zM358.0 539.4h1.5v1.5h-1.5zM352.9 538.0h1.5v1.5h-1.5zM357.5 540.1h1.5v1.5h-1.5zM357.4 527.7h1.5v1.5h-1.5zM348.7 523.4h1.5v1.5h-1.5zM349.0 541.0h1.5v1.5h-1.5zM359.1 529.2h1.5v1.5h-1.5zM348.8 521.5h1.5v1.5h-1.5zM351.8 520.6h1.5v1.5h-1.5zM357.3 534.7h1.5v1.5h-1.5zM352.6 520.5h1.5v1.5h-1.5zM354.7 533.0h1.5v1.5h-1.5zM354.4 522.8h1.5v1.5h-1.5zM357.4 533.9h1.5v1.5h-1.5zM350.4 522.6h1.5v1.5h-1.5zM355.1 525.4h1.5v1.5h-1.5zM352.8 536.8h1.5v1.5h-1.5zM348.5 540.7h1.5v1.5h-1.5zM349.2 533.4h1.5v1.5h-1.5zM363.2 530.8h1.5v1.5h-1.5zM361.7 521.6h1.5v1.5h-1.5zM362.4 520.2h1.5v1.5h-1.5zM370.6 534.7h1.5v1.5h-1.5zM369.7 520.0h1.5v1.5h-1.5zM361.5 519.6h1.5v1.5h-1.5zM369.6 524.6h1.5v1.5h-1.5zM370.7 539.6h1.5v1.5h-1.5zM369.5 523.8h1.5v1.5h-1.5zM361.7 531.1h1.5v1.5h-1.5zM364.3 536.6h1.5v1.5h-1.5zM361.7 542.1h1.5v1.5h-1.5zM359.4 526.0h1.5v1.5h-1.5zM362.5 522.3h1.5v1.5h-1.5zM360.5 520.2h1.5v1.5h-1.5zM366.5 541.9h1.5v1.5h-1.5zM367.2 519.6h1.5v1.5h-1.5zM368.8 538.4h1.5v1.5h-1.5zM361.1 521.1h1.5v1.5h-1.5zM362.4 528.1h1.5v1.5h-1.5zM363.6 541.3h1.5v1.5h-1.5zM362.6 540.4h1.5v1.5h-1.5zM362.8 520.2h1.5v1.5h-1.5zM362.2 522.0h1.5v1.5h-1.5zM362.1 530.0h1.5v1.5h-1.5zM362.8 528.5h1.5v1.5h-1.5zM366.5 523.8h1.5v1.5h-1.5zM370.7 521.7h1.5v1.5h-1.5zM361.0 538.8h1.5v1.5h-1.5zM364.2 523.3h1.5v1.5h-1.5zM370.3 530.5h1.5v1.5h-1.5zM361.4 539.3h1.5v1.5h-1.5zM368.6 520.8h1.5v1.5h-1.5zM362.1 541.5h1.5v1.5h-1.5zM364.6 535.6h1.5v1.5h-1.5zM360.0 521.3h1.5v1.5h-1.5zM366.5 530.0h1.5v1.5h-1.5zM365.9 524.0h1.5v1.5h-1.5zM369.7 543.8h1.5v1.5h-1.5zM360.8 542.6h1.5v1.5h-1.5zM361.5 525.9h1.5v1.5h-1.5zM368.9 534.9h1.5v1.5h-1.5zM362.9 541.8h1.5v1.5h-1.5zM365.5 524.8h1.5v1.5h-1.5zM361.2 519.6h1.5v1.5h-1.5zM366.3 519.2h1.5v1.5h-1.5zM361.0 531.4h1.5v1.5h-1.5zM378.1 523.6h1.5v1.5h-1.5zM378.1 518.6h1.5v1.5h-1.5zM378.0 524.3h1.5v1.5h-1.5zM374.1 523.4h1.5v1.5h-1.5zM382.9 518.4h1.5v1.5h-1.5zM371.9 520.8h1.5v1.5h-1.5zM383.3 521.4h1.5v1.5h-1.5zM378.9 537.0h1.5v1.5h-1.5zM370.9 519.1h1.5v1.5h-1.5zM383.3 518.6h1.5v1.5h-1.5zM372.3 521.8h1.5v1.5h-1.5zM374.0 522.0h1.5v1.5h-1.5zM379.7 535.4h1.5v1.5h-1.5zM371.4 519.1h1.5v1.5h-1.5zM383.0 530.3h1.5v1.5h-1.5zM373.8 522.3h1.5v1.5h-1.5zM378.5 518.6h1.5v1.5h-1.5zM374.0 519.1h1.5v1.5h-1.5zM378.8 538.1h1.5v1.5h-1.5zM379.8 531.0h1.5v1.5h-1.5zM371.2 534.2h1.5v1.5h-1.5zM374.5 519.1h1.5v1.5h-1.5zM371.3 531.3h1.5v1.5h-1.5zM371.1 520.2h1.5v1.5h-1.5zM381.9 520.7h1.5v1.5h-1.5zM379.2 537.3h1.5v1.5h-1.5zM371.7 522.2h1.5v1.5h-1.5zM376.4 531.5h1.5v1.5h-1.5zM371.6 530.1h1.5v1.5h-1.5zM371.5 525.0h1.5v1.5h-1.5zM371.3 530.1h1.5v1.5h-1.5zM378.5 521.5h1.5v1.5h-1.5zM379.5 519.0h1.5v1.5h-1.5zM377.6 519.3h1.5v1.5h-1.5zM371.6 524.5h1.5v1.5h-1.5zM381.7 518.7h1.5v1.5h-1.5zM380.9 521.1h1.5v1.5h-1.5zM374.1 528.9h1.5v1.5h-1.5zM382.2 523.0h1.5v1.5h-1.5zM379.3 527.9h1.5v1.5h-1.5zM377.9 524.4h1.5v1.5h-1.5zM371.2 527.6h1.5v1.5h-1.5zM379.8 521.0h1.5v1.5h-1.5zM378.5 523.3h1.5v1.5h-1.5zM382.8 535.1h1.5v1.5h-1.5zM379.5 522.7h1.5v1.5h-1.5zM371.3 539.5h1.5v1.5h-1.5zM389.8 518.2h1.5v1.5h-1.5zM389.6 518.5h1.5v1.5h-1.5zM386.4 527.1h1.5v1.5h-1.5zM390.1 520.6h1.5v1.5h-1.5zM389.7 529.5h1.5v1.5h-1.5zM391.0 518.3h1.5v1.5h-1.5zM391.4 518.1h1.5v1.5h-1.5zM387.0 536.8h1.5v1.5h-1.5zM389.7 537.4h1.5v1.5h-1.5zM394.4 525.4h1.5v1.5h-1.5zM392.5 532.8h1.5v1.5h-1.5zM392.6 520.1h1.5v1.5h-1.5zM385.6 527.0h1.5v1.5h-1.5zM390.7 524.0h1.5v1.5h-1.5zM390.8 531.7h1.5v1.5h-1.5zM387.7 534.3h1.5v1.5h-1.5zM390.9 533.6h1.5v1.5h-1.5zM384.3 520.9h1.5v1.5h-1.5zM390.2 536.4h1.5v1.5h-1.5zM394.0 518.0h1.5v1.5h-1.5zM390.8 520.0h1.5v1.5h-1.5zM389.6 521.5h1.5v1.5h-1.5zM390.0 522.8h1.5v1.5h-1.5zM386.4 525.2h1.5v1.5h-1.5zM388.3 537.8h1.5v1.5h-1.5zM390.4 530.9h1.5v1.5h-1.5zM390.3 526.3h1.5v1.5h-1.5zM389.7 531.3h1.5v1.5h-1.5zM394.2 519.5h1.5v1.5h-1.5zM389.8 522.9h1.5v1.5h-1.5zM387.6 525.9h1.5v1.5h-1.5zM389.9 540.7h1.5v1.5h-1.5zM390.2 531.8h1.5v1.5h-1.5zM392.2 541.3h1.5v1.5h-1.5zM390.1 531.6h1.5v1.5h-1.5zM390.5 528.1h1.5v1.5h-1.5zM390.9 518.7h1.5v1.5h-1.5zM390.2 518.7h1.5v1.5h-1.5zM395.1 525.4h1.5v1.5h-1.5zM391.1 531.0h1.5v1.5h-1.5zM402.6 519.8h1.5v1.5h-1.5zM398.0 530.8h1.5v1.5h-1.5zM400.0 520.0h1.5v1.5h-1.5zM404.2 523.7h1.5v1.5h-1.5zM402.9 521.3h1.5v1.5h-1.5zM403.5 525.7h1.5v1.5h-1.5zM404.0 535.0h1.5v1.5h-1.5zM399.9 518.2h1.5v1.5h-1.5zM402.1 524.3h1.5v1.5h-1.5zM402.9 518.0h1.5v1.5h-1.5zM398.8 523.1h1.5v1.5h-1.5zM400.7 544.4h1.5v1.5h-1.5zM400.8 523.0h1.5v1.5h-1.5zM400.4 522.8h1.5v1.5h-1.5zM400.0 542.5h1.5v1.5h-1.5zM398.0 518.2h1.5v1.5h-1.5zM402.6 527.5h1.5v1.5h-1.5zM403.6 538.2h1.5v1.5h-1.5zM398.0 522.1h1.5v1.5h-1.5zM400.5 529.6h1.5v1.5h-1.5zM400.0 540.1h1.5v1.5h-1.5zM398.3 531.2h1.5v1.5h-1.5zM401.7 517.6h1.5v1.5h-1.5zM395.9 525.1h1.5v1.5h-1.5zM402.8 518.8h1.5v1.5h-1.5zM395.8 539.3h1.5v1.5h-1.5zM398.2 531.7h1.5v1.5h-1.5zM402.8 542.2h1.5v1.5h-1.5zM399.3 530.1h1.5v1.5h-1.5zM403.5 518.4h1.5v1.5h-1.5zM402.8 536.8h1.5v1.5h-1.5zM399.9 525.4h1.5v1.5h-1.5zM402.7 519.5h1.5v1.5h-1.5zM406.2 517.4h1.5v1.5h-1.5zM405.9 519.8h1.5v1.5h-1.5zM406.4 522.1h1.5v1.5h-1.5zM405.7 523.3h1.5v1.5h-1.5zM406.0 522.4h1.5v1.5h-1.5zM405.9 518.3h1.5v1.5h-1.5zM406.2 539.3h1.5v1.5h-1.5zM405.5 537.8h1.5v1.5h-1.5zM406.3 547.7h1.5v1.5h-1.5zM406.6 544.5h1.5v1.5h-1.5zM406.2 539.3h1.5v1.5h-1.5zM406.2 525.1h1.5v1.5h-1.5zM406.0 517.4h1.5v1.5h-1.5z" fill="#3d86c6"/>
<text font-size="7.0" text-anchor="start" fill="#1a1a1a" stroke="#1a1a1a" stroke-width="0.221" transform="translate(334.60 505.30) scale(1 1.04)">PRKG1, chr10+</text>
<rect x="294.30" y="496.90" width="131.40" height="53.60" fill="none" stroke="#222" stroke-width="1.2"/>
<line x1="288.50" y1="550.50" x2="294.30" y2="550.50" stroke="#222" stroke-width="1.1"/>
<line x1="288.50" y1="537.75" x2="294.30" y2="537.75" stroke="#222" stroke-width="1.1"/>
<line x1="288.50" y1="525.00" x2="294.30" y2="525.00" stroke="#222" stroke-width="1.1"/>
<line x1="288.50" y1="512.25" x2="294.30" y2="512.25" stroke="#222" stroke-width="1.1"/>
<line x1="288.50" y1="499.50" x2="294.30" y2="499.50" stroke="#222" stroke-width="1.1"/>
<text font-size="8.7" text-anchor="middle" fill="#333" stroke="#333" stroke-width="0.275" transform="translate(281.74 550.50) rotate(-90) scale(1 1.04)">0</text>
<text font-size="8.7" text-anchor="middle" fill="#333" stroke="#333" stroke-width="0.275" transform="translate(281.74 537.75) rotate(-90) scale(1 1.04)">5</text>
<text font-size="8.7" text-anchor="middle" fill="#333" stroke="#333" stroke-width="0.275" transform="translate(281.74 512.25) rotate(-90) scale(1 1.04)">15</text>
<text font-size="8.7" text-anchor="middle" fill="#1a1a1a" stroke="#1a1a1a" stroke-width="0.275" transform="translate(260.94 523.70) rotate(-90) scale(1 1.04)">Coverage (K)</text>
<line x1="298.00" y1="550.50" x2="298.00" y2="556.30" stroke="#222" stroke-width="1.1"/>
<line x1="316.80" y1="550.50" x2="316.80" y2="556.30" stroke="#222" stroke-width="1.1"/>
<line x1="335.60" y1="550.50" x2="335.60" y2="556.30" stroke="#222" stroke-width="1.1"/>
<line x1="354.40" y1="550.50" x2="354.40" y2="556.30" stroke="#222" stroke-width="1.1"/>
<line x1="373.20" y1="550.50" x2="373.20" y2="556.30" stroke="#222" stroke-width="1.1"/>
<line x1="392.00" y1="550.50" x2="392.00" y2="556.30" stroke="#222" stroke-width="1.1"/>
<line x1="410.80" y1="550.50" x2="410.80" y2="556.30" stroke="#222" stroke-width="1.1"/>
<text font-size="8.8" text-anchor="middle" fill="#333" stroke="#333" stroke-width="0.278" transform="translate(298.00 569.10) scale(1 1.04)">51.50</text>
<text font-size="8.8" text-anchor="middle" fill="#333" stroke="#333" stroke-width="0.278" transform="translate(335.60 569.10) scale(1 1.04)">51.60</text>
<text font-size="8.8" text-anchor="middle" fill="#333" stroke="#333" stroke-width="0.278" transform="translate(373.20 569.10) scale(1 1.04)">51.70</text>
<text font-size="8.8" text-anchor="middle" fill="#333" stroke="#333" stroke-width="0.278" transform="translate(410.80 569.10) scale(1 1.04)">51.80</text>
<text font-size="8.5" text-anchor="middle" fill="#1a1a1a" stroke="#1a1a1a" stroke-width="0.268" transform="translate(359.80 589.90) scale(1 1.04)">Coordinate (Mbp)</text>
<text font-size="15.5" text-anchor="start" fill="#1a1a1a" stroke="#1a1a1a" stroke-width="0.3" transform="translate(460.80 328.20) scale(1 1.04)">I</text>
<rect x="546.00" y="344.90" width="93.60" height="52.20" fill="#e4e4e4" stroke="none" stroke-width="1"/>
<polyline points="546.90,377.30 548.80,378.40 550.60,377.30 552.40,377.90 554.60,372.40 556.80,370.60 558.60,374.20 560.40,379.70 562.30,377.90 564.10,369.70 566.10,365.10 568.30,366.00 570.10,370.60 572.50,372.40 574.30,376.60 576.10,373.30 578.70,366.90 581.10,374.80 582.90,372.40 584.70,368.20 586.50,374.80 588.40,370.60 590.20,377.90 591.60,353.20 592.90,351.40 594.40,355.10 596.60,367.80 598.00,370.00 599.90,369.70 601.70,374.20 603.50,376.10 605.30,371.50 607.50,382.80 609.00,380.60 611.20,372.40 613.00,376.60 614.80,381.00 617.00,382.10 618.80,385.20 620.70,382.10 622.50,383.90 624.30,382.80 626.10,382.80 628.30,389.40 630.10,383.40 632.20,385.20 634.00,387.00 635.80,387.90 637.60,381.50" fill="none" stroke="#3b82c4" stroke-width="1.3" stroke-linejoin="round"/>
<text font-size="7.2" text-anchor="start" fill="#1a1a1a" stroke="#1a1a1a" stroke-width="0.227" transform="translate(569.60 352.90) scale(1 1.04)">NEGR1, chr1-</text>
<rect x="526.90" y="343.40" width="132.10" height="53.70" fill="none" stroke="#222" stroke-width="1.2"/>
<line x1="521.30" y1="397.10" x2="526.90" y2="397.10" stroke="#222" stroke-width="1.1"/>
<line x1="521.30" y1="386.36" x2="526.90" y2="386.36" stroke="#222" stroke-width="1.1"/>
<line x1="521.30" y1="375.62" x2="526.90" y2="375.62" stroke="#222" stroke-width="1.1"/>
<line x1="521.30" y1="364.88" x2="526.90" y2="364.88" stroke="#222" stroke-width="1.1"/>
<line x1="521.30" y1="354.14" x2="526.90" y2="354.14" stroke="#222" stroke-width="1.1"/>
<line x1="521.30" y1="343.40" x2="526.90" y2="343.40" stroke="#222" stroke-width="1.1"/>
<text font-size="8.7" text-anchor="middle" fill="#333" stroke="#333" stroke-width="0.275" transform="translate(513.64 397.10) rotate(-90) scale(1 1.04)">0.00</text>
<text font-size="8.7" text-anchor="middle" fill="#333" stroke="#333" stroke-width="0.275" transform="translate(513.64 364.88) rotate(-90) scale(1 1.04)">0.03</text>
<text font-size="8.7" text-anchor="middle" fill="#1a1a1a" stroke="#1a1a1a" stroke-width="0.275" transform="translate(493.84 370.25) rotate(-90) scale(1 1.04)">Frequency</text>
<line x1="539.70" y1="397.10" x2="539.70" y2="402.90" stroke="#222" stroke-width="1.1"/>
<line x1="558.57" y1="397.10" x2="558.57" y2="402.90" stroke="#222" stroke-width="1.1"/>
<line x1="577.44" y1="397.10" x2="577.44" y2="402.90" stroke="#222" stroke-width="1.1"/>
<line x1="596.31" y1="397.10" x2="596.31" y2="402.90" stroke="#222" stroke-width="1.1"/>
<line x1="615.18" y1="397.10" x2="615.18" y2="402.90" stroke="#222" stroke-width="1.1"/>
<line x1="634.05" y1="397.10" x2="634.05" y2="402.90" stroke="#222" stroke-width="1.1"/>
<line x1="652.92" y1="397.10" x2="652.92" y2="402.90" stroke="#222" stroke-width="1.1"/>
<text font-size="8.8" text-anchor="middle" fill="#333" stroke="#333" stroke-width="0.278" transform="translate(539.70 415.60) scale(1 1.04)">71.95</text>
<text font-size="8.8" text-anchor="middle" fill="#333" stroke="#333" stroke-width="0.278" transform="translate(577.44 415.60) scale(1 1.04)">71.85</text>
<text font-size="8.8" text-anchor="middle" fill="#333" stroke="#333" stroke-width="0.278" transform="translate(615.18 415.60) scale(1 1.04)">71.75</text>
<text font-size="8.8" text-anchor="middle" fill="#333" stroke="#333" stroke-width="0.278" transform="translate(652.92 415.60) scale(1 1.04)">71.65</text>
<rect x="546.00" y="421.80" width="93.60" height="52.20" fill="#e4e4e4" stroke="none" stroke-width="1"/>
<polyline points="545.50,451.20 547.70,448.50 550.00,445.80 552.80,443.40 555.00,454.30 557.00,434.80 558.80,437.50 561.00,466.70 562.80,439.40 564.60,446.70" fill="none" stroke="#3b82c4" stroke-width="1.3" stroke-linejoin="round"/>
<polyline points="568.30,451.20 570.10,438.50 572.50,441.20 575.00,440.30 577.80,450.30 580.10,430.20 582.00,434.80 583.80,451.20 585.30,450.30 587.40,463.10 590.20,444.80 592.90,437.50 594.40,443.90 596.60,458.50 598.80,435.70 600.60,460.40 602.40,460.40 604.20,450.30 606.10,454.90 607.90,465.80 609.70,458.50 611.50,460.90 613.90,464.00 616.60,458.50 618.80,466.70 621.20,451.20 623.00,464.90 625.40,462.20 627.60,461.30 629.10,464.00 630.90,469.50 633.10,465.80 636.40,459.40 638.20,466.70 640.40,467.70" fill="none" stroke="#3b82c4" stroke-width="1.3" stroke-linejoin="round"/>
<text font-size="7.2" text-anchor="start" fill="#1a1a1a" stroke="#1a1a1a" stroke-width="0.227" transform="translate(571.40 429.30) scale(1 1.04)">MAGI2, chr7-</text>
<rect x="526.90" y="420.30" width="132.10" height="53.70" fill="none" stroke="#222" stroke-width="1.2"/>
<line x1="521.30" y1="474.00" x2="526.90" y2="474.00" stroke="#222" stroke-width="1.1"/>
<line x1="521.30" y1="463.26" x2="526.90" y2="463.26" stroke="#222" stroke-width="1.1"/>
<line x1="521.30" y1="452.52" x2="526.90" y2="452.52" stroke="#222" stroke-width="1.1"/>
<line x1="521.30" y1="441.78" x2="526.90" y2="441.78" stroke="#222" stroke-width="1.1"/>
<line x1="521.30" y1="431.04" x2="526.90" y2="431.04" stroke="#222" stroke-width="1.1"/>
<line x1="521.30" y1="420.30" x2="526.90" y2="420.30" stroke="#222" stroke-width="1.1"/>
<text font-size="8.7" text-anchor="middle" fill="#333" stroke="#333" stroke-width="0.275" transform="translate(513.64 474.00) rotate(-90) scale(1 1.04)">0.00</text>
<text font-size="8.7" text-anchor="middle" fill="#333" stroke="#333" stroke-width="0.275" transform="translate(513.64 441.78) rotate(-90) scale(1 1.04)">0.03</text>
<text font-size="8.7" text-anchor="middle" fill="#1a1a1a" stroke="#1a1a1a" stroke-width="0.275" transform="translate(493.84 447.15) rotate(-90) scale(1 1.04)">Frequency</text>
<line x1="530.40" y1="474.00" x2="530.40" y2="479.80" stroke="#222" stroke-width="1.1"/>
<line x1="549.27" y1="474.00" x2="549.27" y2="479.80" stroke="#222" stroke-width="1.1"/>
<line x1="568.14" y1="474.00" x2="568.14" y2="479.80" stroke="#222" stroke-width="1.1"/>
<line x1="587.01" y1="474.00" x2="587.01" y2="479.80" stroke="#222" stroke-width="1.1"/>
<line x1="605.88" y1="474.00" x2="605.88" y2="479.80" stroke="#222" stroke-width="1.1"/>
<line x1="624.75" y1="474.00" x2="624.75" y2="479.80" stroke="#222" stroke-width="1.1"/>
<line x1="643.62" y1="474.00" x2="643.62" y2="479.80" stroke="#222" stroke-width="1.1"/>
<text font-size="8.8" text-anchor="middle" fill="#333" stroke="#333" stroke-width="0.278" transform="translate(530.40 492.50) scale(1 1.04)">78.75</text>
<text font-size="8.8" text-anchor="middle" fill="#333" stroke="#333" stroke-width="0.278" transform="translate(568.14 492.50) scale(1 1.04)">78.65</text>
<text font-size="8.8" text-anchor="middle" fill="#333" stroke="#333" stroke-width="0.278" transform="translate(605.88 492.50) scale(1 1.04)">78.55</text>
<text font-size="8.8" text-anchor="middle" fill="#333" stroke="#333" stroke-width="0.278" transform="translate(643.62 492.50) scale(1 1.04)">78.45</text>
<rect x="546.00" y="498.50" width="93.60" height="52.10" fill="#e4e4e4" stroke="none" stroke-width="1"/>
<polyline points="546.90,516.50 548.80,521.00 550.60,518.80 552.80,528.70 555.00,515.50 556.80,517.40 558.60,525.00 561.00,517.40 562.80,517.70 565.50,526.50 567.70,532.30 570.10,528.70 572.50,527.40 574.30,528.00 575.60,523.80 577.80,535.60 579.80,526.50 581.60,518.30 583.40,524.70 585.30,530.10 587.40,519.20 589.30,527.40 591.10,528.30 592.90,522.50 594.70,522.80 596.60,529.20 598.40,522.80 601.70,527.40 603.90,533.40 605.70,532.30 607.90,529.80 609.70,534.20 612.60,531.60 615.20,535.60 618.50,532.30 621.20,534.70 623.00,537.80 624.50,545.10 626.70,530.50" fill="none" stroke="#3b82c4" stroke-width="1.3" stroke-linejoin="round"/>
<polyline points="630.30,539.60 632.20,537.80 634.00,545.70 636.40,534.70 638.50,537.40" fill="none" stroke="#3b82c4" stroke-width="1.3" stroke-linejoin="round"/>
<text font-size="7.2" text-anchor="start" fill="#1a1a1a" stroke="#1a1a1a" stroke-width="0.227" transform="translate(567.70 506.00) scale(1 1.04)">PRKG1, chr10+</text>
<rect x="526.90" y="497.00" width="132.10" height="53.60" fill="none" stroke="#222" stroke-width="1.2"/>
<line x1="521.30" y1="550.60" x2="526.90" y2="550.60" stroke="#222" stroke-width="1.1"/>
<line x1="521.30" y1="539.88" x2="526.90" y2="539.88" stroke="#222" stroke-width="1.1"/>
<line x1="521.30" y1="529.16" x2="526.90" y2="529.16" stroke="#222" stroke-width="1.1"/>
<line x1="521.30" y1="518.44" x2="526.90" y2="518.44" stroke="#222" stroke-width="1.1"/>
<line x1="521.30" y1="507.72" x2="526.90" y2="507.72" stroke="#222" stroke-width="1.1"/>
<line x1="521.30" y1="497.00" x2="526.90" y2="497.00" stroke="#222" stroke-width="1.1"/>
<text font-size="8.7" text-anchor="middle" fill="#333" stroke="#333" stroke-width="0.275" transform="translate(513.64 550.60) rotate(-90) scale(1 1.04)">0.00</text>
<text font-size="8.7" text-anchor="middle" fill="#333" stroke="#333" stroke-width="0.275" transform="translate(513.64 518.44) rotate(-90) scale(1 1.04)">0.03</text>
<text font-size="8.7" text-anchor="middle" fill="#1a1a1a" stroke="#1a1a1a" stroke-width="0.275" transform="translate(493.84 523.80) rotate(-90) scale(1 1.04)">Frequency</text>
<line x1="530.40" y1="550.60" x2="530.40" y2="556.40" stroke="#222" stroke-width="1.1"/>
<line x1="549.27" y1="550.60" x2="549.27" y2="556.40" stroke="#222" stroke-width="1.1"/>
<line x1="568.14" y1="550.60" x2="568.14" y2="556.40" stroke="#222" stroke-width="1.1"/>
<line x1="587.01" y1="550.60" x2="587.01" y2="556.40" stroke="#222" stroke-width="1.1"/>
<line x1="605.88" y1="550.60" x2="605.88" y2="556.40" stroke="#222" stroke-width="1.1"/>
<line x1="624.75" y1="550.60" x2="624.75" y2="556.40" stroke="#222" stroke-width="1.1"/>
<line x1="643.62" y1="550.60" x2="643.62" y2="556.40" stroke="#222" stroke-width="1.1"/>
<text font-size="8.8" text-anchor="middle" fill="#333" stroke="#333" stroke-width="0.278" transform="translate(530.40 569.40) scale(1 1.04)">51.50</text>
<text font-size="8.8" text-anchor="middle" fill="#333" stroke="#333" stroke-width="0.278" transform="translate(568.14 569.40) scale(1 1.04)">51.60</text>
<text font-size="8.8" text-anchor="middle" fill="#333" stroke="#333" stroke-width="0.278" transform="translate(605.88 569.40) scale(1 1.04)">51.70</text>
<text font-size="8.8" text-anchor="middle" fill="#333" stroke="#333" stroke-width="0.278" transform="translate(643.62 569.40) scale(1 1.04)">51.80</text>
<text font-size="8.5" text-anchor="middle" fill="#1a1a1a" stroke="#1a1a1a" stroke-width="0.268" transform="translate(592.50 590.20) scale(1 1.04)">SV Endpoint Coordinate (Mbp)</text>
<line x1="449.60" y1="444.90" x2="462.00" y2="444.90" stroke="#111" stroke-width="2.0"/>
<line x1="449.60" y1="450.70" x2="462.00" y2="450.70" stroke="#111" stroke-width="2.0"/>
<line x1="223.80" y1="438.70" x2="218.20" y2="456.40" stroke="#111" stroke-width="1.9"/>
</svg></body></html>
